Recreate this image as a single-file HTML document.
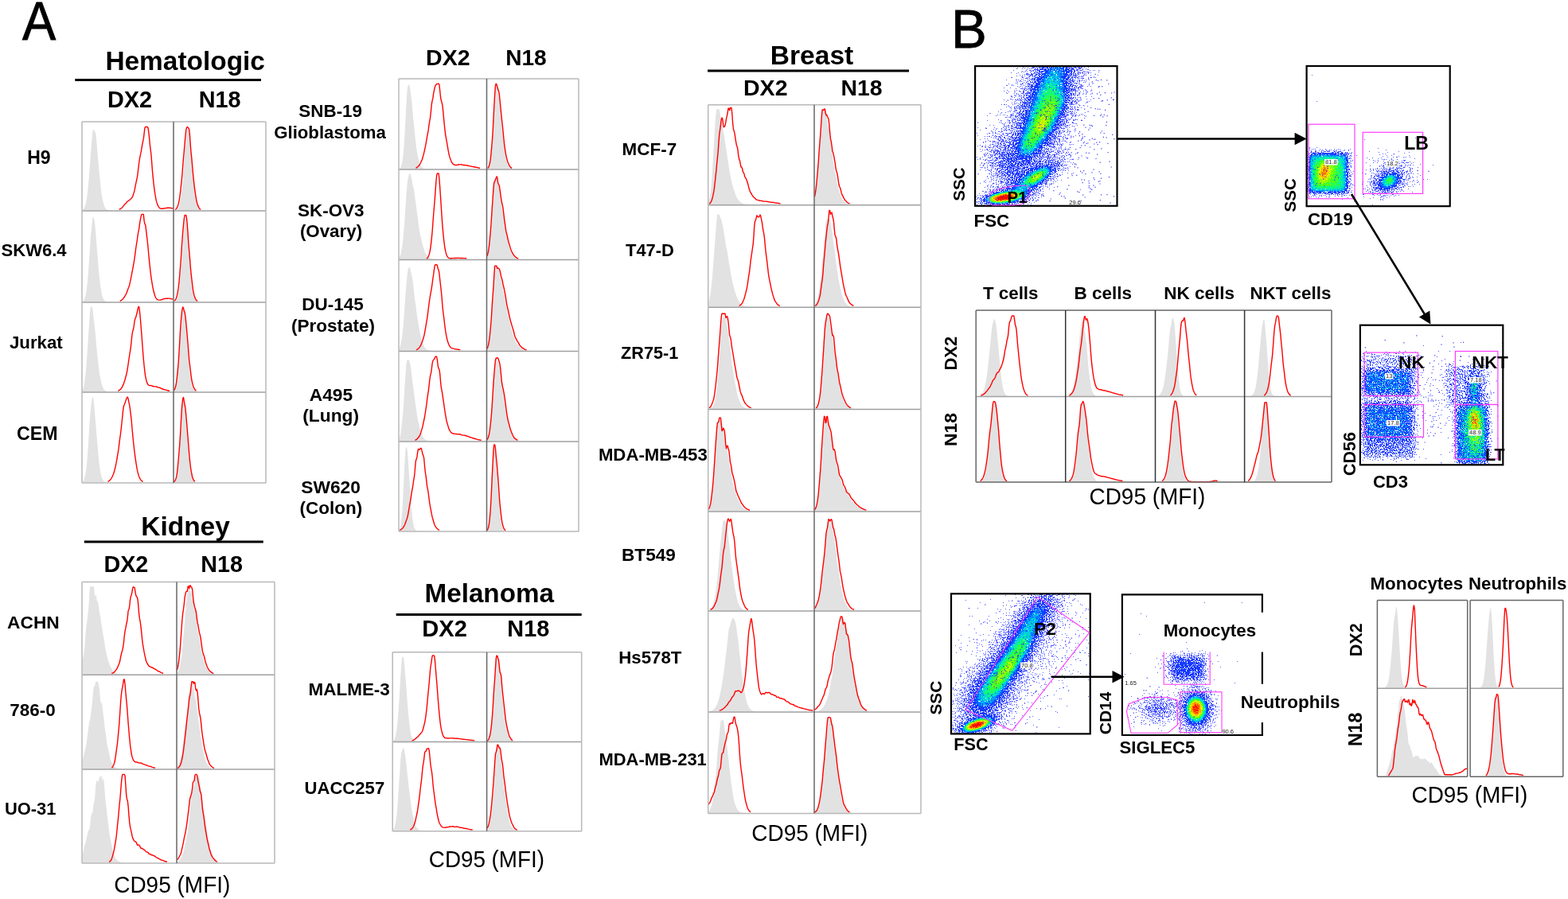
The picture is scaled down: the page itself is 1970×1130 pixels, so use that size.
<!DOCTYPE html>
<html><head><meta charset="utf-8"><style>
html,body{margin:0;padding:0;background:#fff;}
svg{display:block;font-family:"Liberation Sans",Arial,sans-serif;}
</style></head><body>
<svg width="1970" height="1130" viewBox="0 0 1970 1130">
<defs><radialGradient id="gg"><stop offset="0.00" stop-color="#fff" stop-opacity="1.000"/><stop offset="0.10" stop-color="#fff" stop-opacity="0.956"/><stop offset="0.20" stop-color="#fff" stop-opacity="0.835"/><stop offset="0.30" stop-color="#fff" stop-opacity="0.667"/><stop offset="0.40" stop-color="#fff" stop-opacity="0.487"/><stop offset="0.50" stop-color="#fff" stop-opacity="0.325"/><stop offset="0.60" stop-color="#fff" stop-opacity="0.198"/><stop offset="0.70" stop-color="#fff" stop-opacity="0.110"/><stop offset="0.80" stop-color="#fff" stop-opacity="0.056"/><stop offset="0.90" stop-color="#fff" stop-opacity="0.026"/><stop offset="1.00" stop-color="#fff" stop-opacity="0.011"/></radialGradient><filter id="cm1" x="1226.2" y="84.2" width="176.20000000000005" height="173.5" filterUnits="userSpaceOnUse" color-interpolation-filters="sRGB">
<feTurbulence type="fractalNoise" baseFrequency="0.7" numOctaves="2" seed="2" result="n"/>
<feColorMatrix in="n" type="matrix" values="1 0 0 0 0 1 0 0 0 0 1 0 0 0 0 0 0 0 0 1" result="n1"/>
<feComponentTransfer in="n1" result="v"><feFuncR type="table" tableValues="1.000 1.000 1.000 1.000 1.000 1.000 1.000 1.000 1.000 1.000 1.000 1.000 1.000 1.000 1.000 1.000 0.999 0.999 0.999 0.998 0.997 0.996 0.994 0.992 0.989 0.986 0.981 0.977 0.970 0.964 0.953 0.941 0.933 0.918 0.908 0.890 0.878 0.857 0.842 0.818 0.792 0.774 0.745 0.725 0.691 0.669 0.633 0.608 0.570 0.543 0.511 0.454 0.428 0.389 0.365 0.329 0.305 0.273 0.254 0.224 0.198 0.181 0.158 0.144 0.124 0.112 0.095 0.084 0.070 0.061 0.049 0.039 0.033 0.025 0.021 0.015 0.012 0.009 0.007 0.005 0.003 0.002 0.002 0.001 0.001 0.001 0.000 0.000 0.000 0.000 0.000 0.000 0.000 0.000 0.000 0.000 0.000 0.000 0.000 0.000 0.000"/><feFuncG type="table" tableValues="1.000 1.000 1.000 1.000 1.000 1.000 1.000 1.000 1.000 1.000 1.000 1.000 1.000 1.000 1.000 1.000 0.999 0.999 0.999 0.998 0.997 0.996 0.994 0.992 0.989 0.986 0.981 0.977 0.970 0.964 0.953 0.941 0.933 0.918 0.908 0.890 0.878 0.857 0.842 0.818 0.792 0.774 0.745 0.725 0.691 0.669 0.633 0.608 0.570 0.543 0.511 0.454 0.428 0.389 0.365 0.329 0.305 0.273 0.254 0.224 0.198 0.181 0.158 0.144 0.124 0.112 0.095 0.084 0.070 0.061 0.049 0.039 0.033 0.025 0.021 0.015 0.012 0.009 0.007 0.005 0.003 0.002 0.002 0.001 0.001 0.001 0.000 0.000 0.000 0.000 0.000 0.000 0.000 0.000 0.000 0.000 0.000 0.000 0.000 0.000 0.000"/><feFuncB type="table" tableValues="1.000 1.000 1.000 1.000 1.000 1.000 1.000 1.000 1.000 1.000 1.000 1.000 1.000 1.000 1.000 1.000 0.999 0.999 0.999 0.998 0.997 0.996 0.994 0.992 0.989 0.986 0.981 0.977 0.970 0.964 0.953 0.941 0.933 0.918 0.908 0.890 0.878 0.857 0.842 0.818 0.792 0.774 0.745 0.725 0.691 0.669 0.633 0.608 0.570 0.543 0.511 0.454 0.428 0.389 0.365 0.329 0.305 0.273 0.254 0.224 0.198 0.181 0.158 0.144 0.124 0.112 0.095 0.084 0.070 0.061 0.049 0.039 0.033 0.025 0.021 0.015 0.012 0.009 0.007 0.005 0.003 0.002 0.002 0.001 0.001 0.001 0.000 0.000 0.000 0.000 0.000 0.000 0.000 0.000 0.000 0.000 0.000 0.000 0.000 0.000 0.000"/></feComponentTransfer>
<feComponentTransfer in="SourceGraphic" result="A"><feFuncR type="table" tableValues="0.000 0.025 0.050 0.077 0.103 0.130 0.156 0.182 0.208 0.234 0.260 0.282 0.304 0.326 0.348 0.370 0.392 0.414 0.436 0.458 0.480 0.502 0.524 0.546 0.568 0.590 0.612 0.634 0.656 0.678 0.700 0.718 0.736 0.754 0.772 0.790 0.808 0.826 0.844 0.862 0.880 0.889 0.898 0.907 0.916 0.925 0.934 0.943 0.952 0.961 0.970 0.973 0.976 0.979 0.982 0.985 0.988 0.991 0.994 0.997 1.000 1.000 1.000 1.000 1.000 1.000 1.000 1.000 1.000 1.000 1.000 1.000 1.000 1.000 1.000 1.000 1.000 1.000 1.000 1.000 1.000 1.000 1.000 1.000 1.000 1.000 1.000 1.000 1.000 1.000 1.000 1.000 1.000 1.000 1.000 1.000 1.000 1.000 1.000 1.000 1.000"/><feFuncG type="table" tableValues="0.000 0.025 0.050 0.077 0.103 0.130 0.156 0.182 0.208 0.234 0.260 0.282 0.304 0.326 0.348 0.370 0.392 0.414 0.436 0.458 0.480 0.502 0.524 0.546 0.568 0.590 0.612 0.634 0.656 0.678 0.700 0.718 0.736 0.754 0.772 0.790 0.808 0.826 0.844 0.862 0.880 0.889 0.898 0.907 0.916 0.925 0.934 0.943 0.952 0.961 0.970 0.973 0.976 0.979 0.982 0.985 0.988 0.991 0.994 0.997 1.000 1.000 1.000 1.000 1.000 1.000 1.000 1.000 1.000 1.000 1.000 1.000 1.000 1.000 1.000 1.000 1.000 1.000 1.000 1.000 1.000 1.000 1.000 1.000 1.000 1.000 1.000 1.000 1.000 1.000 1.000 1.000 1.000 1.000 1.000 1.000 1.000 1.000 1.000 1.000 1.000"/><feFuncB type="table" tableValues="0.000 0.025 0.050 0.077 0.103 0.130 0.156 0.182 0.208 0.234 0.260 0.282 0.304 0.326 0.348 0.370 0.392 0.414 0.436 0.458 0.480 0.502 0.524 0.546 0.568 0.590 0.612 0.634 0.656 0.678 0.700 0.718 0.736 0.754 0.772 0.790 0.808 0.826 0.844 0.862 0.880 0.889 0.898 0.907 0.916 0.925 0.934 0.943 0.952 0.961 0.970 0.973 0.976 0.979 0.982 0.985 0.988 0.991 0.994 0.997 1.000 1.000 1.000 1.000 1.000 1.000 1.000 1.000 1.000 1.000 1.000 1.000 1.000 1.000 1.000 1.000 1.000 1.000 1.000 1.000 1.000 1.000 1.000 1.000 1.000 1.000 1.000 1.000 1.000 1.000 1.000 1.000 1.000 1.000 1.000 1.000 1.000 1.000 1.000 1.000 1.000"/></feComponentTransfer>
<feComposite in="A" in2="v" operator="arithmetic" k1="0" k2="0.5" k3="0.5" k4="0" result="B"/>
<feComponentTransfer in="B" result="S"><feFuncR type="discrete" tableValues="0 1"/><feFuncG type="discrete" tableValues="0 1"/><feFuncB type="discrete" tableValues="0 1"/></feComponentTransfer>
<feComposite in="SourceGraphic" in2="v" operator="arithmetic" k1="0" k2="0.85" k3="0.1" k4="0.05" result="dc"/>
<feComposite in="S" in2="dc" operator="arithmetic" k1="1" k2="0" k3="0" k4="0" result="dd"/>
<feComponentTransfer in="dd"><feFuncR type="table" tableValues="1.000 0.710 0.420 0.415 0.410 0.404 0.399 0.394 0.389 0.383 0.378 0.373 0.368 0.363 0.357 0.352 0.347 0.342 0.337 0.331 0.326 0.321 0.316 0.310 0.305 0.300 0.288 0.275 0.263 0.250 0.238 0.225 0.213 0.200 0.188 0.175 0.163 0.150 0.138 0.125 0.113 0.100 0.088 0.075 0.063 0.050 0.044 0.038 0.031 0.025 0.019 0.013 0.006 0.000 0.000 0.000 0.000 0.000 0.000 0.000 0.000 0.043 0.086 0.129 0.171 0.214 0.257 0.300 0.387 0.475 0.562 0.650 0.737 0.825 0.912 1.000 1.000 1.000 1.000 1.000 1.000 1.000 1.000 1.000 1.000 1.000 1.000 1.000 1.000 1.000 1.000 0.990 0.980 0.970 0.960 0.950 0.940 0.930 0.920 0.910 0.900"/><feFuncG type="table" tableValues="1.000 0.735 0.470 0.465 0.460 0.454 0.449 0.444 0.439 0.433 0.428 0.423 0.418 0.413 0.407 0.402 0.397 0.392 0.387 0.381 0.376 0.371 0.366 0.360 0.355 0.350 0.343 0.335 0.328 0.320 0.313 0.305 0.298 0.290 0.283 0.275 0.268 0.260 0.253 0.245 0.238 0.230 0.223 0.215 0.208 0.200 0.269 0.337 0.406 0.475 0.544 0.612 0.681 0.750 0.786 0.821 0.857 0.893 0.929 0.964 1.000 1.000 1.000 1.000 1.000 1.000 1.000 1.000 1.000 1.000 1.000 1.000 1.000 1.000 1.000 1.000 0.938 0.875 0.813 0.750 0.688 0.625 0.563 0.500 0.429 0.357 0.286 0.214 0.143 0.071 0.000 0.000 0.000 0.000 0.000 0.000 0.000 0.000 0.000 0.000 0.000"/><feFuncB type="table" tableValues="1.000 1.000 1.000 1.000 1.000 1.000 1.000 1.000 1.000 1.000 1.000 1.000 1.000 1.000 1.000 1.000 1.000 1.000 1.000 1.000 1.000 1.000 1.000 1.000 1.000 1.000 1.000 1.000 1.000 1.000 1.000 1.000 1.000 1.000 1.000 1.000 1.000 1.000 1.000 1.000 1.000 1.000 1.000 1.000 1.000 1.000 1.000 1.000 1.000 1.000 1.000 1.000 1.000 1.000 0.943 0.886 0.829 0.771 0.714 0.657 0.600 0.514 0.429 0.343 0.257 0.171 0.086 0.000 0.000 0.000 0.000 0.000 0.000 0.000 0.000 0.000 0.000 0.000 0.000 0.000 0.000 0.000 0.000 0.000 0.000 0.000 0.000 0.000 0.000 0.000 0.000 0.000 0.000 0.000 0.000 0.000 0.000 0.000 0.000 0.000 0.000"/><feFuncA type="linear" slope="0" intercept="1"/></feComponentTransfer>
</filter><filter id="cm2" x="1642.7" y="84.1" width="177.89999999999986" height="174.00000000000003" filterUnits="userSpaceOnUse" color-interpolation-filters="sRGB">
<feTurbulence type="fractalNoise" baseFrequency="0.7" numOctaves="2" seed="4" result="n"/>
<feColorMatrix in="n" type="matrix" values="1 0 0 0 0 1 0 0 0 0 1 0 0 0 0 0 0 0 0 1" result="n1"/>
<feComponentTransfer in="n1" result="v"><feFuncR type="table" tableValues="1.000 1.000 1.000 1.000 1.000 1.000 1.000 1.000 1.000 1.000 1.000 1.000 1.000 1.000 1.000 1.000 0.999 0.999 0.999 0.998 0.997 0.996 0.994 0.992 0.989 0.986 0.981 0.977 0.970 0.964 0.953 0.941 0.933 0.918 0.908 0.890 0.878 0.857 0.842 0.818 0.792 0.774 0.745 0.725 0.691 0.669 0.633 0.608 0.570 0.543 0.511 0.454 0.428 0.389 0.365 0.329 0.305 0.273 0.254 0.224 0.198 0.181 0.158 0.144 0.124 0.112 0.095 0.084 0.070 0.061 0.049 0.039 0.033 0.025 0.021 0.015 0.012 0.009 0.007 0.005 0.003 0.002 0.002 0.001 0.001 0.001 0.000 0.000 0.000 0.000 0.000 0.000 0.000 0.000 0.000 0.000 0.000 0.000 0.000 0.000 0.000"/><feFuncG type="table" tableValues="1.000 1.000 1.000 1.000 1.000 1.000 1.000 1.000 1.000 1.000 1.000 1.000 1.000 1.000 1.000 1.000 0.999 0.999 0.999 0.998 0.997 0.996 0.994 0.992 0.989 0.986 0.981 0.977 0.970 0.964 0.953 0.941 0.933 0.918 0.908 0.890 0.878 0.857 0.842 0.818 0.792 0.774 0.745 0.725 0.691 0.669 0.633 0.608 0.570 0.543 0.511 0.454 0.428 0.389 0.365 0.329 0.305 0.273 0.254 0.224 0.198 0.181 0.158 0.144 0.124 0.112 0.095 0.084 0.070 0.061 0.049 0.039 0.033 0.025 0.021 0.015 0.012 0.009 0.007 0.005 0.003 0.002 0.002 0.001 0.001 0.001 0.000 0.000 0.000 0.000 0.000 0.000 0.000 0.000 0.000 0.000 0.000 0.000 0.000 0.000 0.000"/><feFuncB type="table" tableValues="1.000 1.000 1.000 1.000 1.000 1.000 1.000 1.000 1.000 1.000 1.000 1.000 1.000 1.000 1.000 1.000 0.999 0.999 0.999 0.998 0.997 0.996 0.994 0.992 0.989 0.986 0.981 0.977 0.970 0.964 0.953 0.941 0.933 0.918 0.908 0.890 0.878 0.857 0.842 0.818 0.792 0.774 0.745 0.725 0.691 0.669 0.633 0.608 0.570 0.543 0.511 0.454 0.428 0.389 0.365 0.329 0.305 0.273 0.254 0.224 0.198 0.181 0.158 0.144 0.124 0.112 0.095 0.084 0.070 0.061 0.049 0.039 0.033 0.025 0.021 0.015 0.012 0.009 0.007 0.005 0.003 0.002 0.002 0.001 0.001 0.001 0.000 0.000 0.000 0.000 0.000 0.000 0.000 0.000 0.000 0.000 0.000 0.000 0.000 0.000 0.000"/></feComponentTransfer>
<feComponentTransfer in="SourceGraphic" result="A"><feFuncR type="table" tableValues="0.000 0.025 0.050 0.077 0.103 0.130 0.156 0.182 0.208 0.234 0.260 0.282 0.304 0.326 0.348 0.370 0.392 0.414 0.436 0.458 0.480 0.502 0.524 0.546 0.568 0.590 0.612 0.634 0.656 0.678 0.700 0.718 0.736 0.754 0.772 0.790 0.808 0.826 0.844 0.862 0.880 0.889 0.898 0.907 0.916 0.925 0.934 0.943 0.952 0.961 0.970 0.973 0.976 0.979 0.982 0.985 0.988 0.991 0.994 0.997 1.000 1.000 1.000 1.000 1.000 1.000 1.000 1.000 1.000 1.000 1.000 1.000 1.000 1.000 1.000 1.000 1.000 1.000 1.000 1.000 1.000 1.000 1.000 1.000 1.000 1.000 1.000 1.000 1.000 1.000 1.000 1.000 1.000 1.000 1.000 1.000 1.000 1.000 1.000 1.000 1.000"/><feFuncG type="table" tableValues="0.000 0.025 0.050 0.077 0.103 0.130 0.156 0.182 0.208 0.234 0.260 0.282 0.304 0.326 0.348 0.370 0.392 0.414 0.436 0.458 0.480 0.502 0.524 0.546 0.568 0.590 0.612 0.634 0.656 0.678 0.700 0.718 0.736 0.754 0.772 0.790 0.808 0.826 0.844 0.862 0.880 0.889 0.898 0.907 0.916 0.925 0.934 0.943 0.952 0.961 0.970 0.973 0.976 0.979 0.982 0.985 0.988 0.991 0.994 0.997 1.000 1.000 1.000 1.000 1.000 1.000 1.000 1.000 1.000 1.000 1.000 1.000 1.000 1.000 1.000 1.000 1.000 1.000 1.000 1.000 1.000 1.000 1.000 1.000 1.000 1.000 1.000 1.000 1.000 1.000 1.000 1.000 1.000 1.000 1.000 1.000 1.000 1.000 1.000 1.000 1.000"/><feFuncB type="table" tableValues="0.000 0.025 0.050 0.077 0.103 0.130 0.156 0.182 0.208 0.234 0.260 0.282 0.304 0.326 0.348 0.370 0.392 0.414 0.436 0.458 0.480 0.502 0.524 0.546 0.568 0.590 0.612 0.634 0.656 0.678 0.700 0.718 0.736 0.754 0.772 0.790 0.808 0.826 0.844 0.862 0.880 0.889 0.898 0.907 0.916 0.925 0.934 0.943 0.952 0.961 0.970 0.973 0.976 0.979 0.982 0.985 0.988 0.991 0.994 0.997 1.000 1.000 1.000 1.000 1.000 1.000 1.000 1.000 1.000 1.000 1.000 1.000 1.000 1.000 1.000 1.000 1.000 1.000 1.000 1.000 1.000 1.000 1.000 1.000 1.000 1.000 1.000 1.000 1.000 1.000 1.000 1.000 1.000 1.000 1.000 1.000 1.000 1.000 1.000 1.000 1.000"/></feComponentTransfer>
<feComposite in="A" in2="v" operator="arithmetic" k1="0" k2="0.5" k3="0.5" k4="0" result="B"/>
<feComponentTransfer in="B" result="S"><feFuncR type="discrete" tableValues="0 1"/><feFuncG type="discrete" tableValues="0 1"/><feFuncB type="discrete" tableValues="0 1"/></feComponentTransfer>
<feComposite in="SourceGraphic" in2="v" operator="arithmetic" k1="0" k2="0.85" k3="0.1" k4="0.05" result="dc"/>
<feComposite in="S" in2="dc" operator="arithmetic" k1="1" k2="0" k3="0" k4="0" result="dd"/>
<feComponentTransfer in="dd"><feFuncR type="table" tableValues="1.000 0.710 0.420 0.415 0.410 0.404 0.399 0.394 0.389 0.383 0.378 0.373 0.368 0.363 0.357 0.352 0.347 0.342 0.337 0.331 0.326 0.321 0.316 0.310 0.305 0.300 0.288 0.275 0.263 0.250 0.238 0.225 0.213 0.200 0.188 0.175 0.163 0.150 0.138 0.125 0.113 0.100 0.088 0.075 0.063 0.050 0.044 0.038 0.031 0.025 0.019 0.013 0.006 0.000 0.000 0.000 0.000 0.000 0.000 0.000 0.000 0.043 0.086 0.129 0.171 0.214 0.257 0.300 0.387 0.475 0.562 0.650 0.737 0.825 0.912 1.000 1.000 1.000 1.000 1.000 1.000 1.000 1.000 1.000 1.000 1.000 1.000 1.000 1.000 1.000 1.000 0.990 0.980 0.970 0.960 0.950 0.940 0.930 0.920 0.910 0.900"/><feFuncG type="table" tableValues="1.000 0.735 0.470 0.465 0.460 0.454 0.449 0.444 0.439 0.433 0.428 0.423 0.418 0.413 0.407 0.402 0.397 0.392 0.387 0.381 0.376 0.371 0.366 0.360 0.355 0.350 0.343 0.335 0.328 0.320 0.313 0.305 0.298 0.290 0.283 0.275 0.268 0.260 0.253 0.245 0.238 0.230 0.223 0.215 0.208 0.200 0.269 0.337 0.406 0.475 0.544 0.612 0.681 0.750 0.786 0.821 0.857 0.893 0.929 0.964 1.000 1.000 1.000 1.000 1.000 1.000 1.000 1.000 1.000 1.000 1.000 1.000 1.000 1.000 1.000 1.000 0.938 0.875 0.813 0.750 0.688 0.625 0.563 0.500 0.429 0.357 0.286 0.214 0.143 0.071 0.000 0.000 0.000 0.000 0.000 0.000 0.000 0.000 0.000 0.000 0.000"/><feFuncB type="table" tableValues="1.000 1.000 1.000 1.000 1.000 1.000 1.000 1.000 1.000 1.000 1.000 1.000 1.000 1.000 1.000 1.000 1.000 1.000 1.000 1.000 1.000 1.000 1.000 1.000 1.000 1.000 1.000 1.000 1.000 1.000 1.000 1.000 1.000 1.000 1.000 1.000 1.000 1.000 1.000 1.000 1.000 1.000 1.000 1.000 1.000 1.000 1.000 1.000 1.000 1.000 1.000 1.000 1.000 1.000 0.943 0.886 0.829 0.771 0.714 0.657 0.600 0.514 0.429 0.343 0.257 0.171 0.086 0.000 0.000 0.000 0.000 0.000 0.000 0.000 0.000 0.000 0.000 0.000 0.000 0.000 0.000 0.000 0.000 0.000 0.000 0.000 0.000 0.000 0.000 0.000 0.000 0.000 0.000 0.000 0.000 0.000 0.000 0.000 0.000 0.000 0.000"/><feFuncA type="linear" slope="0" intercept="1"/></feComponentTransfer>
</filter><filter id="bl30" x="-50%" y="-50%" width="200%" height="200%"><feGaussianBlur stdDeviation="3"/></filter><filter id="bl40" x="-50%" y="-50%" width="200%" height="200%"><feGaussianBlur stdDeviation="4"/></filter><filter id="cm3" x="1710" y="409.8" width="177.20000000000005" height="173.40000000000003" filterUnits="userSpaceOnUse" color-interpolation-filters="sRGB">
<feTurbulence type="fractalNoise" baseFrequency="0.7" numOctaves="2" seed="6" result="n"/>
<feColorMatrix in="n" type="matrix" values="1 0 0 0 0 1 0 0 0 0 1 0 0 0 0 0 0 0 0 1" result="n1"/>
<feComponentTransfer in="n1" result="v"><feFuncR type="table" tableValues="1.000 1.000 1.000 1.000 1.000 1.000 1.000 1.000 1.000 1.000 1.000 1.000 1.000 1.000 1.000 1.000 0.999 0.999 0.999 0.998 0.997 0.996 0.994 0.992 0.989 0.986 0.981 0.977 0.970 0.964 0.953 0.941 0.933 0.918 0.908 0.890 0.878 0.857 0.842 0.818 0.792 0.774 0.745 0.725 0.691 0.669 0.633 0.608 0.570 0.543 0.511 0.454 0.428 0.389 0.365 0.329 0.305 0.273 0.254 0.224 0.198 0.181 0.158 0.144 0.124 0.112 0.095 0.084 0.070 0.061 0.049 0.039 0.033 0.025 0.021 0.015 0.012 0.009 0.007 0.005 0.003 0.002 0.002 0.001 0.001 0.001 0.000 0.000 0.000 0.000 0.000 0.000 0.000 0.000 0.000 0.000 0.000 0.000 0.000 0.000 0.000"/><feFuncG type="table" tableValues="1.000 1.000 1.000 1.000 1.000 1.000 1.000 1.000 1.000 1.000 1.000 1.000 1.000 1.000 1.000 1.000 0.999 0.999 0.999 0.998 0.997 0.996 0.994 0.992 0.989 0.986 0.981 0.977 0.970 0.964 0.953 0.941 0.933 0.918 0.908 0.890 0.878 0.857 0.842 0.818 0.792 0.774 0.745 0.725 0.691 0.669 0.633 0.608 0.570 0.543 0.511 0.454 0.428 0.389 0.365 0.329 0.305 0.273 0.254 0.224 0.198 0.181 0.158 0.144 0.124 0.112 0.095 0.084 0.070 0.061 0.049 0.039 0.033 0.025 0.021 0.015 0.012 0.009 0.007 0.005 0.003 0.002 0.002 0.001 0.001 0.001 0.000 0.000 0.000 0.000 0.000 0.000 0.000 0.000 0.000 0.000 0.000 0.000 0.000 0.000 0.000"/><feFuncB type="table" tableValues="1.000 1.000 1.000 1.000 1.000 1.000 1.000 1.000 1.000 1.000 1.000 1.000 1.000 1.000 1.000 1.000 0.999 0.999 0.999 0.998 0.997 0.996 0.994 0.992 0.989 0.986 0.981 0.977 0.970 0.964 0.953 0.941 0.933 0.918 0.908 0.890 0.878 0.857 0.842 0.818 0.792 0.774 0.745 0.725 0.691 0.669 0.633 0.608 0.570 0.543 0.511 0.454 0.428 0.389 0.365 0.329 0.305 0.273 0.254 0.224 0.198 0.181 0.158 0.144 0.124 0.112 0.095 0.084 0.070 0.061 0.049 0.039 0.033 0.025 0.021 0.015 0.012 0.009 0.007 0.005 0.003 0.002 0.002 0.001 0.001 0.001 0.000 0.000 0.000 0.000 0.000 0.000 0.000 0.000 0.000 0.000 0.000 0.000 0.000 0.000 0.000"/></feComponentTransfer>
<feComponentTransfer in="SourceGraphic" result="A"><feFuncR type="table" tableValues="0.000 0.025 0.050 0.077 0.103 0.130 0.156 0.182 0.208 0.234 0.260 0.282 0.304 0.326 0.348 0.370 0.392 0.414 0.436 0.458 0.480 0.502 0.524 0.546 0.568 0.590 0.612 0.634 0.656 0.678 0.700 0.718 0.736 0.754 0.772 0.790 0.808 0.826 0.844 0.862 0.880 0.889 0.898 0.907 0.916 0.925 0.934 0.943 0.952 0.961 0.970 0.973 0.976 0.979 0.982 0.985 0.988 0.991 0.994 0.997 1.000 1.000 1.000 1.000 1.000 1.000 1.000 1.000 1.000 1.000 1.000 1.000 1.000 1.000 1.000 1.000 1.000 1.000 1.000 1.000 1.000 1.000 1.000 1.000 1.000 1.000 1.000 1.000 1.000 1.000 1.000 1.000 1.000 1.000 1.000 1.000 1.000 1.000 1.000 1.000 1.000"/><feFuncG type="table" tableValues="0.000 0.025 0.050 0.077 0.103 0.130 0.156 0.182 0.208 0.234 0.260 0.282 0.304 0.326 0.348 0.370 0.392 0.414 0.436 0.458 0.480 0.502 0.524 0.546 0.568 0.590 0.612 0.634 0.656 0.678 0.700 0.718 0.736 0.754 0.772 0.790 0.808 0.826 0.844 0.862 0.880 0.889 0.898 0.907 0.916 0.925 0.934 0.943 0.952 0.961 0.970 0.973 0.976 0.979 0.982 0.985 0.988 0.991 0.994 0.997 1.000 1.000 1.000 1.000 1.000 1.000 1.000 1.000 1.000 1.000 1.000 1.000 1.000 1.000 1.000 1.000 1.000 1.000 1.000 1.000 1.000 1.000 1.000 1.000 1.000 1.000 1.000 1.000 1.000 1.000 1.000 1.000 1.000 1.000 1.000 1.000 1.000 1.000 1.000 1.000 1.000"/><feFuncB type="table" tableValues="0.000 0.025 0.050 0.077 0.103 0.130 0.156 0.182 0.208 0.234 0.260 0.282 0.304 0.326 0.348 0.370 0.392 0.414 0.436 0.458 0.480 0.502 0.524 0.546 0.568 0.590 0.612 0.634 0.656 0.678 0.700 0.718 0.736 0.754 0.772 0.790 0.808 0.826 0.844 0.862 0.880 0.889 0.898 0.907 0.916 0.925 0.934 0.943 0.952 0.961 0.970 0.973 0.976 0.979 0.982 0.985 0.988 0.991 0.994 0.997 1.000 1.000 1.000 1.000 1.000 1.000 1.000 1.000 1.000 1.000 1.000 1.000 1.000 1.000 1.000 1.000 1.000 1.000 1.000 1.000 1.000 1.000 1.000 1.000 1.000 1.000 1.000 1.000 1.000 1.000 1.000 1.000 1.000 1.000 1.000 1.000 1.000 1.000 1.000 1.000 1.000"/></feComponentTransfer>
<feComposite in="A" in2="v" operator="arithmetic" k1="0" k2="0.5" k3="0.5" k4="0" result="B"/>
<feComponentTransfer in="B" result="S"><feFuncR type="discrete" tableValues="0 1"/><feFuncG type="discrete" tableValues="0 1"/><feFuncB type="discrete" tableValues="0 1"/></feComponentTransfer>
<feComposite in="SourceGraphic" in2="v" operator="arithmetic" k1="0" k2="0.73" k3="0.22" k4="0.05" result="dc"/>
<feComposite in="S" in2="dc" operator="arithmetic" k1="1" k2="0" k3="0" k4="0" result="dd"/>
<feComponentTransfer in="dd"><feFuncR type="table" tableValues="1.000 0.710 0.420 0.415 0.410 0.404 0.399 0.394 0.389 0.383 0.378 0.373 0.368 0.363 0.357 0.352 0.347 0.342 0.337 0.331 0.326 0.321 0.316 0.310 0.305 0.300 0.288 0.275 0.263 0.250 0.238 0.225 0.213 0.200 0.188 0.175 0.163 0.150 0.138 0.125 0.113 0.100 0.088 0.075 0.063 0.050 0.044 0.038 0.031 0.025 0.019 0.013 0.006 0.000 0.000 0.000 0.000 0.000 0.000 0.000 0.000 0.043 0.086 0.129 0.171 0.214 0.257 0.300 0.387 0.475 0.562 0.650 0.737 0.825 0.912 1.000 1.000 1.000 1.000 1.000 1.000 1.000 1.000 1.000 1.000 1.000 1.000 1.000 1.000 1.000 1.000 0.990 0.980 0.970 0.960 0.950 0.940 0.930 0.920 0.910 0.900"/><feFuncG type="table" tableValues="1.000 0.735 0.470 0.465 0.460 0.454 0.449 0.444 0.439 0.433 0.428 0.423 0.418 0.413 0.407 0.402 0.397 0.392 0.387 0.381 0.376 0.371 0.366 0.360 0.355 0.350 0.343 0.335 0.328 0.320 0.313 0.305 0.298 0.290 0.283 0.275 0.268 0.260 0.253 0.245 0.238 0.230 0.223 0.215 0.208 0.200 0.269 0.337 0.406 0.475 0.544 0.612 0.681 0.750 0.786 0.821 0.857 0.893 0.929 0.964 1.000 1.000 1.000 1.000 1.000 1.000 1.000 1.000 1.000 1.000 1.000 1.000 1.000 1.000 1.000 1.000 0.938 0.875 0.813 0.750 0.688 0.625 0.563 0.500 0.429 0.357 0.286 0.214 0.143 0.071 0.000 0.000 0.000 0.000 0.000 0.000 0.000 0.000 0.000 0.000 0.000"/><feFuncB type="table" tableValues="1.000 1.000 1.000 1.000 1.000 1.000 1.000 1.000 1.000 1.000 1.000 1.000 1.000 1.000 1.000 1.000 1.000 1.000 1.000 1.000 1.000 1.000 1.000 1.000 1.000 1.000 1.000 1.000 1.000 1.000 1.000 1.000 1.000 1.000 1.000 1.000 1.000 1.000 1.000 1.000 1.000 1.000 1.000 1.000 1.000 1.000 1.000 1.000 1.000 1.000 1.000 1.000 1.000 1.000 0.943 0.886 0.829 0.771 0.714 0.657 0.600 0.514 0.429 0.343 0.257 0.171 0.086 0.000 0.000 0.000 0.000 0.000 0.000 0.000 0.000 0.000 0.000 0.000 0.000 0.000 0.000 0.000 0.000 0.000 0.000 0.000 0.000 0.000 0.000 0.000 0.000 0.000 0.000 0.000 0.000 0.000 0.000 0.000 0.000 0.000 0.000"/><feFuncA type="linear" slope="0" intercept="1"/></feComponentTransfer>
</filter><filter id="cm4" x="1196.1" y="747.4" width="172.5" height="173.89999999999998" filterUnits="userSpaceOnUse" color-interpolation-filters="sRGB">
<feTurbulence type="fractalNoise" baseFrequency="0.7" numOctaves="2" seed="8" result="n"/>
<feColorMatrix in="n" type="matrix" values="1 0 0 0 0 1 0 0 0 0 1 0 0 0 0 0 0 0 0 1" result="n1"/>
<feComponentTransfer in="n1" result="v"><feFuncR type="table" tableValues="1.000 1.000 1.000 1.000 1.000 1.000 1.000 1.000 1.000 1.000 1.000 1.000 1.000 1.000 1.000 1.000 0.999 0.999 0.999 0.998 0.997 0.996 0.994 0.992 0.989 0.986 0.981 0.977 0.970 0.964 0.953 0.941 0.933 0.918 0.908 0.890 0.878 0.857 0.842 0.818 0.792 0.774 0.745 0.725 0.691 0.669 0.633 0.608 0.570 0.543 0.511 0.454 0.428 0.389 0.365 0.329 0.305 0.273 0.254 0.224 0.198 0.181 0.158 0.144 0.124 0.112 0.095 0.084 0.070 0.061 0.049 0.039 0.033 0.025 0.021 0.015 0.012 0.009 0.007 0.005 0.003 0.002 0.002 0.001 0.001 0.001 0.000 0.000 0.000 0.000 0.000 0.000 0.000 0.000 0.000 0.000 0.000 0.000 0.000 0.000 0.000"/><feFuncG type="table" tableValues="1.000 1.000 1.000 1.000 1.000 1.000 1.000 1.000 1.000 1.000 1.000 1.000 1.000 1.000 1.000 1.000 0.999 0.999 0.999 0.998 0.997 0.996 0.994 0.992 0.989 0.986 0.981 0.977 0.970 0.964 0.953 0.941 0.933 0.918 0.908 0.890 0.878 0.857 0.842 0.818 0.792 0.774 0.745 0.725 0.691 0.669 0.633 0.608 0.570 0.543 0.511 0.454 0.428 0.389 0.365 0.329 0.305 0.273 0.254 0.224 0.198 0.181 0.158 0.144 0.124 0.112 0.095 0.084 0.070 0.061 0.049 0.039 0.033 0.025 0.021 0.015 0.012 0.009 0.007 0.005 0.003 0.002 0.002 0.001 0.001 0.001 0.000 0.000 0.000 0.000 0.000 0.000 0.000 0.000 0.000 0.000 0.000 0.000 0.000 0.000 0.000"/><feFuncB type="table" tableValues="1.000 1.000 1.000 1.000 1.000 1.000 1.000 1.000 1.000 1.000 1.000 1.000 1.000 1.000 1.000 1.000 0.999 0.999 0.999 0.998 0.997 0.996 0.994 0.992 0.989 0.986 0.981 0.977 0.970 0.964 0.953 0.941 0.933 0.918 0.908 0.890 0.878 0.857 0.842 0.818 0.792 0.774 0.745 0.725 0.691 0.669 0.633 0.608 0.570 0.543 0.511 0.454 0.428 0.389 0.365 0.329 0.305 0.273 0.254 0.224 0.198 0.181 0.158 0.144 0.124 0.112 0.095 0.084 0.070 0.061 0.049 0.039 0.033 0.025 0.021 0.015 0.012 0.009 0.007 0.005 0.003 0.002 0.002 0.001 0.001 0.001 0.000 0.000 0.000 0.000 0.000 0.000 0.000 0.000 0.000 0.000 0.000 0.000 0.000 0.000 0.000"/></feComponentTransfer>
<feComponentTransfer in="SourceGraphic" result="A"><feFuncR type="table" tableValues="0.000 0.025 0.050 0.077 0.103 0.130 0.156 0.182 0.208 0.234 0.260 0.282 0.304 0.326 0.348 0.370 0.392 0.414 0.436 0.458 0.480 0.502 0.524 0.546 0.568 0.590 0.612 0.634 0.656 0.678 0.700 0.718 0.736 0.754 0.772 0.790 0.808 0.826 0.844 0.862 0.880 0.889 0.898 0.907 0.916 0.925 0.934 0.943 0.952 0.961 0.970 0.973 0.976 0.979 0.982 0.985 0.988 0.991 0.994 0.997 1.000 1.000 1.000 1.000 1.000 1.000 1.000 1.000 1.000 1.000 1.000 1.000 1.000 1.000 1.000 1.000 1.000 1.000 1.000 1.000 1.000 1.000 1.000 1.000 1.000 1.000 1.000 1.000 1.000 1.000 1.000 1.000 1.000 1.000 1.000 1.000 1.000 1.000 1.000 1.000 1.000"/><feFuncG type="table" tableValues="0.000 0.025 0.050 0.077 0.103 0.130 0.156 0.182 0.208 0.234 0.260 0.282 0.304 0.326 0.348 0.370 0.392 0.414 0.436 0.458 0.480 0.502 0.524 0.546 0.568 0.590 0.612 0.634 0.656 0.678 0.700 0.718 0.736 0.754 0.772 0.790 0.808 0.826 0.844 0.862 0.880 0.889 0.898 0.907 0.916 0.925 0.934 0.943 0.952 0.961 0.970 0.973 0.976 0.979 0.982 0.985 0.988 0.991 0.994 0.997 1.000 1.000 1.000 1.000 1.000 1.000 1.000 1.000 1.000 1.000 1.000 1.000 1.000 1.000 1.000 1.000 1.000 1.000 1.000 1.000 1.000 1.000 1.000 1.000 1.000 1.000 1.000 1.000 1.000 1.000 1.000 1.000 1.000 1.000 1.000 1.000 1.000 1.000 1.000 1.000 1.000"/><feFuncB type="table" tableValues="0.000 0.025 0.050 0.077 0.103 0.130 0.156 0.182 0.208 0.234 0.260 0.282 0.304 0.326 0.348 0.370 0.392 0.414 0.436 0.458 0.480 0.502 0.524 0.546 0.568 0.590 0.612 0.634 0.656 0.678 0.700 0.718 0.736 0.754 0.772 0.790 0.808 0.826 0.844 0.862 0.880 0.889 0.898 0.907 0.916 0.925 0.934 0.943 0.952 0.961 0.970 0.973 0.976 0.979 0.982 0.985 0.988 0.991 0.994 0.997 1.000 1.000 1.000 1.000 1.000 1.000 1.000 1.000 1.000 1.000 1.000 1.000 1.000 1.000 1.000 1.000 1.000 1.000 1.000 1.000 1.000 1.000 1.000 1.000 1.000 1.000 1.000 1.000 1.000 1.000 1.000 1.000 1.000 1.000 1.000 1.000 1.000 1.000 1.000 1.000 1.000"/></feComponentTransfer>
<feComposite in="A" in2="v" operator="arithmetic" k1="0" k2="0.5" k3="0.5" k4="0" result="B"/>
<feComponentTransfer in="B" result="S"><feFuncR type="discrete" tableValues="0 1"/><feFuncG type="discrete" tableValues="0 1"/><feFuncB type="discrete" tableValues="0 1"/></feComponentTransfer>
<feComposite in="SourceGraphic" in2="v" operator="arithmetic" k1="0" k2="0.85" k3="0.1" k4="0.05" result="dc"/>
<feComposite in="S" in2="dc" operator="arithmetic" k1="1" k2="0" k3="0" k4="0" result="dd"/>
<feComponentTransfer in="dd"><feFuncR type="table" tableValues="1.000 0.710 0.420 0.415 0.410 0.404 0.399 0.394 0.389 0.383 0.378 0.373 0.368 0.363 0.357 0.352 0.347 0.342 0.337 0.331 0.326 0.321 0.316 0.310 0.305 0.300 0.288 0.275 0.263 0.250 0.238 0.225 0.213 0.200 0.188 0.175 0.163 0.150 0.138 0.125 0.113 0.100 0.088 0.075 0.063 0.050 0.044 0.038 0.031 0.025 0.019 0.013 0.006 0.000 0.000 0.000 0.000 0.000 0.000 0.000 0.000 0.043 0.086 0.129 0.171 0.214 0.257 0.300 0.387 0.475 0.562 0.650 0.737 0.825 0.912 1.000 1.000 1.000 1.000 1.000 1.000 1.000 1.000 1.000 1.000 1.000 1.000 1.000 1.000 1.000 1.000 0.990 0.980 0.970 0.960 0.950 0.940 0.930 0.920 0.910 0.900"/><feFuncG type="table" tableValues="1.000 0.735 0.470 0.465 0.460 0.454 0.449 0.444 0.439 0.433 0.428 0.423 0.418 0.413 0.407 0.402 0.397 0.392 0.387 0.381 0.376 0.371 0.366 0.360 0.355 0.350 0.343 0.335 0.328 0.320 0.313 0.305 0.298 0.290 0.283 0.275 0.268 0.260 0.253 0.245 0.238 0.230 0.223 0.215 0.208 0.200 0.269 0.337 0.406 0.475 0.544 0.612 0.681 0.750 0.786 0.821 0.857 0.893 0.929 0.964 1.000 1.000 1.000 1.000 1.000 1.000 1.000 1.000 1.000 1.000 1.000 1.000 1.000 1.000 1.000 1.000 0.938 0.875 0.813 0.750 0.688 0.625 0.563 0.500 0.429 0.357 0.286 0.214 0.143 0.071 0.000 0.000 0.000 0.000 0.000 0.000 0.000 0.000 0.000 0.000 0.000"/><feFuncB type="table" tableValues="1.000 1.000 1.000 1.000 1.000 1.000 1.000 1.000 1.000 1.000 1.000 1.000 1.000 1.000 1.000 1.000 1.000 1.000 1.000 1.000 1.000 1.000 1.000 1.000 1.000 1.000 1.000 1.000 1.000 1.000 1.000 1.000 1.000 1.000 1.000 1.000 1.000 1.000 1.000 1.000 1.000 1.000 1.000 1.000 1.000 1.000 1.000 1.000 1.000 1.000 1.000 1.000 1.000 1.000 0.943 0.886 0.829 0.771 0.714 0.657 0.600 0.514 0.429 0.343 0.257 0.171 0.086 0.000 0.000 0.000 0.000 0.000 0.000 0.000 0.000 0.000 0.000 0.000 0.000 0.000 0.000 0.000 0.000 0.000 0.000 0.000 0.000 0.000 0.000 0.000 0.000 0.000 0.000 0.000 0.000 0.000 0.000 0.000 0.000 0.000 0.000"/><feFuncA type="linear" slope="0" intercept="1"/></feComponentTransfer>
</filter><filter id="cm5" x="1411" y="748.4" width="173.79999999999995" height="174.5" filterUnits="userSpaceOnUse" color-interpolation-filters="sRGB">
<feTurbulence type="fractalNoise" baseFrequency="0.7" numOctaves="2" seed="10" result="n"/>
<feColorMatrix in="n" type="matrix" values="1 0 0 0 0 1 0 0 0 0 1 0 0 0 0 0 0 0 0 1" result="n1"/>
<feComponentTransfer in="n1" result="v"><feFuncR type="table" tableValues="1.000 1.000 1.000 1.000 1.000 1.000 1.000 1.000 1.000 1.000 1.000 1.000 1.000 1.000 1.000 1.000 0.999 0.999 0.999 0.998 0.997 0.996 0.994 0.992 0.989 0.986 0.981 0.977 0.970 0.964 0.953 0.941 0.933 0.918 0.908 0.890 0.878 0.857 0.842 0.818 0.792 0.774 0.745 0.725 0.691 0.669 0.633 0.608 0.570 0.543 0.511 0.454 0.428 0.389 0.365 0.329 0.305 0.273 0.254 0.224 0.198 0.181 0.158 0.144 0.124 0.112 0.095 0.084 0.070 0.061 0.049 0.039 0.033 0.025 0.021 0.015 0.012 0.009 0.007 0.005 0.003 0.002 0.002 0.001 0.001 0.001 0.000 0.000 0.000 0.000 0.000 0.000 0.000 0.000 0.000 0.000 0.000 0.000 0.000 0.000 0.000"/><feFuncG type="table" tableValues="1.000 1.000 1.000 1.000 1.000 1.000 1.000 1.000 1.000 1.000 1.000 1.000 1.000 1.000 1.000 1.000 0.999 0.999 0.999 0.998 0.997 0.996 0.994 0.992 0.989 0.986 0.981 0.977 0.970 0.964 0.953 0.941 0.933 0.918 0.908 0.890 0.878 0.857 0.842 0.818 0.792 0.774 0.745 0.725 0.691 0.669 0.633 0.608 0.570 0.543 0.511 0.454 0.428 0.389 0.365 0.329 0.305 0.273 0.254 0.224 0.198 0.181 0.158 0.144 0.124 0.112 0.095 0.084 0.070 0.061 0.049 0.039 0.033 0.025 0.021 0.015 0.012 0.009 0.007 0.005 0.003 0.002 0.002 0.001 0.001 0.001 0.000 0.000 0.000 0.000 0.000 0.000 0.000 0.000 0.000 0.000 0.000 0.000 0.000 0.000 0.000"/><feFuncB type="table" tableValues="1.000 1.000 1.000 1.000 1.000 1.000 1.000 1.000 1.000 1.000 1.000 1.000 1.000 1.000 1.000 1.000 0.999 0.999 0.999 0.998 0.997 0.996 0.994 0.992 0.989 0.986 0.981 0.977 0.970 0.964 0.953 0.941 0.933 0.918 0.908 0.890 0.878 0.857 0.842 0.818 0.792 0.774 0.745 0.725 0.691 0.669 0.633 0.608 0.570 0.543 0.511 0.454 0.428 0.389 0.365 0.329 0.305 0.273 0.254 0.224 0.198 0.181 0.158 0.144 0.124 0.112 0.095 0.084 0.070 0.061 0.049 0.039 0.033 0.025 0.021 0.015 0.012 0.009 0.007 0.005 0.003 0.002 0.002 0.001 0.001 0.001 0.000 0.000 0.000 0.000 0.000 0.000 0.000 0.000 0.000 0.000 0.000 0.000 0.000 0.000 0.000"/></feComponentTransfer>
<feComponentTransfer in="SourceGraphic" result="A"><feFuncR type="table" tableValues="0.000 0.025 0.050 0.077 0.103 0.130 0.156 0.182 0.208 0.234 0.260 0.282 0.304 0.326 0.348 0.370 0.392 0.414 0.436 0.458 0.480 0.502 0.524 0.546 0.568 0.590 0.612 0.634 0.656 0.678 0.700 0.718 0.736 0.754 0.772 0.790 0.808 0.826 0.844 0.862 0.880 0.889 0.898 0.907 0.916 0.925 0.934 0.943 0.952 0.961 0.970 0.973 0.976 0.979 0.982 0.985 0.988 0.991 0.994 0.997 1.000 1.000 1.000 1.000 1.000 1.000 1.000 1.000 1.000 1.000 1.000 1.000 1.000 1.000 1.000 1.000 1.000 1.000 1.000 1.000 1.000 1.000 1.000 1.000 1.000 1.000 1.000 1.000 1.000 1.000 1.000 1.000 1.000 1.000 1.000 1.000 1.000 1.000 1.000 1.000 1.000"/><feFuncG type="table" tableValues="0.000 0.025 0.050 0.077 0.103 0.130 0.156 0.182 0.208 0.234 0.260 0.282 0.304 0.326 0.348 0.370 0.392 0.414 0.436 0.458 0.480 0.502 0.524 0.546 0.568 0.590 0.612 0.634 0.656 0.678 0.700 0.718 0.736 0.754 0.772 0.790 0.808 0.826 0.844 0.862 0.880 0.889 0.898 0.907 0.916 0.925 0.934 0.943 0.952 0.961 0.970 0.973 0.976 0.979 0.982 0.985 0.988 0.991 0.994 0.997 1.000 1.000 1.000 1.000 1.000 1.000 1.000 1.000 1.000 1.000 1.000 1.000 1.000 1.000 1.000 1.000 1.000 1.000 1.000 1.000 1.000 1.000 1.000 1.000 1.000 1.000 1.000 1.000 1.000 1.000 1.000 1.000 1.000 1.000 1.000 1.000 1.000 1.000 1.000 1.000 1.000"/><feFuncB type="table" tableValues="0.000 0.025 0.050 0.077 0.103 0.130 0.156 0.182 0.208 0.234 0.260 0.282 0.304 0.326 0.348 0.370 0.392 0.414 0.436 0.458 0.480 0.502 0.524 0.546 0.568 0.590 0.612 0.634 0.656 0.678 0.700 0.718 0.736 0.754 0.772 0.790 0.808 0.826 0.844 0.862 0.880 0.889 0.898 0.907 0.916 0.925 0.934 0.943 0.952 0.961 0.970 0.973 0.976 0.979 0.982 0.985 0.988 0.991 0.994 0.997 1.000 1.000 1.000 1.000 1.000 1.000 1.000 1.000 1.000 1.000 1.000 1.000 1.000 1.000 1.000 1.000 1.000 1.000 1.000 1.000 1.000 1.000 1.000 1.000 1.000 1.000 1.000 1.000 1.000 1.000 1.000 1.000 1.000 1.000 1.000 1.000 1.000 1.000 1.000 1.000 1.000"/></feComponentTransfer>
<feComposite in="A" in2="v" operator="arithmetic" k1="0" k2="0.5" k3="0.5" k4="0" result="B"/>
<feComponentTransfer in="B" result="S"><feFuncR type="discrete" tableValues="0 1"/><feFuncG type="discrete" tableValues="0 1"/><feFuncB type="discrete" tableValues="0 1"/></feComponentTransfer>
<feComposite in="SourceGraphic" in2="v" operator="arithmetic" k1="0" k2="0.85" k3="0.1" k4="0.05" result="dc"/>
<feComposite in="S" in2="dc" operator="arithmetic" k1="1" k2="0" k3="0" k4="0" result="dd"/>
<feComponentTransfer in="dd"><feFuncR type="table" tableValues="1.000 0.710 0.420 0.415 0.410 0.404 0.399 0.394 0.389 0.383 0.378 0.373 0.368 0.363 0.357 0.352 0.347 0.342 0.337 0.331 0.326 0.321 0.316 0.310 0.305 0.300 0.288 0.275 0.263 0.250 0.238 0.225 0.213 0.200 0.188 0.175 0.163 0.150 0.138 0.125 0.113 0.100 0.088 0.075 0.063 0.050 0.044 0.038 0.031 0.025 0.019 0.013 0.006 0.000 0.000 0.000 0.000 0.000 0.000 0.000 0.000 0.043 0.086 0.129 0.171 0.214 0.257 0.300 0.387 0.475 0.562 0.650 0.737 0.825 0.912 1.000 1.000 1.000 1.000 1.000 1.000 1.000 1.000 1.000 1.000 1.000 1.000 1.000 1.000 1.000 1.000 0.990 0.980 0.970 0.960 0.950 0.940 0.930 0.920 0.910 0.900"/><feFuncG type="table" tableValues="1.000 0.735 0.470 0.465 0.460 0.454 0.449 0.444 0.439 0.433 0.428 0.423 0.418 0.413 0.407 0.402 0.397 0.392 0.387 0.381 0.376 0.371 0.366 0.360 0.355 0.350 0.343 0.335 0.328 0.320 0.313 0.305 0.298 0.290 0.283 0.275 0.268 0.260 0.253 0.245 0.238 0.230 0.223 0.215 0.208 0.200 0.269 0.337 0.406 0.475 0.544 0.612 0.681 0.750 0.786 0.821 0.857 0.893 0.929 0.964 1.000 1.000 1.000 1.000 1.000 1.000 1.000 1.000 1.000 1.000 1.000 1.000 1.000 1.000 1.000 1.000 0.938 0.875 0.813 0.750 0.688 0.625 0.563 0.500 0.429 0.357 0.286 0.214 0.143 0.071 0.000 0.000 0.000 0.000 0.000 0.000 0.000 0.000 0.000 0.000 0.000"/><feFuncB type="table" tableValues="1.000 1.000 1.000 1.000 1.000 1.000 1.000 1.000 1.000 1.000 1.000 1.000 1.000 1.000 1.000 1.000 1.000 1.000 1.000 1.000 1.000 1.000 1.000 1.000 1.000 1.000 1.000 1.000 1.000 1.000 1.000 1.000 1.000 1.000 1.000 1.000 1.000 1.000 1.000 1.000 1.000 1.000 1.000 1.000 1.000 1.000 1.000 1.000 1.000 1.000 1.000 1.000 1.000 1.000 0.943 0.886 0.829 0.771 0.714 0.657 0.600 0.514 0.429 0.343 0.257 0.171 0.086 0.000 0.000 0.000 0.000 0.000 0.000 0.000 0.000 0.000 0.000 0.000 0.000 0.000 0.000 0.000 0.000 0.000 0.000 0.000 0.000 0.000 0.000 0.000 0.000 0.000 0.000 0.000 0.000 0.000 0.000 0.000 0.000 0.000 0.000"/><feFuncA type="linear" slope="0" intercept="1"/></feComponentTransfer>
</filter><filter id="bl35" x="-50%" y="-50%" width="200%" height="200%"><feGaussianBlur stdDeviation="3.5"/></filter></defs>
<rect width="1970" height="1130" fill="#fff"/>
<text transform="translate(28.0,50.0) scale(0.92,1.0)" font-size="68.80" font-weight="normal" fill="#000" stroke="#000" stroke-width="0.9">A</text>
<text x="132.4" y="88.4" font-size="33.43" font-weight="bold" fill="#000">Hematologic</text>
<line x1="94.3" y1="100.6" x2="328.0" y2="100.6" stroke="#000" stroke-width="3"/>
<text x="134.9" y="135.4" font-size="28.83" font-weight="bold" fill="#000">DX2</text>
<text x="249.7" y="135.4" font-size="28.85" font-weight="bold" fill="#000">N18</text>
<text x="34.2" y="205.9" font-size="22.99" font-weight="bold" fill="#000">H9</text>
<text x="1.5" y="322.2" font-size="22.07" font-weight="bold" fill="#000">SKW6.4</text>
<text x="11.9" y="437.5" font-size="22.29" font-weight="bold" fill="#000">Jurkat</text>
<text x="21.0" y="552.5" font-size="23.18" font-weight="bold" fill="#000">CEM</text>
<text x="177.2" y="672.5" font-size="33.51" font-weight="bold" fill="#000">Kidney</text>
<line x1="105.8" y1="681.0" x2="330.8" y2="681.0" stroke="#000" stroke-width="3"/>
<text x="130.4" y="719.0" font-size="28.78" font-weight="bold" fill="#000">DX2</text>
<text x="252.3" y="719.0" font-size="28.73" font-weight="bold" fill="#000">N18</text>
<text x="9.1" y="790.2" font-size="22.71" font-weight="bold" fill="#000">ACHN</text>
<text x="12.3" y="899.5" font-size="22.44" font-weight="bold" fill="#000">786-0</text>
<text x="5.9" y="1023.7" font-size="21.91" font-weight="bold" fill="#000">UO-31</text>
<text transform="translate(143.2,1122.0) scale(1.0,1.045)" font-size="28.01" font-weight="normal" fill="#000">CD95 (MFI)</text>
<text x="535.1" y="82.0" font-size="28.50" font-weight="bold" fill="#000">DX2</text>
<text x="635.2" y="82.0" font-size="28.10" font-weight="bold" fill="#000">N18</text>
<text x="375.3" y="147.0" font-size="22.43" font-weight="bold" fill="#000">SNB-19</text>
<text x="344.2" y="173.9" font-size="22.21" font-weight="bold" fill="#000">Glioblastoma</text>
<text x="374.0" y="272.0" font-size="22.44" font-weight="bold" fill="#000">SK-OV3</text>
<text x="376.9" y="298.4" font-size="22.34" font-weight="bold" fill="#000">(Ovary)</text>
<text x="379.3" y="390.0" font-size="22.50" font-weight="bold" fill="#000">DU-145</text>
<text x="365.9" y="416.5" font-size="22.55" font-weight="bold" fill="#000">(Prostate)</text>
<text x="388.8" y="503.8" font-size="22.71" font-weight="bold" fill="#000">A495</text>
<text x="380.3" y="530.0" font-size="22.76" font-weight="bold" fill="#000">(Lung)</text>
<text x="378.3" y="620.3" font-size="22.75" font-weight="bold" fill="#000">SW620</text>
<text x="376.5" y="646.4" font-size="22.48" font-weight="bold" fill="#000">(Colon)</text>
<text x="533.5" y="756.6" font-size="33.23" font-weight="bold" fill="#000">Melanoma</text>
<line x1="497.7" y1="772.5" x2="730.7" y2="772.5" stroke="#000" stroke-width="3"/>
<text x="530.3" y="799.7" font-size="29.10" font-weight="bold" fill="#000">DX2</text>
<text x="637.3" y="799.7" font-size="28.85" font-weight="bold" fill="#000">N18</text>
<text x="387.5" y="874.0" font-size="22.48" font-weight="bold" fill="#000">MALME-3</text>
<text x="382.5" y="998.2" font-size="22.10" font-weight="bold" fill="#000">UACC257</text>
<text transform="translate(538.8,1090.4) scale(1.0,1.045)" font-size="27.81" font-weight="normal" fill="#000">CD95 (MFI)</text>
<text x="967.8" y="81.4" font-size="33.56" font-weight="bold" fill="#000">Breast</text>
<line x1="889.0" y1="89.0" x2="1142.0" y2="89.0" stroke="#000" stroke-width="3"/>
<text x="934.0" y="119.6" font-size="28.56" font-weight="bold" fill="#000">DX2</text>
<text x="1056.6" y="119.6" font-size="28.39" font-weight="bold" fill="#000">N18</text>
<text x="781.5" y="195.4" font-size="22.48" font-weight="bold" fill="#000">MCF-7</text>
<text x="786.0" y="321.8" font-size="21.94" font-weight="bold" fill="#000">T47-D</text>
<text x="780.1" y="450.8" font-size="21.61" font-weight="bold" fill="#000">ZR75-1</text>
<text x="751.9" y="578.9" font-size="22.20" font-weight="bold" fill="#000">MDA-MB-453</text>
<text x="781.0" y="704.9" font-size="22.61" font-weight="bold" fill="#000">BT549</text>
<text x="777.2" y="833.6" font-size="22.27" font-weight="bold" fill="#000">Hs578T</text>
<text x="752.5" y="962.2" font-size="21.94" font-weight="bold" fill="#000">MDA-MB-231</text>
<text transform="translate(944.3,1057.0) scale(1.0,1.045)" font-size="27.97" font-weight="normal" fill="#000">CD95 (MFI)</text>
<polygon points="103.5,264.5 103.5,263.8 104.3,263.3 105.1,262.5 105.9,261.3 106.7,259.5 107.5,256.9 108.3,253.3 109.1,248.9 109.9,243.1 110.7,235.1 111.5,225.9 112.3,216.7 113.1,205.7 113.9,193.7 114.7,184.5 115.5,174.6 116.3,165.8 117.1,162.8 117.9,162.5 118.7,164.8 119.5,166.2 120.3,167.4 121.1,174.7 121.9,185.4 122.7,194.5 123.5,203.6 124.3,212.8 125.1,220.2 125.9,228.0 126.7,236.7 127.5,243.3 128.3,247.9 129.1,251.8 129.9,255.1 130.7,257.9 131.5,260.0 132.3,261.4 133.1,262.4 133.9,263.2 134.7,263.6 135.5,264.0 136.3,264.2 137.1,264.3 137.9,264.4 138.7,264.4 139.5,264.5 140.3,264.5 141.1,264.5 141.9,264.5 142.7,264.5 143.5,264.5 144.3,264.5 145.1,264.5 145.9,264.5 146.7,264.5 147.5,264.5 148.3,264.5 149.1,264.5 149.9,264.5 150.7,264.5 151.5,264.5 152.3,264.5 153.1,264.5 153.9,264.5 154.7,264.5 155.5,264.5 156.3,264.5 157.1,264.5 157.9,264.5 158.7,264.5 159.5,264.5 160.3,264.5 161.1,264.5 161.9,264.5 162.7,264.5 163.5,264.5 164.3,264.5 165.1,264.5 165.9,264.5 166.7,264.5 167.5,264.5 168.3,264.5 169.1,264.5 169.9,264.5 170.7,264.5 171.5,264.5 172.3,264.5 173.1,264.5 173.9,264.5 174.7,264.5 175.5,264.5 176.3,264.5 177.1,264.5 177.9,264.5 178.7,264.5 179.5,264.5 180.3,264.5 181.1,264.5 181.9,264.5 182.7,264.5 183.5,264.5 184.3,264.5 185.1,264.5 185.9,264.5 186.7,264.5 187.5,264.5 188.3,264.5 189.1,264.5 189.9,264.5 190.7,264.5 191.5,264.5 192.3,264.5 193.1,264.5 193.9,264.5 194.7,264.5 195.5,264.5 196.3,264.5 197.1,264.5 197.9,264.5 198.7,264.5 199.5,264.5 200.3,264.5 201.1,264.5 201.9,264.5 202.7,264.5 203.5,264.5 204.3,264.5 205.1,264.5 205.9,264.5 206.7,264.5 207.5,264.5 208.3,264.5 209.1,264.5 209.9,264.5 210.7,264.5 211.5,264.5 212.3,264.5 213.1,264.5 213.9,264.5 214.7,264.5 215.5,264.5 216.3,264.5 217.1,264.5 217.5,264.5" fill="#e2e2e2"/>
<polyline points="149.9,263.4 150.7,262.9 151.5,262.4 152.3,261.8 153.1,261.2 153.9,260.4 154.7,259.5 155.5,258.4 156.3,257.4 157.1,256.5 157.9,255.8 158.7,255.0 159.5,253.8 160.3,252.9 161.1,252.6 161.9,252.2 162.7,251.3 163.5,250.7 164.3,250.0 165.1,249.1 165.9,248.3 166.7,246.8 167.5,244.6 168.3,242.2 169.1,238.9 169.9,234.9 170.7,230.7 171.5,227.0 172.3,223.4 173.1,218.0 173.9,211.2 174.7,204.5 175.5,199.2 176.3,195.2 177.1,191.4 177.9,187.1 178.7,182.2 179.5,178.1 180.3,174.4 181.1,168.1 181.9,160.8 182.7,159.5 183.5,159.5 184.3,159.5 185.1,159.5 185.9,160.4 186.7,165.1 187.5,172.4 188.3,181.0 189.1,187.8 189.9,194.0 190.7,204.4 191.5,215.1 192.3,223.4 193.1,231.0 193.9,237.6 194.7,243.2 195.5,248.0 196.3,251.9 197.1,254.9 197.9,257.1 198.7,259.0 199.5,260.4 200.3,261.2 201.1,261.9 201.9,262.2 202.7,262.3 203.5,262.3 204.3,262.3 205.1,262.2 205.9,262.0 206.7,261.9 207.5,261.8 208.3,261.6 209.1,261.5 209.9,261.3 210.7,261.2 211.5,261.3 212.3,261.3 213.1,261.3 213.9,261.4 214.7,261.5 215.5,261.7 216.3,261.8 217.1,261.9" fill="none" stroke="#f00" stroke-width="1.4" stroke-linejoin="round"/>
<polygon points="218.5,264.5 218.5,264.4 219.3,264.4 220.1,264.3 220.9,264.1 221.7,263.9 222.5,263.4 223.3,262.6 224.1,261.5 224.9,259.6 225.7,257.0 226.5,253.4 227.3,248.8 228.1,242.7 228.9,235.3 229.7,226.8 230.5,216.0 231.3,203.5 232.1,191.3 232.9,182.0 233.7,173.8 234.5,165.7 235.3,162.0 236.1,162.0 236.9,163.3 237.7,166.9 238.5,172.0 239.3,180.5 240.1,191.3 240.9,201.8 241.7,211.0 242.5,220.0 243.3,228.7 244.1,236.4 244.9,243.1 245.7,248.7 246.5,253.1 247.3,256.5 248.1,259.1 248.9,260.9 249.7,262.1 250.5,262.9 251.3,263.5 252.1,263.9 252.9,264.2 253.7,264.3 254.5,264.4 255.3,264.4 256.1,264.5 256.9,264.5 257.7,264.5 258.5,264.5 259.3,264.5 260.1,264.5 260.9,264.5 261.7,264.5 262.5,264.5 263.3,264.5 264.1,264.5 264.9,264.5 265.7,264.5 266.5,264.5 267.3,264.5 268.1,264.5 268.9,264.5 269.7,264.5 270.5,264.5 271.3,264.5 272.1,264.5 272.9,264.5 273.7,264.5 274.5,264.5 275.3,264.5 276.1,264.5 276.9,264.5 277.7,264.5 278.5,264.5 279.3,264.5 280.1,264.5 280.9,264.5 281.7,264.5 282.5,264.5 283.3,264.5 284.1,264.5 284.9,264.5 285.7,264.5 286.5,264.5 287.3,264.5 288.1,264.5 288.9,264.5 289.7,264.5 290.5,264.5 291.3,264.5 292.1,264.5 292.9,264.5 293.7,264.5 294.5,264.5 295.3,264.5 296.1,264.5 296.9,264.5 297.7,264.5 298.5,264.5 299.3,264.5 300.1,264.5 300.9,264.5 301.7,264.5 302.5,264.5 303.3,264.5 304.1,264.5 304.9,264.5 305.7,264.5 306.5,264.5 307.3,264.5 308.1,264.5 308.9,264.5 309.7,264.5 310.5,264.5 311.3,264.5 312.1,264.5 312.9,264.5 313.7,264.5 314.5,264.5 315.3,264.5 316.1,264.5 316.9,264.5 317.7,264.5 318.5,264.5 319.3,264.5 320.1,264.5 320.9,264.5 321.7,264.5 322.5,264.5 323.3,264.5 324.1,264.5 324.9,264.5 325.7,264.5 326.5,264.5 327.3,264.5 328.1,264.5 328.9,264.5 329.7,264.5 330.5,264.5 331.3,264.5 332.1,264.5 332.9,264.5 333.5,264.5" fill="#e2e2e2"/>
<polyline points="220.1,263.5 220.9,263.0 221.7,262.2 222.5,260.9 223.3,259.0 224.1,256.6 224.9,253.2 225.7,248.5 226.5,242.5 227.3,235.2 228.1,227.8 228.9,219.2 229.7,208.4 230.5,198.8 231.3,190.1 232.1,180.5 232.9,171.5 233.7,164.2 234.5,160.5 235.3,159.6 236.1,160.4 236.9,160.9 237.7,162.7 238.5,170.6 239.3,182.5 240.1,192.0 240.9,199.6 241.7,209.3 242.5,218.2 243.3,226.1 244.1,233.7 244.9,239.6 245.7,245.0 246.5,250.2 247.3,254.1 248.1,256.8 248.9,258.9 249.7,260.6 250.5,261.9 251.3,262.8 252.1,263.4" fill="none" stroke="#f00" stroke-width="1.4" stroke-linejoin="round"/>
<polygon points="103.5,379.5 103.5,378.9 104.3,378.4 105.1,377.5 105.9,376.2 106.7,374.1 107.5,371.3 108.3,367.2 109.1,361.5 109.9,354.4 110.7,345.3 111.5,334.5 112.3,322.7 113.1,310.3 113.9,297.7 114.7,289.3 115.5,282.6 116.3,274.0 117.1,271.9 117.9,274.6 118.7,277.6 119.5,283.7 120.3,293.0 121.1,303.2 121.9,313.7 122.7,323.8 123.5,333.1 124.3,342.7 125.1,350.8 125.9,357.4 126.7,363.0 127.5,367.6 128.3,371.3 129.1,374.0 129.9,375.8 130.7,377.0 131.5,377.9 132.3,378.5 133.1,378.9 133.9,379.2 134.7,379.3 135.5,379.4 136.3,379.4 137.1,379.5 137.9,379.5 138.7,379.5 139.5,379.5 140.3,379.5 141.1,379.5 141.9,379.5 142.7,379.5 143.5,379.5 144.3,379.5 145.1,379.5 145.9,379.5 146.7,379.5 147.5,379.5 148.3,379.5 149.1,379.5 149.9,379.5 150.7,379.5 151.5,379.5 152.3,379.5 153.1,379.5 153.9,379.5 154.7,379.5 155.5,379.5 156.3,379.5 157.1,379.5 157.9,379.5 158.7,379.5 159.5,379.5 160.3,379.5 161.1,379.5 161.9,379.5 162.7,379.5 163.5,379.5 164.3,379.5 165.1,379.5 165.9,379.5 166.7,379.5 167.5,379.5 168.3,379.5 169.1,379.5 169.9,379.5 170.7,379.5 171.5,379.5 172.3,379.5 173.1,379.5 173.9,379.5 174.7,379.5 175.5,379.5 176.3,379.5 177.1,379.5 177.9,379.5 178.7,379.5 179.5,379.5 180.3,379.5 181.1,379.5 181.9,379.5 182.7,379.5 183.5,379.5 184.3,379.5 185.1,379.5 185.9,379.5 186.7,379.5 187.5,379.5 188.3,379.5 189.1,379.5 189.9,379.5 190.7,379.5 191.5,379.5 192.3,379.5 193.1,379.5 193.9,379.5 194.7,379.5 195.5,379.5 196.3,379.5 197.1,379.5 197.9,379.5 198.7,379.5 199.5,379.5 200.3,379.5 201.1,379.5 201.9,379.5 202.7,379.5 203.5,379.5 204.3,379.5 205.1,379.5 205.9,379.5 206.7,379.5 207.5,379.5 208.3,379.5 209.1,379.5 209.9,379.5 210.7,379.5 211.5,379.5 212.3,379.5 213.1,379.5 213.9,379.5 214.7,379.5 215.5,379.5 216.3,379.5 217.1,379.5 217.5,379.5" fill="#e2e2e2"/>
<polyline points="150.7,378.4 151.5,378.0 152.3,377.5 153.1,377.0 153.9,376.2 154.7,375.4 155.5,374.4 156.3,373.1 157.1,371.8 157.9,370.5 158.7,369.1 159.5,367.1 160.3,364.7 161.1,362.5 161.9,360.7 162.7,358.2 163.5,354.7 164.3,350.8 165.1,346.7 165.9,342.4 166.7,338.3 167.5,334.0 168.3,329.4 169.1,324.4 169.9,318.3 170.7,312.0 171.5,306.9 172.3,302.0 173.1,295.8 173.9,291.2 174.7,287.4 175.5,281.2 176.3,276.1 177.1,272.4 177.9,269.4 178.7,269.4 179.5,269.4 180.3,269.4 181.1,277.4 181.9,281.4 182.7,282.7 183.5,288.6 184.3,295.7 185.1,302.0 185.9,309.8 186.7,319.0 187.5,327.1 188.3,334.8 189.1,342.5 189.9,348.4 190.7,353.6 191.5,358.6 192.3,362.8 193.1,366.3 193.9,369.2 194.7,371.9 195.5,373.8 196.3,375.1 197.1,376.0 197.9,376.6 198.7,376.9 199.5,377.1 200.3,377.1 201.1,377.1 201.9,377.0 202.7,376.8 203.5,376.5 204.3,376.1 205.1,375.8 205.9,375.6 206.7,375.5 207.5,375.4 208.3,375.2 209.1,375.1 209.9,375.2 210.7,375.2 211.5,375.1 212.3,375.1 213.1,375.3 213.9,375.4 214.7,375.5 215.5,375.6 216.3,375.8 217.1,376.1" fill="none" stroke="#f00" stroke-width="1.4" stroke-linejoin="round"/>
<polygon points="218.5,379.5 218.5,379.3 219.3,379.2 220.1,378.9 220.9,378.4 221.7,377.5 222.5,376.0 223.3,373.7 224.1,370.3 224.9,365.6 225.7,358.8 226.5,350.1 227.3,340.1 228.1,328.7 228.9,316.7 229.7,304.2 230.5,292.8 231.3,284.7 232.1,279.4 232.9,276.0 233.7,275.1 234.5,278.5 235.3,285.7 236.1,295.6 236.9,307.1 237.7,317.8 238.5,328.1 239.3,338.9 240.1,348.8 240.9,357.1 241.7,363.5 242.5,368.4 243.3,372.0 244.1,374.5 244.9,376.3 245.7,377.5 246.5,378.3 247.3,378.8 248.1,379.1 248.9,379.3 249.7,379.4 250.5,379.4 251.3,379.5 252.1,379.5 252.9,379.5 253.7,379.5 254.5,379.5 255.3,379.5 256.1,379.5 256.9,379.5 257.7,379.5 258.5,379.5 259.3,379.5 260.1,379.5 260.9,379.5 261.7,379.5 262.5,379.5 263.3,379.5 264.1,379.5 264.9,379.5 265.7,379.5 266.5,379.5 267.3,379.5 268.1,379.5 268.9,379.5 269.7,379.5 270.5,379.5 271.3,379.5 272.1,379.5 272.9,379.5 273.7,379.5 274.5,379.5 275.3,379.5 276.1,379.5 276.9,379.5 277.7,379.5 278.5,379.5 279.3,379.5 280.1,379.5 280.9,379.5 281.7,379.5 282.5,379.5 283.3,379.5 284.1,379.5 284.9,379.5 285.7,379.5 286.5,379.5 287.3,379.5 288.1,379.5 288.9,379.5 289.7,379.5 290.5,379.5 291.3,379.5 292.1,379.5 292.9,379.5 293.7,379.5 294.5,379.5 295.3,379.5 296.1,379.5 296.9,379.5 297.7,379.5 298.5,379.5 299.3,379.5 300.1,379.5 300.9,379.5 301.7,379.5 302.5,379.5 303.3,379.5 304.1,379.5 304.9,379.5 305.7,379.5 306.5,379.5 307.3,379.5 308.1,379.5 308.9,379.5 309.7,379.5 310.5,379.5 311.3,379.5 312.1,379.5 312.9,379.5 313.7,379.5 314.5,379.5 315.3,379.5 316.1,379.5 316.9,379.5 317.7,379.5 318.5,379.5 319.3,379.5 320.1,379.5 320.9,379.5 321.7,379.5 322.5,379.5 323.3,379.5 324.1,379.5 324.9,379.5 325.7,379.5 326.5,379.5 327.3,379.5 328.1,379.5 328.9,379.5 329.7,379.5 330.5,379.5 331.3,379.5 332.1,379.5 332.9,379.5 333.5,379.5" fill="#e2e2e2"/>
<polyline points="219.3,378.2 220.1,377.4 220.9,376.1 221.7,374.1 222.5,371.1 223.3,367.3 224.1,362.4 224.9,355.7 225.7,346.4 226.5,336.5 227.3,326.3 228.1,314.0 228.9,302.0 229.7,291.8 230.5,282.9 231.3,275.1 232.1,270.5 232.9,270.5 233.7,270.5 234.5,274.6 235.3,282.2 236.1,293.8 236.9,306.6 237.7,315.8 238.5,324.6 239.3,335.4 240.1,344.2 240.9,351.0 241.7,358.0 242.5,364.2 243.3,368.6 244.1,371.7 244.9,374.1 245.7,375.8 246.5,377.0 247.3,377.9 248.1,378.5" fill="none" stroke="#f00" stroke-width="1.4" stroke-linejoin="round"/>
<polygon points="103.5,492.5 103.5,490.2 104.3,488.6 105.1,486.1 105.9,482.4 106.7,477.0 107.5,469.8 108.3,460.9 109.1,451.0 109.9,439.4 110.7,427.0 111.5,414.7 112.3,402.4 113.1,392.2 113.9,385.9 114.7,385.5 115.5,385.5 116.3,387.9 117.1,395.9 117.9,401.8 118.7,408.8 119.5,416.0 120.3,423.4 121.1,433.5 121.9,442.9 122.7,450.0 123.5,457.3 124.3,464.3 125.1,470.0 125.9,474.6 126.7,478.6 127.5,482.0 128.3,484.5 129.1,486.6 129.9,488.4 130.7,489.6 131.5,490.5 132.3,491.1 133.1,491.6 133.9,491.9 134.7,492.1 135.5,492.3 136.3,492.3 137.1,492.4 137.9,492.4 138.7,492.5 139.5,492.5 140.3,492.5 141.1,492.5 141.9,492.5 142.7,492.5 143.5,492.5 144.3,492.5 145.1,492.5 145.9,492.5 146.7,492.5 147.5,492.5 148.3,492.5 149.1,492.5 149.9,492.5 150.7,492.5 151.5,492.5 152.3,492.5 153.1,492.5 153.9,492.5 154.7,492.5 155.5,492.5 156.3,492.5 157.1,492.5 157.9,492.5 158.7,492.5 159.5,492.5 160.3,492.5 161.1,492.5 161.9,492.5 162.7,492.5 163.5,492.5 164.3,492.5 165.1,492.5 165.9,492.5 166.7,492.5 167.5,492.5 168.3,492.5 169.1,492.5 169.9,492.5 170.7,492.5 171.5,492.5 172.3,492.5 173.1,492.5 173.9,492.5 174.7,492.5 175.5,492.5 176.3,492.5 177.1,492.5 177.9,492.5 178.7,492.5 179.5,492.5 180.3,492.5 181.1,492.5 181.9,492.5 182.7,492.5 183.5,492.5 184.3,492.5 185.1,492.5 185.9,492.5 186.7,492.5 187.5,492.5 188.3,492.5 189.1,492.5 189.9,492.5 190.7,492.5 191.5,492.5 192.3,492.5 193.1,492.5 193.9,492.5 194.7,492.5 195.5,492.5 196.3,492.5 197.1,492.5 197.9,492.5 198.7,492.5 199.5,492.5 200.3,492.5 201.1,492.5 201.9,492.5 202.7,492.5 203.5,492.5 204.3,492.5 205.1,492.5 205.9,492.5 206.7,492.5 207.5,492.5 208.3,492.5 209.1,492.5 209.9,492.5 210.7,492.5 211.5,492.5 212.3,492.5 213.1,492.5 213.9,492.5 214.7,492.5 215.5,492.5 216.3,492.5 217.1,492.5 217.5,492.5" fill="#e2e2e2"/>
<polyline points="148.3,491.3 149.1,490.9 149.9,490.4 150.7,489.9 151.5,489.2 152.3,488.2 153.1,487.0 153.9,485.6 154.7,483.9 155.5,481.9 156.3,479.6 157.1,477.1 157.9,474.0 158.7,471.0 159.5,467.6 160.3,462.8 161.1,457.6 161.9,452.2 162.7,446.5 163.5,441.7 164.3,436.6 165.1,429.0 165.9,421.0 166.7,416.4 167.5,414.1 168.3,409.5 169.1,403.5 169.9,400.3 170.7,398.8 171.5,395.3 172.3,392.5 173.1,388.7 173.9,385.5 174.7,385.7 175.5,391.9 176.3,399.8 177.1,409.9 177.9,420.0 178.7,430.7 179.5,441.8 180.3,451.5 181.1,459.8 181.9,467.1 182.7,472.8 183.5,476.7 184.3,479.7 185.1,481.9 185.9,483.2 186.7,484.1 187.5,484.5 188.3,484.6 189.1,484.5 189.9,484.6 190.7,484.9 191.5,485.3 192.3,485.5 193.1,485.8 193.9,485.9 194.7,485.9 195.5,485.9 196.3,486.0 197.1,486.2 197.9,486.6 198.7,487.0 199.5,487.1 200.3,487.2 201.1,487.5 201.9,487.9 202.7,488.3 203.5,488.8 204.3,489.0 205.1,489.2 205.9,489.5 206.7,489.7 207.5,489.9 208.3,490.2 209.1,490.4 209.9,490.6 210.7,490.8 211.5,491.0 212.3,491.2 213.1,491.4" fill="none" stroke="#f00" stroke-width="1.4" stroke-linejoin="round"/>
<polygon points="218.5,492.5 218.5,490.9 219.3,489.6 220.1,487.7 220.9,484.9 221.7,480.8 222.5,474.9 223.3,466.7 224.1,456.4 224.9,445.2 225.7,433.4 226.5,421.0 227.3,409.6 228.1,400.0 228.9,392.9 229.7,390.1 230.5,389.2 231.3,390.4 232.1,396.3 232.9,403.0 233.7,410.4 234.5,421.7 235.3,433.2 236.1,443.0 236.9,452.4 237.7,460.9 238.5,467.6 239.3,473.4 240.1,478.6 240.9,482.7 241.7,485.5 242.5,487.7 243.3,489.4 244.1,490.5 244.9,491.2 245.7,491.7 246.5,492.1 247.3,492.2 248.1,492.3 248.9,492.4 249.7,492.5 250.5,492.5 251.3,492.5 252.1,492.5 252.9,492.5 253.7,492.5 254.5,492.5 255.3,492.5 256.1,492.5 256.9,492.5 257.7,492.5 258.5,492.5 259.3,492.5 260.1,492.5 260.9,492.5 261.7,492.5 262.5,492.5 263.3,492.5 264.1,492.5 264.9,492.5 265.7,492.5 266.5,492.5 267.3,492.5 268.1,492.5 268.9,492.5 269.7,492.5 270.5,492.5 271.3,492.5 272.1,492.5 272.9,492.5 273.7,492.5 274.5,492.5 275.3,492.5 276.1,492.5 276.9,492.5 277.7,492.5 278.5,492.5 279.3,492.5 280.1,492.5 280.9,492.5 281.7,492.5 282.5,492.5 283.3,492.5 284.1,492.5 284.9,492.5 285.7,492.5 286.5,492.5 287.3,492.5 288.1,492.5 288.9,492.5 289.7,492.5 290.5,492.5 291.3,492.5 292.1,492.5 292.9,492.5 293.7,492.5 294.5,492.5 295.3,492.5 296.1,492.5 296.9,492.5 297.7,492.5 298.5,492.5 299.3,492.5 300.1,492.5 300.9,492.5 301.7,492.5 302.5,492.5 303.3,492.5 304.1,492.5 304.9,492.5 305.7,492.5 306.5,492.5 307.3,492.5 308.1,492.5 308.9,492.5 309.7,492.5 310.5,492.5 311.3,492.5 312.1,492.5 312.9,492.5 313.7,492.5 314.5,492.5 315.3,492.5 316.1,492.5 316.9,492.5 317.7,492.5 318.5,492.5 319.3,492.5 320.1,492.5 320.9,492.5 321.7,492.5 322.5,492.5 323.3,492.5 324.1,492.5 324.9,492.5 325.7,492.5 326.5,492.5 327.3,492.5 328.1,492.5 328.9,492.5 329.7,492.5 330.5,492.5 331.3,492.5 332.1,492.5 332.9,492.5 333.5,492.5" fill="#e2e2e2"/>
<polyline points="218.5,490.8 219.3,489.5 220.1,487.5 220.9,484.8 221.7,480.2 222.5,473.5 223.3,465.6 224.1,456.3 224.9,444.7 225.7,430.4 226.5,415.8 227.3,404.2 228.1,395.3 228.9,389.0 229.7,385.9 230.5,387.3 231.3,390.9 232.1,392.6 232.9,397.4 233.7,405.4 234.5,413.6 235.3,422.7 236.1,432.5 236.9,443.4 237.7,452.9 238.5,459.1 239.3,465.4 240.1,472.6 240.9,477.8 241.7,481.3 242.5,484.4 243.3,486.7 244.1,488.4 244.9,489.8 245.7,490.6 246.5,491.3" fill="none" stroke="#f00" stroke-width="1.4" stroke-linejoin="round"/>
<polygon points="103.5,606.5 103.5,605.7 104.3,605.1 105.1,603.9 105.9,602.0 106.7,599.1 107.5,595.3 108.3,590.1 109.1,582.7 109.9,573.2 110.7,561.6 111.5,548.5 112.3,534.9 113.1,523.7 113.9,515.6 114.7,508.0 115.5,501.4 116.3,499.4 117.1,499.4 117.9,505.9 118.7,514.3 119.5,523.3 120.3,533.4 121.1,543.3 121.9,552.8 122.7,561.7 123.5,570.7 124.3,579.3 125.1,586.2 125.9,591.3 126.7,595.6 127.5,599.0 128.3,601.3 129.1,603.0 129.9,604.2 130.7,605.1 131.5,605.6 132.3,606.0 133.1,606.2 133.9,606.3 134.7,606.4 135.5,606.4 136.3,606.5 137.1,606.5 137.9,606.5 138.7,606.5 139.5,606.5 140.3,606.5 141.1,606.5 141.9,606.5 142.7,606.5 143.5,606.5 144.3,606.5 145.1,606.5 145.9,606.5 146.7,606.5 147.5,606.5 148.3,606.5 149.1,606.5 149.9,606.5 150.7,606.5 151.5,606.5 152.3,606.5 153.1,606.5 153.9,606.5 154.7,606.5 155.5,606.5 156.3,606.5 157.1,606.5 157.9,606.5 158.7,606.5 159.5,606.5 160.3,606.5 161.1,606.5 161.9,606.5 162.7,606.5 163.5,606.5 164.3,606.5 165.1,606.5 165.9,606.5 166.7,606.5 167.5,606.5 168.3,606.5 169.1,606.5 169.9,606.5 170.7,606.5 171.5,606.5 172.3,606.5 173.1,606.5 173.9,606.5 174.7,606.5 175.5,606.5 176.3,606.5 177.1,606.5 177.9,606.5 178.7,606.5 179.5,606.5 180.3,606.5 181.1,606.5 181.9,606.5 182.7,606.5 183.5,606.5 184.3,606.5 185.1,606.5 185.9,606.5 186.7,606.5 187.5,606.5 188.3,606.5 189.1,606.5 189.9,606.5 190.7,606.5 191.5,606.5 192.3,606.5 193.1,606.5 193.9,606.5 194.7,606.5 195.5,606.5 196.3,606.5 197.1,606.5 197.9,606.5 198.7,606.5 199.5,606.5 200.3,606.5 201.1,606.5 201.9,606.5 202.7,606.5 203.5,606.5 204.3,606.5 205.1,606.5 205.9,606.5 206.7,606.5 207.5,606.5 208.3,606.5 209.1,606.5 209.9,606.5 210.7,606.5 211.5,606.5 212.3,606.5 213.1,606.5 213.9,606.5 214.7,606.5 215.5,606.5 216.3,606.5 217.1,606.5 217.5,606.5" fill="#e2e2e2"/>
<polyline points="135.5,605.4 136.3,605.0 137.1,604.5 137.9,603.8 138.7,602.9 139.5,601.8 140.3,600.5 141.1,599.1 141.9,597.3 142.7,595.2 143.5,592.8 144.3,589.7 145.1,586.3 145.9,582.7 146.7,578.4 147.5,573.4 148.3,568.8 149.1,563.7 149.9,556.8 150.7,550.5 151.5,545.1 152.3,538.4 153.1,530.8 153.9,522.9 154.7,515.1 155.5,510.1 156.3,508.5 157.1,506.6 157.9,503.9 158.7,501.6 159.5,499.7 160.3,498.9 161.1,501.2 161.9,505.9 162.7,509.1 163.5,514.4 164.3,521.2 165.1,527.8 165.9,537.2 166.7,546.4 167.5,554.5 168.3,562.0 169.1,568.6 169.9,574.9 170.7,580.3 171.5,585.5 172.3,590.2 173.1,593.7 173.9,596.6 174.7,599.0 175.5,600.9 176.3,602.3 177.1,603.4 177.9,604.3 178.7,605.0 179.5,605.4" fill="none" stroke="#f00" stroke-width="1.4" stroke-linejoin="round"/>
<polygon points="218.5,606.5 218.5,606.2 219.3,605.9 220.1,605.2 220.9,604.1 221.7,602.1 222.5,598.7 223.3,593.4 224.1,586.0 224.9,576.3 225.7,564.3 226.5,550.6 227.3,536.9 228.1,523.8 228.9,510.2 229.7,500.9 230.5,500.1 231.3,505.3 232.1,511.1 232.9,516.9 233.7,524.7 234.5,534.7 235.3,545.9 236.1,557.3 236.9,567.9 237.7,576.8 238.5,584.5 239.3,590.7 240.1,595.3 240.9,598.9 241.7,601.6 242.5,603.5 243.3,604.7 244.1,605.4 244.9,605.9 245.7,606.1 246.5,606.3 247.3,606.4 248.1,606.5 248.9,606.5 249.7,606.5 250.5,606.5 251.3,606.5 252.1,606.5 252.9,606.5 253.7,606.5 254.5,606.5 255.3,606.5 256.1,606.5 256.9,606.5 257.7,606.5 258.5,606.5 259.3,606.5 260.1,606.5 260.9,606.5 261.7,606.5 262.5,606.5 263.3,606.5 264.1,606.5 264.9,606.5 265.7,606.5 266.5,606.5 267.3,606.5 268.1,606.5 268.9,606.5 269.7,606.5 270.5,606.5 271.3,606.5 272.1,606.5 272.9,606.5 273.7,606.5 274.5,606.5 275.3,606.5 276.1,606.5 276.9,606.5 277.7,606.5 278.5,606.5 279.3,606.5 280.1,606.5 280.9,606.5 281.7,606.5 282.5,606.5 283.3,606.5 284.1,606.5 284.9,606.5 285.7,606.5 286.5,606.5 287.3,606.5 288.1,606.5 288.9,606.5 289.7,606.5 290.5,606.5 291.3,606.5 292.1,606.5 292.9,606.5 293.7,606.5 294.5,606.5 295.3,606.5 296.1,606.5 296.9,606.5 297.7,606.5 298.5,606.5 299.3,606.5 300.1,606.5 300.9,606.5 301.7,606.5 302.5,606.5 303.3,606.5 304.1,606.5 304.9,606.5 305.7,606.5 306.5,606.5 307.3,606.5 308.1,606.5 308.9,606.5 309.7,606.5 310.5,606.5 311.3,606.5 312.1,606.5 312.9,606.5 313.7,606.5 314.5,606.5 315.3,606.5 316.1,606.5 316.9,606.5 317.7,606.5 318.5,606.5 319.3,606.5 320.1,606.5 320.9,606.5 321.7,606.5 322.5,606.5 323.3,606.5 324.1,606.5 324.9,606.5 325.7,606.5 326.5,606.5 327.3,606.5 328.1,606.5 328.9,606.5 329.7,606.5 330.5,606.5 331.3,606.5 332.1,606.5 332.9,606.5 333.5,606.5" fill="#e2e2e2"/>
<polyline points="218.5,605.8 219.3,605.0 220.1,603.8 220.9,602.0 221.7,599.2 222.5,594.5 223.3,587.2 224.1,578.2 224.9,569.2 225.7,559.1 226.5,547.0 227.3,532.4 228.1,517.8 228.9,507.9 229.7,501.0 230.5,499.4 231.3,504.5 232.1,508.6 232.9,512.8 233.7,521.1 234.5,530.7 235.3,540.3 236.1,550.3 236.9,560.7 237.7,570.5 238.5,579.0 239.3,586.0 240.1,591.5 240.9,596.0 241.7,599.5 242.5,601.9 243.3,603.5 244.1,604.6 244.9,605.3" fill="none" stroke="#f00" stroke-width="1.4" stroke-linejoin="round"/>
<polygon points="103.5,847.7 103.5,830.6 104.3,827.0 105.1,823.0 105.9,818.2 106.7,809.5 107.5,797.2 108.3,788.4 109.1,783.7 109.9,776.0 110.7,769.1 111.5,761.7 112.3,746.0 113.1,737.3 113.9,737.3 114.7,737.3 115.5,737.3 116.3,737.3 117.1,737.3 117.9,737.5 118.7,745.8 119.5,749.7 120.3,747.4 121.1,750.6 121.9,755.7 122.7,755.7 123.5,758.6 124.3,765.1 125.1,770.6 125.9,773.9 126.7,778.7 127.5,784.9 128.3,789.5 129.1,795.1 129.9,800.0 130.7,804.0 131.5,809.5 132.3,814.9 133.1,819.3 133.9,822.7 134.7,825.9 135.5,829.3 136.3,831.7 137.1,833.2 137.9,835.4 138.7,838.0 139.5,839.6 140.3,840.5 141.1,841.7 141.9,843.1 142.7,843.9 143.5,844.4 144.3,844.9 145.1,845.6 145.9,846.1 146.7,846.4 147.5,846.7 148.3,846.9 149.1,847.1 149.9,847.3 150.7,847.4 151.5,847.5 152.3,847.5 153.1,847.5 153.9,847.6 154.7,847.6 155.5,847.6 156.3,847.7 157.1,847.7 157.9,847.7 158.7,847.7 159.5,847.7 160.3,847.7 161.1,847.7 161.9,847.7 162.7,847.7 163.5,847.7 164.3,847.7 165.1,847.7 165.9,847.7 166.7,847.7 167.5,847.7 168.3,847.7 169.1,847.7 169.9,847.7 170.7,847.7 171.5,847.7 172.3,847.7 173.1,847.7 173.9,847.7 174.7,847.7 175.5,847.7 176.3,847.7 177.1,847.7 177.9,847.7 178.7,847.7 179.5,847.7 180.3,847.7 181.1,847.7 181.9,847.7 182.7,847.7 183.5,847.7 184.3,847.7 185.1,847.7 185.9,847.7 186.7,847.7 187.5,847.7 188.3,847.7 189.1,847.7 189.9,847.7 190.7,847.7 191.5,847.7 192.3,847.7 193.1,847.7 193.9,847.7 194.7,847.7 195.5,847.7 196.3,847.7 197.1,847.7 197.9,847.7 198.7,847.7 199.5,847.7 200.3,847.7 201.1,847.7 201.9,847.7 202.7,847.7 203.5,847.7 204.3,847.7 205.1,847.7 205.9,847.7 206.7,847.7 207.5,847.7 208.3,847.7 209.1,847.7 209.9,847.7 210.7,847.7 211.5,847.7 212.3,847.7 213.1,847.7 213.9,847.7 214.7,847.7 215.5,847.7 216.3,847.7 217.1,847.7 217.9,847.7 218.7,847.7 219.5,847.7 220.3,847.7 221.1,847.7 221.5,847.7" fill="#e2e2e2"/>
<polyline points="140.3,846.6 141.1,846.2 141.9,845.8 142.7,845.3 143.5,844.9 144.3,844.1 145.1,843.1 145.9,841.9 146.7,840.8 147.5,839.4 148.3,837.3 149.1,835.4 149.9,833.7 150.7,830.8 151.5,826.4 152.3,822.5 153.1,819.6 153.9,816.7 154.7,813.0 155.5,807.1 156.3,798.8 157.1,793.2 157.9,789.7 158.7,784.8 159.5,781.8 160.3,776.0 161.1,767.8 161.9,766.0 162.7,762.3 163.5,754.3 164.3,749.7 165.1,748.0 165.9,744.4 166.7,739.0 167.5,737.7 168.3,738.3 169.1,738.6 169.9,743.3 170.7,748.1 171.5,749.9 172.3,750.7 173.1,753.7 173.9,762.4 174.7,772.3 175.5,777.9 176.3,782.4 177.1,788.4 177.9,795.9 178.7,804.5 179.5,810.6 180.3,814.9 181.1,819.7 181.9,823.6 182.7,826.8 183.5,830.5 184.3,832.9 185.1,833.9 185.9,835.4 186.7,836.9 187.5,837.4 188.3,837.8 189.1,838.4 189.9,838.7 190.7,838.8 191.5,839.2 192.3,839.7 193.1,840.2 193.9,840.7 194.7,841.0 195.5,841.3 196.3,841.8 197.1,842.5 197.9,843.1 198.7,843.6 199.5,843.8 200.3,844.2 201.1,844.7 201.9,845.1 202.7,845.4 203.5,845.8 204.3,846.2 205.1,846.4" fill="none" stroke="#f00" stroke-width="1.4" stroke-linejoin="round"/>
<polygon points="222.5,847.7 222.5,846.0 223.3,845.1 224.1,843.9 224.9,842.1 225.7,839.1 226.5,834.9 227.3,830.9 228.1,826.6 228.9,820.0 229.7,810.5 230.5,799.9 231.3,790.8 232.1,782.0 232.9,771.4 233.7,761.8 234.5,754.6 235.3,746.6 236.1,740.0 236.9,740.0 237.7,740.0 238.5,740.0 239.3,743.0 240.1,743.3 240.9,746.5 241.7,752.6 242.5,754.4 243.3,757.0 244.1,762.0 244.9,764.3 245.7,766.5 246.5,771.4 247.3,780.3 248.1,790.0 248.9,795.7 249.7,799.6 250.5,803.3 251.3,808.0 252.1,812.6 252.9,816.9 253.7,821.2 254.5,824.8 255.3,827.2 256.1,829.4 256.9,832.5 257.7,835.5 258.5,837.9 259.3,839.6 260.1,840.5 260.9,841.3 261.7,842.4 262.5,843.5 263.3,844.3 264.1,844.9 264.9,845.5 265.7,846.0 266.5,846.3 267.3,846.6 268.1,846.8 268.9,847.0 269.7,847.2 270.5,847.3 271.3,847.4 272.1,847.5 272.9,847.6 273.7,847.6 274.5,847.6 275.3,847.6 276.1,847.7 276.9,847.7 277.7,847.7 278.5,847.7 279.3,847.7 280.1,847.7 280.9,847.7 281.7,847.7 282.5,847.7 283.3,847.7 284.1,847.7 284.9,847.7 285.7,847.7 286.5,847.7 287.3,847.7 288.1,847.7 288.9,847.7 289.7,847.7 290.5,847.7 291.3,847.7 292.1,847.7 292.9,847.7 293.7,847.7 294.5,847.7 295.3,847.7 296.1,847.7 296.9,847.7 297.7,847.7 298.5,847.7 299.3,847.7 300.1,847.7 300.9,847.7 301.7,847.7 302.5,847.7 303.3,847.7 304.1,847.7 304.9,847.7 305.7,847.7 306.5,847.7 307.3,847.7 308.1,847.7 308.9,847.7 309.7,847.7 310.5,847.7 311.3,847.7 312.1,847.7 312.9,847.7 313.7,847.7 314.5,847.7 315.3,847.7 316.1,847.7 316.9,847.7 317.7,847.7 318.5,847.7 319.3,847.7 320.1,847.7 320.9,847.7 321.7,847.7 322.5,847.7 323.3,847.7 324.1,847.7 324.9,847.7 325.7,847.7 326.5,847.7 327.3,847.7 328.1,847.7 328.9,847.7 329.7,847.7 330.5,847.7 331.3,847.7 332.1,847.7 332.9,847.7 333.7,847.7 334.5,847.7 335.3,847.7 336.1,847.7 336.9,847.7 337.7,847.7 338.5,847.7 339.3,847.7 340.1,847.7 340.9,847.7 341.7,847.7 342.5,847.7 343.3,847.7 344.1,847.7 344.5,847.7" fill="#e2e2e2"/>
<polyline points="222.5,842.1 223.3,839.1 224.1,835.1 224.9,828.9 225.7,821.9 226.5,813.2 227.3,801.4 228.1,789.7 228.9,778.7 229.7,770.6 230.5,766.0 231.3,759.3 232.1,751.0 232.9,747.1 233.7,743.8 234.5,743.3 235.3,743.3 236.1,737.4 236.9,736.8 237.7,739.5 238.5,736.0 239.3,736.0 240.1,737.8 240.9,738.6 241.7,740.9 242.5,750.0 243.3,757.0 244.1,760.8 244.9,763.9 245.7,766.1 246.5,770.0 247.3,776.8 248.1,782.7 248.9,785.8 249.7,790.6 250.5,795.4 251.3,798.0 252.1,802.1 252.9,807.8 253.7,813.7 254.5,818.7 255.3,821.8 256.1,823.9 256.9,826.5 257.7,830.0 258.5,833.1 259.3,835.5 260.1,837.8 260.9,839.4 261.7,840.7 262.5,842.1 263.3,843.2 264.1,843.8 264.9,844.5 265.7,845.2 266.5,845.7 267.3,846.2 268.1,846.6" fill="none" stroke="#f00" stroke-width="1.4" stroke-linejoin="round"/>
<polygon points="103.5,966.5 103.5,956.3 104.3,953.2 105.1,949.2 105.9,946.4 106.7,943.7 107.5,939.8 108.3,936.1 109.1,931.1 109.9,924.6 110.7,918.2 111.5,911.3 112.3,907.3 113.1,905.4 113.9,899.6 114.7,893.4 115.5,887.6 116.3,878.2 117.1,868.5 117.9,863.3 118.7,863.1 119.5,860.1 120.3,856.7 121.1,856.7 121.9,856.9 122.7,856.7 123.5,858.5 124.3,861.9 125.1,868.4 125.9,877.6 126.7,883.7 127.5,883.2 128.3,885.0 129.1,893.4 129.9,898.6 130.7,905.2 131.5,913.7 132.3,918.4 133.1,924.0 133.9,931.6 134.7,936.7 135.5,939.9 136.3,943.2 137.1,946.5 137.9,950.8 138.7,954.4 139.5,956.7 140.3,958.4 141.1,959.7 141.9,961.0 142.7,962.4 143.5,963.3 144.3,963.9 145.1,964.5 145.9,965.0 146.7,965.4 147.5,965.7 148.3,965.9 149.1,966.0 149.9,966.1 150.7,966.2 151.5,966.3 152.3,966.4 153.1,966.4 153.9,966.4 154.7,966.5 155.5,966.5 156.3,966.5 157.1,966.5 157.9,966.5 158.7,966.5 159.5,966.5 160.3,966.5 161.1,966.5 161.9,966.5 162.7,966.5 163.5,966.5 164.3,966.5 165.1,966.5 165.9,966.5 166.7,966.5 167.5,966.5 168.3,966.5 169.1,966.5 169.9,966.5 170.7,966.5 171.5,966.5 172.3,966.5 173.1,966.5 173.9,966.5 174.7,966.5 175.5,966.5 176.3,966.5 177.1,966.5 177.9,966.5 178.7,966.5 179.5,966.5 180.3,966.5 181.1,966.5 181.9,966.5 182.7,966.5 183.5,966.5 184.3,966.5 185.1,966.5 185.9,966.5 186.7,966.5 187.5,966.5 188.3,966.5 189.1,966.5 189.9,966.5 190.7,966.5 191.5,966.5 192.3,966.5 193.1,966.5 193.9,966.5 194.7,966.5 195.5,966.5 196.3,966.5 197.1,966.5 197.9,966.5 198.7,966.5 199.5,966.5 200.3,966.5 201.1,966.5 201.9,966.5 202.7,966.5 203.5,966.5 204.3,966.5 205.1,966.5 205.9,966.5 206.7,966.5 207.5,966.5 208.3,966.5 209.1,966.5 209.9,966.5 210.7,966.5 211.5,966.5 212.3,966.5 213.1,966.5 213.9,966.5 214.7,966.5 215.5,966.5 216.3,966.5 217.1,966.5 217.9,966.5 218.7,966.5 219.5,966.5 220.3,966.5 221.1,966.5 221.5,966.5" fill="#e2e2e2"/>
<polyline points="140.3,965.2 141.1,964.5 141.9,963.3 142.7,961.7 143.5,959.5 144.3,956.5 145.1,951.6 145.9,945.6 146.7,940.1 147.5,934.3 148.3,926.0 149.1,917.6 149.9,908.5 150.7,896.2 151.5,883.9 152.3,874.0 153.1,867.6 153.9,863.7 154.7,859.4 155.5,854.0 156.3,854.0 157.1,860.5 157.9,870.3 158.7,879.1 159.5,887.3 160.3,897.7 161.1,909.0 161.9,918.3 162.7,927.9 163.5,936.0 164.3,941.7 165.1,947.0 165.9,950.9 166.7,953.3 167.5,955.4 168.3,956.5 169.1,957.1 169.9,957.8 170.7,958.0 171.5,957.9 172.3,958.0 173.1,958.4 173.9,958.8 174.7,958.9 175.5,959.1 176.3,959.1 177.1,959.0 177.9,959.2 178.7,959.9 179.5,960.2 180.3,960.4 181.1,960.9 181.9,961.1 182.7,961.4 183.5,961.8 184.3,961.9 185.1,962.1 185.9,962.6 186.7,962.9 187.5,963.1 188.3,963.2 189.1,963.4 189.9,963.7 190.7,964.1 191.5,964.4 192.3,964.6 193.1,964.8 193.9,965.0 194.7,965.2" fill="none" stroke="#f00" stroke-width="1.4" stroke-linejoin="round"/>
<polygon points="222.5,966.5 222.5,963.0 223.3,962.0 224.1,960.7 224.9,958.9 225.7,957.0 226.5,954.4 227.3,951.0 228.1,946.8 228.9,941.4 229.7,935.7 230.5,929.7 231.3,922.9 232.1,916.5 232.9,910.7 233.7,905.1 234.5,900.8 235.3,894.6 236.1,884.7 236.9,875.6 237.7,868.4 238.5,865.6 239.3,866.9 240.1,866.4 240.9,862.1 241.7,858.0 242.5,858.7 243.3,864.2 244.1,871.4 244.9,877.3 245.7,879.6 246.5,881.7 247.3,888.3 248.1,896.5 248.9,902.2 249.7,908.7 250.5,915.2 251.3,920.7 252.1,925.8 252.9,929.9 253.7,934.5 254.5,940.0 255.3,944.8 256.1,948.1 256.9,951.0 257.7,953.8 258.5,956.7 259.3,959.1 260.1,960.6 260.9,961.7 261.7,962.6 262.5,963.5 263.3,964.2 264.1,964.8 264.9,965.3 265.7,965.6 266.5,965.8 267.3,966.0 268.1,966.2 268.9,966.3 269.7,966.3 270.5,966.4 271.3,966.4 272.1,966.4 272.9,966.5 273.7,966.5 274.5,966.5 275.3,966.5 276.1,966.5 276.9,966.5 277.7,966.5 278.5,966.5 279.3,966.5 280.1,966.5 280.9,966.5 281.7,966.5 282.5,966.5 283.3,966.5 284.1,966.5 284.9,966.5 285.7,966.5 286.5,966.5 287.3,966.5 288.1,966.5 288.9,966.5 289.7,966.5 290.5,966.5 291.3,966.5 292.1,966.5 292.9,966.5 293.7,966.5 294.5,966.5 295.3,966.5 296.1,966.5 296.9,966.5 297.7,966.5 298.5,966.5 299.3,966.5 300.1,966.5 300.9,966.5 301.7,966.5 302.5,966.5 303.3,966.5 304.1,966.5 304.9,966.5 305.7,966.5 306.5,966.5 307.3,966.5 308.1,966.5 308.9,966.5 309.7,966.5 310.5,966.5 311.3,966.5 312.1,966.5 312.9,966.5 313.7,966.5 314.5,966.5 315.3,966.5 316.1,966.5 316.9,966.5 317.7,966.5 318.5,966.5 319.3,966.5 320.1,966.5 320.9,966.5 321.7,966.5 322.5,966.5 323.3,966.5 324.1,966.5 324.9,966.5 325.7,966.5 326.5,966.5 327.3,966.5 328.1,966.5 328.9,966.5 329.7,966.5 330.5,966.5 331.3,966.5 332.1,966.5 332.9,966.5 333.7,966.5 334.5,966.5 335.3,966.5 336.1,966.5 336.9,966.5 337.7,966.5 338.5,966.5 339.3,966.5 340.1,966.5 340.9,966.5 341.7,966.5 342.5,966.5 343.3,966.5 344.1,966.5 344.5,966.5" fill="#e2e2e2"/>
<polyline points="223.3,965.6 224.1,965.0 224.9,964.2 225.7,963.1 226.5,961.6 227.3,959.6 228.1,956.7 228.9,953.0 229.7,948.9 230.5,943.6 231.3,936.8 232.1,930.0 232.9,923.2 233.7,915.8 234.5,907.9 235.3,900.6 236.1,894.2 236.9,886.7 237.7,878.8 238.5,874.8 239.3,871.1 240.1,863.3 240.9,856.7 241.7,856.7 242.5,856.7 243.3,859.3 244.1,857.5 244.9,858.0 245.7,865.5 246.5,868.0 247.3,866.4 248.1,870.3 248.9,879.3 249.7,890.0 250.5,896.1 251.3,899.4 252.1,903.9 252.9,911.4 253.7,919.4 254.5,925.3 255.3,930.7 256.1,935.8 256.9,940.4 257.7,943.6 258.5,946.0 259.3,948.9 260.1,951.8 260.9,954.5 261.7,956.6 262.5,958.6 263.3,960.4 264.1,961.6 264.9,962.6 265.7,963.4 266.5,964.0 267.3,964.5 268.1,965.1 268.9,965.5" fill="none" stroke="#f00" stroke-width="1.4" stroke-linejoin="round"/>
<polygon points="103.5,1084.5 103.5,1073.8 104.3,1072.0 105.1,1068.0 105.9,1064.0 106.7,1061.9 107.5,1059.0 108.3,1055.4 109.1,1052.1 109.9,1048.2 110.7,1044.5 111.5,1043.2 112.3,1042.7 113.1,1038.0 113.9,1029.2 114.7,1023.0 115.5,1022.5 116.3,1022.1 117.1,1015.2 117.9,1008.9 118.7,1007.1 119.5,999.2 120.3,986.4 121.1,980.9 121.9,981.4 122.7,982.3 123.5,983.0 124.3,979.5 125.1,976.1 125.9,977.7 126.7,974.7 127.5,974.7 128.3,980.3 129.1,981.5 129.9,976.9 130.7,982.7 131.5,993.6 132.3,1004.5 133.1,1010.4 133.9,1016.3 134.7,1025.8 135.5,1031.3 136.3,1036.7 137.1,1044.9 137.9,1051.1 138.7,1054.1 139.5,1058.0 140.3,1062.8 141.1,1067.2 141.9,1070.8 142.7,1072.9 143.5,1074.8 144.3,1077.2 145.1,1079.1 145.9,1079.9 146.7,1080.7 147.5,1081.5 148.3,1082.1 149.1,1082.5 149.9,1083.0 150.7,1083.3 151.5,1083.6 152.3,1083.9 153.1,1084.0 153.9,1084.2 154.7,1084.2 155.5,1084.3 156.3,1084.4 157.1,1084.4 157.9,1084.4 158.7,1084.4 159.5,1084.5 160.3,1084.5 161.1,1084.5 161.9,1084.5 162.7,1084.5 163.5,1084.5 164.3,1084.5 165.1,1084.5 165.9,1084.5 166.7,1084.5 167.5,1084.5 168.3,1084.5 169.1,1084.5 169.9,1084.5 170.7,1084.5 171.5,1084.5 172.3,1084.5 173.1,1084.5 173.9,1084.5 174.7,1084.5 175.5,1084.5 176.3,1084.5 177.1,1084.5 177.9,1084.5 178.7,1084.5 179.5,1084.5 180.3,1084.5 181.1,1084.5 181.9,1084.5 182.7,1084.5 183.5,1084.5 184.3,1084.5 185.1,1084.5 185.9,1084.5 186.7,1084.5 187.5,1084.5 188.3,1084.5 189.1,1084.5 189.9,1084.5 190.7,1084.5 191.5,1084.5 192.3,1084.5 193.1,1084.5 193.9,1084.5 194.7,1084.5 195.5,1084.5 196.3,1084.5 197.1,1084.5 197.9,1084.5 198.7,1084.5 199.5,1084.5 200.3,1084.5 201.1,1084.5 201.9,1084.5 202.7,1084.5 203.5,1084.5 204.3,1084.5 205.1,1084.5 205.9,1084.5 206.7,1084.5 207.5,1084.5 208.3,1084.5 209.1,1084.5 209.9,1084.5 210.7,1084.5 211.5,1084.5 212.3,1084.5 213.1,1084.5 213.9,1084.5 214.7,1084.5 215.5,1084.5 216.3,1084.5 217.1,1084.5 217.9,1084.5 218.7,1084.5 219.5,1084.5 220.3,1084.5 221.1,1084.5 221.5,1084.5" fill="#e2e2e2"/>
<polyline points="137.1,1083.4 137.9,1082.9 138.7,1082.2 139.5,1081.2 140.3,1079.5 141.1,1077.1 141.9,1074.3 142.7,1071.3 143.5,1067.7 144.3,1062.9 145.1,1058.4 145.9,1053.6 146.7,1046.5 147.5,1038.1 148.3,1030.8 149.1,1022.2 149.9,1013.0 150.7,1005.6 151.5,996.5 152.3,985.5 153.1,977.9 153.9,973.4 154.7,973.4 155.5,973.4 156.3,973.4 157.1,975.3 157.9,987.0 158.7,999.2 159.5,1004.4 160.3,1006.6 161.1,1013.3 161.9,1024.1 162.7,1033.4 163.5,1039.1 164.3,1042.7 165.1,1045.9 165.9,1050.1 166.7,1053.4 167.5,1054.9 168.3,1056.3 169.1,1057.5 169.9,1058.0 170.7,1058.0 171.5,1059.3 172.3,1061.8 173.1,1062.5 173.9,1062.0 174.7,1062.1 175.5,1063.2 176.3,1065.2 177.1,1066.3 177.9,1066.1 178.7,1066.4 179.5,1067.1 180.3,1067.6 181.1,1068.1 181.9,1068.6 182.7,1069.6 183.5,1070.5 184.3,1070.9 185.1,1071.1 185.9,1071.5 186.7,1072.5 187.5,1073.6 188.3,1073.5 189.1,1073.7 189.9,1074.5 190.7,1074.8 191.5,1074.7 192.3,1075.2 193.1,1075.6 193.9,1075.8 194.7,1076.3 195.5,1077.1 196.3,1077.7 197.1,1078.1 197.9,1078.4 198.7,1078.9 199.5,1079.4 200.3,1079.7 201.1,1080.1 201.9,1080.7 202.7,1081.0 203.5,1081.1 204.3,1081.4 205.1,1081.7 205.9,1082.1 206.7,1082.5 207.5,1082.8 208.3,1082.8 209.1,1083.0 209.9,1083.2" fill="none" stroke="#f00" stroke-width="1.4" stroke-linejoin="round"/>
<polygon points="222.5,1084.5 222.5,1083.5 223.3,1083.1 224.1,1082.6 224.9,1082.1 225.7,1081.3 226.5,1080.3 227.3,1078.8 228.1,1077.3 228.9,1075.8 229.7,1073.8 230.5,1071.6 231.3,1068.2 232.1,1063.9 232.9,1059.8 233.7,1056.4 234.5,1052.8 235.3,1048.0 236.1,1042.7 236.9,1036.3 237.7,1030.3 238.5,1023.4 239.3,1011.7 240.1,1000.0 240.9,995.3 241.7,995.5 242.5,994.1 243.3,990.6 244.1,985.0 244.9,977.8 245.7,975.0 246.5,975.3 247.3,977.5 248.1,980.7 248.9,978.5 249.7,975.0 250.5,975.0 251.3,982.0 252.1,989.2 252.9,996.0 253.7,1004.6 254.5,1010.2 255.3,1014.2 256.1,1020.1 256.9,1026.0 257.7,1032.2 258.5,1035.6 259.3,1038.4 260.1,1044.5 260.9,1050.8 261.7,1056.1 262.5,1060.4 263.3,1063.4 264.1,1066.9 264.9,1070.2 265.7,1072.3 266.5,1074.2 267.3,1076.2 268.1,1077.7 268.9,1078.8 269.7,1079.8 270.5,1080.6 271.3,1081.4 272.1,1082.2 272.9,1082.8 273.7,1083.2 274.5,1083.4 275.3,1083.7 276.1,1083.9 276.9,1084.0 277.7,1084.2 278.5,1084.3 279.3,1084.3 280.1,1084.4 280.9,1084.4 281.7,1084.4 282.5,1084.5 283.3,1084.5 284.1,1084.5 284.9,1084.5 285.7,1084.5 286.5,1084.5 287.3,1084.5 288.1,1084.5 288.9,1084.5 289.7,1084.5 290.5,1084.5 291.3,1084.5 292.1,1084.5 292.9,1084.5 293.7,1084.5 294.5,1084.5 295.3,1084.5 296.1,1084.5 296.9,1084.5 297.7,1084.5 298.5,1084.5 299.3,1084.5 300.1,1084.5 300.9,1084.5 301.7,1084.5 302.5,1084.5 303.3,1084.5 304.1,1084.5 304.9,1084.5 305.7,1084.5 306.5,1084.5 307.3,1084.5 308.1,1084.5 308.9,1084.5 309.7,1084.5 310.5,1084.5 311.3,1084.5 312.1,1084.5 312.9,1084.5 313.7,1084.5 314.5,1084.5 315.3,1084.5 316.1,1084.5 316.9,1084.5 317.7,1084.5 318.5,1084.5 319.3,1084.5 320.1,1084.5 320.9,1084.5 321.7,1084.5 322.5,1084.5 323.3,1084.5 324.1,1084.5 324.9,1084.5 325.7,1084.5 326.5,1084.5 327.3,1084.5 328.1,1084.5 328.9,1084.5 329.7,1084.5 330.5,1084.5 331.3,1084.5 332.1,1084.5 332.9,1084.5 333.7,1084.5 334.5,1084.5 335.3,1084.5 336.1,1084.5 336.9,1084.5 337.7,1084.5 338.5,1084.5 339.3,1084.5 340.1,1084.5 340.9,1084.5 341.7,1084.5 342.5,1084.5 343.3,1084.5 344.1,1084.5 344.5,1084.5" fill="#e2e2e2"/>
<polyline points="222.5,1080.8 223.3,1079.9 224.1,1078.8 224.9,1077.5 225.7,1076.0 226.5,1074.3 227.3,1072.4 228.1,1069.4 228.9,1065.6 229.7,1062.2 230.5,1058.4 231.3,1053.8 232.1,1050.2 232.9,1047.0 233.7,1042.2 234.5,1037.1 235.3,1031.4 236.1,1024.8 236.9,1018.9 237.7,1011.6 238.5,1004.6 239.3,1001.5 240.1,999.0 240.9,996.1 241.7,990.8 242.5,983.3 243.3,982.4 244.1,981.4 244.9,974.6 245.7,973.4 246.5,973.4 247.3,973.4 248.1,976.9 248.9,982.1 249.7,985.9 250.5,989.4 251.3,994.3 252.1,996.3 252.9,999.3 253.7,1007.9 254.5,1017.2 255.3,1022.4 256.1,1026.3 256.9,1033.4 257.7,1040.0 258.5,1044.3 259.3,1049.3 260.1,1054.1 260.9,1057.6 261.7,1061.0 262.5,1064.7 263.3,1067.7 264.1,1070.3 264.9,1073.0 265.7,1075.1 266.5,1076.6 267.3,1077.8 268.1,1078.9 268.9,1079.9 269.7,1080.9 270.5,1081.6 271.3,1082.3 272.1,1082.8 272.9,1083.2" fill="none" stroke="#f00" stroke-width="1.4" stroke-linejoin="round"/>
<polygon points="501.5,212.5 501.5,212.1 502.3,211.7 503.1,210.8 503.9,209.3 504.7,206.8 505.5,202.8 506.3,196.9 507.1,188.5 507.9,178.0 508.7,165.0 509.5,149.3 510.3,134.1 511.1,120.5 511.9,110.5 512.7,107.2 513.5,106.6 514.3,106.6 515.1,110.4 515.9,116.3 516.7,122.2 517.5,129.0 518.3,138.5 519.1,148.3 519.9,155.7 520.7,163.2 521.5,170.9 522.3,178.2 523.1,185.4 523.9,190.8 524.7,195.1 525.5,199.1 526.3,202.5 527.1,205.0 527.9,207.1 528.7,208.7 529.5,209.8 530.3,210.6 531.1,211.2 531.9,211.7 532.7,211.9 533.5,212.1 534.3,212.3 535.1,212.4 535.9,212.4 536.7,212.4 537.5,212.5 538.3,212.5 539.1,212.5 539.9,212.5 540.7,212.5 541.5,212.5 542.3,212.5 543.1,212.5 543.9,212.5 544.7,212.5 545.5,212.5 546.3,212.5 547.1,212.5 547.9,212.5 548.7,212.5 549.5,212.5 550.3,212.5 551.1,212.5 551.9,212.5 552.7,212.5 553.5,212.5 554.3,212.5 555.1,212.5 555.9,212.5 556.7,212.5 557.5,212.5 558.3,212.5 559.1,212.5 559.9,212.5 560.7,212.5 561.5,212.5 562.3,212.5 563.1,212.5 563.9,212.5 564.7,212.5 565.5,212.5 566.3,212.5 567.1,212.5 567.9,212.5 568.7,212.5 569.5,212.5 570.3,212.5 571.1,212.5 571.9,212.5 572.7,212.5 573.5,212.5 574.3,212.5 575.1,212.5 575.9,212.5 576.7,212.5 577.5,212.5 578.3,212.5 579.1,212.5 579.9,212.5 580.7,212.5 581.5,212.5 582.3,212.5 583.1,212.5 583.9,212.5 584.7,212.5 585.5,212.5 586.3,212.5 587.1,212.5 587.9,212.5 588.7,212.5 589.5,212.5 590.3,212.5 591.1,212.5 591.9,212.5 592.7,212.5 593.5,212.5 594.3,212.5 595.1,212.5 595.9,212.5 596.7,212.5 597.5,212.5 598.3,212.5 599.1,212.5 599.9,212.5 600.7,212.5 601.5,212.5 602.3,212.5 603.1,212.5 603.9,212.5 604.7,212.5 605.5,212.5 606.3,212.5 607.1,212.5 607.9,212.5 608.7,212.5 609.5,212.5 610.3,212.5 611.0,212.5" fill="#e2e2e2"/>
<polyline points="522.3,211.2 523.1,210.9 523.9,210.5 524.7,209.8 525.5,209.0 526.3,208.2 527.1,207.2 527.9,205.8 528.7,204.2 529.5,202.4 530.3,200.4 531.1,198.1 531.9,195.4 532.7,192.1 533.5,188.5 534.3,184.8 535.1,180.7 535.9,176.2 536.7,171.2 537.5,167.5 538.3,162.7 539.1,156.2 539.9,151.8 540.7,147.0 541.5,139.3 542.3,131.0 543.1,126.7 543.9,123.4 544.7,117.3 545.5,113.3 546.3,110.0 547.1,107.4 547.9,106.3 548.7,105.5 549.5,105.6 550.3,105.2 551.1,105.2 551.9,106.5 552.7,113.9 553.5,122.0 554.3,126.3 555.1,128.7 555.9,132.6 556.7,139.6 557.5,148.4 558.3,157.0 559.1,164.6 559.9,170.3 560.7,174.9 561.5,179.3 562.3,183.9 563.1,188.8 563.9,193.0 564.7,196.4 565.5,198.9 566.3,201.1 567.1,203.1 567.9,204.5 568.7,205.5 569.5,206.3 570.3,207.0 571.1,207.4 571.9,207.4 572.7,207.5 573.5,207.5 574.3,207.4 575.1,207.3 575.9,207.0 576.7,206.8 577.5,206.9 578.3,206.9 579.1,206.8 579.9,206.8 580.7,207.1 581.5,207.4 582.3,207.5 583.1,207.5 583.9,207.7 584.7,207.6 585.5,207.6 586.3,207.8 587.1,208.0 587.9,208.2 588.7,208.4 589.5,208.6 590.3,208.7 591.1,208.9 591.9,209.1 592.7,209.2 593.5,209.4 594.3,209.6 595.1,209.7 595.9,209.7 596.7,210.0 597.5,210.3 598.3,210.3 599.1,210.4 599.9,210.6 600.7,210.8 601.5,211.0 602.3,211.1 603.1,211.2" fill="none" stroke="#f00" stroke-width="1.4" stroke-linejoin="round"/>
<polygon points="612.0,212.5 612.0,212.0 612.8,211.5 613.6,210.5 614.4,208.8 615.2,206.2 616.0,202.1 616.8,195.9 617.6,187.3 618.4,176.4 619.2,163.6 620.0,149.3 620.8,135.1 621.6,122.0 622.4,112.4 623.2,107.0 624.0,107.0 624.8,109.3 625.6,114.5 626.4,120.6 627.2,125.9 628.0,130.9 628.8,138.2 629.6,147.0 630.4,156.6 631.2,165.8 632.0,174.0 632.8,181.3 633.6,187.3 634.4,191.9 635.2,196.1 636.0,199.9 636.8,203.2 637.6,206.0 638.4,207.8 639.2,209.1 640.0,210.1 640.8,210.9 641.6,211.4 642.4,211.7 643.2,212.0 644.0,212.2 644.8,212.3 645.6,212.4 646.4,212.4 647.2,212.5 648.0,212.5 648.8,212.5 649.6,212.5 650.4,212.5 651.2,212.5 652.0,212.5 652.8,212.5 653.6,212.5 654.4,212.5 655.2,212.5 656.0,212.5 656.8,212.5 657.6,212.5 658.4,212.5 659.2,212.5 660.0,212.5 660.8,212.5 661.6,212.5 662.4,212.5 663.2,212.5 664.0,212.5 664.8,212.5 665.6,212.5 666.4,212.5 667.2,212.5 668.0,212.5 668.8,212.5 669.6,212.5 670.4,212.5 671.2,212.5 672.0,212.5 672.8,212.5 673.6,212.5 674.4,212.5 675.2,212.5 676.0,212.5 676.8,212.5 677.6,212.5 678.4,212.5 679.2,212.5 680.0,212.5 680.8,212.5 681.6,212.5 682.4,212.5 683.2,212.5 684.0,212.5 684.8,212.5 685.6,212.5 686.4,212.5 687.2,212.5 688.0,212.5 688.8,212.5 689.6,212.5 690.4,212.5 691.2,212.5 692.0,212.5 692.8,212.5 693.6,212.5 694.4,212.5 695.2,212.5 696.0,212.5 696.8,212.5 697.6,212.5 698.4,212.5 699.2,212.5 700.0,212.5 700.8,212.5 701.6,212.5 702.4,212.5 703.2,212.5 704.0,212.5 704.8,212.5 705.6,212.5 706.4,212.5 707.2,212.5 708.0,212.5 708.8,212.5 709.6,212.5 710.4,212.5 711.2,212.5 712.0,212.5 712.8,212.5 713.6,212.5 714.4,212.5 715.2,212.5 716.0,212.5 716.8,212.5 717.6,212.5 718.4,212.5 719.2,212.5 720.0,212.5 720.8,212.5 721.6,212.5 722.4,212.5 723.2,212.5 724.0,212.5 724.8,212.5 725.6,212.5 726.4,212.5 726.5,212.5" fill="#e2e2e2"/>
<polyline points="612.8,211.5 613.6,210.5 614.4,208.9 615.2,206.1 616.0,201.7 616.8,195.1 617.6,186.1 618.4,176.2 619.2,164.7 620.0,149.1 620.8,133.2 621.6,119.8 622.4,108.0 623.2,105.2 624.0,106.3 624.8,108.9 625.6,112.1 626.4,113.9 627.2,117.8 628.0,125.4 628.8,133.5 629.6,141.9 630.4,149.7 631.2,156.8 632.0,164.5 632.8,173.4 633.6,181.4 634.4,187.2 635.2,192.1 636.0,196.3 636.8,199.6 637.6,202.4 638.4,204.7 639.2,206.6 640.0,208.2 640.8,209.5 641.6,210.4 642.4,211.0 643.2,211.4" fill="none" stroke="#f00" stroke-width="1.4" stroke-linejoin="round"/>
<polygon points="501.5,326.0 501.5,323.7 502.3,322.3 503.1,320.2 503.9,317.2 504.7,313.3 505.5,308.2 506.3,301.2 507.1,292.8 507.9,283.1 508.7,271.9 509.5,259.6 510.3,247.1 511.1,236.5 511.9,229.0 512.7,224.2 513.5,220.6 514.3,218.0 515.1,218.0 515.9,219.3 516.7,222.4 517.5,226.2 518.3,231.5 519.1,235.1 519.9,237.8 520.7,242.9 521.5,249.2 522.3,255.0 523.1,260.4 523.9,266.7 524.7,273.0 525.5,278.8 526.3,285.1 527.1,290.6 527.9,294.4 528.7,297.9 529.5,301.2 530.3,304.9 531.1,308.4 531.9,311.1 532.7,313.6 533.5,315.8 534.3,317.5 535.1,319.0 535.9,320.3 536.7,321.4 537.5,322.4 538.3,323.1 539.1,323.8 539.9,324.3 540.7,324.7 541.5,325.0 542.3,325.2 543.1,325.4 543.9,325.6 544.7,325.7 545.5,325.8 546.3,325.8 547.1,325.9 547.9,325.9 548.7,325.9 549.5,326.0 550.3,326.0 551.1,326.0 551.9,326.0 552.7,326.0 553.5,326.0 554.3,326.0 555.1,326.0 555.9,326.0 556.7,326.0 557.5,326.0 558.3,326.0 559.1,326.0 559.9,326.0 560.7,326.0 561.5,326.0 562.3,326.0 563.1,326.0 563.9,326.0 564.7,326.0 565.5,326.0 566.3,326.0 567.1,326.0 567.9,326.0 568.7,326.0 569.5,326.0 570.3,326.0 571.1,326.0 571.9,326.0 572.7,326.0 573.5,326.0 574.3,326.0 575.1,326.0 575.9,326.0 576.7,326.0 577.5,326.0 578.3,326.0 579.1,326.0 579.9,326.0 580.7,326.0 581.5,326.0 582.3,326.0 583.1,326.0 583.9,326.0 584.7,326.0 585.5,326.0 586.3,326.0 587.1,326.0 587.9,326.0 588.7,326.0 589.5,326.0 590.3,326.0 591.1,326.0 591.9,326.0 592.7,326.0 593.5,326.0 594.3,326.0 595.1,326.0 595.9,326.0 596.7,326.0 597.5,326.0 598.3,326.0 599.1,326.0 599.9,326.0 600.7,326.0 601.5,326.0 602.3,326.0 603.1,326.0 603.9,326.0 604.7,326.0 605.5,326.0 606.3,326.0 607.1,326.0 607.9,326.0 608.7,326.0 609.5,326.0 610.3,326.0 611.0,326.0" fill="#e2e2e2"/>
<polyline points="535.9,325.1 536.7,324.6 537.5,323.6 538.3,322.1 539.1,319.9 539.9,317.1 540.7,312.8 541.5,306.6 542.3,299.8 543.1,291.1 543.9,280.2 544.7,269.5 545.5,259.8 546.3,250.4 547.1,239.1 547.9,228.0 548.7,220.0 549.5,218.0 550.3,218.0 551.1,218.0 551.9,224.6 552.7,235.6 553.5,247.4 554.3,259.7 555.1,272.3 555.9,283.6 556.7,292.6 557.5,300.2 558.3,307.3 559.1,312.5 559.9,316.4 560.7,319.4 561.5,321.5 562.3,322.9 563.1,323.8 563.9,324.3 564.7,324.6 565.5,324.7 566.3,324.8 567.1,324.8 567.9,324.7 568.7,324.6 569.5,324.6 570.3,324.5 571.1,324.5 571.9,324.5 572.7,324.5 573.5,324.5 574.3,324.4 575.1,324.3 575.9,324.4 576.7,324.4 577.5,324.4 578.3,324.5 579.1,324.5 579.9,324.5 580.7,324.5 581.5,324.5 582.3,324.6 583.1,324.6 583.9,324.6 584.7,324.7 585.5,324.7 586.3,324.7" fill="none" stroke="#f00" stroke-width="1.4" stroke-linejoin="round"/>
<polygon points="612.0,326.0 612.0,321.8 612.8,319.2 613.6,315.4 614.4,310.1 615.2,303.7 616.0,295.6 616.8,284.9 617.6,271.5 618.4,257.8 619.2,246.8 620.0,236.5 620.8,227.3 621.6,223.9 622.4,223.5 623.2,222.7 624.0,222.3 624.8,224.5 625.6,229.8 626.4,233.1 627.2,236.6 628.0,242.0 628.8,246.4 629.6,251.7 630.4,258.6 631.2,264.2 632.0,268.7 632.8,273.6 633.6,278.1 634.4,282.4 635.2,287.8 636.0,293.3 636.8,297.8 637.6,301.6 638.4,305.1 639.2,307.9 640.0,310.9 640.8,314.0 641.6,316.1 642.4,317.7 643.2,319.2 644.0,320.6 644.8,321.6 645.6,322.4 646.4,323.2 647.2,323.8 648.0,324.3 648.8,324.6 649.6,324.9 650.4,325.2 651.2,325.4 652.0,325.6 652.8,325.7 653.6,325.8 654.4,325.8 655.2,325.9 656.0,325.9 656.8,325.9 657.6,326.0 658.4,326.0 659.2,326.0 660.0,326.0 660.8,326.0 661.6,326.0 662.4,326.0 663.2,326.0 664.0,326.0 664.8,326.0 665.6,326.0 666.4,326.0 667.2,326.0 668.0,326.0 668.8,326.0 669.6,326.0 670.4,326.0 671.2,326.0 672.0,326.0 672.8,326.0 673.6,326.0 674.4,326.0 675.2,326.0 676.0,326.0 676.8,326.0 677.6,326.0 678.4,326.0 679.2,326.0 680.0,326.0 680.8,326.0 681.6,326.0 682.4,326.0 683.2,326.0 684.0,326.0 684.8,326.0 685.6,326.0 686.4,326.0 687.2,326.0 688.0,326.0 688.8,326.0 689.6,326.0 690.4,326.0 691.2,326.0 692.0,326.0 692.8,326.0 693.6,326.0 694.4,326.0 695.2,326.0 696.0,326.0 696.8,326.0 697.6,326.0 698.4,326.0 699.2,326.0 700.0,326.0 700.8,326.0 701.6,326.0 702.4,326.0 703.2,326.0 704.0,326.0 704.8,326.0 705.6,326.0 706.4,326.0 707.2,326.0 708.0,326.0 708.8,326.0 709.6,326.0 710.4,326.0 711.2,326.0 712.0,326.0 712.8,326.0 713.6,326.0 714.4,326.0 715.2,326.0 716.0,326.0 716.8,326.0 717.6,326.0 718.4,326.0 719.2,326.0 720.0,326.0 720.8,326.0 721.6,326.0 722.4,326.0 723.2,326.0 724.0,326.0 724.8,326.0 725.6,326.0 726.4,326.0 726.5,326.0" fill="#e2e2e2"/>
<polyline points="612.0,321.8 612.8,319.3 613.6,315.5 614.4,310.1 615.2,302.8 616.0,293.7 616.8,284.0 617.6,272.2 618.4,259.6 619.2,248.3 620.0,236.5 620.8,229.3 621.6,227.9 622.4,226.3 623.2,223.9 624.0,221.8 624.8,223.3 625.6,229.6 626.4,231.8 627.2,232.9 628.0,238.1 628.8,243.8 629.6,249.5 630.4,254.3 631.2,257.5 632.0,261.6 632.8,268.4 633.6,275.3 634.4,280.8 635.2,286.8 636.0,291.7 636.8,294.5 637.6,298.0 638.4,302.1 639.2,305.1 640.0,307.4 640.8,310.1 641.6,312.9 642.4,315.1 643.2,316.8 644.0,318.5 644.8,319.7 645.6,320.8 646.4,321.7 647.2,322.5 648.0,323.3 648.8,323.8 649.6,324.3 650.4,324.7 651.2,325.0" fill="none" stroke="#f00" stroke-width="1.4" stroke-linejoin="round"/>
<polygon points="501.5,441.0 501.5,438.2 502.3,436.5 503.1,434.0 503.9,430.8 504.7,426.2 505.5,420.1 506.3,412.7 507.1,403.7 507.9,393.1 508.7,381.1 509.5,369.6 510.3,360.4 511.1,351.6 511.9,342.9 512.7,338.6 513.5,336.2 514.3,336.0 515.1,336.0 515.9,340.4 516.7,344.0 517.5,347.3 518.3,351.8 519.1,357.5 519.9,364.9 520.7,373.2 521.5,378.7 522.3,382.7 523.1,389.4 523.9,396.5 524.7,401.3 525.5,405.8 526.3,410.8 527.1,415.5 527.9,419.8 528.7,423.7 529.5,426.9 530.3,429.3 531.1,431.4 531.9,433.5 532.7,435.1 533.5,436.4 534.3,437.3 535.1,438.2 535.9,438.9 536.7,439.4 537.5,439.8 538.3,440.1 539.1,440.3 539.9,440.5 540.7,440.7 541.5,440.8 542.3,440.8 543.1,440.9 543.9,440.9 544.7,440.9 545.5,441.0 546.3,441.0 547.1,441.0 547.9,441.0 548.7,441.0 549.5,441.0 550.3,441.0 551.1,441.0 551.9,441.0 552.7,441.0 553.5,441.0 554.3,441.0 555.1,441.0 555.9,441.0 556.7,441.0 557.5,441.0 558.3,441.0 559.1,441.0 559.9,441.0 560.7,441.0 561.5,441.0 562.3,441.0 563.1,441.0 563.9,441.0 564.7,441.0 565.5,441.0 566.3,441.0 567.1,441.0 567.9,441.0 568.7,441.0 569.5,441.0 570.3,441.0 571.1,441.0 571.9,441.0 572.7,441.0 573.5,441.0 574.3,441.0 575.1,441.0 575.9,441.0 576.7,441.0 577.5,441.0 578.3,441.0 579.1,441.0 579.9,441.0 580.7,441.0 581.5,441.0 582.3,441.0 583.1,441.0 583.9,441.0 584.7,441.0 585.5,441.0 586.3,441.0 587.1,441.0 587.9,441.0 588.7,441.0 589.5,441.0 590.3,441.0 591.1,441.0 591.9,441.0 592.7,441.0 593.5,441.0 594.3,441.0 595.1,441.0 595.9,441.0 596.7,441.0 597.5,441.0 598.3,441.0 599.1,441.0 599.9,441.0 600.7,441.0 601.5,441.0 602.3,441.0 603.1,441.0 603.9,441.0 604.7,441.0 605.5,441.0 606.3,441.0 607.1,441.0 607.9,441.0 608.7,441.0 609.5,441.0 610.3,441.0 611.0,441.0" fill="#e2e2e2"/>
<polyline points="523.1,439.8 523.9,439.4 524.7,438.9 525.5,438.2 526.3,437.4 527.1,436.5 527.9,435.4 528.7,433.9 529.5,432.1 530.3,430.1 531.1,427.7 531.9,425.0 532.7,422.4 533.5,418.8 534.3,414.2 535.1,409.3 535.9,404.7 536.7,400.1 537.5,394.2 538.3,387.5 539.1,381.3 539.9,375.5 540.7,370.6 541.5,366.4 542.3,361.8 543.1,356.2 543.9,350.0 544.7,344.9 545.5,338.8 546.3,333.7 547.1,332.7 547.9,332.7 548.7,332.7 549.5,334.1 550.3,338.1 551.1,339.1 551.9,343.8 552.7,351.4 553.5,358.3 554.3,365.5 555.1,373.9 555.9,384.0 556.7,392.0 557.5,397.9 558.3,404.7 559.1,411.3 559.9,417.0 560.7,421.6 561.5,425.3 562.3,428.6 563.1,431.1 563.9,433.0 564.7,434.6 565.5,435.8 566.3,436.7 567.1,437.3 567.9,437.7 568.7,437.9 569.5,438.1 570.3,438.4 571.1,438.6 571.9,438.8 572.7,438.9 573.5,439.0 574.3,439.1 575.1,439.2 575.9,439.3 576.7,439.5 577.5,439.6 578.3,439.7" fill="none" stroke="#f00" stroke-width="1.4" stroke-linejoin="round"/>
<polygon points="612.0,441.0 612.0,438.2 612.8,436.2 613.6,433.3 614.4,429.1 615.2,423.5 616.0,416.0 616.8,406.5 617.6,395.4 618.4,382.7 619.2,368.2 620.0,355.1 620.8,345.2 621.6,336.6 622.4,335.0 623.2,335.0 624.0,335.9 624.8,336.5 625.6,338.4 626.4,338.9 627.2,341.0 628.0,346.7 628.8,350.7 629.6,351.2 630.4,352.8 631.2,358.6 632.0,364.5 632.8,366.9 633.6,369.8 634.4,374.8 635.2,380.3 636.0,384.2 636.8,386.9 637.6,391.5 638.4,396.1 639.2,399.5 640.0,403.3 640.8,406.9 641.6,410.5 642.4,413.5 643.2,415.8 644.0,418.3 644.8,421.4 645.6,423.8 646.4,425.4 647.2,427.2 648.0,429.2 648.8,431.0 649.6,432.5 650.4,433.6 651.2,434.5 652.0,435.4 652.8,436.2 653.6,437.0 654.4,437.6 655.2,438.2 656.0,438.7 656.8,439.0 657.6,439.4 658.4,439.7 659.2,440.0 660.0,440.1 660.8,440.3 661.6,440.4 662.4,440.5 663.2,440.6 664.0,440.7 664.8,440.8 665.6,440.8 666.4,440.9 667.2,440.9 668.0,440.9 668.8,440.9 669.6,440.9 670.4,441.0 671.2,441.0 672.0,441.0 672.8,441.0 673.6,441.0 674.4,441.0 675.2,441.0 676.0,441.0 676.8,441.0 677.6,441.0 678.4,441.0 679.2,441.0 680.0,441.0 680.8,441.0 681.6,441.0 682.4,441.0 683.2,441.0 684.0,441.0 684.8,441.0 685.6,441.0 686.4,441.0 687.2,441.0 688.0,441.0 688.8,441.0 689.6,441.0 690.4,441.0 691.2,441.0 692.0,441.0 692.8,441.0 693.6,441.0 694.4,441.0 695.2,441.0 696.0,441.0 696.8,441.0 697.6,441.0 698.4,441.0 699.2,441.0 700.0,441.0 700.8,441.0 701.6,441.0 702.4,441.0 703.2,441.0 704.0,441.0 704.8,441.0 705.6,441.0 706.4,441.0 707.2,441.0 708.0,441.0 708.8,441.0 709.6,441.0 710.4,441.0 711.2,441.0 712.0,441.0 712.8,441.0 713.6,441.0 714.4,441.0 715.2,441.0 716.0,441.0 716.8,441.0 717.6,441.0 718.4,441.0 719.2,441.0 720.0,441.0 720.8,441.0 721.6,441.0 722.4,441.0 723.2,441.0 724.0,441.0 724.8,441.0 725.6,441.0 726.4,441.0 726.5,441.0" fill="#e2e2e2"/>
<polyline points="612.0,438.2 612.8,436.4 613.6,433.5 614.4,429.1 615.2,423.1 616.0,415.4 616.8,406.5 617.6,395.4 618.4,381.9 619.2,370.7 620.0,360.0 620.8,346.1 621.6,334.5 622.4,334.3 623.2,334.3 624.0,334.5 624.8,337.4 625.6,337.2 626.4,337.1 627.2,338.0 628.0,340.0 628.8,343.4 629.6,347.7 630.4,349.9 631.2,352.7 632.0,357.6 632.8,360.5 633.6,364.3 634.4,368.2 635.2,372.3 636.0,378.1 636.8,383.1 637.6,386.6 638.4,389.8 639.2,393.5 640.0,397.5 640.8,400.8 641.6,404.0 642.4,406.8 643.2,409.4 644.0,412.1 644.8,414.5 645.6,417.5 646.4,421.0 647.2,423.5 648.0,425.1 648.8,426.7 649.6,428.2 650.4,429.4 651.2,430.5 652.0,432.1 652.8,433.7 653.6,434.7 654.4,435.5 655.2,436.3 656.0,437.1 656.8,437.6 657.6,438.1 658.4,438.5 659.2,438.9 660.0,439.3 660.8,439.6 661.6,439.8" fill="none" stroke="#f00" stroke-width="1.4" stroke-linejoin="round"/>
<polygon points="501.5,554.5 501.5,551.2 502.3,549.2 503.1,546.2 503.9,541.7 504.7,535.1 505.5,527.1 506.3,518.6 507.1,507.7 507.9,494.2 508.7,481.8 509.5,470.2 510.3,459.0 511.1,453.4 511.9,452.2 512.7,452.2 513.5,452.3 514.3,453.7 515.1,457.0 515.9,459.9 516.7,465.4 517.5,473.5 518.3,479.9 519.1,485.8 519.9,491.8 520.7,498.4 521.5,504.7 522.3,509.7 523.1,515.5 523.9,521.4 524.7,525.9 525.5,529.8 526.3,533.7 527.1,537.2 527.9,540.4 528.7,542.9 529.5,545.0 530.3,546.8 531.1,548.5 531.9,549.9 532.7,550.9 533.5,551.7 534.3,552.4 535.1,553.0 535.9,553.3 536.7,553.6 537.5,553.9 538.3,554.0 539.1,554.2 539.9,554.3 540.7,554.3 541.5,554.4 542.3,554.4 543.1,554.4 543.9,554.5 544.7,554.5 545.5,554.5 546.3,554.5 547.1,554.5 547.9,554.5 548.7,554.5 549.5,554.5 550.3,554.5 551.1,554.5 551.9,554.5 552.7,554.5 553.5,554.5 554.3,554.5 555.1,554.5 555.9,554.5 556.7,554.5 557.5,554.5 558.3,554.5 559.1,554.5 559.9,554.5 560.7,554.5 561.5,554.5 562.3,554.5 563.1,554.5 563.9,554.5 564.7,554.5 565.5,554.5 566.3,554.5 567.1,554.5 567.9,554.5 568.7,554.5 569.5,554.5 570.3,554.5 571.1,554.5 571.9,554.5 572.7,554.5 573.5,554.5 574.3,554.5 575.1,554.5 575.9,554.5 576.7,554.5 577.5,554.5 578.3,554.5 579.1,554.5 579.9,554.5 580.7,554.5 581.5,554.5 582.3,554.5 583.1,554.5 583.9,554.5 584.7,554.5 585.5,554.5 586.3,554.5 587.1,554.5 587.9,554.5 588.7,554.5 589.5,554.5 590.3,554.5 591.1,554.5 591.9,554.5 592.7,554.5 593.5,554.5 594.3,554.5 595.1,554.5 595.9,554.5 596.7,554.5 597.5,554.5 598.3,554.5 599.1,554.5 599.9,554.5 600.7,554.5 601.5,554.5 602.3,554.5 603.1,554.5 603.9,554.5 604.7,554.5 605.5,554.5 606.3,554.5 607.1,554.5 607.9,554.5 608.7,554.5 609.5,554.5 610.3,554.5 611.0,554.5" fill="#e2e2e2"/>
<polyline points="521.5,553.3 522.3,552.9 523.1,552.5 523.9,551.9 524.7,551.1 525.5,550.0 526.3,549.0 527.1,547.9 527.9,546.2 528.7,544.0 529.5,541.4 530.3,538.6 531.1,535.6 531.9,531.9 532.7,528.0 533.5,524.0 534.3,519.1 535.1,513.9 535.9,508.5 536.7,501.7 537.5,496.1 538.3,491.3 539.1,484.6 539.9,477.2 540.7,471.8 541.5,468.9 542.3,463.7 543.1,456.8 543.9,453.4 544.7,452.4 545.5,451.5 546.3,449.9 547.1,448.3 547.9,448.0 548.7,448.8 549.5,453.4 550.3,460.2 551.1,463.2 551.9,464.4 552.7,469.9 553.5,479.4 554.3,487.2 555.1,491.0 555.9,495.6 556.7,501.7 557.5,506.7 558.3,512.3 559.1,517.9 559.9,522.6 560.7,527.3 561.5,530.8 562.3,533.4 563.1,536.1 563.9,538.9 564.7,540.7 565.5,541.8 566.3,543.1 567.1,544.0 567.9,544.3 568.7,544.6 569.5,545.0 570.3,545.3 571.1,545.4 571.9,545.4 572.7,545.4 573.5,545.5 574.3,545.8 575.1,545.9 575.9,545.7 576.7,545.7 577.5,545.8 578.3,545.9 579.1,546.3 579.9,546.6 580.7,546.8 581.5,547.1 582.3,547.1 583.1,547.1 583.9,547.2 584.7,547.5 585.5,547.8 586.3,548.0 587.1,548.2 587.9,548.4 588.7,548.7 589.5,549.1 590.3,549.5 591.1,549.8 591.9,549.9 592.7,550.1 593.5,550.4 594.3,550.8 595.1,551.0 595.9,551.2 596.7,551.5 597.5,551.7 598.3,551.9 599.1,552.1 599.9,552.4 600.7,552.6 601.5,552.7 602.3,552.9 603.1,553.1 603.9,553.2 604.7,553.3" fill="none" stroke="#f00" stroke-width="1.4" stroke-linejoin="round"/>
<polygon points="612.0,554.5 612.0,552.7 612.8,551.4 613.6,549.3 614.4,546.3 615.2,541.9 616.0,535.6 616.8,527.2 617.6,517.4 618.4,506.1 619.2,494.0 620.0,480.4 620.8,467.4 621.6,459.8 622.4,452.4 623.2,450.0 624.0,450.8 624.8,453.2 625.6,454.6 626.4,457.2 627.2,459.5 628.0,462.5 628.8,467.7 629.6,472.7 630.4,477.1 631.2,483.6 632.0,489.5 632.8,494.5 633.6,499.5 634.4,505.0 635.2,510.8 636.0,515.2 636.8,519.8 637.6,524.4 638.4,528.4 639.2,532.2 640.0,535.7 640.8,538.9 641.6,541.2 642.4,543.2 643.2,545.2 644.0,546.8 644.8,548.1 645.6,549.5 646.4,550.6 647.2,551.4 648.0,552.0 648.8,552.6 649.6,553.0 650.4,553.4 651.2,553.6 652.0,553.8 652.8,554.0 653.6,554.1 654.4,554.2 655.2,554.3 656.0,554.3 656.8,554.4 657.6,554.4 658.4,554.4 659.2,554.5 660.0,554.5 660.8,554.5 661.6,554.5 662.4,554.5 663.2,554.5 664.0,554.5 664.8,554.5 665.6,554.5 666.4,554.5 667.2,554.5 668.0,554.5 668.8,554.5 669.6,554.5 670.4,554.5 671.2,554.5 672.0,554.5 672.8,554.5 673.6,554.5 674.4,554.5 675.2,554.5 676.0,554.5 676.8,554.5 677.6,554.5 678.4,554.5 679.2,554.5 680.0,554.5 680.8,554.5 681.6,554.5 682.4,554.5 683.2,554.5 684.0,554.5 684.8,554.5 685.6,554.5 686.4,554.5 687.2,554.5 688.0,554.5 688.8,554.5 689.6,554.5 690.4,554.5 691.2,554.5 692.0,554.5 692.8,554.5 693.6,554.5 694.4,554.5 695.2,554.5 696.0,554.5 696.8,554.5 697.6,554.5 698.4,554.5 699.2,554.5 700.0,554.5 700.8,554.5 701.6,554.5 702.4,554.5 703.2,554.5 704.0,554.5 704.8,554.5 705.6,554.5 706.4,554.5 707.2,554.5 708.0,554.5 708.8,554.5 709.6,554.5 710.4,554.5 711.2,554.5 712.0,554.5 712.8,554.5 713.6,554.5 714.4,554.5 715.2,554.5 716.0,554.5 716.8,554.5 717.6,554.5 718.4,554.5 719.2,554.5 720.0,554.5 720.8,554.5 721.6,554.5 722.4,554.5 723.2,554.5 724.0,554.5 724.8,554.5 725.6,554.5 726.4,554.5 726.5,554.5" fill="#e2e2e2"/>
<polyline points="612.0,552.7 612.8,551.4 613.6,549.2 614.4,546.2 615.2,541.9 616.0,535.5 616.8,527.9 617.6,518.8 618.4,506.9 619.2,493.7 620.0,481.1 620.8,470.8 621.6,460.9 622.4,453.2 623.2,450.1 624.0,449.8 624.8,450.0 625.6,450.0 626.4,452.2 627.2,454.8 628.0,457.6 628.8,463.4 629.6,471.8 630.4,480.2 631.2,484.8 632.0,488.1 632.8,492.1 633.6,496.6 634.4,502.0 635.2,507.9 636.0,514.5 636.8,520.4 637.6,524.8 638.4,528.8 639.2,531.9 640.0,534.8 640.8,537.9 641.6,540.6 642.4,542.8 643.2,544.7 644.0,546.5 644.8,548.1 645.6,549.5 646.4,550.7 647.2,551.4 648.0,551.9 648.8,552.4 649.6,552.9 650.4,553.3" fill="none" stroke="#f00" stroke-width="1.4" stroke-linejoin="round"/>
<polygon points="501.5,667.5 501.5,666.2 502.3,664.8 503.1,662.1 503.9,657.5 504.7,650.1 505.5,639.7 506.3,626.2 507.1,609.5 507.9,591.3 508.7,576.1 509.5,564.5 510.3,562.0 511.1,562.0 511.9,566.9 512.7,577.1 513.5,589.6 514.3,601.8 515.1,613.8 515.9,625.6 516.7,636.4 517.5,645.4 518.3,652.4 519.1,657.7 519.9,661.3 520.7,663.7 521.5,665.2 522.3,666.2 523.1,666.8 523.9,667.2 524.7,667.3 525.5,667.4 526.3,667.5 527.1,667.5 527.9,667.5 528.7,667.5 529.5,667.5 530.3,667.5 531.1,667.5 531.9,667.5 532.7,667.5 533.5,667.5 534.3,667.5 535.1,667.5 535.9,667.5 536.7,667.5 537.5,667.5 538.3,667.5 539.1,667.5 539.9,667.5 540.7,667.5 541.5,667.5 542.3,667.5 543.1,667.5 543.9,667.5 544.7,667.5 545.5,667.5 546.3,667.5 547.1,667.5 547.9,667.5 548.7,667.5 549.5,667.5 550.3,667.5 551.1,667.5 551.9,667.5 552.7,667.5 553.5,667.5 554.3,667.5 555.1,667.5 555.9,667.5 556.7,667.5 557.5,667.5 558.3,667.5 559.1,667.5 559.9,667.5 560.7,667.5 561.5,667.5 562.3,667.5 563.1,667.5 563.9,667.5 564.7,667.5 565.5,667.5 566.3,667.5 567.1,667.5 567.9,667.5 568.7,667.5 569.5,667.5 570.3,667.5 571.1,667.5 571.9,667.5 572.7,667.5 573.5,667.5 574.3,667.5 575.1,667.5 575.9,667.5 576.7,667.5 577.5,667.5 578.3,667.5 579.1,667.5 579.9,667.5 580.7,667.5 581.5,667.5 582.3,667.5 583.1,667.5 583.9,667.5 584.7,667.5 585.5,667.5 586.3,667.5 587.1,667.5 587.9,667.5 588.7,667.5 589.5,667.5 590.3,667.5 591.1,667.5 591.9,667.5 592.7,667.5 593.5,667.5 594.3,667.5 595.1,667.5 595.9,667.5 596.7,667.5 597.5,667.5 598.3,667.5 599.1,667.5 599.9,667.5 600.7,667.5 601.5,667.5 602.3,667.5 603.1,667.5 603.9,667.5 604.7,667.5 605.5,667.5 606.3,667.5 607.1,667.5 607.9,667.5 608.7,667.5 609.5,667.5 610.3,667.5 611.0,667.5" fill="#e2e2e2"/>
<polyline points="502.3,666.3 503.1,666.0 503.9,665.5 504.7,665.0 505.5,664.4 506.3,663.4 507.1,662.1 507.9,660.8 508.7,659.2 509.5,657.0 510.3,654.6 511.1,652.5 511.9,650.1 512.7,646.4 513.5,641.7 514.3,637.0 515.1,632.7 515.9,628.1 516.7,622.3 517.5,617.1 518.3,613.5 519.1,608.0 519.9,602.6 520.7,598.0 521.5,588.7 522.3,579.7 523.1,577.2 523.9,574.7 524.7,568.3 525.5,564.5 526.3,564.7 527.1,565.4 527.9,564.1 528.7,563.3 529.5,564.3 530.3,567.4 531.1,571.4 531.9,572.7 532.7,576.2 533.5,585.6 534.3,593.5 535.1,598.1 535.9,605.1 536.7,611.8 537.5,615.6 538.3,620.6 539.1,627.4 539.9,633.2 540.7,637.6 541.5,641.9 542.3,646.2 543.1,649.9 543.9,652.8 544.7,655.5 545.5,658.2 546.3,660.3 547.1,661.7 547.9,662.9 548.7,664.0 549.5,664.8 550.3,665.4 551.1,665.9 551.9,666.3" fill="none" stroke="#f00" stroke-width="1.4" stroke-linejoin="round"/>
<polygon points="612.0,667.5 612.0,666.5 612.8,665.3 613.6,663.0 614.4,659.0 615.2,652.8 616.0,643.2 616.8,629.7 617.6,613.6 618.4,595.7 619.2,579.2 620.0,568.6 620.8,561.8 621.6,560.2 622.4,565.9 623.2,574.5 624.0,584.1 624.8,595.4 625.6,608.4 626.4,621.3 627.2,632.4 628.0,642.1 628.8,650.2 629.6,655.9 630.4,659.8 631.2,662.8 632.0,664.8 632.8,665.9 633.6,666.6 634.4,667.0 635.2,667.3 636.0,667.4 636.8,667.4 637.6,667.5 638.4,667.5 639.2,667.5 640.0,667.5 640.8,667.5 641.6,667.5 642.4,667.5 643.2,667.5 644.0,667.5 644.8,667.5 645.6,667.5 646.4,667.5 647.2,667.5 648.0,667.5 648.8,667.5 649.6,667.5 650.4,667.5 651.2,667.5 652.0,667.5 652.8,667.5 653.6,667.5 654.4,667.5 655.2,667.5 656.0,667.5 656.8,667.5 657.6,667.5 658.4,667.5 659.2,667.5 660.0,667.5 660.8,667.5 661.6,667.5 662.4,667.5 663.2,667.5 664.0,667.5 664.8,667.5 665.6,667.5 666.4,667.5 667.2,667.5 668.0,667.5 668.8,667.5 669.6,667.5 670.4,667.5 671.2,667.5 672.0,667.5 672.8,667.5 673.6,667.5 674.4,667.5 675.2,667.5 676.0,667.5 676.8,667.5 677.6,667.5 678.4,667.5 679.2,667.5 680.0,667.5 680.8,667.5 681.6,667.5 682.4,667.5 683.2,667.5 684.0,667.5 684.8,667.5 685.6,667.5 686.4,667.5 687.2,667.5 688.0,667.5 688.8,667.5 689.6,667.5 690.4,667.5 691.2,667.5 692.0,667.5 692.8,667.5 693.6,667.5 694.4,667.5 695.2,667.5 696.0,667.5 696.8,667.5 697.6,667.5 698.4,667.5 699.2,667.5 700.0,667.5 700.8,667.5 701.6,667.5 702.4,667.5 703.2,667.5 704.0,667.5 704.8,667.5 705.6,667.5 706.4,667.5 707.2,667.5 708.0,667.5 708.8,667.5 709.6,667.5 710.4,667.5 711.2,667.5 712.0,667.5 712.8,667.5 713.6,667.5 714.4,667.5 715.2,667.5 716.0,667.5 716.8,667.5 717.6,667.5 718.4,667.5 719.2,667.5 720.0,667.5 720.8,667.5 721.6,667.5 722.4,667.5 723.2,667.5 724.0,667.5 724.8,667.5 725.6,667.5 726.4,667.5 726.5,667.5" fill="#e2e2e2"/>
<polyline points="612.0,666.5 612.8,665.3 613.6,663.1 614.4,659.0 615.2,652.8 616.0,643.8 616.8,630.9 617.6,614.2 618.4,596.9 619.2,580.5 620.0,565.4 620.8,558.9 621.6,558.9 622.4,562.7 623.2,572.7 624.0,580.3 624.8,589.3 625.6,599.4 626.4,610.2 627.2,622.6 628.0,632.9 628.8,640.6 629.6,647.8 630.4,653.9 631.2,658.3 632.0,661.3 632.8,663.6 633.6,665.1 634.4,666.1 635.2,666.7" fill="none" stroke="#f00" stroke-width="1.4" stroke-linejoin="round"/>
<polygon points="493.7,932.1 493.7,931.4 494.5,930.7 495.3,929.6 496.1,927.9 496.9,925.3 497.7,921.5 498.5,915.9 499.3,909.0 500.1,900.1 500.9,889.5 501.7,876.8 502.5,863.0 503.3,849.9 504.1,836.7 504.9,827.8 505.7,825.6 506.5,825.6 507.3,827.4 508.1,835.5 508.9,844.9 509.7,854.2 510.5,864.5 511.3,875.9 512.1,886.3 512.9,895.4 513.7,903.9 514.5,911.3 515.3,917.5 516.1,922.1 516.9,925.4 517.7,927.7 518.5,929.3 519.3,930.4 520.1,931.1 520.9,931.5 521.7,931.8 522.5,931.9 523.3,932.0 524.1,932.1 524.9,932.1 525.7,932.1 526.5,932.1 527.3,932.1 528.1,932.1 528.9,932.1 529.7,932.1 530.5,932.1 531.3,932.1 532.1,932.1 532.9,932.1 533.7,932.1 534.5,932.1 535.3,932.1 536.1,932.1 536.9,932.1 537.7,932.1 538.5,932.1 539.3,932.1 540.1,932.1 540.9,932.1 541.7,932.1 542.5,932.1 543.3,932.1 544.1,932.1 544.9,932.1 545.7,932.1 546.5,932.1 547.3,932.1 548.1,932.1 548.9,932.1 549.7,932.1 550.5,932.1 551.3,932.1 552.1,932.1 552.9,932.1 553.7,932.1 554.5,932.1 555.3,932.1 556.1,932.1 556.9,932.1 557.7,932.1 558.5,932.1 559.3,932.1 560.1,932.1 560.9,932.1 561.7,932.1 562.5,932.1 563.3,932.1 564.1,932.1 564.9,932.1 565.7,932.1 566.5,932.1 567.3,932.1 568.1,932.1 568.9,932.1 569.7,932.1 570.5,932.1 571.3,932.1 572.1,932.1 572.9,932.1 573.7,932.1 574.5,932.1 575.3,932.1 576.1,932.1 576.9,932.1 577.7,932.1 578.5,932.1 579.3,932.1 580.1,932.1 580.9,932.1 581.7,932.1 582.5,932.1 583.3,932.1 584.1,932.1 584.9,932.1 585.7,932.1 586.5,932.1 587.3,932.1 588.1,932.1 588.9,932.1 589.7,932.1 590.5,932.1 591.3,932.1 592.1,932.1 592.9,932.1 593.7,932.1 594.5,932.1 595.3,932.1 596.1,932.1 596.9,932.1 597.7,932.1 598.5,932.1 599.3,932.1 600.1,932.1 600.9,932.1 601.7,932.1 602.5,932.1 603.3,932.1 604.1,932.1 604.9,932.1 605.7,932.1 606.5,932.1 607.3,932.1 608.1,932.1 608.9,932.1 609.7,932.1 610.5,932.1 611.1,932.1" fill="#e2e2e2"/>
<polyline points="517.7,931.1 518.5,930.7 519.3,930.3 520.1,929.9 520.9,929.4 521.7,928.8 522.5,928.1 523.3,927.4 524.1,926.8 524.9,926.1 525.7,925.3 526.5,924.3 527.3,923.2 528.1,922.4 528.9,921.6 529.7,920.6 530.5,919.3 531.3,917.2 532.1,914.3 532.9,911.2 533.7,907.8 534.5,903.2 535.3,897.6 536.1,891.0 536.9,882.5 537.7,873.5 538.5,865.5 539.3,857.2 540.1,847.4 540.9,838.8 541.7,834.2 542.5,828.3 543.3,823.9 544.1,823.9 544.9,823.9 545.7,824.5 546.5,830.6 547.3,840.2 548.1,850.4 548.9,859.8 549.7,870.1 550.5,881.0 551.3,890.3 552.1,898.8 552.9,906.6 553.7,912.6 554.5,916.9 555.3,920.3 556.1,923.0 556.9,925.0 557.7,926.4 558.5,927.1 559.3,927.5 560.1,927.8 560.9,927.8 561.7,927.9 562.5,928.0 563.3,928.0 564.1,928.0 564.9,927.9 565.7,927.9 566.5,927.9 567.3,927.9 568.1,927.8 568.9,927.9 569.7,928.0 570.5,928.0 571.3,928.1 572.1,928.2 572.9,928.2 573.7,928.2 574.5,928.2 575.3,928.3 576.1,928.4 576.9,928.5 577.7,928.6 578.5,928.8 579.3,928.9 580.1,928.9 580.9,929.0 581.7,929.3 582.5,929.4 583.3,929.3 584.1,929.4 584.9,929.6 585.7,929.6 586.5,929.6 587.3,929.7 588.1,929.9 588.9,930.0 589.7,930.1 590.5,930.2 591.3,930.3 592.1,930.4 592.9,930.5 593.7,930.5 594.5,930.6 595.3,930.7 596.1,930.8" fill="none" stroke="#f00" stroke-width="1.4" stroke-linejoin="round"/>
<polygon points="612.1,932.1 612.1,931.4 612.9,930.7 613.7,929.7 614.5,928.0 615.3,925.4 616.1,921.5 616.9,916.3 617.7,909.4 618.5,900.4 619.3,889.1 620.1,876.0 620.9,862.3 621.7,850.4 622.5,841.7 623.3,834.4 624.1,829.1 624.9,827.2 625.7,827.5 626.5,831.2 627.3,837.3 628.1,841.4 628.9,847.0 629.7,855.9 630.5,864.6 631.3,874.7 632.1,884.0 632.9,891.1 633.7,898.0 634.5,904.5 635.3,910.2 636.1,914.8 636.9,918.6 637.7,921.8 638.5,924.4 639.3,926.5 640.1,928.1 640.9,929.3 641.7,930.2 642.5,930.8 643.3,931.2 644.1,931.5 644.9,931.7 645.7,931.9 646.5,932.0 647.3,932.0 648.1,932.0 648.9,932.1 649.7,932.1 650.5,932.1 651.3,932.1 652.1,932.1 652.9,932.1 653.7,932.1 654.5,932.1 655.3,932.1 656.1,932.1 656.9,932.1 657.7,932.1 658.5,932.1 659.3,932.1 660.1,932.1 660.9,932.1 661.7,932.1 662.5,932.1 663.3,932.1 664.1,932.1 664.9,932.1 665.7,932.1 666.5,932.1 667.3,932.1 668.1,932.1 668.9,932.1 669.7,932.1 670.5,932.1 671.3,932.1 672.1,932.1 672.9,932.1 673.7,932.1 674.5,932.1 675.3,932.1 676.1,932.1 676.9,932.1 677.7,932.1 678.5,932.1 679.3,932.1 680.1,932.1 680.9,932.1 681.7,932.1 682.5,932.1 683.3,932.1 684.1,932.1 684.9,932.1 685.7,932.1 686.5,932.1 687.3,932.1 688.1,932.1 688.9,932.1 689.7,932.1 690.5,932.1 691.3,932.1 692.1,932.1 692.9,932.1 693.7,932.1 694.5,932.1 695.3,932.1 696.1,932.1 696.9,932.1 697.7,932.1 698.5,932.1 699.3,932.1 700.1,932.1 700.9,932.1 701.7,932.1 702.5,932.1 703.3,932.1 704.1,932.1 704.9,932.1 705.7,932.1 706.5,932.1 707.3,932.1 708.1,932.1 708.9,932.1 709.7,932.1 710.5,932.1 711.3,932.1 712.1,932.1 712.9,932.1 713.7,932.1 714.5,932.1 715.3,932.1 716.1,932.1 716.9,932.1 717.7,932.1 718.5,932.1 719.3,932.1 720.1,932.1 720.9,932.1 721.7,932.1 722.5,932.1 723.3,932.1 724.1,932.1 724.9,932.1 725.7,932.1 726.5,932.1 727.3,932.1 728.1,932.1 728.9,932.1 729.7,932.1 730.2,932.1" fill="#e2e2e2"/>
<polyline points="612.1,931.4 612.9,930.7 613.7,929.6 614.5,927.8 615.3,925.3 616.1,921.6 616.9,916.3 617.7,909.2 618.5,899.8 619.3,888.3 620.1,874.8 620.9,862.5 621.7,852.2 622.5,839.1 623.3,827.6 624.1,824.0 624.9,824.5 625.7,828.1 626.5,830.0 627.3,837.3 628.1,845.1 628.9,846.1 629.7,849.9 630.5,860.1 631.3,868.7 632.1,875.9 632.9,883.4 633.7,890.4 634.5,897.7 635.3,904.4 636.1,909.6 636.9,913.5 637.7,917.1 638.5,920.5 639.3,923.4 640.1,925.7 640.9,927.2 641.7,928.5 642.5,929.5 643.3,930.3 644.1,930.8" fill="none" stroke="#f00" stroke-width="1.4" stroke-linejoin="round"/>
<polygon points="493.7,1044.3 493.7,1043.1 494.5,1042.2 495.3,1040.7 496.1,1038.5 496.9,1035.2 497.7,1030.3 498.5,1023.6 499.3,1014.6 500.1,1003.3 500.9,990.9 501.7,979.1 502.5,967.5 503.3,955.2 504.1,947.1 504.9,943.8 505.7,941.7 506.5,940.6 507.3,940.8 508.1,943.7 508.9,948.0 509.7,953.0 510.5,960.8 511.3,969.6 512.1,976.1 512.9,982.2 513.7,990.0 514.5,997.0 515.3,1002.7 516.1,1009.0 516.9,1015.2 517.7,1020.2 518.5,1024.4 519.3,1028.5 520.1,1031.8 520.9,1034.2 521.7,1036.5 522.5,1038.5 523.3,1039.9 524.1,1041.0 524.9,1041.8 525.7,1042.5 526.5,1043.0 527.3,1043.4 528.1,1043.7 528.9,1043.9 529.7,1044.0 530.5,1044.1 531.3,1044.2 532.1,1044.2 532.9,1044.2 533.7,1044.3 534.5,1044.3 535.3,1044.3 536.1,1044.3 536.9,1044.3 537.7,1044.3 538.5,1044.3 539.3,1044.3 540.1,1044.3 540.9,1044.3 541.7,1044.3 542.5,1044.3 543.3,1044.3 544.1,1044.3 544.9,1044.3 545.7,1044.3 546.5,1044.3 547.3,1044.3 548.1,1044.3 548.9,1044.3 549.7,1044.3 550.5,1044.3 551.3,1044.3 552.1,1044.3 552.9,1044.3 553.7,1044.3 554.5,1044.3 555.3,1044.3 556.1,1044.3 556.9,1044.3 557.7,1044.3 558.5,1044.3 559.3,1044.3 560.1,1044.3 560.9,1044.3 561.7,1044.3 562.5,1044.3 563.3,1044.3 564.1,1044.3 564.9,1044.3 565.7,1044.3 566.5,1044.3 567.3,1044.3 568.1,1044.3 568.9,1044.3 569.7,1044.3 570.5,1044.3 571.3,1044.3 572.1,1044.3 572.9,1044.3 573.7,1044.3 574.5,1044.3 575.3,1044.3 576.1,1044.3 576.9,1044.3 577.7,1044.3 578.5,1044.3 579.3,1044.3 580.1,1044.3 580.9,1044.3 581.7,1044.3 582.5,1044.3 583.3,1044.3 584.1,1044.3 584.9,1044.3 585.7,1044.3 586.5,1044.3 587.3,1044.3 588.1,1044.3 588.9,1044.3 589.7,1044.3 590.5,1044.3 591.3,1044.3 592.1,1044.3 592.9,1044.3 593.7,1044.3 594.5,1044.3 595.3,1044.3 596.1,1044.3 596.9,1044.3 597.7,1044.3 598.5,1044.3 599.3,1044.3 600.1,1044.3 600.9,1044.3 601.7,1044.3 602.5,1044.3 603.3,1044.3 604.1,1044.3 604.9,1044.3 605.7,1044.3 606.5,1044.3 607.3,1044.3 608.1,1044.3 608.9,1044.3 609.7,1044.3 610.5,1044.3 611.1,1044.3" fill="#e2e2e2"/>
<polyline points="515.3,1043.2 516.1,1042.7 516.9,1042.2 517.7,1041.4 518.5,1040.5 519.3,1039.0 520.1,1037.2 520.9,1035.0 521.7,1032.3 522.5,1028.9 523.3,1025.1 524.1,1021.5 524.9,1017.0 525.7,1011.2 526.5,1005.7 527.3,999.3 528.1,991.5 528.9,985.1 529.7,979.3 530.5,970.3 531.3,962.6 532.1,958.7 532.9,952.4 533.7,945.4 534.5,944.5 535.3,944.2 536.1,941.3 536.9,941.1 537.7,941.1 538.5,940.6 539.3,943.9 540.1,952.0 540.9,960.5 541.7,966.2 542.5,970.3 543.3,977.5 544.1,987.0 544.9,994.0 545.7,999.7 546.5,1006.2 547.3,1011.6 548.1,1016.0 548.9,1021.1 549.7,1025.3 550.5,1029.0 551.3,1032.4 552.1,1034.5 552.9,1036.0 553.7,1037.4 554.5,1038.5 555.3,1039.3 556.1,1039.9 556.9,1040.1 557.7,1040.1 558.5,1040.1 559.3,1040.2 560.1,1040.0 560.9,1039.9 561.7,1039.8 562.5,1039.7 563.3,1039.6 564.1,1039.3 564.9,1039.0 565.7,1038.9 566.5,1039.0 567.3,1038.9 568.1,1038.8 568.9,1038.7 569.7,1039.0 570.5,1039.3 571.3,1039.4 572.1,1039.3 572.9,1039.1 573.7,1039.0 574.5,1039.3 575.3,1039.4 576.1,1039.5 576.9,1039.9 577.7,1040.2 578.5,1040.2 579.3,1040.2 580.1,1040.4 580.9,1040.5 581.7,1040.6 582.5,1041.0 583.3,1041.2 584.1,1041.3 584.9,1041.4 585.7,1041.5 586.5,1041.7 587.3,1041.9 588.1,1042.1 588.9,1042.3 589.7,1042.4 590.5,1042.6 591.3,1042.7 592.1,1042.8 592.9,1042.9 593.7,1043.0" fill="none" stroke="#f00" stroke-width="1.4" stroke-linejoin="round"/>
<polygon points="612.1,1044.3 612.1,1043.0 612.9,1042.0 613.7,1040.6 614.5,1038.6 615.3,1035.5 616.1,1031.4 616.9,1026.1 617.7,1019.2 618.5,1010.6 619.3,1000.8 620.1,990.7 620.9,980.4 621.7,967.6 622.5,954.8 623.3,947.1 624.1,942.9 624.9,938.2 625.7,938.0 626.5,938.0 627.3,939.8 628.1,945.0 628.9,951.0 629.7,955.8 630.5,961.7 631.3,970.0 632.1,977.4 632.9,984.7 633.7,991.8 634.5,998.5 635.3,1005.3 636.1,1011.3 636.9,1016.4 637.7,1021.3 638.5,1026.1 639.3,1030.1 640.1,1033.1 640.9,1035.6 641.7,1037.5 642.5,1039.0 643.3,1040.3 644.1,1041.3 644.9,1042.1 645.7,1042.7 646.5,1043.2 647.3,1043.5 648.1,1043.7 648.9,1043.9 649.7,1044.0 650.5,1044.1 651.3,1044.2 652.1,1044.2 652.9,1044.3 653.7,1044.3 654.5,1044.3 655.3,1044.3 656.1,1044.3 656.9,1044.3 657.7,1044.3 658.5,1044.3 659.3,1044.3 660.1,1044.3 660.9,1044.3 661.7,1044.3 662.5,1044.3 663.3,1044.3 664.1,1044.3 664.9,1044.3 665.7,1044.3 666.5,1044.3 667.3,1044.3 668.1,1044.3 668.9,1044.3 669.7,1044.3 670.5,1044.3 671.3,1044.3 672.1,1044.3 672.9,1044.3 673.7,1044.3 674.5,1044.3 675.3,1044.3 676.1,1044.3 676.9,1044.3 677.7,1044.3 678.5,1044.3 679.3,1044.3 680.1,1044.3 680.9,1044.3 681.7,1044.3 682.5,1044.3 683.3,1044.3 684.1,1044.3 684.9,1044.3 685.7,1044.3 686.5,1044.3 687.3,1044.3 688.1,1044.3 688.9,1044.3 689.7,1044.3 690.5,1044.3 691.3,1044.3 692.1,1044.3 692.9,1044.3 693.7,1044.3 694.5,1044.3 695.3,1044.3 696.1,1044.3 696.9,1044.3 697.7,1044.3 698.5,1044.3 699.3,1044.3 700.1,1044.3 700.9,1044.3 701.7,1044.3 702.5,1044.3 703.3,1044.3 704.1,1044.3 704.9,1044.3 705.7,1044.3 706.5,1044.3 707.3,1044.3 708.1,1044.3 708.9,1044.3 709.7,1044.3 710.5,1044.3 711.3,1044.3 712.1,1044.3 712.9,1044.3 713.7,1044.3 714.5,1044.3 715.3,1044.3 716.1,1044.3 716.9,1044.3 717.7,1044.3 718.5,1044.3 719.3,1044.3 720.1,1044.3 720.9,1044.3 721.7,1044.3 722.5,1044.3 723.3,1044.3 724.1,1044.3 724.9,1044.3 725.7,1044.3 726.5,1044.3 727.3,1044.3 728.1,1044.3 728.9,1044.3 729.7,1044.3 730.2,1044.3" fill="#e2e2e2"/>
<polyline points="612.1,1041.2 612.9,1039.7 613.7,1037.5 614.5,1034.4 615.3,1030.2 616.1,1025.3 616.9,1019.0 617.7,1010.8 618.5,1001.7 619.3,992.0 620.1,981.8 620.9,970.5 621.7,957.6 622.5,947.8 623.3,945.2 624.1,942.3 624.9,936.1 625.7,936.1 626.5,938.4 627.3,940.1 628.1,940.1 628.9,943.5 629.7,950.6 630.5,955.9 631.3,959.6 632.1,966.9 632.9,975.3 633.7,981.1 634.5,986.9 635.3,993.9 636.1,1000.3 636.9,1005.6 637.7,1010.8 638.5,1015.9 639.3,1020.6 640.1,1024.8 640.9,1028.1 641.7,1030.8 642.5,1033.2 643.3,1035.3 644.1,1036.9 644.9,1038.3 645.7,1039.9 646.5,1041.2 647.3,1041.9 648.1,1042.4 648.9,1042.9 649.7,1043.3" fill="none" stroke="#f00" stroke-width="1.4" stroke-linejoin="round"/>
<polygon points="890.2,257.3 890.2,253.7 891.0,251.2 891.8,247.9 892.6,243.3 893.4,236.1 894.2,226.4 895.0,215.2 895.8,201.1 896.6,187.1 897.4,174.3 898.2,159.4 899.0,147.9 899.8,140.1 900.6,137.1 901.4,137.1 902.2,137.1 903.0,137.2 903.8,138.1 904.6,142.1 905.4,147.3 906.2,151.0 907.0,153.6 907.8,157.7 908.6,163.4 909.4,168.5 910.2,173.2 911.0,178.5 911.8,183.4 912.6,188.3 913.4,194.4 914.2,199.8 915.0,204.7 915.8,210.2 916.6,214.9 917.4,219.1 918.2,223.5 919.0,227.3 919.8,230.4 920.6,233.7 921.4,236.9 922.2,239.1 923.0,241.1 923.8,243.6 924.6,245.9 925.4,247.7 926.2,249.1 927.0,250.2 927.8,251.3 928.6,252.4 929.4,253.2 930.2,253.9 931.0,254.5 931.8,255.0 932.6,255.4 933.4,255.7 934.2,256.1 935.0,256.4 935.8,256.5 936.6,256.7 937.4,256.8 938.2,256.9 939.0,257.0 939.8,257.1 940.6,257.1 941.4,257.2 942.2,257.2 943.0,257.2 943.8,257.2 944.6,257.3 945.4,257.3 946.2,257.3 947.0,257.3 947.8,257.3 948.6,257.3 949.4,257.3 950.2,257.3 951.0,257.3 951.8,257.3 952.6,257.3 953.4,257.3 954.2,257.3 955.0,257.3 955.8,257.3 956.6,257.3 957.4,257.3 958.2,257.3 959.0,257.3 959.8,257.3 960.6,257.3 961.4,257.3 962.2,257.3 963.0,257.3 963.8,257.3 964.6,257.3 965.4,257.3 966.2,257.3 967.0,257.3 967.8,257.3 968.6,257.3 969.4,257.3 970.2,257.3 971.0,257.3 971.8,257.3 972.6,257.3 973.4,257.3 974.2,257.3 975.0,257.3 975.8,257.3 976.6,257.3 977.4,257.3 978.2,257.3 979.0,257.3 979.8,257.3 980.6,257.3 981.4,257.3 982.2,257.3 983.0,257.3 983.8,257.3 984.6,257.3 985.4,257.3 986.2,257.3 987.0,257.3 987.8,257.3 988.6,257.3 989.4,257.3 990.2,257.3 991.0,257.3 991.8,257.3 992.6,257.3 993.4,257.3 994.2,257.3 995.0,257.3 995.8,257.3 996.6,257.3 997.4,257.3 998.2,257.3 999.0,257.3 999.8,257.3 1000.6,257.3 1001.4,257.3 1002.2,257.3 1003.0,257.3 1003.8,257.3 1004.6,257.3 1005.4,257.3 1006.2,257.3 1007.0,257.3 1007.8,257.3 1008.6,257.3 1009.4,257.3 1010.2,257.3 1011.0,257.3 1011.8,257.3 1012.6,257.3 1013.4,257.3 1014.2,257.3 1015.0,257.3 1015.8,257.3 1016.6,257.3 1017.4,257.3 1018.2,257.3 1019.0,257.3 1019.8,257.3 1020.6,257.3 1021.4,257.3 1022.2,257.3 1022.5,257.3" fill="#e2e2e2"/>
<polyline points="891.0,256.2 891.8,255.7 892.6,254.8 893.4,253.6 894.2,251.7 895.0,249.1 895.8,245.9 896.6,241.9 897.4,236.7 898.2,229.9 899.0,222.8 899.8,215.2 900.6,206.3 901.4,198.7 902.2,190.2 903.0,178.2 903.8,168.6 904.6,163.4 905.4,157.4 906.2,150.7 907.0,147.9 907.8,149.7 908.6,156.3 909.4,159.9 910.2,159.0 911.0,157.9 911.8,153.9 912.6,148.9 913.4,145.6 914.2,141.5 915.0,136.2 915.8,136.2 916.6,138.9 917.4,135.5 918.2,135.5 919.0,135.5 919.8,143.2 920.6,154.7 921.4,162.3 922.2,164.4 923.0,167.6 923.8,173.2 924.6,178.2 925.4,182.5 926.2,184.5 927.0,188.5 927.8,195.8 928.6,199.9 929.4,201.7 930.2,205.9 931.0,209.8 931.8,209.9 932.6,212.0 933.4,215.9 934.2,217.0 935.0,218.8 935.8,222.0 936.6,223.6 937.4,224.7 938.2,226.7 939.0,229.0 939.8,231.8 940.6,235.1 941.4,238.1 942.2,240.3 943.0,241.8 943.8,243.2 944.6,244.7 945.4,245.8 946.2,247.0 947.0,248.0 947.8,248.5 948.6,249.3 949.4,250.3 950.2,250.8 951.0,251.2 951.8,251.4 952.6,251.6 953.4,251.9 954.2,252.2 955.0,252.3 955.8,252.4 956.6,252.4 957.4,252.6 958.2,252.8 959.0,253.0 959.8,253.1 960.6,253.1 961.4,253.1 962.2,253.1 963.0,253.2 963.8,253.4 964.6,253.5 965.4,253.6 966.2,253.7 967.0,253.9 967.8,254.1 968.6,254.2 969.4,254.4 970.2,254.4 971.0,254.3 971.8,254.4 972.6,254.7 973.4,254.9 974.2,255.0 975.0,255.1 975.8,255.2 976.6,255.3 977.4,255.4 978.2,255.5 979.0,255.6 979.8,255.8 980.6,255.9" fill="none" stroke="#f00" stroke-width="1.4" stroke-linejoin="round"/>
<polygon points="1023.5,257.3 1023.5,247.3 1024.3,243.2 1025.1,238.0 1025.9,231.3 1026.7,223.1 1027.5,214.5 1028.3,204.7 1029.1,193.3 1029.9,183.0 1030.7,172.3 1031.5,159.5 1032.3,148.8 1033.1,142.3 1033.9,138.0 1034.7,138.0 1035.5,138.0 1036.3,138.8 1037.1,138.0 1037.9,138.6 1038.7,146.2 1039.5,152.6 1040.3,158.3 1041.1,162.6 1041.9,164.9 1042.7,169.0 1043.5,174.6 1044.3,181.1 1045.1,188.6 1045.9,196.4 1046.7,201.8 1047.5,206.6 1048.3,212.2 1049.1,216.3 1049.9,219.8 1050.7,224.3 1051.5,228.9 1052.3,232.7 1053.1,235.7 1053.9,238.5 1054.7,241.3 1055.5,243.8 1056.3,245.8 1057.1,247.8 1057.9,249.6 1058.7,250.8 1059.5,251.9 1060.3,252.9 1061.1,253.7 1061.9,254.4 1062.7,255.0 1063.5,255.5 1064.3,255.9 1065.1,256.2 1065.9,256.4 1066.7,256.6 1067.5,256.8 1068.3,256.9 1069.1,257.0 1069.9,257.1 1070.7,257.1 1071.5,257.2 1072.3,257.2 1073.1,257.2 1073.9,257.2 1074.7,257.3 1075.5,257.3 1076.3,257.3 1077.1,257.3 1077.9,257.3 1078.7,257.3 1079.5,257.3 1080.3,257.3 1081.1,257.3 1081.9,257.3 1082.7,257.3 1083.5,257.3 1084.3,257.3 1085.1,257.3 1085.9,257.3 1086.7,257.3 1087.5,257.3 1088.3,257.3 1089.1,257.3 1089.9,257.3 1090.7,257.3 1091.5,257.3 1092.3,257.3 1093.1,257.3 1093.9,257.3 1094.7,257.3 1095.5,257.3 1096.3,257.3 1097.1,257.3 1097.9,257.3 1098.7,257.3 1099.5,257.3 1100.3,257.3 1101.1,257.3 1101.9,257.3 1102.7,257.3 1103.5,257.3 1104.3,257.3 1105.1,257.3 1105.9,257.3 1106.7,257.3 1107.5,257.3 1108.3,257.3 1109.1,257.3 1109.9,257.3 1110.7,257.3 1111.5,257.3 1112.3,257.3 1113.1,257.3 1113.9,257.3 1114.7,257.3 1115.5,257.3 1116.3,257.3 1117.1,257.3 1117.9,257.3 1118.7,257.3 1119.5,257.3 1120.3,257.3 1121.1,257.3 1121.9,257.3 1122.7,257.3 1123.5,257.3 1124.3,257.3 1125.1,257.3 1125.9,257.3 1126.7,257.3 1127.5,257.3 1128.3,257.3 1129.1,257.3 1129.9,257.3 1130.7,257.3 1131.5,257.3 1132.3,257.3 1133.1,257.3 1133.9,257.3 1134.7,257.3 1135.5,257.3 1136.3,257.3 1137.1,257.3 1137.9,257.3 1138.7,257.3 1139.5,257.3 1140.3,257.3 1141.1,257.3 1141.9,257.3 1142.7,257.3 1143.5,257.3 1144.3,257.3 1145.1,257.3 1145.9,257.3 1146.7,257.3 1147.5,257.3 1148.3,257.3 1149.1,257.3 1149.9,257.3 1150.7,257.3 1151.5,257.3 1152.3,257.3 1153.1,257.3 1153.9,257.3 1154.7,257.3 1155.5,257.3 1156.3,257.3 1156.5,257.3" fill="#e2e2e2"/>
<polyline points="1023.5,247.2 1024.3,243.1 1025.1,237.6 1025.9,230.4 1026.7,221.8 1027.5,212.6 1028.3,202.4 1029.1,190.5 1029.9,179.8 1030.7,170.2 1031.5,158.6 1032.3,146.2 1033.1,138.0 1033.9,138.1 1034.7,138.5 1035.5,137.0 1036.3,137.0 1037.1,141.8 1037.9,144.9 1038.7,144.3 1039.5,146.6 1040.3,148.0 1041.1,150.0 1041.9,157.5 1042.7,167.1 1043.5,174.6 1044.3,177.8 1045.1,183.5 1045.9,190.2 1046.7,191.9 1047.5,195.3 1048.3,199.7 1049.1,204.2 1049.9,210.3 1050.7,214.7 1051.5,216.8 1052.3,220.4 1053.1,226.4 1053.9,231.5 1054.7,234.5 1055.5,236.0 1056.3,238.7 1057.1,242.2 1057.9,244.6 1058.7,246.2 1059.5,247.7 1060.3,249.4 1061.1,250.7 1061.9,251.7 1062.7,252.6 1063.5,253.4 1064.3,254.2 1065.1,254.8 1065.9,255.3 1066.7,255.6 1067.5,256.0" fill="none" stroke="#f00" stroke-width="1.4" stroke-linejoin="round"/>
<polygon points="890.2,385.8 890.2,379.8 891.0,377.1 891.8,373.9 892.6,369.0 893.4,362.8 894.2,356.1 895.0,347.6 895.8,337.2 896.6,326.0 897.4,315.4 898.2,304.8 899.0,294.3 899.8,283.8 900.6,273.9 901.4,269.3 902.2,269.3 903.0,269.3 903.8,270.1 904.6,272.7 905.4,274.3 906.2,275.8 907.0,279.3 907.8,282.7 908.6,286.7 909.4,292.1 910.2,296.5 911.0,301.1 911.8,306.9 912.6,311.2 913.4,314.0 914.2,318.9 915.0,325.1 915.8,329.9 916.6,333.7 917.4,338.2 918.2,343.9 919.0,348.6 919.8,352.0 920.6,355.8 921.4,359.0 922.2,361.6 923.0,364.7 923.8,367.9 924.6,370.3 925.4,372.3 926.2,374.5 927.0,376.5 927.8,378.0 928.6,379.0 929.4,379.9 930.2,381.0 931.0,381.9 931.8,382.6 932.6,383.2 933.4,383.7 934.2,384.0 935.0,384.3 935.8,384.6 936.6,384.9 937.4,385.1 938.2,385.2 939.0,385.3 939.8,385.4 940.6,385.5 941.4,385.6 942.2,385.6 943.0,385.7 943.8,385.7 944.6,385.7 945.4,385.7 946.2,385.8 947.0,385.8 947.8,385.8 948.6,385.8 949.4,385.8 950.2,385.8 951.0,385.8 951.8,385.8 952.6,385.8 953.4,385.8 954.2,385.8 955.0,385.8 955.8,385.8 956.6,385.8 957.4,385.8 958.2,385.8 959.0,385.8 959.8,385.8 960.6,385.8 961.4,385.8 962.2,385.8 963.0,385.8 963.8,385.8 964.6,385.8 965.4,385.8 966.2,385.8 967.0,385.8 967.8,385.8 968.6,385.8 969.4,385.8 970.2,385.8 971.0,385.8 971.8,385.8 972.6,385.8 973.4,385.8 974.2,385.8 975.0,385.8 975.8,385.8 976.6,385.8 977.4,385.8 978.2,385.8 979.0,385.8 979.8,385.8 980.6,385.8 981.4,385.8 982.2,385.8 983.0,385.8 983.8,385.8 984.6,385.8 985.4,385.8 986.2,385.8 987.0,385.8 987.8,385.8 988.6,385.8 989.4,385.8 990.2,385.8 991.0,385.8 991.8,385.8 992.6,385.8 993.4,385.8 994.2,385.8 995.0,385.8 995.8,385.8 996.6,385.8 997.4,385.8 998.2,385.8 999.0,385.8 999.8,385.8 1000.6,385.8 1001.4,385.8 1002.2,385.8 1003.0,385.8 1003.8,385.8 1004.6,385.8 1005.4,385.8 1006.2,385.8 1007.0,385.8 1007.8,385.8 1008.6,385.8 1009.4,385.8 1010.2,385.8 1011.0,385.8 1011.8,385.8 1012.6,385.8 1013.4,385.8 1014.2,385.8 1015.0,385.8 1015.8,385.8 1016.6,385.8 1017.4,385.8 1018.2,385.8 1019.0,385.8 1019.8,385.8 1020.6,385.8 1021.4,385.8 1022.2,385.8 1022.5,385.8" fill="#e2e2e2"/>
<polyline points="928.6,384.5 929.4,384.0 930.2,383.4 931.0,382.8 931.8,382.0 932.6,380.8 933.4,379.0 934.2,377.3 935.0,375.3 935.8,372.4 936.6,369.3 937.4,366.2 938.2,362.9 939.0,358.7 939.8,352.9 940.6,347.4 941.4,342.8 942.2,336.3 943.0,328.8 943.8,323.2 944.6,318.0 945.4,312.1 946.2,306.8 947.0,296.9 947.8,283.6 948.6,277.8 949.4,276.9 950.2,273.7 951.0,270.8 951.8,272.0 952.6,272.8 953.4,272.7 954.2,272.1 955.0,270.0 955.8,271.9 956.6,275.9 957.4,279.7 958.2,285.7 959.0,290.3 959.8,294.1 960.6,300.6 961.4,309.5 962.2,317.3 963.0,323.5 963.8,329.7 964.6,336.8 965.4,344.0 966.2,349.1 967.0,352.9 967.8,356.9 968.6,360.8 969.4,364.3 970.2,367.6 971.0,370.7 971.8,373.1 972.6,375.4 973.4,377.7 974.2,379.1 975.0,380.1 975.8,381.4 976.6,382.4 977.4,383.1 978.2,383.7 979.0,384.2 979.8,384.6" fill="none" stroke="#f00" stroke-width="1.4" stroke-linejoin="round"/>
<polygon points="1023.5,385.8 1023.5,383.3 1024.3,382.2 1025.1,380.6 1025.9,378.6 1026.7,376.0 1027.5,372.9 1028.3,369.0 1029.1,364.2 1029.9,358.8 1030.7,352.4 1031.5,344.7 1032.3,336.3 1033.1,328.4 1033.9,321.3 1034.7,313.9 1035.5,304.9 1036.3,294.3 1037.1,284.8 1037.9,278.1 1038.7,275.0 1039.5,275.0 1040.3,275.0 1041.1,276.0 1041.9,275.5 1042.7,275.8 1043.5,279.4 1044.3,285.2 1045.1,289.4 1045.9,294.4 1046.7,301.8 1047.5,307.7 1048.3,312.1 1049.1,318.1 1049.9,325.8 1050.7,332.6 1051.5,337.6 1052.3,342.3 1053.1,347.7 1053.9,352.5 1054.7,356.4 1055.5,360.9 1056.3,364.9 1057.1,368.0 1057.9,370.9 1058.7,373.3 1059.5,375.3 1060.3,377.0 1061.1,378.7 1061.9,380.0 1062.7,381.1 1063.5,382.0 1064.3,382.8 1065.1,383.5 1065.9,384.0 1066.7,384.4 1067.5,384.7 1068.3,385.0 1069.1,385.2 1069.9,385.4 1070.7,385.5 1071.5,385.6 1072.3,385.6 1073.1,385.7 1073.9,385.7 1074.7,385.7 1075.5,385.8 1076.3,385.8 1077.1,385.8 1077.9,385.8 1078.7,385.8 1079.5,385.8 1080.3,385.8 1081.1,385.8 1081.9,385.8 1082.7,385.8 1083.5,385.8 1084.3,385.8 1085.1,385.8 1085.9,385.8 1086.7,385.8 1087.5,385.8 1088.3,385.8 1089.1,385.8 1089.9,385.8 1090.7,385.8 1091.5,385.8 1092.3,385.8 1093.1,385.8 1093.9,385.8 1094.7,385.8 1095.5,385.8 1096.3,385.8 1097.1,385.8 1097.9,385.8 1098.7,385.8 1099.5,385.8 1100.3,385.8 1101.1,385.8 1101.9,385.8 1102.7,385.8 1103.5,385.8 1104.3,385.8 1105.1,385.8 1105.9,385.8 1106.7,385.8 1107.5,385.8 1108.3,385.8 1109.1,385.8 1109.9,385.8 1110.7,385.8 1111.5,385.8 1112.3,385.8 1113.1,385.8 1113.9,385.8 1114.7,385.8 1115.5,385.8 1116.3,385.8 1117.1,385.8 1117.9,385.8 1118.7,385.8 1119.5,385.8 1120.3,385.8 1121.1,385.8 1121.9,385.8 1122.7,385.8 1123.5,385.8 1124.3,385.8 1125.1,385.8 1125.9,385.8 1126.7,385.8 1127.5,385.8 1128.3,385.8 1129.1,385.8 1129.9,385.8 1130.7,385.8 1131.5,385.8 1132.3,385.8 1133.1,385.8 1133.9,385.8 1134.7,385.8 1135.5,385.8 1136.3,385.8 1137.1,385.8 1137.9,385.8 1138.7,385.8 1139.5,385.8 1140.3,385.8 1141.1,385.8 1141.9,385.8 1142.7,385.8 1143.5,385.8 1144.3,385.8 1145.1,385.8 1145.9,385.8 1146.7,385.8 1147.5,385.8 1148.3,385.8 1149.1,385.8 1149.9,385.8 1150.7,385.8 1151.5,385.8 1152.3,385.8 1153.1,385.8 1153.9,385.8 1154.7,385.8 1155.5,385.8 1156.3,385.8 1156.5,385.8" fill="#e2e2e2"/>
<polyline points="1024.3,384.5 1025.1,383.9 1025.9,383.1 1026.7,381.9 1027.5,380.2 1028.3,378.3 1029.1,376.0 1029.9,373.1 1030.7,369.0 1031.5,362.8 1032.3,356.6 1033.1,351.8 1033.9,344.2 1034.7,333.0 1035.5,324.3 1036.3,315.3 1037.1,305.3 1037.9,298.3 1038.7,290.5 1039.5,283.9 1040.3,280.8 1041.1,273.0 1041.9,264.5 1042.7,264.5 1043.5,269.4 1044.3,268.4 1045.1,267.0 1045.9,271.7 1046.7,274.3 1047.5,279.1 1048.3,288.7 1049.1,296.0 1049.9,297.3 1050.7,299.9 1051.5,307.1 1052.3,312.3 1053.1,316.7 1053.9,321.3 1054.7,327.0 1055.5,333.3 1056.3,338.3 1057.1,343.1 1057.9,347.6 1058.7,352.7 1059.5,357.3 1060.3,360.9 1061.1,364.5 1061.9,367.9 1062.7,370.7 1063.5,372.5 1064.3,374.0 1065.1,376.0 1065.9,377.9 1066.7,379.5 1067.5,380.7 1068.3,381.6 1069.1,382.3 1069.9,382.9 1070.7,383.4 1071.5,384.0 1072.3,384.4" fill="none" stroke="#f00" stroke-width="1.4" stroke-linejoin="round"/>
<polygon points="890.2,514.0 890.2,513.9 891.0,513.9 891.8,513.7 892.6,513.5 893.4,513.2 894.2,512.7 895.0,511.9 895.8,510.8 896.6,509.2 897.4,507.0 898.2,503.9 899.0,499.8 899.8,494.4 900.6,488.3 901.4,480.8 902.2,470.9 903.0,460.7 903.8,449.8 904.6,435.9 905.4,422.7 906.2,413.0 907.0,406.0 907.8,400.1 908.6,398.0 909.4,399.0 910.2,400.5 911.0,400.1 911.8,402.7 912.6,406.8 913.4,409.6 914.2,413.5 915.0,419.1 915.8,426.1 916.6,433.0 917.4,438.3 918.2,443.6 919.0,451.1 919.8,458.6 920.6,463.7 921.4,468.7 922.2,474.1 923.0,478.8 923.8,482.6 924.6,486.7 925.4,491.1 926.2,494.7 927.0,497.6 927.8,500.2 928.6,502.6 929.4,504.5 930.2,506.1 931.0,507.8 931.8,509.1 932.6,510.0 933.4,510.8 934.2,511.5 935.0,512.1 935.8,512.5 936.6,512.8 937.4,513.1 938.2,513.4 939.0,513.5 939.8,513.6 940.6,513.7 941.4,513.8 942.2,513.9 943.0,513.9 943.8,513.9 944.6,513.9 945.4,514.0 946.2,514.0 947.0,514.0 947.8,514.0 948.6,514.0 949.4,514.0 950.2,514.0 951.0,514.0 951.8,514.0 952.6,514.0 953.4,514.0 954.2,514.0 955.0,514.0 955.8,514.0 956.6,514.0 957.4,514.0 958.2,514.0 959.0,514.0 959.8,514.0 960.6,514.0 961.4,514.0 962.2,514.0 963.0,514.0 963.8,514.0 964.6,514.0 965.4,514.0 966.2,514.0 967.0,514.0 967.8,514.0 968.6,514.0 969.4,514.0 970.2,514.0 971.0,514.0 971.8,514.0 972.6,514.0 973.4,514.0 974.2,514.0 975.0,514.0 975.8,514.0 976.6,514.0 977.4,514.0 978.2,514.0 979.0,514.0 979.8,514.0 980.6,514.0 981.4,514.0 982.2,514.0 983.0,514.0 983.8,514.0 984.6,514.0 985.4,514.0 986.2,514.0 987.0,514.0 987.8,514.0 988.6,514.0 989.4,514.0 990.2,514.0 991.0,514.0 991.8,514.0 992.6,514.0 993.4,514.0 994.2,514.0 995.0,514.0 995.8,514.0 996.6,514.0 997.4,514.0 998.2,514.0 999.0,514.0 999.8,514.0 1000.6,514.0 1001.4,514.0 1002.2,514.0 1003.0,514.0 1003.8,514.0 1004.6,514.0 1005.4,514.0 1006.2,514.0 1007.0,514.0 1007.8,514.0 1008.6,514.0 1009.4,514.0 1010.2,514.0 1011.0,514.0 1011.8,514.0 1012.6,514.0 1013.4,514.0 1014.2,514.0 1015.0,514.0 1015.8,514.0 1016.6,514.0 1017.4,514.0 1018.2,514.0 1019.0,514.0 1019.8,514.0 1020.6,514.0 1021.4,514.0 1022.2,514.0 1022.5,514.0" fill="#e2e2e2"/>
<polyline points="891.0,512.8 891.8,512.1 892.6,511.4 893.4,510.3 894.2,508.5 895.0,506.3 895.8,504.4 896.6,501.8 897.4,497.6 898.2,492.0 899.0,485.8 899.8,478.3 900.6,470.7 901.4,462.6 902.2,451.5 903.0,440.3 903.8,430.7 904.6,420.3 905.4,408.7 906.2,398.9 907.0,394.2 907.8,394.2 908.6,394.2 909.4,394.2 910.2,394.2 911.0,394.2 911.8,399.5 912.6,398.5 913.4,397.5 914.2,399.4 915.0,404.7 915.8,412.7 916.6,421.0 917.4,423.6 918.2,426.0 919.0,433.1 919.8,438.4 920.6,442.7 921.4,447.6 922.2,452.7 923.0,458.0 923.8,461.9 924.6,466.4 925.4,471.8 926.2,475.5 927.0,477.4 927.8,480.4 928.6,484.5 929.4,488.4 930.2,492.4 931.0,494.9 931.8,496.2 932.6,498.2 933.4,500.8 934.2,502.9 935.0,504.6 935.8,506.2 936.6,507.2 937.4,508.1 938.2,509.1 939.0,510.0 939.8,510.6 940.6,511.1 941.4,511.6 942.2,512.1 943.0,512.4 943.8,512.7" fill="none" stroke="#f00" stroke-width="1.4" stroke-linejoin="round"/>
<polygon points="1023.5,514.0 1023.5,513.7 1024.3,513.4 1025.1,513.0 1025.9,512.2 1026.7,511.1 1027.5,509.4 1028.3,507.1 1029.1,504.0 1029.9,499.5 1030.7,493.4 1031.5,485.9 1032.3,476.1 1033.1,463.8 1033.9,451.3 1034.7,440.3 1035.5,428.9 1036.3,416.7 1037.1,407.6 1037.9,402.3 1038.7,399.4 1039.5,399.4 1040.3,398.8 1041.1,398.6 1041.9,402.6 1042.7,407.1 1043.5,412.1 1044.3,416.4 1045.1,418.7 1045.9,423.3 1046.7,429.5 1047.5,435.5 1048.3,440.9 1049.1,447.2 1049.9,454.1 1050.7,458.4 1051.5,463.1 1052.3,469.7 1053.1,475.0 1053.9,479.6 1054.7,484.2 1055.5,488.0 1056.3,491.2 1057.1,494.7 1057.9,498.0 1058.7,500.6 1059.5,502.7 1060.3,504.5 1061.1,506.1 1061.9,507.7 1062.7,508.9 1063.5,509.9 1064.3,510.7 1065.1,511.3 1065.9,511.9 1066.7,512.3 1067.5,512.7 1068.3,513.0 1069.1,513.2 1069.9,513.4 1070.7,513.5 1071.5,513.7 1072.3,513.7 1073.1,513.8 1073.9,513.9 1074.7,513.9 1075.5,513.9 1076.3,513.9 1077.1,514.0 1077.9,514.0 1078.7,514.0 1079.5,514.0 1080.3,514.0 1081.1,514.0 1081.9,514.0 1082.7,514.0 1083.5,514.0 1084.3,514.0 1085.1,514.0 1085.9,514.0 1086.7,514.0 1087.5,514.0 1088.3,514.0 1089.1,514.0 1089.9,514.0 1090.7,514.0 1091.5,514.0 1092.3,514.0 1093.1,514.0 1093.9,514.0 1094.7,514.0 1095.5,514.0 1096.3,514.0 1097.1,514.0 1097.9,514.0 1098.7,514.0 1099.5,514.0 1100.3,514.0 1101.1,514.0 1101.9,514.0 1102.7,514.0 1103.5,514.0 1104.3,514.0 1105.1,514.0 1105.9,514.0 1106.7,514.0 1107.5,514.0 1108.3,514.0 1109.1,514.0 1109.9,514.0 1110.7,514.0 1111.5,514.0 1112.3,514.0 1113.1,514.0 1113.9,514.0 1114.7,514.0 1115.5,514.0 1116.3,514.0 1117.1,514.0 1117.9,514.0 1118.7,514.0 1119.5,514.0 1120.3,514.0 1121.1,514.0 1121.9,514.0 1122.7,514.0 1123.5,514.0 1124.3,514.0 1125.1,514.0 1125.9,514.0 1126.7,514.0 1127.5,514.0 1128.3,514.0 1129.1,514.0 1129.9,514.0 1130.7,514.0 1131.5,514.0 1132.3,514.0 1133.1,514.0 1133.9,514.0 1134.7,514.0 1135.5,514.0 1136.3,514.0 1137.1,514.0 1137.9,514.0 1138.7,514.0 1139.5,514.0 1140.3,514.0 1141.1,514.0 1141.9,514.0 1142.7,514.0 1143.5,514.0 1144.3,514.0 1145.1,514.0 1145.9,514.0 1146.7,514.0 1147.5,514.0 1148.3,514.0 1149.1,514.0 1149.9,514.0 1150.7,514.0 1151.5,514.0 1152.3,514.0 1153.1,514.0 1153.9,514.0 1154.7,514.0 1155.5,514.0 1156.3,514.0 1156.5,514.0" fill="#e2e2e2"/>
<polyline points="1025.1,513.0 1025.9,512.2 1026.7,511.2 1027.5,509.5 1028.3,507.0 1029.1,503.6 1029.9,499.4 1030.7,493.1 1031.5,484.4 1032.3,474.7 1033.1,463.5 1033.9,451.3 1034.7,439.5 1035.5,426.4 1036.3,414.0 1037.1,406.4 1037.9,402.0 1038.7,397.1 1039.5,394.2 1040.3,394.2 1041.1,395.6 1041.9,396.3 1042.7,398.5 1043.5,404.2 1044.3,410.0 1045.1,416.6 1045.9,421.7 1046.7,421.5 1047.5,423.6 1048.3,432.6 1049.1,442.1 1049.9,447.9 1050.7,454.1 1051.5,461.6 1052.3,466.1 1053.1,469.7 1053.9,475.4 1054.7,480.6 1055.5,484.0 1056.3,487.3 1057.1,491.2 1057.9,494.7 1058.7,497.2 1059.5,499.5 1060.3,501.5 1061.1,503.0 1061.9,505.0 1062.7,506.7 1063.5,508.0 1064.3,509.1 1065.1,510.1 1065.9,510.9 1066.7,511.4 1067.5,511.8 1068.3,512.3 1069.1,512.7" fill="none" stroke="#f00" stroke-width="1.4" stroke-linejoin="round"/>
<polygon points="890.2,642.5 890.2,640.2 891.0,638.8 891.8,636.7 892.6,633.8 893.4,629.6 894.2,624.2 895.0,617.5 895.8,608.5 896.6,598.2 897.4,587.1 898.2,573.2 899.0,559.0 899.8,547.2 900.6,539.1 901.4,534.4 902.2,529.5 903.0,528.2 903.8,528.0 904.6,528.0 905.4,528.0 906.2,530.6 907.0,532.6 907.8,535.2 908.6,539.4 909.4,543.3 910.2,545.7 911.0,549.9 911.8,556.9 912.6,562.1 913.4,565.1 914.2,569.8 915.0,574.5 915.8,578.9 916.6,584.3 917.4,588.0 918.2,591.6 919.0,596.7 919.8,601.4 920.6,605.3 921.4,609.3 922.2,612.4 923.0,614.6 923.8,617.1 924.6,619.9 925.4,623.0 926.2,625.5 927.0,627.5 927.8,629.5 928.6,631.3 929.4,632.7 930.2,634.0 931.0,635.2 931.8,636.2 932.6,637.0 933.4,637.9 934.2,638.7 935.0,639.4 935.8,639.9 936.6,640.3 937.4,640.7 938.2,641.0 939.0,641.3 939.8,641.5 940.6,641.7 941.4,641.8 942.2,642.0 943.0,642.1 943.8,642.2 944.6,642.2 945.4,642.3 946.2,642.3 947.0,642.4 947.8,642.4 948.6,642.4 949.4,642.4 950.2,642.5 951.0,642.5 951.8,642.5 952.6,642.5 953.4,642.5 954.2,642.5 955.0,642.5 955.8,642.5 956.6,642.5 957.4,642.5 958.2,642.5 959.0,642.5 959.8,642.5 960.6,642.5 961.4,642.5 962.2,642.5 963.0,642.5 963.8,642.5 964.6,642.5 965.4,642.5 966.2,642.5 967.0,642.5 967.8,642.5 968.6,642.5 969.4,642.5 970.2,642.5 971.0,642.5 971.8,642.5 972.6,642.5 973.4,642.5 974.2,642.5 975.0,642.5 975.8,642.5 976.6,642.5 977.4,642.5 978.2,642.5 979.0,642.5 979.8,642.5 980.6,642.5 981.4,642.5 982.2,642.5 983.0,642.5 983.8,642.5 984.6,642.5 985.4,642.5 986.2,642.5 987.0,642.5 987.8,642.5 988.6,642.5 989.4,642.5 990.2,642.5 991.0,642.5 991.8,642.5 992.6,642.5 993.4,642.5 994.2,642.5 995.0,642.5 995.8,642.5 996.6,642.5 997.4,642.5 998.2,642.5 999.0,642.5 999.8,642.5 1000.6,642.5 1001.4,642.5 1002.2,642.5 1003.0,642.5 1003.8,642.5 1004.6,642.5 1005.4,642.5 1006.2,642.5 1007.0,642.5 1007.8,642.5 1008.6,642.5 1009.4,642.5 1010.2,642.5 1011.0,642.5 1011.8,642.5 1012.6,642.5 1013.4,642.5 1014.2,642.5 1015.0,642.5 1015.8,642.5 1016.6,642.5 1017.4,642.5 1018.2,642.5 1019.0,642.5 1019.8,642.5 1020.6,642.5 1021.4,642.5 1022.2,642.5 1022.5,642.5" fill="#e2e2e2"/>
<polyline points="890.2,640.2 891.0,638.7 891.8,636.7 892.6,633.6 893.4,628.8 894.2,622.7 895.0,615.7 895.8,607.4 896.6,597.2 897.4,585.4 898.2,572.8 899.0,560.2 899.8,549.7 900.6,538.9 901.4,531.6 902.2,531.0 903.0,529.9 903.8,525.1 904.6,525.1 905.4,525.1 906.2,532.6 907.0,541.5 907.8,541.2 908.6,538.1 909.4,538.9 910.2,541.4 911.0,548.4 911.8,559.3 912.6,563.8 913.4,560.6 914.2,560.2 915.0,563.9 915.8,566.2 916.6,572.6 917.4,580.8 918.2,583.4 919.0,588.2 919.8,594.2 920.6,596.7 921.4,599.3 922.2,602.9 923.0,606.5 923.8,610.8 924.6,615.7 925.4,618.5 926.2,620.1 927.0,622.4 927.8,624.3 928.6,625.9 929.4,627.7 930.2,629.6 931.0,631.4 931.8,632.8 932.6,633.8 933.4,634.9 934.2,636.0 935.0,637.0 935.8,637.7 936.6,638.5 937.4,639.1 938.2,639.6 939.0,640.1 939.8,640.4 940.6,640.7 941.4,641.1 942.2,641.3" fill="none" stroke="#f00" stroke-width="1.4" stroke-linejoin="round"/>
<polygon points="1023.5,642.5 1023.5,640.8 1024.3,639.7 1025.1,638.0 1025.9,635.7 1026.7,632.2 1027.5,627.4 1028.3,621.5 1029.1,613.9 1029.9,604.5 1030.7,594.0 1031.5,581.9 1032.3,568.6 1033.1,557.5 1033.9,549.8 1034.7,541.3 1035.5,530.6 1036.3,526.0 1037.1,526.0 1037.9,526.0 1038.7,526.7 1039.5,529.2 1040.3,530.9 1041.1,532.2 1041.9,536.5 1042.7,542.1 1043.5,545.2 1044.3,547.8 1045.1,553.2 1045.9,559.4 1046.7,563.0 1047.5,564.6 1048.3,568.3 1049.1,572.7 1049.9,576.7 1050.7,581.5 1051.5,585.6 1052.3,589.0 1053.1,591.8 1053.9,594.5 1054.7,597.0 1055.5,599.4 1056.3,602.6 1057.1,606.0 1057.9,608.3 1058.7,609.9 1059.5,611.4 1060.3,613.1 1061.1,615.2 1061.9,616.8 1062.7,618.1 1063.5,619.5 1064.3,620.6 1065.1,621.7 1065.9,623.2 1066.7,624.6 1067.5,625.6 1068.3,626.6 1069.1,627.9 1069.9,629.2 1070.7,630.2 1071.5,630.8 1072.3,631.6 1073.1,632.5 1073.9,633.3 1074.7,633.9 1075.5,634.7 1076.3,635.5 1077.1,636.2 1077.9,636.7 1078.7,637.3 1079.5,637.8 1080.3,638.2 1081.1,638.7 1081.9,639.2 1082.7,639.6 1083.5,640.0 1084.3,640.3 1085.1,640.6 1085.9,640.8 1086.7,641.0 1087.5,641.2 1088.3,641.4 1089.1,641.6 1089.9,641.7 1090.7,641.8 1091.5,641.9 1092.3,642.0 1093.1,642.1 1093.9,642.2 1094.7,642.2 1095.5,642.3 1096.3,642.3 1097.1,642.3 1097.9,642.4 1098.7,642.4 1099.5,642.4 1100.3,642.4 1101.1,642.5 1101.9,642.5 1102.7,642.5 1103.5,642.5 1104.3,642.5 1105.1,642.5 1105.9,642.5 1106.7,642.5 1107.5,642.5 1108.3,642.5 1109.1,642.5 1109.9,642.5 1110.7,642.5 1111.5,642.5 1112.3,642.5 1113.1,642.5 1113.9,642.5 1114.7,642.5 1115.5,642.5 1116.3,642.5 1117.1,642.5 1117.9,642.5 1118.7,642.5 1119.5,642.5 1120.3,642.5 1121.1,642.5 1121.9,642.5 1122.7,642.5 1123.5,642.5 1124.3,642.5 1125.1,642.5 1125.9,642.5 1126.7,642.5 1127.5,642.5 1128.3,642.5 1129.1,642.5 1129.9,642.5 1130.7,642.5 1131.5,642.5 1132.3,642.5 1133.1,642.5 1133.9,642.5 1134.7,642.5 1135.5,642.5 1136.3,642.5 1137.1,642.5 1137.9,642.5 1138.7,642.5 1139.5,642.5 1140.3,642.5 1141.1,642.5 1141.9,642.5 1142.7,642.5 1143.5,642.5 1144.3,642.5 1145.1,642.5 1145.9,642.5 1146.7,642.5 1147.5,642.5 1148.3,642.5 1149.1,642.5 1149.9,642.5 1150.7,642.5 1151.5,642.5 1152.3,642.5 1153.1,642.5 1153.9,642.5 1154.7,642.5 1155.5,642.5 1156.3,642.5 1156.5,642.5" fill="#e2e2e2"/>
<polyline points="1023.5,640.8 1024.3,639.7 1025.1,638.1 1025.9,635.6 1026.7,631.7 1027.5,626.8 1028.3,620.3 1029.1,611.1 1029.9,601.0 1030.7,591.1 1031.5,578.6 1032.3,565.0 1033.1,552.5 1033.9,541.1 1034.7,530.1 1035.5,523.3 1036.3,523.6 1037.1,531.2 1037.9,531.2 1038.7,523.6 1039.5,523.3 1040.3,529.2 1041.1,534.3 1041.9,535.8 1042.7,538.6 1043.5,540.8 1044.3,544.0 1045.1,550.8 1045.9,557.9 1046.7,563.9 1047.5,565.7 1048.3,565.0 1049.1,567.4 1049.9,573.1 1050.7,578.6 1051.5,581.6 1052.3,583.7 1053.1,587.2 1053.9,592.6 1054.7,597.0 1055.5,598.3 1056.3,599.5 1057.1,601.2 1057.9,602.5 1058.7,605.3 1059.5,608.6 1060.3,610.3 1061.1,611.5 1061.9,613.0 1062.7,615.5 1063.5,618.2 1064.3,619.0 1065.1,619.7 1065.9,620.5 1066.7,620.7 1067.5,622.1 1068.3,624.2 1069.1,625.4 1069.9,626.4 1070.7,627.6 1071.5,628.3 1072.3,629.0 1073.1,630.1 1073.9,631.3 1074.7,632.3 1075.5,633.2 1076.3,634.0 1077.1,634.7 1077.9,635.3 1078.7,636.1 1079.5,636.9 1080.3,637.5 1081.1,638.0 1081.9,638.4 1082.7,638.8 1083.5,639.3 1084.3,639.7 1085.1,640.0 1085.9,640.4 1086.7,640.7 1087.5,640.9 1088.3,641.2" fill="none" stroke="#f00" stroke-width="1.4" stroke-linejoin="round"/>
<polygon points="890.2,767.5 890.2,767.0 891.0,766.7 891.8,766.3 892.6,765.8 893.4,765.0 894.2,763.8 895.0,762.3 895.8,760.3 896.6,757.4 897.4,753.9 898.2,750.1 899.0,745.5 899.8,739.6 900.6,732.9 901.4,726.0 902.2,718.0 903.0,708.3 903.8,698.6 904.6,690.2 905.4,681.8 906.2,673.5 907.0,666.5 907.8,660.9 908.6,655.1 909.4,654.3 910.2,654.3 911.0,654.3 911.8,655.2 912.6,658.4 913.4,663.2 914.2,668.0 915.0,674.5 915.8,681.6 916.6,688.0 917.4,695.4 918.2,702.2 919.0,708.4 919.8,715.0 920.6,721.5 921.4,727.2 922.2,732.6 923.0,737.7 923.8,742.0 924.6,746.0 925.4,749.8 926.2,753.2 927.0,756.3 927.8,758.7 928.6,760.3 929.4,761.7 930.2,763.0 931.0,764.0 931.8,764.8 932.6,765.5 933.4,766.0 934.2,766.4 935.0,766.7 935.8,766.9 936.6,767.1 937.4,767.2 938.2,767.3 939.0,767.3 939.8,767.4 940.6,767.4 941.4,767.5 942.2,767.5 943.0,767.5 943.8,767.5 944.6,767.5 945.4,767.5 946.2,767.5 947.0,767.5 947.8,767.5 948.6,767.5 949.4,767.5 950.2,767.5 951.0,767.5 951.8,767.5 952.6,767.5 953.4,767.5 954.2,767.5 955.0,767.5 955.8,767.5 956.6,767.5 957.4,767.5 958.2,767.5 959.0,767.5 959.8,767.5 960.6,767.5 961.4,767.5 962.2,767.5 963.0,767.5 963.8,767.5 964.6,767.5 965.4,767.5 966.2,767.5 967.0,767.5 967.8,767.5 968.6,767.5 969.4,767.5 970.2,767.5 971.0,767.5 971.8,767.5 972.6,767.5 973.4,767.5 974.2,767.5 975.0,767.5 975.8,767.5 976.6,767.5 977.4,767.5 978.2,767.5 979.0,767.5 979.8,767.5 980.6,767.5 981.4,767.5 982.2,767.5 983.0,767.5 983.8,767.5 984.6,767.5 985.4,767.5 986.2,767.5 987.0,767.5 987.8,767.5 988.6,767.5 989.4,767.5 990.2,767.5 991.0,767.5 991.8,767.5 992.6,767.5 993.4,767.5 994.2,767.5 995.0,767.5 995.8,767.5 996.6,767.5 997.4,767.5 998.2,767.5 999.0,767.5 999.8,767.5 1000.6,767.5 1001.4,767.5 1002.2,767.5 1003.0,767.5 1003.8,767.5 1004.6,767.5 1005.4,767.5 1006.2,767.5 1007.0,767.5 1007.8,767.5 1008.6,767.5 1009.4,767.5 1010.2,767.5 1011.0,767.5 1011.8,767.5 1012.6,767.5 1013.4,767.5 1014.2,767.5 1015.0,767.5 1015.8,767.5 1016.6,767.5 1017.4,767.5 1018.2,767.5 1019.0,767.5 1019.8,767.5 1020.6,767.5 1021.4,767.5 1022.2,767.5 1022.5,767.5" fill="#e2e2e2"/>
<polyline points="892.6,766.3 893.4,765.9 894.2,765.4 895.0,764.9 895.8,764.0 896.6,762.8 897.4,761.3 898.2,759.5 899.0,757.9 899.8,756.0 900.6,753.5 901.4,749.9 902.2,745.9 903.0,742.1 903.8,737.9 904.6,731.9 905.4,724.8 906.2,719.2 907.0,714.0 907.8,705.0 908.6,695.5 909.4,690.9 910.2,687.5 911.0,680.2 911.8,671.8 912.6,665.2 913.4,657.9 914.2,653.3 915.0,651.9 915.8,653.5 916.6,655.5 917.4,653.9 918.2,652.4 919.0,655.3 919.8,662.2 920.6,667.7 921.4,672.1 922.2,675.4 923.0,682.0 923.8,692.7 924.6,701.7 925.4,707.9 926.2,713.1 927.0,719.4 927.8,725.1 928.6,731.0 929.4,738.1 930.2,743.3 931.0,747.5 931.8,751.6 932.6,754.7 933.4,756.7 934.2,758.6 935.0,760.6 935.8,762.3 936.6,763.5 937.4,764.5 938.2,765.4 939.0,766.0 939.8,766.4" fill="none" stroke="#f00" stroke-width="1.4" stroke-linejoin="round"/>
<polygon points="1023.5,767.5 1023.5,765.5 1024.3,764.6 1025.1,763.5 1025.9,762.1 1026.7,760.3 1027.5,758.2 1028.3,755.4 1029.1,751.5 1029.9,747.0 1030.7,741.4 1031.5,735.1 1032.3,728.9 1033.1,722.4 1033.9,714.6 1034.7,705.5 1035.5,696.6 1036.3,689.4 1037.1,682.5 1037.9,674.0 1038.7,666.9 1039.5,661.6 1040.3,656.1 1041.1,653.6 1041.9,654.6 1042.7,654.3 1043.5,654.1 1044.3,656.3 1045.1,659.8 1045.9,663.1 1046.7,667.6 1047.5,672.5 1048.3,677.0 1049.1,683.0 1049.9,689.0 1050.7,696.6 1051.5,704.5 1052.3,710.1 1053.1,715.3 1053.9,720.5 1054.7,725.8 1055.5,731.4 1056.3,735.3 1057.1,739.1 1057.9,743.0 1058.7,746.4 1059.5,750.2 1060.3,753.6 1061.1,755.8 1061.9,757.6 1062.7,759.3 1063.5,760.9 1064.3,762.2 1065.1,763.3 1065.9,764.2 1066.7,764.9 1067.5,765.4 1068.3,765.9 1069.1,766.3 1069.9,766.6 1070.7,766.8 1071.5,767.0 1072.3,767.1 1073.1,767.2 1073.9,767.3 1074.7,767.3 1075.5,767.4 1076.3,767.4 1077.1,767.4 1077.9,767.5 1078.7,767.5 1079.5,767.5 1080.3,767.5 1081.1,767.5 1081.9,767.5 1082.7,767.5 1083.5,767.5 1084.3,767.5 1085.1,767.5 1085.9,767.5 1086.7,767.5 1087.5,767.5 1088.3,767.5 1089.1,767.5 1089.9,767.5 1090.7,767.5 1091.5,767.5 1092.3,767.5 1093.1,767.5 1093.9,767.5 1094.7,767.5 1095.5,767.5 1096.3,767.5 1097.1,767.5 1097.9,767.5 1098.7,767.5 1099.5,767.5 1100.3,767.5 1101.1,767.5 1101.9,767.5 1102.7,767.5 1103.5,767.5 1104.3,767.5 1105.1,767.5 1105.9,767.5 1106.7,767.5 1107.5,767.5 1108.3,767.5 1109.1,767.5 1109.9,767.5 1110.7,767.5 1111.5,767.5 1112.3,767.5 1113.1,767.5 1113.9,767.5 1114.7,767.5 1115.5,767.5 1116.3,767.5 1117.1,767.5 1117.9,767.5 1118.7,767.5 1119.5,767.5 1120.3,767.5 1121.1,767.5 1121.9,767.5 1122.7,767.5 1123.5,767.5 1124.3,767.5 1125.1,767.5 1125.9,767.5 1126.7,767.5 1127.5,767.5 1128.3,767.5 1129.1,767.5 1129.9,767.5 1130.7,767.5 1131.5,767.5 1132.3,767.5 1133.1,767.5 1133.9,767.5 1134.7,767.5 1135.5,767.5 1136.3,767.5 1137.1,767.5 1137.9,767.5 1138.7,767.5 1139.5,767.5 1140.3,767.5 1141.1,767.5 1141.9,767.5 1142.7,767.5 1143.5,767.5 1144.3,767.5 1145.1,767.5 1145.9,767.5 1146.7,767.5 1147.5,767.5 1148.3,767.5 1149.1,767.5 1149.9,767.5 1150.7,767.5 1151.5,767.5 1152.3,767.5 1153.1,767.5 1153.9,767.5 1154.7,767.5 1155.5,767.5 1156.3,767.5 1156.5,767.5" fill="#e2e2e2"/>
<polyline points="1023.5,764.8 1024.3,763.7 1025.1,762.2 1025.9,760.3 1026.7,758.2 1027.5,756.2 1028.3,753.7 1029.1,749.9 1029.9,745.5 1030.7,740.5 1031.5,734.2 1032.3,726.6 1033.1,718.7 1033.9,712.2 1034.7,706.0 1035.5,699.1 1036.3,691.0 1037.1,680.7 1037.9,670.9 1038.7,666.0 1039.5,663.4 1040.3,657.2 1041.1,652.5 1041.9,653.3 1042.7,654.9 1043.5,654.0 1044.3,652.7 1045.1,653.9 1045.9,658.7 1046.7,663.3 1047.5,664.5 1048.3,668.9 1049.1,673.6 1049.9,675.6 1050.7,680.9 1051.5,687.2 1052.3,693.2 1053.1,699.5 1053.9,704.1 1054.7,710.9 1055.5,718.2 1056.3,721.6 1057.1,725.2 1057.9,730.6 1058.7,736.0 1059.5,740.1 1060.3,743.5 1061.1,747.2 1061.9,750.2 1062.7,752.7 1063.5,755.3 1064.3,757.1 1065.1,758.3 1065.9,759.6 1066.7,760.9 1067.5,762.1 1068.3,763.3 1069.1,764.1 1069.9,764.7 1070.7,765.3 1071.5,765.7 1072.3,766.0 1073.1,766.3" fill="none" stroke="#f00" stroke-width="1.4" stroke-linejoin="round"/>
<polygon points="890.2,894.5 890.2,894.2 891.0,894.1 891.8,893.9 892.6,893.8 893.4,893.5 894.2,893.2 895.0,892.8 895.8,892.3 896.6,891.6 897.4,890.9 898.2,889.9 899.0,888.8 899.8,887.4 900.6,885.9 901.4,884.2 902.2,882.1 903.0,879.2 903.8,876.1 904.6,872.8 905.4,869.0 906.2,864.9 907.0,860.3 907.8,855.3 908.6,850.5 909.4,845.7 910.2,838.8 911.0,831.2 911.8,824.6 912.6,818.5 913.4,811.5 914.2,803.8 915.0,796.2 915.8,790.1 916.6,787.4 917.4,785.4 918.2,782.3 919.0,780.0 919.8,778.6 920.6,777.3 921.4,776.7 922.2,777.5 923.0,779.4 923.8,781.3 924.6,784.8 925.4,790.3 926.2,796.1 927.0,801.8 927.8,808.1 928.6,816.7 929.4,823.4 930.2,829.3 931.0,837.2 931.8,844.2 932.6,850.8 933.4,857.5 934.2,862.7 935.0,867.1 935.8,871.5 936.6,875.5 937.4,879.1 938.2,882.0 939.0,884.4 939.8,886.5 940.6,888.2 941.4,889.7 942.2,890.8 943.0,891.7 943.8,892.3 944.6,892.8 945.4,893.2 946.2,893.6 947.0,893.8 947.8,894.0 948.6,894.2 949.4,894.3 950.2,894.3 951.0,894.4 951.8,894.4 952.6,894.4 953.4,894.5 954.2,894.5 955.0,894.5 955.8,894.5 956.6,894.5 957.4,894.5 958.2,894.5 959.0,894.5 959.8,894.5 960.6,894.5 961.4,894.5 962.2,894.5 963.0,894.5 963.8,894.5 964.6,894.5 965.4,894.5 966.2,894.5 967.0,894.5 967.8,894.5 968.6,894.5 969.4,894.5 970.2,894.5 971.0,894.5 971.8,894.5 972.6,894.5 973.4,894.5 974.2,894.5 975.0,894.5 975.8,894.5 976.6,894.5 977.4,894.5 978.2,894.5 979.0,894.5 979.8,894.5 980.6,894.5 981.4,894.5 982.2,894.5 983.0,894.5 983.8,894.5 984.6,894.5 985.4,894.5 986.2,894.5 987.0,894.5 987.8,894.5 988.6,894.5 989.4,894.5 990.2,894.5 991.0,894.5 991.8,894.5 992.6,894.5 993.4,894.5 994.2,894.5 995.0,894.5 995.8,894.5 996.6,894.5 997.4,894.5 998.2,894.5 999.0,894.5 999.8,894.5 1000.6,894.5 1001.4,894.5 1002.2,894.5 1003.0,894.5 1003.8,894.5 1004.6,894.5 1005.4,894.5 1006.2,894.5 1007.0,894.5 1007.8,894.5 1008.6,894.5 1009.4,894.5 1010.2,894.5 1011.0,894.5 1011.8,894.5 1012.6,894.5 1013.4,894.5 1014.2,894.5 1015.0,894.5 1015.8,894.5 1016.6,894.5 1017.4,894.5 1018.2,894.5 1019.0,894.5 1019.8,894.5 1020.6,894.5 1021.4,894.5 1022.2,894.5 1022.5,894.5" fill="#e2e2e2"/>
<polyline points="903.8,893.1 904.6,892.9 905.4,892.6 906.2,892.3 907.0,891.9 907.8,891.5 908.6,890.8 909.4,890.2 910.2,889.5 911.0,888.7 911.8,887.9 912.6,887.0 913.4,886.2 914.2,885.2 915.0,883.7 915.8,882.4 916.6,881.7 917.4,880.8 918.2,879.4 919.0,877.9 919.8,876.4 920.6,875.5 921.4,874.7 922.2,873.3 923.0,871.1 923.8,869.0 924.6,868.6 925.4,868.8 926.2,868.6 927.0,868.2 927.8,868.1 928.6,868.5 929.4,868.6 930.2,869.7 931.0,870.7 931.8,870.2 932.6,868.8 933.4,866.6 934.2,864.1 935.0,860.1 935.8,854.4 936.6,848.5 937.4,839.8 938.2,829.4 939.0,818.5 939.8,805.7 940.6,795.5 941.4,789.9 942.2,785.8 943.0,780.9 943.8,777.5 944.6,780.2 945.4,787.4 946.2,793.1 947.0,797.7 947.8,804.5 948.6,814.4 949.4,826.3 950.2,836.3 951.0,843.6 951.8,850.8 952.6,857.9 953.4,863.9 954.2,867.7 955.0,869.8 955.8,871.7 956.6,872.9 957.4,872.5 958.2,871.7 959.0,871.6 959.8,872.2 960.6,872.3 961.4,871.2 962.2,870.3 963.0,870.4 963.8,870.8 964.6,870.7 965.4,870.5 966.2,870.5 967.0,870.7 967.8,871.5 968.6,872.6 969.4,872.7 970.2,872.6 971.0,873.1 971.8,873.4 972.6,874.0 973.4,874.4 974.2,874.3 975.0,875.1 975.8,876.3 976.6,876.4 977.4,876.1 978.2,876.3 979.0,877.1 979.8,877.7 980.6,877.9 981.4,877.6 982.2,877.8 983.0,878.4 983.8,878.7 984.6,878.7 985.4,879.2 986.2,879.9 987.0,880.6 987.8,881.6 988.6,881.9 989.4,881.9 990.2,882.3 991.0,882.8 991.8,883.5 992.6,884.5 993.4,884.9 994.2,884.9 995.0,885.3 995.8,885.7 996.6,885.5 997.4,885.9 998.2,886.9 999.0,887.5 999.8,887.5 1000.6,887.6 1001.4,888.1 1002.2,888.6 1003.0,888.9 1003.8,889.1 1004.6,889.3 1005.4,889.6 1006.2,889.9 1007.0,890.0 1007.8,890.2 1008.6,890.3 1009.4,890.6 1010.2,890.9 1011.0,891.1 1011.8,891.3 1012.6,891.4 1013.4,891.5 1014.2,891.9 1015.0,892.1 1015.8,892.3 1016.6,892.5 1017.4,892.6 1018.2,892.6 1019.0,892.8 1019.8,892.9 1020.6,893.0 1021.4,893.1" fill="none" stroke="#f00" stroke-width="1.4" stroke-linejoin="round"/>
<polygon points="1023.5,894.5 1023.5,894.3 1024.3,894.2 1025.1,894.1 1025.9,894.0 1026.7,893.9 1027.5,893.7 1028.3,893.5 1029.1,893.2 1029.9,892.9 1030.7,892.4 1031.5,891.9 1032.3,891.4 1033.1,890.7 1033.9,889.7 1034.7,888.4 1035.5,887.0 1036.3,885.7 1037.1,884.0 1037.9,881.9 1038.7,879.8 1039.5,877.5 1040.3,875.0 1041.1,872.3 1041.9,868.7 1042.7,864.2 1043.5,859.1 1044.3,855.1 1045.1,851.7 1045.9,846.7 1046.7,841.2 1047.5,835.0 1048.3,829.0 1049.1,823.5 1049.9,816.4 1050.7,810.9 1051.5,807.0 1052.3,801.4 1053.1,795.6 1053.9,791.2 1054.7,788.1 1055.5,784.9 1056.3,780.5 1057.1,777.0 1057.9,777.0 1058.7,777.0 1059.5,777.0 1060.3,777.2 1061.1,779.9 1061.9,782.4 1062.7,787.1 1063.5,791.3 1064.3,792.9 1065.1,795.9 1065.9,802.6 1066.7,807.4 1067.5,809.7 1068.3,816.5 1069.1,825.3 1069.9,831.0 1070.7,836.0 1071.5,840.6 1072.3,844.5 1073.1,849.1 1073.9,854.3 1074.7,860.1 1075.5,864.8 1076.3,867.7 1077.1,871.0 1077.9,874.7 1078.7,877.6 1079.5,879.9 1080.3,881.9 1081.1,883.8 1081.9,885.7 1082.7,887.1 1083.5,888.3 1084.3,889.5 1085.1,890.5 1085.9,891.3 1086.7,891.9 1087.5,892.4 1088.3,892.8 1089.1,893.2 1089.9,893.5 1090.7,893.7 1091.5,893.9 1092.3,894.0 1093.1,894.1 1093.9,894.2 1094.7,894.3 1095.5,894.3 1096.3,894.4 1097.1,894.4 1097.9,894.4 1098.7,894.5 1099.5,894.5 1100.3,894.5 1101.1,894.5 1101.9,894.5 1102.7,894.5 1103.5,894.5 1104.3,894.5 1105.1,894.5 1105.9,894.5 1106.7,894.5 1107.5,894.5 1108.3,894.5 1109.1,894.5 1109.9,894.5 1110.7,894.5 1111.5,894.5 1112.3,894.5 1113.1,894.5 1113.9,894.5 1114.7,894.5 1115.5,894.5 1116.3,894.5 1117.1,894.5 1117.9,894.5 1118.7,894.5 1119.5,894.5 1120.3,894.5 1121.1,894.5 1121.9,894.5 1122.7,894.5 1123.5,894.5 1124.3,894.5 1125.1,894.5 1125.9,894.5 1126.7,894.5 1127.5,894.5 1128.3,894.5 1129.1,894.5 1129.9,894.5 1130.7,894.5 1131.5,894.5 1132.3,894.5 1133.1,894.5 1133.9,894.5 1134.7,894.5 1135.5,894.5 1136.3,894.5 1137.1,894.5 1137.9,894.5 1138.7,894.5 1139.5,894.5 1140.3,894.5 1141.1,894.5 1141.9,894.5 1142.7,894.5 1143.5,894.5 1144.3,894.5 1145.1,894.5 1145.9,894.5 1146.7,894.5 1147.5,894.5 1148.3,894.5 1149.1,894.5 1149.9,894.5 1150.7,894.5 1151.5,894.5 1152.3,894.5 1153.1,894.5 1153.9,894.5 1154.7,894.5 1155.5,894.5 1156.3,894.5 1156.5,894.5" fill="#e2e2e2"/>
<polyline points="1023.5,892.2 1024.3,891.7 1025.1,891.0 1025.9,890.3 1026.7,889.3 1027.5,888.3 1028.3,887.5 1029.1,886.6 1029.9,885.5 1030.7,884.1 1031.5,882.1 1032.3,880.2 1033.1,878.3 1033.9,876.2 1034.7,874.9 1035.5,872.8 1036.3,869.3 1037.1,866.5 1037.9,864.9 1038.7,863.5 1039.5,860.0 1040.3,855.7 1041.1,852.9 1041.9,850.2 1042.7,847.7 1043.5,845.9 1044.3,843.2 1045.1,838.7 1045.9,831.3 1046.7,823.5 1047.5,819.3 1048.3,817.0 1049.1,812.3 1049.9,807.4 1050.7,804.2 1051.5,798.8 1052.3,794.2 1053.1,790.6 1053.9,785.2 1054.7,781.3 1055.5,778.2 1056.3,775.1 1057.1,774.8 1057.9,775.1 1058.7,781.0 1059.5,784.5 1060.3,783.3 1061.1,782.4 1061.9,783.9 1062.7,790.7 1063.5,796.9 1064.3,797.4 1065.1,798.1 1065.9,801.5 1066.7,806.0 1067.5,812.8 1068.3,821.0 1069.1,827.5 1069.9,830.7 1070.7,833.3 1071.5,838.5 1072.3,845.1 1073.1,850.6 1073.9,855.1 1074.7,859.4 1075.5,863.7 1076.3,868.1 1077.1,872.0 1077.9,875.3 1078.7,877.6 1079.5,879.5 1080.3,882.0 1081.1,884.5 1081.9,886.4 1082.7,887.7 1083.5,888.8 1084.3,889.7 1085.1,890.4 1085.9,891.1 1086.7,891.7 1087.5,892.3 1088.3,892.8 1089.1,893.2" fill="none" stroke="#f00" stroke-width="1.4" stroke-linejoin="round"/>
<polygon points="890.2,1022.1 890.2,1020.1 891.0,1019.2 891.8,1017.9 892.6,1016.2 893.4,1014.1 894.2,1011.5 895.0,1008.2 895.8,1003.9 896.6,998.6 897.4,991.7 898.2,984.4 899.0,978.2 899.8,970.1 900.6,958.7 901.4,946.7 902.2,937.7 903.0,931.6 903.8,923.6 904.6,913.5 905.4,906.9 906.2,905.3 907.0,905.6 907.8,905.5 908.6,904.4 909.4,907.8 910.2,915.0 911.0,921.5 911.8,926.8 912.6,931.1 913.4,937.2 914.2,944.5 915.0,951.1 915.8,958.6 916.6,967.1 917.4,974.1 918.2,980.2 919.0,986.2 919.8,991.8 920.6,997.2 921.4,1001.9 922.2,1005.8 923.0,1009.1 923.8,1011.4 924.6,1013.3 925.4,1015.4 926.2,1017.1 927.0,1018.3 927.8,1019.3 928.6,1020.0 929.4,1020.6 930.2,1021.0 931.0,1021.3 931.8,1021.5 932.6,1021.7 933.4,1021.8 934.2,1021.9 935.0,1022.0 935.8,1022.0 936.6,1022.0 937.4,1022.1 938.2,1022.1 939.0,1022.1 939.8,1022.1 940.6,1022.1 941.4,1022.1 942.2,1022.1 943.0,1022.1 943.8,1022.1 944.6,1022.1 945.4,1022.1 946.2,1022.1 947.0,1022.1 947.8,1022.1 948.6,1022.1 949.4,1022.1 950.2,1022.1 951.0,1022.1 951.8,1022.1 952.6,1022.1 953.4,1022.1 954.2,1022.1 955.0,1022.1 955.8,1022.1 956.6,1022.1 957.4,1022.1 958.2,1022.1 959.0,1022.1 959.8,1022.1 960.6,1022.1 961.4,1022.1 962.2,1022.1 963.0,1022.1 963.8,1022.1 964.6,1022.1 965.4,1022.1 966.2,1022.1 967.0,1022.1 967.8,1022.1 968.6,1022.1 969.4,1022.1 970.2,1022.1 971.0,1022.1 971.8,1022.1 972.6,1022.1 973.4,1022.1 974.2,1022.1 975.0,1022.1 975.8,1022.1 976.6,1022.1 977.4,1022.1 978.2,1022.1 979.0,1022.1 979.8,1022.1 980.6,1022.1 981.4,1022.1 982.2,1022.1 983.0,1022.1 983.8,1022.1 984.6,1022.1 985.4,1022.1 986.2,1022.1 987.0,1022.1 987.8,1022.1 988.6,1022.1 989.4,1022.1 990.2,1022.1 991.0,1022.1 991.8,1022.1 992.6,1022.1 993.4,1022.1 994.2,1022.1 995.0,1022.1 995.8,1022.1 996.6,1022.1 997.4,1022.1 998.2,1022.1 999.0,1022.1 999.8,1022.1 1000.6,1022.1 1001.4,1022.1 1002.2,1022.1 1003.0,1022.1 1003.8,1022.1 1004.6,1022.1 1005.4,1022.1 1006.2,1022.1 1007.0,1022.1 1007.8,1022.1 1008.6,1022.1 1009.4,1022.1 1010.2,1022.1 1011.0,1022.1 1011.8,1022.1 1012.6,1022.1 1013.4,1022.1 1014.2,1022.1 1015.0,1022.1 1015.8,1022.1 1016.6,1022.1 1017.4,1022.1 1018.2,1022.1 1019.0,1022.1 1019.8,1022.1 1020.6,1022.1 1021.4,1022.1 1022.2,1022.1 1022.5,1022.1" fill="#e2e2e2"/>
<polyline points="890.2,1011.1 891.0,1009.9 891.8,1008.8 892.6,1007.0 893.4,1004.8 894.2,1002.7 895.0,1001.1 895.8,999.3 896.6,997.3 897.4,995.5 898.2,991.9 899.0,988.6 899.8,986.6 900.6,982.4 901.4,978.5 902.2,976.3 903.0,972.2 903.8,967.9 904.6,967.0 905.4,964.2 906.2,955.5 907.0,947.6 907.8,946.5 908.6,946.2 909.4,941.7 910.2,937.3 911.0,934.1 911.8,931.4 912.6,928.4 913.4,923.2 914.2,921.5 915.0,919.7 915.8,912.4 916.6,909.5 917.4,910.2 918.2,908.9 919.0,908.5 919.8,909.4 920.6,908.9 921.4,903.9 922.2,901.2 923.0,901.2 923.8,906.9 924.6,910.2 925.4,912.5 926.2,915.1 927.0,919.2 927.8,926.0 928.6,936.3 929.4,948.8 930.2,959.3 931.0,966.2 931.8,971.9 932.6,978.0 933.4,985.1 934.2,991.2 935.0,996.3 935.8,1001.8 936.6,1006.3 937.4,1009.4 938.2,1012.3 939.0,1014.9 939.8,1016.8 940.6,1018.2 941.4,1019.3 942.2,1020.1 943.0,1020.7" fill="none" stroke="#f00" stroke-width="1.4" stroke-linejoin="round"/>
<polygon points="1023.5,1022.1 1023.5,1021.1 1024.3,1020.6 1025.1,1019.9 1025.9,1018.9 1026.7,1017.4 1027.5,1015.6 1028.3,1013.2 1029.1,1010.2 1029.9,1006.4 1030.7,1001.9 1031.5,996.5 1032.3,990.2 1033.1,983.1 1033.9,974.5 1034.7,964.9 1035.5,956.0 1036.3,947.3 1037.1,938.5 1037.9,930.4 1038.7,922.9 1039.5,913.9 1040.3,907.4 1041.1,904.0 1041.9,903.0 1042.7,903.0 1043.5,903.0 1044.3,906.0 1045.1,910.7 1045.9,913.2 1046.7,917.9 1047.5,926.0 1048.3,933.8 1049.1,941.1 1049.9,948.4 1050.7,955.1 1051.5,962.4 1052.3,969.4 1053.1,976.1 1053.9,982.5 1054.7,987.1 1055.5,992.2 1056.3,998.3 1057.1,1002.9 1057.9,1005.9 1058.7,1008.8 1059.5,1011.5 1060.3,1013.7 1061.1,1015.3 1061.9,1016.7 1062.7,1017.9 1063.5,1018.8 1064.3,1019.7 1065.1,1020.3 1065.9,1020.8 1066.7,1021.1 1067.5,1021.3 1068.3,1021.6 1069.1,1021.7 1069.9,1021.8 1070.7,1021.9 1071.5,1022.0 1072.3,1022.0 1073.1,1022.0 1073.9,1022.1 1074.7,1022.1 1075.5,1022.1 1076.3,1022.1 1077.1,1022.1 1077.9,1022.1 1078.7,1022.1 1079.5,1022.1 1080.3,1022.1 1081.1,1022.1 1081.9,1022.1 1082.7,1022.1 1083.5,1022.1 1084.3,1022.1 1085.1,1022.1 1085.9,1022.1 1086.7,1022.1 1087.5,1022.1 1088.3,1022.1 1089.1,1022.1 1089.9,1022.1 1090.7,1022.1 1091.5,1022.1 1092.3,1022.1 1093.1,1022.1 1093.9,1022.1 1094.7,1022.1 1095.5,1022.1 1096.3,1022.1 1097.1,1022.1 1097.9,1022.1 1098.7,1022.1 1099.5,1022.1 1100.3,1022.1 1101.1,1022.1 1101.9,1022.1 1102.7,1022.1 1103.5,1022.1 1104.3,1022.1 1105.1,1022.1 1105.9,1022.1 1106.7,1022.1 1107.5,1022.1 1108.3,1022.1 1109.1,1022.1 1109.9,1022.1 1110.7,1022.1 1111.5,1022.1 1112.3,1022.1 1113.1,1022.1 1113.9,1022.1 1114.7,1022.1 1115.5,1022.1 1116.3,1022.1 1117.1,1022.1 1117.9,1022.1 1118.7,1022.1 1119.5,1022.1 1120.3,1022.1 1121.1,1022.1 1121.9,1022.1 1122.7,1022.1 1123.5,1022.1 1124.3,1022.1 1125.1,1022.1 1125.9,1022.1 1126.7,1022.1 1127.5,1022.1 1128.3,1022.1 1129.1,1022.1 1129.9,1022.1 1130.7,1022.1 1131.5,1022.1 1132.3,1022.1 1133.1,1022.1 1133.9,1022.1 1134.7,1022.1 1135.5,1022.1 1136.3,1022.1 1137.1,1022.1 1137.9,1022.1 1138.7,1022.1 1139.5,1022.1 1140.3,1022.1 1141.1,1022.1 1141.9,1022.1 1142.7,1022.1 1143.5,1022.1 1144.3,1022.1 1145.1,1022.1 1145.9,1022.1 1146.7,1022.1 1147.5,1022.1 1148.3,1022.1 1149.1,1022.1 1149.9,1022.1 1150.7,1022.1 1151.5,1022.1 1152.3,1022.1 1153.1,1022.1 1153.9,1022.1 1154.7,1022.1 1155.5,1022.1 1156.3,1022.1 1156.5,1022.1" fill="#e2e2e2"/>
<polyline points="1023.5,1021.1 1024.3,1020.6 1025.1,1019.9 1025.9,1019.1 1026.7,1017.8 1027.5,1015.8 1028.3,1013.1 1029.1,1009.7 1029.9,1005.9 1030.7,1001.1 1031.5,994.8 1032.3,988.6 1033.1,981.6 1033.9,972.4 1034.7,964.0 1035.5,956.4 1036.3,945.9 1037.1,935.5 1037.9,926.5 1038.7,915.5 1039.5,906.7 1040.3,901.8 1041.1,901.8 1041.9,901.8 1042.7,901.8 1043.5,902.5 1044.3,907.0 1045.1,910.8 1045.9,913.0 1046.7,919.2 1047.5,926.3 1048.3,932.3 1049.1,939.4 1049.9,944.7 1050.7,950.8 1051.5,958.8 1052.3,965.6 1053.1,971.3 1053.9,977.1 1054.7,982.3 1055.5,986.4 1056.3,991.2 1057.1,996.0 1057.9,1000.2 1058.7,1004.5 1059.5,1008.5 1060.3,1011.1 1061.1,1012.6 1061.9,1014.1 1062.7,1015.7 1063.5,1017.1 1064.3,1018.3 1065.1,1019.2 1065.9,1019.9 1066.7,1020.4 1067.5,1020.8" fill="none" stroke="#f00" stroke-width="1.4" stroke-linejoin="round"/>
<line x1="103.0" y1="153.0" x2="334.0" y2="153.0" stroke="#b8b8b8" stroke-width="1.5"/>
<line x1="103.0" y1="265.0" x2="334.0" y2="265.0" stroke="#a0a0a0" stroke-width="1.5"/>
<line x1="103.0" y1="380.0" x2="334.0" y2="380.0" stroke="#a0a0a0" stroke-width="1.5"/>
<line x1="103.0" y1="493.0" x2="334.0" y2="493.0" stroke="#a0a0a0" stroke-width="1.5"/>
<line x1="103.0" y1="607.0" x2="334.0" y2="607.0" stroke="#b8b8b8" stroke-width="1.5"/>
<line x1="103.0" y1="153.0" x2="103.0" y2="607.0" stroke="#b8b8b8" stroke-width="1.5"/>
<line x1="218.0" y1="153.0" x2="218.0" y2="607.0" stroke="#666" stroke-width="1.5"/>
<line x1="334.0" y1="153.0" x2="334.0" y2="607.0" stroke="#b8b8b8" stroke-width="1.5"/>
<line x1="103.0" y1="731.6" x2="345.0" y2="731.6" stroke="#b8b8b8" stroke-width="1.5"/>
<line x1="103.0" y1="848.2" x2="345.0" y2="848.2" stroke="#a0a0a0" stroke-width="1.5"/>
<line x1="103.0" y1="967.0" x2="345.0" y2="967.0" stroke="#a0a0a0" stroke-width="1.5"/>
<line x1="103.0" y1="1085.0" x2="345.0" y2="1085.0" stroke="#b8b8b8" stroke-width="1.5"/>
<line x1="103.0" y1="731.6" x2="103.0" y2="1085.0" stroke="#b8b8b8" stroke-width="1.5"/>
<line x1="222.0" y1="731.6" x2="222.0" y2="1085.0" stroke="#666" stroke-width="1.5"/>
<line x1="345.0" y1="731.6" x2="345.0" y2="1085.0" stroke="#b8b8b8" stroke-width="1.5"/>
<line x1="501.0" y1="99.0" x2="727.0" y2="99.0" stroke="#b8b8b8" stroke-width="1.5"/>
<line x1="501.0" y1="213.0" x2="727.0" y2="213.0" stroke="#a0a0a0" stroke-width="1.5"/>
<line x1="501.0" y1="326.5" x2="727.0" y2="326.5" stroke="#a0a0a0" stroke-width="1.5"/>
<line x1="501.0" y1="441.5" x2="727.0" y2="441.5" stroke="#a0a0a0" stroke-width="1.5"/>
<line x1="501.0" y1="555.0" x2="727.0" y2="555.0" stroke="#a0a0a0" stroke-width="1.5"/>
<line x1="501.0" y1="668.0" x2="727.0" y2="668.0" stroke="#b8b8b8" stroke-width="1.5"/>
<line x1="501.0" y1="99.0" x2="501.0" y2="668.0" stroke="#b8b8b8" stroke-width="1.5"/>
<line x1="611.5" y1="99.0" x2="611.5" y2="668.0" stroke="#666" stroke-width="1.5"/>
<line x1="727.0" y1="99.0" x2="727.0" y2="668.0" stroke="#b8b8b8" stroke-width="1.5"/>
<line x1="493.2" y1="819.8" x2="730.7" y2="819.8" stroke="#b8b8b8" stroke-width="1.5"/>
<line x1="493.2" y1="932.6" x2="730.7" y2="932.6" stroke="#a0a0a0" stroke-width="1.5"/>
<line x1="493.2" y1="1044.8" x2="730.7" y2="1044.8" stroke="#b8b8b8" stroke-width="1.5"/>
<line x1="493.2" y1="819.8" x2="493.2" y2="1044.8" stroke="#b8b8b8" stroke-width="1.5"/>
<line x1="611.6" y1="819.8" x2="611.6" y2="1044.8" stroke="#666" stroke-width="1.5"/>
<line x1="730.7" y1="819.8" x2="730.7" y2="1044.8" stroke="#b8b8b8" stroke-width="1.5"/>
<line x1="889.7" y1="131.7" x2="1157.0" y2="131.7" stroke="#b8b8b8" stroke-width="1.5"/>
<line x1="889.7" y1="257.8" x2="1157.0" y2="257.8" stroke="#a0a0a0" stroke-width="1.5"/>
<line x1="889.7" y1="386.3" x2="1157.0" y2="386.3" stroke="#a0a0a0" stroke-width="1.5"/>
<line x1="889.7" y1="514.5" x2="1157.0" y2="514.5" stroke="#a0a0a0" stroke-width="1.5"/>
<line x1="889.7" y1="643.0" x2="1157.0" y2="643.0" stroke="#a0a0a0" stroke-width="1.5"/>
<line x1="889.7" y1="768.0" x2="1157.0" y2="768.0" stroke="#a0a0a0" stroke-width="1.5"/>
<line x1="889.7" y1="895.0" x2="1157.0" y2="895.0" stroke="#a0a0a0" stroke-width="1.5"/>
<line x1="889.7" y1="1022.6" x2="1157.0" y2="1022.6" stroke="#b8b8b8" stroke-width="1.5"/>
<line x1="889.7" y1="131.7" x2="889.7" y2="1022.6" stroke="#b8b8b8" stroke-width="1.5"/>
<line x1="1023.0" y1="131.7" x2="1023.0" y2="1022.6" stroke="#666" stroke-width="1.5"/>
<line x1="1157.0" y1="131.7" x2="1157.0" y2="1022.6" stroke="#b8b8b8" stroke-width="1.5"/>
<text transform="translate(1195.0,60.1) scale(0.97,1.0)" font-size="69.30" font-weight="normal" fill="#000" stroke="#000" stroke-width="0.8">B</text>
<g filter="url(#cm1)"><rect x="1223.2" y="81.2" width="182.20000000000005" height="179.5" fill="#000"/><ellipse cx="0" cy="0" rx="174.0" ry="54.0" fill="url(#gg)" fill-opacity="0.6" transform="translate(1314.0,126.0) rotate(-70)"/><ellipse cx="0" cy="0" rx="39.0" ry="27.0" fill="url(#gg)" fill-opacity="0.4" transform="translate(1292.0,182.0) rotate(-55)"/><ellipse cx="0" cy="0" rx="45.0" ry="30.0" fill="url(#gg)" fill-opacity="0.45" transform="translate(1310.0,158.0) rotate(-55)"/><ellipse cx="0" cy="0" rx="42.0" ry="24.0" fill="url(#gg)" fill-opacity="0.35" transform="translate(1327.0,132.0) rotate(-58)"/><ellipse cx="0" cy="0" rx="18.0" ry="9.0" fill="url(#gg)" fill-opacity="0.1" transform="translate(1310.0,158.0) rotate(-55)"/><ellipse cx="0" cy="0" rx="39.0" ry="66.0" fill="url(#gg)" fill-opacity="0.22" transform="translate(1262.0,205.0) rotate(-20)"/><ellipse cx="0" cy="0" rx="66.0" ry="24.0" fill="url(#gg)" fill-opacity="0.6" transform="translate(1300.0,224.0) rotate(-32)"/><ellipse cx="0" cy="0" rx="30.0" ry="12.0" fill="url(#gg)" fill-opacity="0.3" transform="translate(1305.0,221.0) rotate(-32)"/><ellipse cx="0" cy="0" rx="51.0" ry="15.0" fill="url(#gg)" fill-opacity="0.95" transform="translate(1263.0,248.0) rotate(-8)"/><ellipse cx="0" cy="0" rx="30.0" ry="10.5" fill="url(#gg)" fill-opacity="0.65" transform="translate(1257.0,249.0) rotate(-8)"/></g>
<path d="M1257.5 204.9h1.2v1.2h-1.2zM1253.2 188.6h1.2v1.2h-1.2zM1313.5 147.7h1.2v1.2h-1.2zM1282.3 176.6h1.2v1.2h-1.2zM1371.9 158.1h1.2v1.2h-1.2zM1348.0 171.2h1.2v1.2h-1.2zM1374.1 144.7h1.2v1.2h-1.2zM1346.5 220.1h1.2v1.2h-1.2zM1289.8 195.0h1.2v1.2h-1.2zM1375.3 174.6h1.2v1.2h-1.2zM1284.6 228.9h1.2v1.2h-1.2zM1339.4 116.2h1.2v1.2h-1.2zM1353.2 240.3h1.2v1.2h-1.2zM1361.8 225.6h1.2v1.2h-1.2zM1305.8 202.3h1.2v1.2h-1.2zM1347.5 130.9h1.2v1.2h-1.2zM1281.5 225.7h1.2v1.2h-1.2zM1255.7 153.4h1.2v1.2h-1.2zM1379.8 227.8h1.2v1.2h-1.2zM1366.5 139.5h1.2v1.2h-1.2zM1296.1 210.7h1.2v1.2h-1.2zM1344.3 103.9h1.2v1.2h-1.2zM1308.4 244.1h1.2v1.2h-1.2zM1381.4 226.9h1.2v1.2h-1.2zM1246.9 194.1h1.2v1.2h-1.2zM1343.8 181.2h1.2v1.2h-1.2zM1354.0 118.9h1.2v1.2h-1.2zM1343.9 184.7h1.2v1.2h-1.2zM1272.2 179.6h1.2v1.2h-1.2zM1322.3 169.5h1.2v1.2h-1.2zM1228.4 218.0h1.2v1.2h-1.2zM1392.3 104.9h1.2v1.2h-1.2zM1327.0 172.2h1.2v1.2h-1.2zM1301.0 180.2h1.2v1.2h-1.2zM1292.7 241.5h1.2v1.2h-1.2zM1278.2 168.0h1.2v1.2h-1.2zM1324.4 206.5h1.2v1.2h-1.2zM1300.6 167.9h1.2v1.2h-1.2zM1330.4 123.5h1.2v1.2h-1.2zM1266.7 194.0h1.2v1.2h-1.2zM1282.9 196.7h1.2v1.2h-1.2zM1319.9 156.7h1.2v1.2h-1.2zM1345.7 147.1h1.2v1.2h-1.2zM1327.6 146.2h1.2v1.2h-1.2zM1323.0 181.3h1.2v1.2h-1.2zM1275.5 224.2h1.2v1.2h-1.2zM1338.1 176.7h1.2v1.2h-1.2zM1392.9 222.0h1.2v1.2h-1.2zM1275.0 185.1h1.2v1.2h-1.2zM1309.9 176.8h1.2v1.2h-1.2zM1334.4 189.0h1.2v1.2h-1.2zM1244.8 190.6h1.2v1.2h-1.2zM1313.3 177.3h1.2v1.2h-1.2zM1278.7 216.9h1.2v1.2h-1.2zM1364.5 179.8h1.2v1.2h-1.2zM1294.4 231.0h1.2v1.2h-1.2zM1328.5 133.9h1.2v1.2h-1.2zM1352.6 128.8h1.2v1.2h-1.2zM1335.4 161.0h1.2v1.2h-1.2zM1308.8 163.6h1.2v1.2h-1.2zM1238.0 160.6h1.2v1.2h-1.2zM1309.5 218.1h1.2v1.2h-1.2zM1236.0 227.6h1.2v1.2h-1.2zM1318.4 196.6h1.2v1.2h-1.2zM1272.9 227.7h1.2v1.2h-1.2zM1358.7 108.4h1.2v1.2h-1.2zM1310.3 120.0h1.2v1.2h-1.2zM1259.5 193.6h1.2v1.2h-1.2zM1301.6 142.2h1.2v1.2h-1.2zM1326.8 159.8h1.2v1.2h-1.2zM1359.5 173.5h1.2v1.2h-1.2zM1381.0 178.0h1.2v1.2h-1.2zM1321.4 223.4h1.2v1.2h-1.2zM1385.8 171.7h1.2v1.2h-1.2zM1262.4 224.5h1.2v1.2h-1.2zM1381.4 230.4h1.2v1.2h-1.2zM1330.4 166.7h1.2v1.2h-1.2zM1351.5 206.3h1.2v1.2h-1.2zM1313.7 147.3h1.2v1.2h-1.2zM1333.7 176.9h1.2v1.2h-1.2zM1367.8 229.6h1.2v1.2h-1.2zM1362.1 93.3h1.2v1.2h-1.2zM1288.5 167.4h1.2v1.2h-1.2zM1352.1 219.7h1.2v1.2h-1.2zM1276.5 141.4h1.2v1.2h-1.2zM1266.9 193.1h1.2v1.2h-1.2zM1271.3 169.9h1.2v1.2h-1.2zM1385.1 146.3h1.2v1.2h-1.2zM1347.8 99.6h1.2v1.2h-1.2zM1245.1 217.4h1.2v1.2h-1.2zM1364.4 197.4h1.2v1.2h-1.2zM1267.3 191.8h1.2v1.2h-1.2zM1259.9 196.6h1.2v1.2h-1.2zM1236.8 195.3h1.2v1.2h-1.2zM1364.2 191.6h1.2v1.2h-1.2zM1266.8 228.2h1.2v1.2h-1.2zM1320.0 197.6h1.2v1.2h-1.2zM1334.9 94.9h1.2v1.2h-1.2zM1280.3 222.1h1.2v1.2h-1.2zM1376.4 198.9h1.2v1.2h-1.2zM1250.7 188.6h1.2v1.2h-1.2zM1311.7 178.5h1.2v1.2h-1.2zM1280.0 179.1h1.2v1.2h-1.2zM1265.7 125.5h1.2v1.2h-1.2zM1331.1 134.9h1.2v1.2h-1.2zM1330.4 138.6h1.2v1.2h-1.2zM1333.7 135.9h1.2v1.2h-1.2zM1332.1 201.8h1.2v1.2h-1.2zM1350.9 144.1h1.2v1.2h-1.2zM1279.5 190.6h1.2v1.2h-1.2zM1351.0 149.6h1.2v1.2h-1.2zM1334.5 130.2h1.2v1.2h-1.2zM1300.7 166.7h1.2v1.2h-1.2zM1319.1 210.2h1.2v1.2h-1.2zM1281.1 167.1h1.2v1.2h-1.2zM1310.6 221.6h1.2v1.2h-1.2zM1296.1 222.1h1.2v1.2h-1.2zM1327.7 159.3h1.2v1.2h-1.2zM1325.0 205.1h1.2v1.2h-1.2zM1280.7 187.8h1.2v1.2h-1.2zM1341.0 135.7h1.2v1.2h-1.2zM1330.0 175.2h1.2v1.2h-1.2zM1358.5 173.9h1.2v1.2h-1.2zM1318.3 108.9h1.2v1.2h-1.2zM1256.3 179.8h1.2v1.2h-1.2zM1325.3 161.1h1.2v1.2h-1.2zM1283.1 174.4h1.2v1.2h-1.2zM1244.1 234.5h1.2v1.2h-1.2zM1253.9 231.7h1.2v1.2h-1.2zM1290.3 187.4h1.2v1.2h-1.2zM1313.3 161.9h1.2v1.2h-1.2zM1329.9 146.4h1.2v1.2h-1.2zM1357.2 122.9h1.2v1.2h-1.2zM1311.5 159.9h1.2v1.2h-1.2zM1341.2 211.5h1.2v1.2h-1.2zM1330.6 165.8h1.2v1.2h-1.2zM1330.4 243.7h1.2v1.2h-1.2zM1275.0 138.0h1.2v1.2h-1.2zM1354.8 116.4h1.2v1.2h-1.2zM1300.2 159.3h1.2v1.2h-1.2zM1303.7 217.7h1.2v1.2h-1.2zM1260.8 201.9h1.2v1.2h-1.2zM1353.9 109.4h1.2v1.2h-1.2zM1310.2 162.9h1.2v1.2h-1.2zM1348.4 143.2h1.2v1.2h-1.2zM1379.7 108.7h1.2v1.2h-1.2zM1345.1 172.3h1.2v1.2h-1.2zM1281.2 206.9h1.2v1.2h-1.2zM1361.2 156.5h1.2v1.2h-1.2zM1308.6 179.0h1.2v1.2h-1.2zM1354.7 167.3h1.2v1.2h-1.2zM1312.3 156.7h1.2v1.2h-1.2zM1277.8 200.4h1.2v1.2h-1.2zM1325.7 137.9h1.2v1.2h-1.2zM1324.7 195.6h1.2v1.2h-1.2zM1366.3 179.4h1.2v1.2h-1.2zM1322.0 154.4h1.2v1.2h-1.2zM1272.7 201.4h1.2v1.2h-1.2zM1394.4 254.6h1.2v1.2h-1.2zM1278.2 206.8h1.2v1.2h-1.2zM1303.2 250.7h1.2v1.2h-1.2zM1399.2 174.0h1.2v1.2h-1.2zM1327.9 174.0h1.2v1.2h-1.2zM1255.5 198.3h1.2v1.2h-1.2zM1352.7 113.8h1.2v1.2h-1.2zM1395.7 122.2h1.2v1.2h-1.2zM1338.5 159.1h1.2v1.2h-1.2zM1300.1 197.2h1.2v1.2h-1.2zM1331.9 145.2h1.2v1.2h-1.2zM1318.3 135.6h1.2v1.2h-1.2zM1312.7 180.4h1.2v1.2h-1.2zM1392.8 130.8h1.2v1.2h-1.2zM1399.4 115.4h1.2v1.2h-1.2zM1273.7 223.9h1.2v1.2h-1.2zM1345.9 136.8h1.2v1.2h-1.2zM1273.3 202.3h1.2v1.2h-1.2zM1336.3 108.5h1.2v1.2h-1.2zM1270.0 214.3h1.2v1.2h-1.2zM1321.7 179.4h1.2v1.2h-1.2zM1344.6 116.7h1.2v1.2h-1.2zM1291.2 215.2h1.2v1.2h-1.2zM1252.3 248.5h1.2v1.2h-1.2zM1330.8 151.2h1.2v1.2h-1.2zM1398.1 125.1h1.2v1.2h-1.2zM1349.5 162.5h1.2v1.2h-1.2zM1319.7 123.9h1.2v1.2h-1.2zM1276.5 225.2h1.2v1.2h-1.2zM1307.6 196.6h1.2v1.2h-1.2zM1332.4 185.6h1.2v1.2h-1.2zM1336.4 246.3h1.2v1.2h-1.2zM1390.5 145.1h1.2v1.2h-1.2zM1274.1 201.2h1.2v1.2h-1.2zM1319.7 152.9h1.2v1.2h-1.2zM1299.8 129.1h1.2v1.2h-1.2zM1349.5 128.3h1.2v1.2h-1.2zM1311.1 161.5h1.2v1.2h-1.2zM1309.5 210.2h1.2v1.2h-1.2zM1305.5 156.4h1.2v1.2h-1.2zM1381.7 251.1h1.2v1.2h-1.2zM1324.8 194.6h1.2v1.2h-1.2zM1383.8 164.4h1.2v1.2h-1.2zM1312.9 149.9h1.2v1.2h-1.2zM1290.9 175.7h1.2v1.2h-1.2zM1304.8 160.0h1.2v1.2h-1.2zM1259.4 193.5h1.2v1.2h-1.2zM1336.9 152.9h1.2v1.2h-1.2zM1297.9 137.9h1.2v1.2h-1.2zM1311.2 160.9h1.2v1.2h-1.2zM1279.3 166.8h1.2v1.2h-1.2zM1346.7 157.9h1.2v1.2h-1.2zM1270.3 229.6h1.2v1.2h-1.2zM1254.5 175.8h1.2v1.2h-1.2zM1374.2 187.2h1.2v1.2h-1.2zM1309.9 245.2h1.2v1.2h-1.2zM1344.2 194.1h1.2v1.2h-1.2zM1257.3 177.2h1.2v1.2h-1.2zM1292.2 213.7h1.2v1.2h-1.2zM1308.5 210.1h1.2v1.2h-1.2zM1300.1 186.9h1.2v1.2h-1.2zM1371.4 216.2h1.2v1.2h-1.2zM1336.0 144.2h1.2v1.2h-1.2zM1328.3 125.8h1.2v1.2h-1.2zM1351.8 127.8h1.2v1.2h-1.2zM1293.2 201.3h1.2v1.2h-1.2zM1290.9 202.9h1.2v1.2h-1.2zM1337.2 95.3h1.2v1.2h-1.2zM1336.2 176.6h1.2v1.2h-1.2zM1332.6 154.9h1.2v1.2h-1.2zM1295.1 161.9h1.2v1.2h-1.2zM1289.6 239.6h1.2v1.2h-1.2zM1332.8 196.7h1.2v1.2h-1.2zM1242.1 184.9h1.2v1.2h-1.2zM1288.7 250.7h1.2v1.2h-1.2zM1242.6 202.2h1.2v1.2h-1.2zM1281.1 229.2h1.2v1.2h-1.2zM1332.4 152.9h1.2v1.2h-1.2zM1301.8 239.6h1.2v1.2h-1.2zM1286.1 223.1h1.2v1.2h-1.2zM1374.1 180.4h1.2v1.2h-1.2zM1361.8 177.9h1.2v1.2h-1.2zM1284.9 227.3h1.2v1.2h-1.2zM1314.0 146.1h1.2v1.2h-1.2zM1326.8 106.8h1.2v1.2h-1.2zM1283.5 203.6h1.2v1.2h-1.2zM1316.5 197.4h1.2v1.2h-1.2zM1328.2 117.0h1.2v1.2h-1.2zM1322.1 172.6h1.2v1.2h-1.2zM1370.0 134.9h1.2v1.2h-1.2zM1359.6 100.0h1.2v1.2h-1.2zM1250.1 170.0h1.2v1.2h-1.2zM1294.0 155.3h1.2v1.2h-1.2zM1277.7 223.0h1.2v1.2h-1.2zM1358.1 107.3h1.2v1.2h-1.2zM1234.8 207.8h1.2v1.2h-1.2zM1311.9 164.0h1.2v1.2h-1.2zM1335.9 194.9h1.2v1.2h-1.2zM1347.2 100.9h1.2v1.2h-1.2zM1329.2 190.6h1.2v1.2h-1.2zM1380.5 108.1h1.2v1.2h-1.2zM1354.7 197.8h1.2v1.2h-1.2zM1306.0 182.6h1.2v1.2h-1.2zM1254.7 215.5h1.2v1.2h-1.2zM1354.5 109.5h1.2v1.2h-1.2zM1270.3 248.4h1.2v1.2h-1.2zM1361.1 214.1h1.2v1.2h-1.2zM1299.4 221.2h1.2v1.2h-1.2zM1378.9 100.9h1.2v1.2h-1.2zM1316.0 192.4h1.2v1.2h-1.2zM1291.8 178.6h1.2v1.2h-1.2zM1356.0 132.0h1.2v1.2h-1.2zM1318.8 215.2h1.2v1.2h-1.2zM1325.2 201.9h1.2v1.2h-1.2zM1349.8 209.3h1.2v1.2h-1.2zM1389.5 172.3h1.2v1.2h-1.2zM1362.6 247.4h1.2v1.2h-1.2zM1313.5 110.2h1.2v1.2h-1.2zM1267.1 182.4h1.2v1.2h-1.2zM1318.6 252.0h1.2v1.2h-1.2zM1295.7 205.5h1.2v1.2h-1.2zM1329.6 198.1h1.2v1.2h-1.2zM1284.3 196.7h1.2v1.2h-1.2zM1302.4 121.3h1.2v1.2h-1.2zM1304.3 153.9h1.2v1.2h-1.2zM1356.5 90.3h1.2v1.2h-1.2zM1301.5 209.2h1.2v1.2h-1.2zM1336.7 168.5h1.2v1.2h-1.2zM1360.6 179.0h1.2v1.2h-1.2zM1287.9 231.5h1.2v1.2h-1.2zM1368.9 184.4h1.2v1.2h-1.2zM1347.0 129.8h1.2v1.2h-1.2zM1353.5 210.2h1.2v1.2h-1.2zM1305.9 168.4h1.2v1.2h-1.2zM1271.9 189.5h1.2v1.2h-1.2zM1343.8 178.5h1.2v1.2h-1.2zM1314.6 230.8h1.2v1.2h-1.2zM1375.6 136.0h1.2v1.2h-1.2zM1322.6 113.0h1.2v1.2h-1.2zM1281.6 211.2h1.2v1.2h-1.2zM1294.3 179.3h1.2v1.2h-1.2zM1355.8 126.2h1.2v1.2h-1.2zM1350.2 145.6h1.2v1.2h-1.2zM1294.2 220.0h1.2v1.2h-1.2zM1309.6 109.3h1.2v1.2h-1.2zM1340.9 173.6h1.2v1.2h-1.2zM1339.4 152.1h1.2v1.2h-1.2zM1271.0 121.2h1.2v1.2h-1.2zM1383.5 126.6h1.2v1.2h-1.2zM1295.5 192.9h1.2v1.2h-1.2zM1288.0 200.6h1.2v1.2h-1.2zM1375.4 234.8h1.2v1.2h-1.2zM1339.7 191.4h1.2v1.2h-1.2zM1309.6 219.8h1.2v1.2h-1.2zM1329.8 160.7h1.2v1.2h-1.2zM1378.1 193.5h1.2v1.2h-1.2zM1265.9 184.9h1.2v1.2h-1.2zM1252.3 188.3h1.2v1.2h-1.2zM1311.9 144.0h1.2v1.2h-1.2zM1364.3 116.3h1.2v1.2h-1.2zM1370.7 157.0h1.2v1.2h-1.2zM1326.0 134.9h1.2v1.2h-1.2zM1262.6 188.1h1.2v1.2h-1.2zM1340.3 237.2h1.2v1.2h-1.2zM1320.6 93.0h1.2v1.2h-1.2zM1371.8 102.3h1.2v1.2h-1.2zM1288.0 232.1h1.2v1.2h-1.2zM1287.9 203.2h1.2v1.2h-1.2zM1347.4 136.8h1.2v1.2h-1.2zM1320.6 94.0h1.2v1.2h-1.2zM1365.3 127.6h1.2v1.2h-1.2zM1302.7 135.8h1.2v1.2h-1.2zM1261.3 181.8h1.2v1.2h-1.2zM1289.6 194.2h1.2v1.2h-1.2zM1291.0 203.9h1.2v1.2h-1.2zM1342.4 232.6h1.2v1.2h-1.2zM1265.1 227.4h1.2v1.2h-1.2zM1288.9 223.8h1.2v1.2h-1.2zM1359.1 216.5h1.2v1.2h-1.2zM1301.5 105.1h1.2v1.2h-1.2zM1356.4 121.8h1.2v1.2h-1.2zM1358.3 195.4h1.2v1.2h-1.2zM1303.8 241.4h1.2v1.2h-1.2zM1360.9 116.4h1.2v1.2h-1.2zM1293.9 151.1h1.2v1.2h-1.2zM1294.1 218.8h1.2v1.2h-1.2zM1352.1 129.6h1.2v1.2h-1.2zM1294.0 209.2h1.2v1.2h-1.2zM1358.8 95.2h1.2v1.2h-1.2zM1304.1 178.5h1.2v1.2h-1.2zM1318.1 168.9h1.2v1.2h-1.2zM1302.7 226.2h1.2v1.2h-1.2zM1365.9 198.3h1.2v1.2h-1.2zM1310.7 142.9h1.2v1.2h-1.2zM1337.6 200.0h1.2v1.2h-1.2zM1326.6 186.8h1.2v1.2h-1.2zM1316.4 103.6h1.2v1.2h-1.2zM1355.3 102.9h1.2v1.2h-1.2zM1337.9 213.8h1.2v1.2h-1.2zM1288.8 191.4h1.2v1.2h-1.2zM1397.1 168.7h1.2v1.2h-1.2zM1344.8 124.0h1.2v1.2h-1.2zM1316.1 145.4h1.2v1.2h-1.2zM1323.4 179.8h1.2v1.2h-1.2zM1301.2 192.5h1.2v1.2h-1.2zM1330.3 130.9h1.2v1.2h-1.2zM1363.6 145.4h1.2v1.2h-1.2zM1239.4 199.4h1.2v1.2h-1.2zM1334.7 163.5h1.2v1.2h-1.2zM1376.7 100.0h1.2v1.2h-1.2zM1372.4 104.2h1.2v1.2h-1.2zM1367.4 226.9h1.2v1.2h-1.2zM1345.2 122.0h1.2v1.2h-1.2zM1345.5 191.3h1.2v1.2h-1.2zM1380.3 87.9h1.2v1.2h-1.2zM1313.3 129.2h1.2v1.2h-1.2zM1344.1 165.0h1.2v1.2h-1.2zM1325.4 222.4h1.2v1.2h-1.2zM1329.1 170.5h1.2v1.2h-1.2zM1355.6 118.2h1.2v1.2h-1.2zM1303.8 187.2h1.2v1.2h-1.2zM1320.8 179.7h1.2v1.2h-1.2zM1256.4 198.6h1.2v1.2h-1.2zM1319.5 125.8h1.2v1.2h-1.2zM1312.4 160.5h1.2v1.2h-1.2zM1258.3 228.5h1.2v1.2h-1.2zM1316.7 158.1h1.2v1.2h-1.2zM1256.7 207.8h1.2v1.2h-1.2zM1252.6 251.6h1.2v1.2h-1.2zM1331.4 241.9h1.2v1.2h-1.2zM1338.0 145.5h1.2v1.2h-1.2zM1306.1 201.9h1.2v1.2h-1.2zM1280.8 220.5h1.2v1.2h-1.2zM1387.8 116.0h1.2v1.2h-1.2zM1381.2 136.8h1.2v1.2h-1.2zM1327.4 110.1h1.2v1.2h-1.2zM1367.8 233.1h1.2v1.2h-1.2zM1272.2 214.5h1.2v1.2h-1.2zM1336.4 108.1h1.2v1.2h-1.2zM1373.5 123.1h1.2v1.2h-1.2zM1309.3 126.3h1.2v1.2h-1.2zM1382.9 223.6h1.2v1.2h-1.2zM1360.1 244.6h1.2v1.2h-1.2zM1303.8 192.3h1.2v1.2h-1.2zM1272.6 214.4h1.2v1.2h-1.2zM1313.8 159.3h1.2v1.2h-1.2zM1333.2 246.1h1.2v1.2h-1.2zM1274.8 197.3h1.2v1.2h-1.2zM1319.3 121.6h1.2v1.2h-1.2zM1264.9 217.9h1.2v1.2h-1.2zM1321.2 131.0h1.2v1.2h-1.2zM1261.2 172.1h1.2v1.2h-1.2zM1373.6 223.0h1.2v1.2h-1.2zM1314.1 168.3h1.2v1.2h-1.2zM1318.1 171.9h1.2v1.2h-1.2zM1287.3 198.3h1.2v1.2h-1.2zM1383.1 143.4h1.2v1.2h-1.2zM1316.4 165.5h1.2v1.2h-1.2zM1311.4 108.4h1.2v1.2h-1.2zM1297.4 159.6h1.2v1.2h-1.2zM1303.0 169.3h1.2v1.2h-1.2zM1362.2 171.0h1.2v1.2h-1.2zM1285.1 193.7h1.2v1.2h-1.2zM1340.8 109.5h1.2v1.2h-1.2zM1294.8 150.8h1.2v1.2h-1.2zM1300.9 202.7h1.2v1.2h-1.2zM1343.5 164.6h1.2v1.2h-1.2zM1362.7 182.2h1.2v1.2h-1.2zM1310.6 163.7h1.2v1.2h-1.2zM1270.7 239.8h1.2v1.2h-1.2zM1316.7 196.0h1.2v1.2h-1.2zM1291.7 212.1h1.2v1.2h-1.2zM1273.1 174.1h1.2v1.2h-1.2zM1368.3 175.3h1.2v1.2h-1.2zM1386.6 167.0h1.2v1.2h-1.2zM1337.5 187.1h1.2v1.2h-1.2zM1319.3 147.0h1.2v1.2h-1.2zM1323.2 143.4h1.2v1.2h-1.2zM1327.1 126.9h1.2v1.2h-1.2zM1380.5 215.2h1.2v1.2h-1.2zM1308.0 199.2h1.2v1.2h-1.2zM1301.9 209.1h1.2v1.2h-1.2zM1299.3 112.5h1.2v1.2h-1.2zM1236.0 193.8h1.2v1.2h-1.2zM1346.1 217.9h1.2v1.2h-1.2zM1317.5 139.4h1.2v1.2h-1.2zM1344.1 149.3h1.2v1.2h-1.2zM1259.4 176.8h1.2v1.2h-1.2zM1299.0 141.9h1.2v1.2h-1.2zM1348.0 118.9h1.2v1.2h-1.2zM1284.7 188.0h1.2v1.2h-1.2zM1359.5 229.1h1.2v1.2h-1.2zM1295.2 149.7h1.2v1.2h-1.2zM1292.1 165.1h1.2v1.2h-1.2zM1297.5 148.9h1.2v1.2h-1.2zM1293.9 232.3h1.2v1.2h-1.2zM1315.9 180.7h1.2v1.2h-1.2zM1334.6 120.8h1.2v1.2h-1.2zM1271.9 215.6h1.2v1.2h-1.2zM1359.7 171.8h1.2v1.2h-1.2zM1386.7 143.8h1.2v1.2h-1.2zM1283.9 187.9h1.2v1.2h-1.2zM1395.7 209.4h1.2v1.2h-1.2zM1271.7 225.9h1.2v1.2h-1.2zM1337.7 248.6h1.2v1.2h-1.2zM1266.2 210.3h1.2v1.2h-1.2zM1350.7 137.1h1.2v1.2h-1.2zM1353.8 92.2h1.2v1.2h-1.2zM1340.9 158.1h1.2v1.2h-1.2zM1313.8 149.2h1.2v1.2h-1.2zM1351.4 143.9h1.2v1.2h-1.2zM1345.9 141.9h1.2v1.2h-1.2zM1301.4 252.0h1.2v1.2h-1.2zM1323.7 160.0h1.2v1.2h-1.2zM1308.0 187.4h1.2v1.2h-1.2zM1388.0 137.8h1.2v1.2h-1.2zM1390.1 100.2h1.2v1.2h-1.2zM1274.5 172.5h1.2v1.2h-1.2zM1369.0 240.5h1.2v1.2h-1.2zM1329.3 138.6h1.2v1.2h-1.2zM1339.6 178.4h1.2v1.2h-1.2zM1373.5 212.6h1.2v1.2h-1.2zM1398.9 246.2h1.2v1.2h-1.2zM1283.5 181.8h1.2v1.2h-1.2zM1390.4 244.0h1.2v1.2h-1.2zM1384.1 108.0h1.2v1.2h-1.2zM1266.2 183.6h1.2v1.2h-1.2zM1358.4 150.6h1.2v1.2h-1.2zM1249.8 212.1h1.2v1.2h-1.2zM1257.5 176.7h1.2v1.2h-1.2zM1373.3 232.6h1.2v1.2h-1.2zM1362.1 136.5h1.2v1.2h-1.2zM1355.1 241.0h1.2v1.2h-1.2zM1266.5 132.6h1.2v1.2h-1.2zM1318.9 179.7h1.2v1.2h-1.2zM1303.7 180.0h1.2v1.2h-1.2zM1279.0 190.0h1.2v1.2h-1.2zM1277.1 222.4h1.2v1.2h-1.2zM1277.4 223.2h1.2v1.2h-1.2zM1340.4 151.0h1.2v1.2h-1.2zM1355.8 144.3h1.2v1.2h-1.2zM1345.1 170.6h1.2v1.2h-1.2zM1357.9 110.0h1.2v1.2h-1.2zM1333.2 146.8h1.2v1.2h-1.2zM1380.8 115.4h1.2v1.2h-1.2zM1304.8 192.4h1.2v1.2h-1.2zM1338.0 133.5h1.2v1.2h-1.2zM1286.0 232.9h1.2v1.2h-1.2zM1348.9 158.4h1.2v1.2h-1.2zM1271.0 145.4h1.2v1.2h-1.2zM1354.3 134.5h1.2v1.2h-1.2zM1319.5 144.4h1.2v1.2h-1.2zM1382.3 217.7h1.2v1.2h-1.2zM1378.5 181.1h1.2v1.2h-1.2zM1276.7 222.0h1.2v1.2h-1.2zM1265.5 150.3h1.2v1.2h-1.2zM1326.0 166.4h1.2v1.2h-1.2zM1257.4 151.4h1.2v1.2h-1.2zM1357.6 252.0h1.2v1.2h-1.2zM1275.3 203.4h1.2v1.2h-1.2zM1322.8 183.9h1.2v1.2h-1.2zM1337.4 142.8h1.2v1.2h-1.2zM1323.9 182.9h1.2v1.2h-1.2zM1252.1 216.9h1.2v1.2h-1.2zM1284.1 212.6h1.2v1.2h-1.2zM1334.1 100.1h1.2v1.2h-1.2zM1338.1 156.5h1.2v1.2h-1.2zM1280.8 197.6h1.2v1.2h-1.2zM1320.0 149.3h1.2v1.2h-1.2zM1268.0 183.4h1.2v1.2h-1.2zM1367.2 162.6h1.2v1.2h-1.2zM1253.6 179.3h1.2v1.2h-1.2zM1359.3 168.0h1.2v1.2h-1.2zM1332.9 182.1h1.2v1.2h-1.2zM1276.5 180.4h1.2v1.2h-1.2zM1261.0 163.2h1.2v1.2h-1.2zM1346.7 144.2h1.2v1.2h-1.2zM1321.1 184.0h1.2v1.2h-1.2zM1295.9 172.9h1.2v1.2h-1.2zM1356.6 185.1h1.2v1.2h-1.2zM1358.4 225.3h1.2v1.2h-1.2zM1325.2 117.3h1.2v1.2h-1.2zM1329.8 125.3h1.2v1.2h-1.2zM1337.7 135.4h1.2v1.2h-1.2zM1344.5 142.0h1.2v1.2h-1.2zM1323.4 101.6h1.2v1.2h-1.2zM1301.6 210.7h1.2v1.2h-1.2zM1259.7 246.6h1.2v1.2h-1.2zM1272.5 159.2h1.2v1.2h-1.2zM1283.4 198.7h1.2v1.2h-1.2zM1302.2 192.4h1.2v1.2h-1.2zM1315.4 131.2h1.2v1.2h-1.2zM1301.4 141.1h1.2v1.2h-1.2zM1312.8 134.6h1.2v1.2h-1.2zM1312.1 162.1h1.2v1.2h-1.2zM1323.3 239.1h1.2v1.2h-1.2zM1325.5 147.6h1.2v1.2h-1.2zM1377.2 178.6h1.2v1.2h-1.2zM1240.1 186.9h1.2v1.2h-1.2zM1396.0 116.4h1.2v1.2h-1.2zM1362.1 147.9h1.2v1.2h-1.2zM1271.3 157.6h1.2v1.2h-1.2zM1342.3 168.8h1.2v1.2h-1.2zM1278.0 214.9h1.2v1.2h-1.2zM1329.3 206.0h1.2v1.2h-1.2zM1270.2 215.0h1.2v1.2h-1.2zM1279.2 157.6h1.2v1.2h-1.2zM1357.8 175.7h1.2v1.2h-1.2zM1317.1 201.0h1.2v1.2h-1.2zM1327.5 196.9h1.2v1.2h-1.2zM1384.9 126.1h1.2v1.2h-1.2zM1322.9 112.4h1.2v1.2h-1.2zM1345.1 112.2h1.2v1.2h-1.2zM1239.3 187.1h1.2v1.2h-1.2zM1283.6 182.6h1.2v1.2h-1.2zM1317.1 94.4h1.2v1.2h-1.2zM1315.7 198.1h1.2v1.2h-1.2zM1272.1 153.2h1.2v1.2h-1.2zM1281.8 207.5h1.2v1.2h-1.2zM1317.2 130.4h1.2v1.2h-1.2zM1331.6 180.6h1.2v1.2h-1.2zM1341.3 223.0h1.2v1.2h-1.2zM1308.5 160.0h1.2v1.2h-1.2zM1307.6 191.8h1.2v1.2h-1.2zM1307.5 138.4h1.2v1.2h-1.2zM1358.2 105.8h1.2v1.2h-1.2zM1326.4 112.3h1.2v1.2h-1.2zM1309.9 234.4h1.2v1.2h-1.2zM1276.5 217.6h1.2v1.2h-1.2zM1377.9 117.3h1.2v1.2h-1.2zM1278.3 154.3h1.2v1.2h-1.2zM1328.6 122.8h1.2v1.2h-1.2zM1283.0 204.4h1.2v1.2h-1.2zM1283.7 228.0h1.2v1.2h-1.2zM1359.8 143.4h1.2v1.2h-1.2zM1382.2 166.4h1.2v1.2h-1.2zM1367.6 235.3h1.2v1.2h-1.2zM1358.1 182.5h1.2v1.2h-1.2zM1244.7 232.5h1.2v1.2h-1.2zM1283.8 180.2h1.2v1.2h-1.2zM1290.7 204.7h1.2v1.2h-1.2zM1243.3 141.9h1.2v1.2h-1.2zM1360.2 97.7h1.2v1.2h-1.2zM1332.7 118.3h1.2v1.2h-1.2zM1315.3 139.8h1.2v1.2h-1.2zM1350.4 111.7h1.2v1.2h-1.2zM1341.1 163.5h1.2v1.2h-1.2zM1291.4 175.1h1.2v1.2h-1.2zM1290.3 146.8h1.2v1.2h-1.2zM1251.9 192.1h1.2v1.2h-1.2zM1323.6 171.5h1.2v1.2h-1.2zM1327.9 138.1h1.2v1.2h-1.2zM1391.3 179.7h1.2v1.2h-1.2zM1367.6 191.7h1.2v1.2h-1.2zM1324.9 213.1h1.2v1.2h-1.2zM1323.7 132.8h1.2v1.2h-1.2zM1304.8 128.8h1.2v1.2h-1.2zM1307.3 155.9h1.2v1.2h-1.2zM1325.3 132.0h1.2v1.2h-1.2zM1354.2 176.6h1.2v1.2h-1.2zM1326.8 135.1h1.2v1.2h-1.2zM1289.1 183.6h1.2v1.2h-1.2zM1325.7 122.6h1.2v1.2h-1.2zM1393.4 202.6h1.2v1.2h-1.2zM1343.7 130.2h1.2v1.2h-1.2zM1363.4 159.5h1.2v1.2h-1.2zM1349.2 150.3h1.2v1.2h-1.2zM1383.0 244.2h1.2v1.2h-1.2zM1347.7 199.8h1.2v1.2h-1.2zM1298.5 150.1h1.2v1.2h-1.2zM1297.9 151.7h1.2v1.2h-1.2zM1289.6 209.3h1.2v1.2h-1.2zM1329.3 159.4h1.2v1.2h-1.2zM1312.4 161.4h1.2v1.2h-1.2zM1344.6 113.7h1.2v1.2h-1.2zM1333.3 155.5h1.2v1.2h-1.2zM1329.1 188.8h1.2v1.2h-1.2zM1281.4 159.4h1.2v1.2h-1.2zM1259.9 191.9h1.2v1.2h-1.2zM1371.1 237.8h1.2v1.2h-1.2zM1316.9 133.1h1.2v1.2h-1.2zM1314.1 196.4h1.2v1.2h-1.2zM1307.2 144.6h1.2v1.2h-1.2zM1307.7 143.6h1.2v1.2h-1.2zM1276.8 185.8h1.2v1.2h-1.2zM1248.2 242.6h1.2v1.2h-1.2zM1291.7 200.7h1.2v1.2h-1.2zM1306.8 202.7h1.2v1.2h-1.2zM1256.9 184.4h1.2v1.2h-1.2zM1350.4 112.6h1.2v1.2h-1.2zM1307.5 183.1h1.2v1.2h-1.2zM1320.5 188.0h1.2v1.2h-1.2zM1339.4 150.3h1.2v1.2h-1.2zM1346.7 127.2h1.2v1.2h-1.2zM1334.8 200.5h1.2v1.2h-1.2zM1249.2 177.7h1.2v1.2h-1.2zM1354.8 109.7h1.2v1.2h-1.2zM1314.3 145.7h1.2v1.2h-1.2zM1256.7 173.0h1.2v1.2h-1.2zM1234.6 246.3h1.2v1.2h-1.2zM1328.1 234.0h1.2v1.2h-1.2zM1374.4 225.0h1.2v1.2h-1.2zM1322.4 184.7h1.2v1.2h-1.2zM1257.3 203.0h1.2v1.2h-1.2zM1346.3 199.7h1.2v1.2h-1.2zM1365.6 115.1h1.2v1.2h-1.2zM1257.6 229.8h1.2v1.2h-1.2zM1270.8 198.9h1.2v1.2h-1.2zM1321.2 159.1h1.2v1.2h-1.2zM1370.9 112.6h1.2v1.2h-1.2zM1339.7 124.5h1.2v1.2h-1.2zM1277.0 217.1h1.2v1.2h-1.2zM1381.6 203.6h1.2v1.2h-1.2zM1294.9 213.9h1.2v1.2h-1.2zM1275.9 209.1h1.2v1.2h-1.2zM1303.5 141.2h1.2v1.2h-1.2zM1313.1 139.9h1.2v1.2h-1.2zM1367.3 90.1h1.2v1.2h-1.2zM1228.2 153.4h1.2v1.2h-1.2zM1334.7 180.2h1.2v1.2h-1.2zM1347.1 153.0h1.2v1.2h-1.2zM1326.2 172.0h1.2v1.2h-1.2zM1319.7 249.4h1.2v1.2h-1.2zM1357.0 214.7h1.2v1.2h-1.2zM1380.1 123.0h1.2v1.2h-1.2zM1295.1 183.0h1.2v1.2h-1.2zM1369.8 96.8h1.2v1.2h-1.2zM1332.6 192.0h1.2v1.2h-1.2zM1339.0 99.6h1.2v1.2h-1.2zM1357.0 109.5h1.2v1.2h-1.2zM1256.6 210.3h1.2v1.2h-1.2zM1382.1 144.8h1.2v1.2h-1.2zM1371.7 116.8h1.2v1.2h-1.2zM1356.0 164.9h1.2v1.2h-1.2zM1263.7 212.9h1.2v1.2h-1.2zM1316.9 188.9h1.2v1.2h-1.2zM1368.7 156.7h1.2v1.2h-1.2zM1300.8 186.6h1.2v1.2h-1.2zM1363.2 218.0h1.2v1.2h-1.2zM1389.1 157.1h1.2v1.2h-1.2zM1292.6 229.5h1.2v1.2h-1.2zM1328.8 141.9h1.2v1.2h-1.2zM1332.9 95.8h1.2v1.2h-1.2zM1277.3 156.9h1.2v1.2h-1.2zM1262.5 212.2h1.2v1.2h-1.2zM1354.5 137.6h1.2v1.2h-1.2zM1308.8 213.9h1.2v1.2h-1.2zM1306.7 137.2h1.2v1.2h-1.2zM1330.5 181.9h1.2v1.2h-1.2zM1297.3 193.1h1.2v1.2h-1.2zM1296.4 173.3h1.2v1.2h-1.2zM1257.0 169.6h1.2v1.2h-1.2zM1302.5 176.6h1.2v1.2h-1.2zM1324.6 98.8h1.2v1.2h-1.2zM1303.2 123.9h1.2v1.2h-1.2zM1391.6 190.9h1.2v1.2h-1.2zM1306.8 145.1h1.2v1.2h-1.2zM1260.6 206.9h1.2v1.2h-1.2zM1270.2 208.0h1.2v1.2h-1.2zM1235.6 206.2h1.2v1.2h-1.2zM1335.8 190.6h1.2v1.2h-1.2zM1321.2 178.7h1.2v1.2h-1.2zM1336.0 211.4h1.2v1.2h-1.2zM1330.2 110.1h1.2v1.2h-1.2zM1289.0 204.1h1.2v1.2h-1.2zM1258.5 174.6h1.2v1.2h-1.2zM1281.7 127.7h1.2v1.2h-1.2zM1378.7 136.6h1.2v1.2h-1.2zM1355.8 170.0h1.2v1.2h-1.2zM1240.4 192.0h1.2v1.2h-1.2zM1369.5 236.6h1.2v1.2h-1.2zM1305.4 191.0h1.2v1.2h-1.2zM1350.3 145.8h1.2v1.2h-1.2zM1382.2 118.7h1.2v1.2h-1.2zM1326.7 132.1h1.2v1.2h-1.2zM1273.2 210.0h1.2v1.2h-1.2zM1312.1 126.1h1.2v1.2h-1.2zM1261.4 184.2h1.2v1.2h-1.2zM1269.2 185.4h1.2v1.2h-1.2zM1314.6 163.9h1.2v1.2h-1.2zM1313.4 164.3h1.2v1.2h-1.2zM1280.5 186.6h1.2v1.2h-1.2zM1298.8 172.1h1.2v1.2h-1.2zM1283.5 95.8h1.2v1.2h-1.2zM1288.5 186.7h1.2v1.2h-1.2zM1389.8 152.8h1.2v1.2h-1.2zM1398.5 124.2h1.2v1.2h-1.2zM1346.7 153.7h1.2v1.2h-1.2zM1296.9 111.1h1.2v1.2h-1.2zM1344.9 127.7h1.2v1.2h-1.2zM1332.2 141.2h1.2v1.2h-1.2zM1324.8 149.0h1.2v1.2h-1.2zM1383.3 186.3h1.2v1.2h-1.2zM1301.5 124.8h1.2v1.2h-1.2zM1277.3 186.9h1.2v1.2h-1.2zM1371.7 173.6h1.2v1.2h-1.2zM1334.0 138.1h1.2v1.2h-1.2zM1293.0 203.8h1.2v1.2h-1.2zM1305.4 171.5h1.2v1.2h-1.2zM1390.8 125.2h1.2v1.2h-1.2zM1349.8 133.8h1.2v1.2h-1.2zM1339.0 102.9h1.2v1.2h-1.2zM1361.1 132.0h1.2v1.2h-1.2zM1327.1 193.7h1.2v1.2h-1.2zM1287.3 175.3h1.2v1.2h-1.2zM1330.3 157.8h1.2v1.2h-1.2zM1316.2 128.4h1.2v1.2h-1.2zM1258.2 218.9h1.2v1.2h-1.2zM1339.5 144.1h1.2v1.2h-1.2zM1368.7 160.4h1.2v1.2h-1.2zM1288.9 143.4h1.2v1.2h-1.2zM1382.9 99.7h1.2v1.2h-1.2zM1352.9 191.8h1.2v1.2h-1.2zM1351.2 187.0h1.2v1.2h-1.2zM1336.4 137.8h1.2v1.2h-1.2zM1263.1 186.0h1.2v1.2h-1.2zM1335.6 160.4h1.2v1.2h-1.2zM1315.9 153.6h1.2v1.2h-1.2zM1322.0 169.5h1.2v1.2h-1.2zM1323.9 177.0h1.2v1.2h-1.2zM1375.5 92.8h1.2v1.2h-1.2zM1270.4 210.8h1.2v1.2h-1.2zM1297.0 241.6h1.2v1.2h-1.2zM1311.3 135.0h1.2v1.2h-1.2zM1232.1 210.1h1.2v1.2h-1.2zM1336.7 144.0h1.2v1.2h-1.2zM1291.7 182.0h1.2v1.2h-1.2zM1283.1 164.4h1.2v1.2h-1.2zM1362.2 89.7h1.2v1.2h-1.2zM1269.2 145.7h1.2v1.2h-1.2zM1353.2 138.0h1.2v1.2h-1.2zM1248.1 229.7h1.2v1.2h-1.2zM1367.8 106.0h1.2v1.2h-1.2zM1330.5 154.2h1.2v1.2h-1.2zM1355.8 165.1h1.2v1.2h-1.2zM1331.4 109.6h1.2v1.2h-1.2zM1327.0 204.9h1.2v1.2h-1.2zM1253.7 219.2h1.2v1.2h-1.2zM1303.3 210.8h1.2v1.2h-1.2zM1293.7 199.6h1.2v1.2h-1.2zM1345.7 128.6h1.2v1.2h-1.2zM1252.3 221.5h1.2v1.2h-1.2z" fill="#1a1aff" fill-opacity="0.85"/>
<g filter="url(#cm2)"><rect x="1639.7" y="81.1" width="183.89999999999986" height="180.00000000000003" fill="#000"/><rect x="1643" y="192" width="51" height="51" fill="#fff" fill-opacity="0.52" filter="url(#bl30)"/><rect x="1651" y="201" width="34" height="36" fill="#fff" fill-opacity="0.28" filter="url(#bl40)"/><ellipse cx="0" cy="0" rx="15.0" ry="24.0" fill="url(#gg)" fill-opacity="0.62" transform="translate(1664.0,216.0) rotate(15)"/><ellipse cx="0" cy="0" rx="51.0" ry="36.0" fill="url(#gg)" fill-opacity="0.12" transform="translate(1750.0,217.0) rotate(0)"/><ellipse cx="0" cy="0" rx="36.0" ry="24.0" fill="url(#gg)" fill-opacity="0.55" transform="translate(1744.0,229.0) rotate(-25)"/><ellipse cx="0" cy="0" rx="15.0" ry="10.5" fill="url(#gg)" fill-opacity="0.2" transform="translate(1747.0,225.0) rotate(-30)"/></g>
<path d="M1728.8 214.0h1.2v1.2h-1.2zM1688.4 219.8h1.2v1.2h-1.2zM1653.9 230.0h1.2v1.2h-1.2zM1754.4 202.2h1.2v1.2h-1.2zM1696.8 221.2h1.2v1.2h-1.2zM1748.7 203.0h1.2v1.2h-1.2zM1742.2 208.4h1.2v1.2h-1.2zM1666.9 208.6h1.2v1.2h-1.2zM1763.3 197.3h1.2v1.2h-1.2zM1734.3 214.9h1.2v1.2h-1.2zM1750.3 216.5h1.2v1.2h-1.2zM1649.1 211.7h1.2v1.2h-1.2zM1728.3 219.7h1.2v1.2h-1.2zM1768.7 225.6h1.2v1.2h-1.2zM1672.9 200.4h1.2v1.2h-1.2zM1750.7 193.1h1.2v1.2h-1.2zM1663.4 233.4h1.2v1.2h-1.2zM1761.8 203.8h1.2v1.2h-1.2zM1652.9 241.2h1.2v1.2h-1.2zM1711.8 228.3h1.2v1.2h-1.2zM1763.5 209.7h1.2v1.2h-1.2zM1771.6 212.2h1.2v1.2h-1.2zM1749.7 224.3h1.2v1.2h-1.2zM1665.3 221.9h1.2v1.2h-1.2zM1652.4 232.3h1.2v1.2h-1.2zM1730.8 201.6h1.2v1.2h-1.2zM1744.2 205.3h1.2v1.2h-1.2zM1756.7 204.3h1.2v1.2h-1.2zM1679.1 198.9h1.2v1.2h-1.2zM1667.9 210.9h1.2v1.2h-1.2zM1771.4 210.8h1.2v1.2h-1.2zM1754.2 211.4h1.2v1.2h-1.2zM1655.0 209.7h1.2v1.2h-1.2zM1661.2 219.6h1.2v1.2h-1.2zM1676.6 192.8h1.2v1.2h-1.2zM1755.6 205.7h1.2v1.2h-1.2zM1668.3 208.2h1.2v1.2h-1.2zM1650.1 218.8h1.2v1.2h-1.2zM1662.1 224.7h1.2v1.2h-1.2zM1730.6 220.1h1.2v1.2h-1.2zM1648.9 201.6h1.2v1.2h-1.2zM1756.9 210.6h1.2v1.2h-1.2zM1681.0 222.7h1.2v1.2h-1.2zM1676.3 225.8h1.2v1.2h-1.2zM1679.2 220.1h1.2v1.2h-1.2zM1651.5 212.6h1.2v1.2h-1.2zM1760.1 235.6h1.2v1.2h-1.2zM1733.1 233.5h1.2v1.2h-1.2zM1721.0 212.0h1.2v1.2h-1.2zM1696.6 205.3h1.2v1.2h-1.2zM1663.0 211.9h1.2v1.2h-1.2zM1753.5 229.9h1.2v1.2h-1.2zM1651.3 199.6h1.2v1.2h-1.2zM1738.7 209.4h1.2v1.2h-1.2zM1781.2 228.0h1.2v1.2h-1.2zM1764.5 233.1h1.2v1.2h-1.2zM1741.2 212.3h1.2v1.2h-1.2zM1665.8 214.3h1.2v1.2h-1.2zM1701.4 252.6h1.2v1.2h-1.2zM1657.7 218.6h1.2v1.2h-1.2zM1766.5 221.7h1.2v1.2h-1.2zM1677.1 222.0h1.2v1.2h-1.2zM1749.8 201.0h1.2v1.2h-1.2zM1694.1 209.4h1.2v1.2h-1.2zM1657.5 218.0h1.2v1.2h-1.2zM1649.7 228.7h1.2v1.2h-1.2zM1738.8 214.7h1.2v1.2h-1.2zM1699.0 231.7h1.2v1.2h-1.2zM1688.5 215.7h1.2v1.2h-1.2zM1736.2 217.1h1.2v1.2h-1.2zM1794.4 214.7h1.2v1.2h-1.2zM1771.1 214.8h1.2v1.2h-1.2zM1715.2 218.1h1.2v1.2h-1.2zM1663.4 200.4h1.2v1.2h-1.2zM1658.2 229.6h1.2v1.2h-1.2zM1663.0 207.4h1.2v1.2h-1.2zM1691.9 223.6h1.2v1.2h-1.2zM1747.6 201.5h1.2v1.2h-1.2zM1760.4 218.2h1.2v1.2h-1.2zM1744.4 213.0h1.2v1.2h-1.2z" fill="#1a1aff" fill-opacity="0.85"/>
<g filter="url(#cm3)"><rect x="1707" y="406.8" width="183.20000000000005" height="179.40000000000003" fill="#000"/><rect x="1713" y="446" width="67" height="51" fill="#fff" fill-opacity="0.12" filter="url(#bl30)"/><rect x="1713" y="465" width="59" height="31" fill="#fff" fill-opacity="0.33" filter="url(#bl30)"/><rect x="1713" y="503" width="64" height="71" fill="#fff" fill-opacity="0.23" filter="url(#bl30)"/><rect x="1713" y="509" width="59" height="43" fill="#fff" fill-opacity="0.22" filter="url(#bl40)"/><rect x="1818" y="461" width="50" height="49" fill="#fff" fill-opacity="0.15" filter="url(#bl30)"/><ellipse cx="0" cy="0" rx="15.0" ry="36.0" fill="url(#gg)" fill-opacity="0.45" transform="translate(1852.0,488.0) rotate(0)"/><rect x="1830" y="510" width="39" height="72" fill="#fff" fill-opacity="0.42" filter="url(#bl30)"/><ellipse cx="0" cy="0" rx="24.0" ry="66.0" fill="url(#gg)" fill-opacity="0.5" transform="translate(1853.0,542.0) rotate(0)"/><ellipse cx="0" cy="0" rx="13.5" ry="27.0" fill="url(#gg)" fill-opacity="0.65" transform="translate(1853.0,527.0) rotate(0)"/><ellipse cx="0" cy="0" rx="75.0" ry="120.0" fill="url(#gg)" fill-opacity="0.012" transform="translate(1800.0,505.0) rotate(0)"/></g>
<path d="M1754.5 499.0h1.2v1.2h-1.2zM1786.4 460.3h1.2v1.2h-1.2zM1840.2 480.3h1.2v1.2h-1.2zM1759.2 524.3h1.2v1.2h-1.2zM1772.1 498.8h1.2v1.2h-1.2zM1713.4 491.7h1.2v1.2h-1.2zM1714.8 436.3h1.2v1.2h-1.2zM1762.0 510.9h1.2v1.2h-1.2zM1850.3 524.5h1.2v1.2h-1.2zM1735.1 470.9h1.2v1.2h-1.2zM1773.5 477.7h1.2v1.2h-1.2zM1826.5 476.7h1.2v1.2h-1.2zM1803.3 502.6h1.2v1.2h-1.2zM1852.1 574.4h1.2v1.2h-1.2zM1825.8 504.8h1.2v1.2h-1.2zM1881.0 550.5h1.2v1.2h-1.2zM1802.2 523.1h1.2v1.2h-1.2zM1820.5 497.3h1.2v1.2h-1.2zM1872.6 493.0h1.2v1.2h-1.2zM1735.4 515.1h1.2v1.2h-1.2zM1782.6 492.2h1.2v1.2h-1.2zM1834.4 447.1h1.2v1.2h-1.2zM1763.2 430.3h1.2v1.2h-1.2zM1744.6 560.3h1.2v1.2h-1.2zM1846.1 505.3h1.2v1.2h-1.2zM1845.7 482.9h1.2v1.2h-1.2zM1755.8 505.2h1.2v1.2h-1.2zM1719.1 509.5h1.2v1.2h-1.2zM1835.0 526.1h1.2v1.2h-1.2zM1861.0 506.4h1.2v1.2h-1.2zM1799.8 523.3h1.2v1.2h-1.2zM1810.4 432.5h1.2v1.2h-1.2zM1846.4 484.0h1.2v1.2h-1.2zM1803.1 476.7h1.2v1.2h-1.2zM1752.1 529.7h1.2v1.2h-1.2zM1741.9 538.1h1.2v1.2h-1.2zM1769.0 496.8h1.2v1.2h-1.2zM1835.2 530.4h1.2v1.2h-1.2zM1829.2 507.7h1.2v1.2h-1.2zM1732.2 505.3h1.2v1.2h-1.2zM1718.7 524.5h1.2v1.2h-1.2zM1825.4 430.2h1.2v1.2h-1.2zM1838.3 551.2h1.2v1.2h-1.2zM1753.9 550.0h1.2v1.2h-1.2zM1850.0 509.0h1.2v1.2h-1.2zM1836.4 563.9h1.2v1.2h-1.2zM1798.5 468.3h1.2v1.2h-1.2zM1831.8 570.3h1.2v1.2h-1.2zM1771.1 510.5h1.2v1.2h-1.2zM1846.1 497.6h1.2v1.2h-1.2zM1783.4 495.0h1.2v1.2h-1.2zM1758.6 467.7h1.2v1.2h-1.2zM1779.9 457.8h1.2v1.2h-1.2zM1777.1 556.3h1.2v1.2h-1.2zM1741.8 484.7h1.2v1.2h-1.2zM1862.0 519.1h1.2v1.2h-1.2zM1728.2 528.2h1.2v1.2h-1.2zM1795.7 455.7h1.2v1.2h-1.2zM1871.0 499.7h1.2v1.2h-1.2zM1850.5 502.4h1.2v1.2h-1.2zM1860.5 507.9h1.2v1.2h-1.2zM1800.7 547.1h1.2v1.2h-1.2zM1811.5 477.5h1.2v1.2h-1.2zM1770.7 548.7h1.2v1.2h-1.2zM1816.3 531.3h1.2v1.2h-1.2zM1770.0 491.8h1.2v1.2h-1.2zM1715.8 544.5h1.2v1.2h-1.2zM1826.2 575.2h1.2v1.2h-1.2zM1833.8 452.5h1.2v1.2h-1.2zM1769.5 499.5h1.2v1.2h-1.2zM1826.3 435.6h1.2v1.2h-1.2zM1851.7 510.2h1.2v1.2h-1.2zM1838.1 459.5h1.2v1.2h-1.2zM1722.7 444.3h1.2v1.2h-1.2zM1745.5 526.3h1.2v1.2h-1.2zM1841.1 480.0h1.2v1.2h-1.2zM1853.9 488.7h1.2v1.2h-1.2zM1810.2 581.0h1.2v1.2h-1.2zM1769.2 506.4h1.2v1.2h-1.2zM1756.5 481.6h1.2v1.2h-1.2zM1797.5 503.2h1.2v1.2h-1.2zM1775.9 509.1h1.2v1.2h-1.2zM1779.2 421.2h1.2v1.2h-1.2zM1779.4 478.8h1.2v1.2h-1.2zM1801.4 453.1h1.2v1.2h-1.2zM1833.9 506.3h1.2v1.2h-1.2zM1798.4 501.5h1.2v1.2h-1.2zM1816.6 508.6h1.2v1.2h-1.2zM1815.3 472.6h1.2v1.2h-1.2zM1761.9 494.5h1.2v1.2h-1.2zM1760.3 568.9h1.2v1.2h-1.2zM1844.0 550.9h1.2v1.2h-1.2zM1749.1 466.9h1.2v1.2h-1.2zM1794.7 547.5h1.2v1.2h-1.2zM1850.9 581.2h1.2v1.2h-1.2zM1845.2 447.3h1.2v1.2h-1.2zM1865.5 556.7h1.2v1.2h-1.2zM1852.7 528.6h1.2v1.2h-1.2zM1793.9 502.2h1.2v1.2h-1.2zM1760.9 507.7h1.2v1.2h-1.2zM1781.0 564.1h1.2v1.2h-1.2zM1748.7 496.2h1.2v1.2h-1.2zM1745.3 544.9h1.2v1.2h-1.2zM1847.6 511.2h1.2v1.2h-1.2zM1827.1 510.6h1.2v1.2h-1.2zM1769.1 479.2h1.2v1.2h-1.2zM1758.8 561.0h1.2v1.2h-1.2zM1818.1 475.9h1.2v1.2h-1.2zM1799.9 460.3h1.2v1.2h-1.2zM1881.2 509.7h1.2v1.2h-1.2zM1768.7 512.8h1.2v1.2h-1.2zM1766.8 551.2h1.2v1.2h-1.2zM1774.0 571.0h1.2v1.2h-1.2zM1782.2 445.9h1.2v1.2h-1.2zM1784.0 548.4h1.2v1.2h-1.2zM1838.2 499.8h1.2v1.2h-1.2zM1741.9 518.6h1.2v1.2h-1.2zM1791.0 498.4h1.2v1.2h-1.2zM1744.9 530.1h1.2v1.2h-1.2zM1859.9 522.2h1.2v1.2h-1.2zM1811.6 422.1h1.2v1.2h-1.2zM1825.6 528.2h1.2v1.2h-1.2zM1776.6 453.2h1.2v1.2h-1.2zM1848.3 473.9h1.2v1.2h-1.2zM1833.7 564.5h1.2v1.2h-1.2zM1774.1 491.0h1.2v1.2h-1.2zM1796.0 484.4h1.2v1.2h-1.2zM1831.5 462.2h1.2v1.2h-1.2zM1848.1 528.7h1.2v1.2h-1.2zM1748.0 468.6h1.2v1.2h-1.2zM1856.9 504.9h1.2v1.2h-1.2zM1752.3 461.5h1.2v1.2h-1.2zM1824.2 518.6h1.2v1.2h-1.2zM1871.2 543.9h1.2v1.2h-1.2zM1788.5 488.2h1.2v1.2h-1.2zM1876.1 493.0h1.2v1.2h-1.2zM1841.3 526.6h1.2v1.2h-1.2zM1737.4 549.4h1.2v1.2h-1.2zM1832.2 513.5h1.2v1.2h-1.2zM1843.5 501.6h1.2v1.2h-1.2zM1733.6 476.9h1.2v1.2h-1.2zM1721.3 458.4h1.2v1.2h-1.2zM1864.2 458.8h1.2v1.2h-1.2zM1841.3 480.9h1.2v1.2h-1.2zM1843.2 579.9h1.2v1.2h-1.2zM1856.8 510.9h1.2v1.2h-1.2zM1817.6 493.8h1.2v1.2h-1.2zM1850.3 476.6h1.2v1.2h-1.2zM1851.8 558.3h1.2v1.2h-1.2zM1850.4 451.1h1.2v1.2h-1.2zM1834.8 447.7h1.2v1.2h-1.2zM1802.5 544.2h1.2v1.2h-1.2zM1719.8 480.3h1.2v1.2h-1.2zM1756.5 477.7h1.2v1.2h-1.2zM1817.5 469.8h1.2v1.2h-1.2zM1770.9 451.5h1.2v1.2h-1.2zM1855.8 487.2h1.2v1.2h-1.2zM1850.5 526.4h1.2v1.2h-1.2zM1879.6 478.4h1.2v1.2h-1.2zM1769.6 446.6h1.2v1.2h-1.2zM1824.6 461.5h1.2v1.2h-1.2zM1738.1 565.6h1.2v1.2h-1.2zM1815.8 457.0h1.2v1.2h-1.2zM1767.7 488.6h1.2v1.2h-1.2zM1770.7 555.4h1.2v1.2h-1.2zM1787.9 465.2h1.2v1.2h-1.2zM1788.2 498.8h1.2v1.2h-1.2zM1744.7 465.1h1.2v1.2h-1.2zM1746.0 561.6h1.2v1.2h-1.2zM1848.9 489.3h1.2v1.2h-1.2zM1781.8 470.3h1.2v1.2h-1.2zM1835.4 544.2h1.2v1.2h-1.2zM1807.5 492.7h1.2v1.2h-1.2zM1723.3 500.5h1.2v1.2h-1.2zM1752.8 509.8h1.2v1.2h-1.2zM1802.0 446.3h1.2v1.2h-1.2zM1739.6 427.0h1.2v1.2h-1.2zM1750.8 503.7h1.2v1.2h-1.2zM1788.8 460.9h1.2v1.2h-1.2zM1783.4 503.7h1.2v1.2h-1.2zM1752.9 515.7h1.2v1.2h-1.2zM1786.8 522.1h1.2v1.2h-1.2zM1758.5 519.7h1.2v1.2h-1.2zM1856.7 493.9h1.2v1.2h-1.2zM1860.6 537.2h1.2v1.2h-1.2zM1830.3 509.4h1.2v1.2h-1.2zM1828.3 494.1h1.2v1.2h-1.2zM1856.7 460.3h1.2v1.2h-1.2zM1731.1 560.9h1.2v1.2h-1.2zM1753.8 579.9h1.2v1.2h-1.2zM1796.9 490.3h1.2v1.2h-1.2zM1729.6 527.0h1.2v1.2h-1.2zM1852.7 559.8h1.2v1.2h-1.2zM1798.3 529.2h1.2v1.2h-1.2zM1832.1 515.9h1.2v1.2h-1.2zM1810.9 459.9h1.2v1.2h-1.2zM1859.7 517.8h1.2v1.2h-1.2zM1825.5 505.4h1.2v1.2h-1.2zM1838.0 429.8h1.2v1.2h-1.2zM1826.9 515.2h1.2v1.2h-1.2zM1746.6 540.3h1.2v1.2h-1.2zM1796.3 521.7h1.2v1.2h-1.2zM1789.5 555.4h1.2v1.2h-1.2zM1809.1 531.5h1.2v1.2h-1.2zM1798.8 536.2h1.2v1.2h-1.2zM1848.6 518.1h1.2v1.2h-1.2zM1780.6 508.8h1.2v1.2h-1.2zM1722.8 502.6h1.2v1.2h-1.2zM1823.6 541.8h1.2v1.2h-1.2zM1772.5 513.5h1.2v1.2h-1.2zM1814.8 481.0h1.2v1.2h-1.2zM1792.8 543.9h1.2v1.2h-1.2zM1774.4 508.2h1.2v1.2h-1.2zM1861.1 530.4h1.2v1.2h-1.2zM1748.8 495.9h1.2v1.2h-1.2zM1806.4 536.6h1.2v1.2h-1.2zM1844.4 568.4h1.2v1.2h-1.2zM1881.0 522.5h1.2v1.2h-1.2zM1785.3 505.0h1.2v1.2h-1.2zM1803.5 518.1h1.2v1.2h-1.2z" fill="#1a1aff" fill-opacity="0.85"/>
<g filter="url(#cm4)"><rect x="1193.1" y="744.4" width="178.5" height="179.89999999999998" fill="#000"/><ellipse cx="0" cy="0" rx="174.0" ry="39.0" fill="url(#gg)" fill-opacity="0.47" transform="translate(1270.0,825.0) rotate(-57)"/><ellipse cx="0" cy="0" rx="42.0" ry="24.0" fill="url(#gg)" fill-opacity="0.35" transform="translate(1255.0,855.0) rotate(-55)"/><ellipse cx="0" cy="0" rx="42.0" ry="24.0" fill="url(#gg)" fill-opacity="0.35" transform="translate(1270.0,837.0) rotate(-55)"/><ellipse cx="0" cy="0" rx="42.0" ry="24.0" fill="url(#gg)" fill-opacity="0.3" transform="translate(1285.0,815.0) rotate(-55)"/><ellipse cx="0" cy="0" rx="18.0" ry="9.0" fill="url(#gg)" fill-opacity="0.12" transform="translate(1270.0,838.0) rotate(-58)"/><ellipse cx="0" cy="0" rx="60.0" ry="48.0" fill="url(#gg)" fill-opacity="0.35" transform="translate(1240.0,875.0) rotate(-50)"/><ellipse cx="0" cy="0" rx="60.0" ry="30.0" fill="url(#gg)" fill-opacity="0.3" transform="translate(1300.0,775.0) rotate(-57)"/><ellipse cx="0" cy="0" rx="42.0" ry="15.0" fill="url(#gg)" fill-opacity="0.95" transform="translate(1229.0,911.0) rotate(-18)"/><ellipse cx="0" cy="0" rx="21.0" ry="9.0" fill="url(#gg)" fill-opacity="0.6" transform="translate(1223.0,912.0) rotate(-18)"/><ellipse cx="0" cy="0" rx="180.0" ry="105.0" fill="url(#gg)" fill-opacity="0.04" transform="translate(1280.0,830.0) rotate(-50)"/></g>
<path d="M1252.0 805.7h1.2v1.2h-1.2zM1292.2 777.7h1.2v1.2h-1.2zM1269.3 816.0h1.2v1.2h-1.2zM1269.5 869.7h1.2v1.2h-1.2zM1259.5 914.4h1.2v1.2h-1.2zM1268.8 853.2h1.2v1.2h-1.2zM1272.4 787.5h1.2v1.2h-1.2zM1236.7 896.8h1.2v1.2h-1.2zM1302.1 808.6h1.2v1.2h-1.2zM1309.3 852.4h1.2v1.2h-1.2zM1234.6 854.1h1.2v1.2h-1.2zM1273.7 877.7h1.2v1.2h-1.2zM1235.2 873.3h1.2v1.2h-1.2zM1244.0 820.8h1.2v1.2h-1.2zM1271.9 853.1h1.2v1.2h-1.2zM1260.0 820.4h1.2v1.2h-1.2zM1258.6 800.7h1.2v1.2h-1.2zM1266.1 817.6h1.2v1.2h-1.2zM1261.6 841.3h1.2v1.2h-1.2zM1293.2 840.6h1.2v1.2h-1.2zM1234.4 853.4h1.2v1.2h-1.2zM1260.2 798.1h1.2v1.2h-1.2zM1299.6 807.0h1.2v1.2h-1.2zM1310.8 811.7h1.2v1.2h-1.2zM1283.3 812.8h1.2v1.2h-1.2zM1324.1 783.9h1.2v1.2h-1.2zM1293.8 787.1h1.2v1.2h-1.2zM1281.3 841.1h1.2v1.2h-1.2zM1303.3 774.5h1.2v1.2h-1.2zM1284.5 808.8h1.2v1.2h-1.2zM1290.7 817.0h1.2v1.2h-1.2zM1271.6 777.1h1.2v1.2h-1.2zM1279.0 836.9h1.2v1.2h-1.2zM1255.6 887.0h1.2v1.2h-1.2zM1248.1 903.6h1.2v1.2h-1.2zM1285.5 826.4h1.2v1.2h-1.2zM1277.0 819.3h1.2v1.2h-1.2zM1350.8 796.5h1.2v1.2h-1.2zM1300.9 775.6h1.2v1.2h-1.2zM1262.4 893.7h1.2v1.2h-1.2zM1243.4 809.6h1.2v1.2h-1.2zM1306.0 815.2h1.2v1.2h-1.2zM1343.0 805.4h1.2v1.2h-1.2zM1269.5 805.3h1.2v1.2h-1.2zM1325.8 792.8h1.2v1.2h-1.2zM1251.1 845.3h1.2v1.2h-1.2zM1240.9 871.3h1.2v1.2h-1.2zM1307.5 781.1h1.2v1.2h-1.2zM1308.2 774.8h1.2v1.2h-1.2zM1295.0 825.8h1.2v1.2h-1.2zM1249.1 815.7h1.2v1.2h-1.2zM1271.8 807.5h1.2v1.2h-1.2zM1259.8 817.1h1.2v1.2h-1.2zM1284.0 856.4h1.2v1.2h-1.2zM1286.7 771.4h1.2v1.2h-1.2zM1302.2 819.9h1.2v1.2h-1.2zM1339.1 811.9h1.2v1.2h-1.2zM1283.2 777.1h1.2v1.2h-1.2zM1283.1 852.4h1.2v1.2h-1.2zM1272.2 808.8h1.2v1.2h-1.2zM1304.1 789.6h1.2v1.2h-1.2zM1288.5 762.2h1.2v1.2h-1.2zM1245.2 878.0h1.2v1.2h-1.2zM1309.2 833.2h1.2v1.2h-1.2zM1269.4 893.2h1.2v1.2h-1.2zM1300.2 809.7h1.2v1.2h-1.2zM1268.4 826.0h1.2v1.2h-1.2zM1270.9 825.4h1.2v1.2h-1.2zM1249.9 870.5h1.2v1.2h-1.2zM1277.7 772.6h1.2v1.2h-1.2zM1259.2 852.1h1.2v1.2h-1.2zM1272.5 844.2h1.2v1.2h-1.2zM1254.7 798.0h1.2v1.2h-1.2zM1294.7 813.5h1.2v1.2h-1.2zM1233.6 871.1h1.2v1.2h-1.2zM1346.5 776.6h1.2v1.2h-1.2zM1293.7 836.2h1.2v1.2h-1.2zM1351.0 828.6h1.2v1.2h-1.2zM1322.3 786.9h1.2v1.2h-1.2zM1311.0 853.0h1.2v1.2h-1.2zM1302.4 766.9h1.2v1.2h-1.2zM1230.6 868.9h1.2v1.2h-1.2zM1258.7 882.0h1.2v1.2h-1.2zM1261.9 912.6h1.2v1.2h-1.2zM1243.4 858.9h1.2v1.2h-1.2zM1334.6 761.5h1.2v1.2h-1.2zM1285.6 807.4h1.2v1.2h-1.2zM1277.6 830.5h1.2v1.2h-1.2zM1295.7 839.9h1.2v1.2h-1.2zM1238.7 902.3h1.2v1.2h-1.2zM1239.9 782.5h1.2v1.2h-1.2zM1269.6 829.9h1.2v1.2h-1.2zM1284.0 838.5h1.2v1.2h-1.2zM1346.6 781.4h1.2v1.2h-1.2zM1364.4 835.1h1.2v1.2h-1.2zM1277.2 849.7h1.2v1.2h-1.2zM1362.6 820.1h1.2v1.2h-1.2zM1260.4 870.7h1.2v1.2h-1.2zM1233.0 917.4h1.2v1.2h-1.2zM1198.9 904.7h1.2v1.2h-1.2zM1271.8 825.3h1.2v1.2h-1.2zM1271.1 832.4h1.2v1.2h-1.2zM1343.3 807.1h1.2v1.2h-1.2zM1238.0 857.8h1.2v1.2h-1.2zM1277.9 790.8h1.2v1.2h-1.2zM1241.9 876.9h1.2v1.2h-1.2zM1286.1 841.8h1.2v1.2h-1.2zM1270.0 780.9h1.2v1.2h-1.2zM1266.5 795.8h1.2v1.2h-1.2zM1258.5 824.5h1.2v1.2h-1.2zM1279.9 755.3h1.2v1.2h-1.2zM1245.6 872.7h1.2v1.2h-1.2zM1297.5 850.5h1.2v1.2h-1.2zM1320.0 820.4h1.2v1.2h-1.2zM1274.6 820.8h1.2v1.2h-1.2zM1324.9 794.5h1.2v1.2h-1.2zM1249.6 882.3h1.2v1.2h-1.2zM1355.4 798.1h1.2v1.2h-1.2zM1252.1 803.8h1.2v1.2h-1.2zM1227.8 858.8h1.2v1.2h-1.2zM1246.8 848.8h1.2v1.2h-1.2zM1273.3 770.2h1.2v1.2h-1.2zM1223.8 842.8h1.2v1.2h-1.2zM1322.5 824.5h1.2v1.2h-1.2zM1251.4 852.7h1.2v1.2h-1.2zM1327.1 818.6h1.2v1.2h-1.2zM1274.8 767.9h1.2v1.2h-1.2zM1227.9 859.4h1.2v1.2h-1.2zM1290.6 764.9h1.2v1.2h-1.2zM1231.7 844.1h1.2v1.2h-1.2zM1289.4 792.9h1.2v1.2h-1.2zM1222.0 906.2h1.2v1.2h-1.2zM1279.4 796.4h1.2v1.2h-1.2zM1268.8 817.6h1.2v1.2h-1.2zM1208.9 869.5h1.2v1.2h-1.2zM1216.8 764.1h1.2v1.2h-1.2zM1314.0 789.5h1.2v1.2h-1.2zM1287.9 786.0h1.2v1.2h-1.2zM1226.8 807.3h1.2v1.2h-1.2zM1269.3 816.0h1.2v1.2h-1.2zM1287.9 909.1h1.2v1.2h-1.2zM1255.5 768.0h1.2v1.2h-1.2zM1317.7 769.0h1.2v1.2h-1.2zM1252.0 874.3h1.2v1.2h-1.2zM1230.9 890.2h1.2v1.2h-1.2zM1267.2 879.4h1.2v1.2h-1.2zM1235.1 781.7h1.2v1.2h-1.2zM1272.9 890.2h1.2v1.2h-1.2zM1284.6 833.4h1.2v1.2h-1.2zM1288.6 856.2h1.2v1.2h-1.2zM1197.7 884.1h1.2v1.2h-1.2zM1226.9 813.8h1.2v1.2h-1.2zM1322.5 750.4h1.2v1.2h-1.2zM1261.4 850.8h1.2v1.2h-1.2zM1318.3 852.2h1.2v1.2h-1.2zM1286.1 826.2h1.2v1.2h-1.2zM1272.4 804.6h1.2v1.2h-1.2zM1270.6 794.9h1.2v1.2h-1.2zM1356.7 829.8h1.2v1.2h-1.2zM1294.9 833.6h1.2v1.2h-1.2zM1276.6 760.4h1.2v1.2h-1.2zM1242.1 806.7h1.2v1.2h-1.2zM1302.9 797.6h1.2v1.2h-1.2zM1315.3 791.9h1.2v1.2h-1.2zM1273.1 802.6h1.2v1.2h-1.2zM1295.1 783.5h1.2v1.2h-1.2zM1259.3 859.6h1.2v1.2h-1.2zM1309.8 782.4h1.2v1.2h-1.2zM1356.1 819.2h1.2v1.2h-1.2zM1279.5 799.6h1.2v1.2h-1.2zM1343.1 784.6h1.2v1.2h-1.2zM1306.3 773.7h1.2v1.2h-1.2zM1290.3 767.3h1.2v1.2h-1.2zM1259.8 845.6h1.2v1.2h-1.2zM1217.6 805.4h1.2v1.2h-1.2zM1288.9 812.8h1.2v1.2h-1.2zM1222.6 877.3h1.2v1.2h-1.2zM1272.5 797.6h1.2v1.2h-1.2zM1267.7 895.6h1.2v1.2h-1.2zM1249.6 834.6h1.2v1.2h-1.2zM1299.1 856.2h1.2v1.2h-1.2zM1323.7 774.9h1.2v1.2h-1.2zM1279.1 823.0h1.2v1.2h-1.2zM1208.9 903.3h1.2v1.2h-1.2zM1234.3 853.9h1.2v1.2h-1.2zM1212.2 887.3h1.2v1.2h-1.2zM1233.9 828.0h1.2v1.2h-1.2zM1288.6 849.7h1.2v1.2h-1.2zM1250.4 795.6h1.2v1.2h-1.2zM1294.4 750.7h1.2v1.2h-1.2zM1217.8 841.7h1.2v1.2h-1.2zM1289.6 799.5h1.2v1.2h-1.2zM1265.1 820.1h1.2v1.2h-1.2zM1246.9 831.1h1.2v1.2h-1.2zM1302.1 913.3h1.2v1.2h-1.2zM1281.4 864.2h1.2v1.2h-1.2zM1318.4 761.3h1.2v1.2h-1.2zM1241.9 881.4h1.2v1.2h-1.2zM1240.0 865.2h1.2v1.2h-1.2zM1211.6 865.4h1.2v1.2h-1.2zM1293.2 900.8h1.2v1.2h-1.2zM1271.8 859.5h1.2v1.2h-1.2zM1280.0 794.7h1.2v1.2h-1.2zM1257.2 852.1h1.2v1.2h-1.2zM1251.2 812.0h1.2v1.2h-1.2zM1272.2 798.0h1.2v1.2h-1.2zM1260.7 801.8h1.2v1.2h-1.2zM1272.9 876.2h1.2v1.2h-1.2zM1270.4 851.1h1.2v1.2h-1.2zM1277.3 797.8h1.2v1.2h-1.2zM1243.7 826.4h1.2v1.2h-1.2zM1246.9 856.7h1.2v1.2h-1.2zM1320.8 824.0h1.2v1.2h-1.2zM1304.9 767.8h1.2v1.2h-1.2zM1305.9 789.7h1.2v1.2h-1.2zM1282.1 837.8h1.2v1.2h-1.2zM1251.3 864.0h1.2v1.2h-1.2zM1265.2 819.5h1.2v1.2h-1.2zM1270.1 885.4h1.2v1.2h-1.2zM1250.2 800.0h1.2v1.2h-1.2zM1291.8 806.3h1.2v1.2h-1.2zM1275.7 837.0h1.2v1.2h-1.2zM1240.8 825.7h1.2v1.2h-1.2zM1285.4 800.7h1.2v1.2h-1.2zM1252.2 846.2h1.2v1.2h-1.2zM1252.2 840.3h1.2v1.2h-1.2zM1264.2 836.5h1.2v1.2h-1.2zM1243.8 812.9h1.2v1.2h-1.2zM1304.5 755.1h1.2v1.2h-1.2zM1252.2 844.2h1.2v1.2h-1.2zM1300.2 869.6h1.2v1.2h-1.2zM1325.9 810.6h1.2v1.2h-1.2zM1299.0 817.6h1.2v1.2h-1.2zM1326.0 839.4h1.2v1.2h-1.2zM1278.9 838.8h1.2v1.2h-1.2zM1261.3 807.9h1.2v1.2h-1.2zM1281.4 816.0h1.2v1.2h-1.2zM1263.5 815.3h1.2v1.2h-1.2zM1246.7 838.7h1.2v1.2h-1.2zM1219.5 874.6h1.2v1.2h-1.2zM1317.5 832.8h1.2v1.2h-1.2zM1260.7 815.1h1.2v1.2h-1.2zM1274.8 780.0h1.2v1.2h-1.2zM1257.9 886.3h1.2v1.2h-1.2zM1244.4 837.0h1.2v1.2h-1.2zM1257.5 867.6h1.2v1.2h-1.2zM1259.1 824.9h1.2v1.2h-1.2zM1280.6 835.1h1.2v1.2h-1.2zM1255.1 812.2h1.2v1.2h-1.2zM1255.5 798.3h1.2v1.2h-1.2zM1239.3 851.0h1.2v1.2h-1.2zM1305.7 828.2h1.2v1.2h-1.2zM1270.7 843.9h1.2v1.2h-1.2zM1293.6 830.0h1.2v1.2h-1.2zM1273.6 804.9h1.2v1.2h-1.2zM1267.2 787.2h1.2v1.2h-1.2zM1245.0 860.0h1.2v1.2h-1.2zM1284.5 831.4h1.2v1.2h-1.2zM1265.0 867.2h1.2v1.2h-1.2zM1316.7 799.9h1.2v1.2h-1.2zM1273.3 802.1h1.2v1.2h-1.2zM1304.9 804.3h1.2v1.2h-1.2zM1290.8 870.7h1.2v1.2h-1.2zM1263.4 786.6h1.2v1.2h-1.2zM1239.8 859.6h1.2v1.2h-1.2zM1251.1 876.1h1.2v1.2h-1.2zM1271.1 855.9h1.2v1.2h-1.2zM1278.5 825.2h1.2v1.2h-1.2zM1277.0 830.5h1.2v1.2h-1.2zM1309.5 788.8h1.2v1.2h-1.2zM1249.5 845.3h1.2v1.2h-1.2zM1269.7 883.1h1.2v1.2h-1.2zM1336.4 775.7h1.2v1.2h-1.2zM1303.7 813.4h1.2v1.2h-1.2zM1283.0 809.7h1.2v1.2h-1.2zM1229.4 833.6h1.2v1.2h-1.2zM1313.0 765.8h1.2v1.2h-1.2zM1337.6 823.5h1.2v1.2h-1.2zM1289.7 889.0h1.2v1.2h-1.2zM1322.0 801.7h1.2v1.2h-1.2zM1342.0 867.5h1.2v1.2h-1.2zM1315.6 813.2h1.2v1.2h-1.2zM1219.1 853.5h1.2v1.2h-1.2zM1218.1 893.0h1.2v1.2h-1.2zM1270.1 847.5h1.2v1.2h-1.2zM1222.6 803.0h1.2v1.2h-1.2zM1202.4 913.5h1.2v1.2h-1.2zM1257.9 818.9h1.2v1.2h-1.2zM1254.6 897.4h1.2v1.2h-1.2zM1250.9 858.2h1.2v1.2h-1.2zM1233.4 852.7h1.2v1.2h-1.2zM1317.3 752.9h1.2v1.2h-1.2zM1256.7 824.4h1.2v1.2h-1.2zM1281.9 824.0h1.2v1.2h-1.2zM1258.4 816.8h1.2v1.2h-1.2zM1296.0 873.5h1.2v1.2h-1.2zM1258.8 818.1h1.2v1.2h-1.2zM1306.8 831.1h1.2v1.2h-1.2zM1285.6 755.1h1.2v1.2h-1.2zM1257.3 793.3h1.2v1.2h-1.2zM1215.3 847.5h1.2v1.2h-1.2zM1263.1 815.5h1.2v1.2h-1.2zM1252.0 918.7h1.2v1.2h-1.2zM1298.1 871.0h1.2v1.2h-1.2zM1230.3 849.5h1.2v1.2h-1.2zM1287.4 778.0h1.2v1.2h-1.2zM1243.2 906.5h1.2v1.2h-1.2zM1252.8 882.0h1.2v1.2h-1.2zM1310.3 826.7h1.2v1.2h-1.2zM1272.4 853.8h1.2v1.2h-1.2zM1287.7 802.9h1.2v1.2h-1.2zM1214.3 843.3h1.2v1.2h-1.2zM1274.4 914.1h1.2v1.2h-1.2zM1280.2 765.1h1.2v1.2h-1.2zM1308.8 803.9h1.2v1.2h-1.2zM1292.4 827.0h1.2v1.2h-1.2zM1206.1 848.0h1.2v1.2h-1.2zM1317.5 777.0h1.2v1.2h-1.2zM1296.4 797.1h1.2v1.2h-1.2zM1272.9 785.4h1.2v1.2h-1.2zM1276.2 879.7h1.2v1.2h-1.2zM1253.7 838.3h1.2v1.2h-1.2zM1293.9 774.9h1.2v1.2h-1.2zM1285.2 819.6h1.2v1.2h-1.2zM1273.6 774.1h1.2v1.2h-1.2zM1298.2 820.5h1.2v1.2h-1.2zM1292.2 754.0h1.2v1.2h-1.2zM1246.8 875.7h1.2v1.2h-1.2zM1281.2 843.9h1.2v1.2h-1.2zM1290.0 830.4h1.2v1.2h-1.2zM1259.3 813.6h1.2v1.2h-1.2zM1249.4 846.4h1.2v1.2h-1.2zM1206.9 849.5h1.2v1.2h-1.2zM1318.3 803.0h1.2v1.2h-1.2zM1249.6 855.5h1.2v1.2h-1.2zM1304.0 771.1h1.2v1.2h-1.2zM1244.9 845.9h1.2v1.2h-1.2zM1289.7 805.1h1.2v1.2h-1.2zM1301.9 776.8h1.2v1.2h-1.2zM1304.9 778.1h1.2v1.2h-1.2zM1271.1 754.5h1.2v1.2h-1.2zM1276.5 795.0h1.2v1.2h-1.2zM1364.0 764.8h1.2v1.2h-1.2zM1247.9 821.6h1.2v1.2h-1.2zM1292.6 833.7h1.2v1.2h-1.2zM1222.2 839.5h1.2v1.2h-1.2zM1308.5 752.0h1.2v1.2h-1.2zM1289.0 854.6h1.2v1.2h-1.2zM1267.3 890.3h1.2v1.2h-1.2zM1266.8 827.2h1.2v1.2h-1.2zM1252.8 850.2h1.2v1.2h-1.2zM1271.1 858.6h1.2v1.2h-1.2zM1265.7 838.2h1.2v1.2h-1.2zM1248.6 862.2h1.2v1.2h-1.2zM1233.9 848.0h1.2v1.2h-1.2zM1325.3 794.7h1.2v1.2h-1.2zM1218.6 849.9h1.2v1.2h-1.2zM1276.9 865.7h1.2v1.2h-1.2zM1251.8 847.6h1.2v1.2h-1.2zM1272.7 825.8h1.2v1.2h-1.2zM1308.6 769.2h1.2v1.2h-1.2zM1257.8 846.2h1.2v1.2h-1.2zM1305.2 769.6h1.2v1.2h-1.2zM1277.0 793.6h1.2v1.2h-1.2zM1293.1 779.3h1.2v1.2h-1.2zM1260.1 837.1h1.2v1.2h-1.2zM1241.0 859.8h1.2v1.2h-1.2zM1269.8 807.8h1.2v1.2h-1.2zM1295.4 774.5h1.2v1.2h-1.2zM1260.1 820.1h1.2v1.2h-1.2zM1276.3 888.3h1.2v1.2h-1.2zM1304.9 751.1h1.2v1.2h-1.2zM1272.7 866.8h1.2v1.2h-1.2zM1272.9 815.3h1.2v1.2h-1.2zM1322.6 810.7h1.2v1.2h-1.2zM1228.9 855.5h1.2v1.2h-1.2zM1210.7 885.5h1.2v1.2h-1.2zM1234.4 908.3h1.2v1.2h-1.2zM1237.6 883.3h1.2v1.2h-1.2zM1321.1 779.8h1.2v1.2h-1.2zM1339.4 800.9h1.2v1.2h-1.2zM1242.8 891.8h1.2v1.2h-1.2zM1284.3 857.2h1.2v1.2h-1.2zM1336.9 751.9h1.2v1.2h-1.2zM1268.8 849.5h1.2v1.2h-1.2zM1327.5 777.6h1.2v1.2h-1.2zM1285.4 849.8h1.2v1.2h-1.2zM1245.2 826.5h1.2v1.2h-1.2zM1257.6 843.7h1.2v1.2h-1.2zM1245.1 917.6h1.2v1.2h-1.2zM1232.1 783.5h1.2v1.2h-1.2zM1277.9 824.0h1.2v1.2h-1.2zM1278.5 823.3h1.2v1.2h-1.2zM1285.5 809.8h1.2v1.2h-1.2zM1321.6 785.3h1.2v1.2h-1.2zM1304.1 839.4h1.2v1.2h-1.2zM1312.1 859.5h1.2v1.2h-1.2zM1263.8 772.9h1.2v1.2h-1.2zM1271.7 854.7h1.2v1.2h-1.2zM1272.5 873.2h1.2v1.2h-1.2zM1289.5 867.2h1.2v1.2h-1.2zM1290.3 825.6h1.2v1.2h-1.2zM1289.4 792.0h1.2v1.2h-1.2zM1288.7 816.8h1.2v1.2h-1.2zM1206.5 816.0h1.2v1.2h-1.2zM1320.6 887.6h1.2v1.2h-1.2zM1274.2 807.3h1.2v1.2h-1.2zM1259.3 860.3h1.2v1.2h-1.2zM1244.8 873.9h1.2v1.2h-1.2zM1349.6 851.4h1.2v1.2h-1.2zM1280.9 820.3h1.2v1.2h-1.2zM1253.5 876.1h1.2v1.2h-1.2zM1232.7 839.7h1.2v1.2h-1.2zM1273.1 848.3h1.2v1.2h-1.2zM1200.7 857.4h1.2v1.2h-1.2zM1200.3 880.0h1.2v1.2h-1.2zM1290.3 826.7h1.2v1.2h-1.2zM1352.1 770.4h1.2v1.2h-1.2zM1277.9 876.8h1.2v1.2h-1.2zM1248.2 846.3h1.2v1.2h-1.2zM1281.9 852.5h1.2v1.2h-1.2zM1287.5 792.2h1.2v1.2h-1.2zM1262.5 843.1h1.2v1.2h-1.2zM1277.7 835.7h1.2v1.2h-1.2zM1322.5 774.0h1.2v1.2h-1.2zM1273.8 761.6h1.2v1.2h-1.2zM1311.8 821.9h1.2v1.2h-1.2zM1202.2 873.4h1.2v1.2h-1.2zM1275.7 818.9h1.2v1.2h-1.2zM1249.3 849.2h1.2v1.2h-1.2zM1238.5 903.1h1.2v1.2h-1.2zM1244.2 849.4h1.2v1.2h-1.2zM1250.9 848.7h1.2v1.2h-1.2zM1282.0 839.6h1.2v1.2h-1.2zM1366.6 765.4h1.2v1.2h-1.2zM1266.7 876.5h1.2v1.2h-1.2zM1303.1 770.1h1.2v1.2h-1.2zM1251.4 854.5h1.2v1.2h-1.2zM1307.4 837.0h1.2v1.2h-1.2zM1265.6 816.6h1.2v1.2h-1.2zM1345.8 801.5h1.2v1.2h-1.2zM1219.1 869.2h1.2v1.2h-1.2zM1254.0 828.2h1.2v1.2h-1.2zM1266.4 811.8h1.2v1.2h-1.2zM1337.9 785.3h1.2v1.2h-1.2zM1264.5 869.9h1.2v1.2h-1.2zM1268.0 843.7h1.2v1.2h-1.2zM1281.1 857.5h1.2v1.2h-1.2zM1277.6 827.1h1.2v1.2h-1.2zM1237.2 759.6h1.2v1.2h-1.2z" fill="#1a1aff" fill-opacity="0.85"/>
<g filter="url(#cm5)"><rect x="1408" y="745.4" width="179.79999999999995" height="180.5" fill="#000"/><rect x="1471" y="825" width="42" height="30" fill="#fff" fill-opacity="0.3" filter="url(#bl35)"/><ellipse cx="0" cy="0" rx="48.0" ry="30.0" fill="url(#gg)" fill-opacity="0.12" transform="translate(1490.0,838.0) rotate(0)"/><ellipse cx="0" cy="0" rx="33.0" ry="42.0" fill="url(#gg)" fill-opacity="0.85" transform="translate(1503.0,892.0) rotate(0)"/><ellipse cx="0" cy="0" rx="16.5" ry="19.5" fill="url(#gg)" fill-opacity="0.6" transform="translate(1502.0,889.0) rotate(0)"/><ellipse cx="0" cy="0" rx="36.0" ry="24.0" fill="url(#gg)" fill-opacity="0.2" transform="translate(1456.0,890.0) rotate(0)"/><ellipse cx="0" cy="0" rx="60.0" ry="36.0" fill="url(#gg)" fill-opacity="0.06" transform="translate(1448.0,895.0) rotate(0)"/></g>
<path d="M1476.5 899.7h1.2v1.2h-1.2zM1446.6 878.7h1.2v1.2h-1.2zM1451.0 894.0h1.2v1.2h-1.2zM1480.2 883.8h1.2v1.2h-1.2zM1449.5 880.5h1.2v1.2h-1.2zM1501.0 834.0h1.2v1.2h-1.2zM1497.9 827.8h1.2v1.2h-1.2zM1459.1 877.0h1.2v1.2h-1.2zM1437.3 879.4h1.2v1.2h-1.2zM1469.5 842.0h1.2v1.2h-1.2zM1447.8 876.1h1.2v1.2h-1.2zM1499.4 833.3h1.2v1.2h-1.2zM1470.8 882.5h1.2v1.2h-1.2zM1458.3 888.0h1.2v1.2h-1.2zM1428.9 877.1h1.2v1.2h-1.2zM1420.8 886.5h1.2v1.2h-1.2zM1438.7 901.6h1.2v1.2h-1.2zM1463.3 889.8h1.2v1.2h-1.2zM1472.7 847.3h1.2v1.2h-1.2zM1420.2 889.2h1.2v1.2h-1.2zM1466.1 879.7h1.2v1.2h-1.2zM1458.2 874.5h1.2v1.2h-1.2zM1450.1 890.9h1.2v1.2h-1.2zM1506.0 841.3h1.2v1.2h-1.2zM1463.4 900.1h1.2v1.2h-1.2zM1423.7 895.6h1.2v1.2h-1.2zM1450.3 872.9h1.2v1.2h-1.2zM1473.6 846.7h1.2v1.2h-1.2zM1423.2 881.4h1.2v1.2h-1.2zM1456.4 903.2h1.2v1.2h-1.2zM1464.5 836.7h1.2v1.2h-1.2zM1480.4 890.1h1.2v1.2h-1.2zM1494.1 837.1h1.2v1.2h-1.2zM1438.8 889.6h1.2v1.2h-1.2zM1488.3 836.0h1.2v1.2h-1.2zM1443.2 899.5h1.2v1.2h-1.2zM1426.1 901.0h1.2v1.2h-1.2zM1489.9 885.8h1.2v1.2h-1.2zM1425.9 900.9h1.2v1.2h-1.2zM1437.2 877.2h1.2v1.2h-1.2zM1437.1 881.8h1.2v1.2h-1.2zM1455.5 898.1h1.2v1.2h-1.2zM1468.5 880.0h1.2v1.2h-1.2zM1458.0 828.9h1.2v1.2h-1.2zM1441.4 892.0h1.2v1.2h-1.2zM1475.8 894.7h1.2v1.2h-1.2zM1450.0 876.6h1.2v1.2h-1.2zM1443.2 871.4h1.2v1.2h-1.2zM1489.2 840.7h1.2v1.2h-1.2zM1463.4 842.0h1.2v1.2h-1.2zM1471.5 891.9h1.2v1.2h-1.2zM1439.0 909.1h1.2v1.2h-1.2zM1485.0 910.6h1.2v1.2h-1.2zM1458.9 890.5h1.2v1.2h-1.2zM1461.8 887.4h1.2v1.2h-1.2zM1425.0 883.0h1.2v1.2h-1.2zM1454.3 879.4h1.2v1.2h-1.2zM1501.8 839.0h1.2v1.2h-1.2zM1490.5 833.4h1.2v1.2h-1.2zM1443.1 889.7h1.2v1.2h-1.2zM1495.7 823.5h1.2v1.2h-1.2zM1438.3 876.2h1.2v1.2h-1.2zM1441.9 888.5h1.2v1.2h-1.2zM1473.8 832.3h1.2v1.2h-1.2zM1452.8 871.0h1.2v1.2h-1.2zM1471.7 859.4h1.2v1.2h-1.2zM1460.6 891.5h1.2v1.2h-1.2zM1495.9 847.1h1.2v1.2h-1.2zM1456.7 896.4h1.2v1.2h-1.2zM1458.1 883.5h1.2v1.2h-1.2zM1435.1 894.5h1.2v1.2h-1.2zM1432.4 889.4h1.2v1.2h-1.2zM1469.3 878.8h1.2v1.2h-1.2zM1443.8 883.5h1.2v1.2h-1.2zM1439.4 867.3h1.2v1.2h-1.2zM1478.4 848.4h1.2v1.2h-1.2zM1451.5 898.1h1.2v1.2h-1.2zM1417.6 886.8h1.2v1.2h-1.2zM1444.3 888.6h1.2v1.2h-1.2zM1436.5 867.3h1.2v1.2h-1.2zM1486.5 835.0h1.2v1.2h-1.2zM1483.1 880.0h1.2v1.2h-1.2zM1468.9 893.6h1.2v1.2h-1.2zM1485.9 846.2h1.2v1.2h-1.2zM1466.5 877.6h1.2v1.2h-1.2zM1474.7 889.4h1.2v1.2h-1.2zM1479.8 870.0h1.2v1.2h-1.2zM1451.7 870.7h1.2v1.2h-1.2zM1492.8 825.7h1.2v1.2h-1.2zM1444.2 862.2h1.2v1.2h-1.2zM1456.7 892.6h1.2v1.2h-1.2zM1452.8 890.6h1.2v1.2h-1.2zM1473.2 886.8h1.2v1.2h-1.2zM1495.6 826.3h1.2v1.2h-1.2zM1511.7 837.6h1.2v1.2h-1.2zM1458.1 879.2h1.2v1.2h-1.2zM1481.3 842.3h1.2v1.2h-1.2zM1476.0 878.8h1.2v1.2h-1.2zM1448.0 880.5h1.2v1.2h-1.2zM1431.4 889.8h1.2v1.2h-1.2zM1473.0 844.4h1.2v1.2h-1.2zM1455.5 863.3h1.2v1.2h-1.2zM1460.3 884.5h1.2v1.2h-1.2zM1440.6 876.5h1.2v1.2h-1.2zM1528.8 823.4h1.2v1.2h-1.2zM1451.4 884.5h1.2v1.2h-1.2zM1454.3 875.9h1.2v1.2h-1.2zM1499.5 900.3h1.2v1.2h-1.2zM1449.4 874.5h1.2v1.2h-1.2zM1448.9 908.2h1.2v1.2h-1.2zM1502.6 837.7h1.2v1.2h-1.2zM1458.1 900.5h1.2v1.2h-1.2zM1445.7 900.3h1.2v1.2h-1.2zM1450.6 875.5h1.2v1.2h-1.2zM1440.6 851.5h1.2v1.2h-1.2zM1462.2 882.4h1.2v1.2h-1.2zM1496.7 840.6h1.2v1.2h-1.2zM1447.8 891.4h1.2v1.2h-1.2zM1485.1 902.1h1.2v1.2h-1.2zM1469.3 883.5h1.2v1.2h-1.2zM1425.0 890.4h1.2v1.2h-1.2zM1458.3 890.5h1.2v1.2h-1.2zM1494.3 837.1h1.2v1.2h-1.2zM1461.0 878.4h1.2v1.2h-1.2zM1483.4 883.8h1.2v1.2h-1.2zM1459.1 878.2h1.2v1.2h-1.2zM1454.2 888.1h1.2v1.2h-1.2zM1429.2 877.9h1.2v1.2h-1.2zM1480.8 856.7h1.2v1.2h-1.2zM1442.3 890.2h1.2v1.2h-1.2z" fill="#1a1aff" fill-opacity="0.85"/>
<rect x="1225.1" y="83.1" width="178.4" height="175.7" fill="none" stroke="#000" stroke-width="2.2"/>
<text transform="translate(1211.9,252.8) rotate(-90)" font-size="20.60" font-weight="bold">SSC</text>
<text x="1223.6" y="284.6" font-size="22.30" font-weight="bold" fill="#000">FSC</text>
<path d="M1244,242 Q1256,236 1272,234 L1290,233 Q1296,236 1293,246 L1286,255 Q1282,258 1272,258 L1246,258 Q1243,256 1243,250 Z" fill="none" stroke="#ff3cff" stroke-width="1"/>
<text x="1265.6" y="254.9" font-size="20.56" font-weight="bold" fill="#000">P1</text>
<text x="1343.3" y="257.0" font-size="7.5" fill="#222">29.6</text>
<line x1="1403.5" y1="174.5" x2="1627.6" y2="174.5" stroke="#000" stroke-width="2.6"/>
<polygon points="1641.6,174.5 1626.6,182.3 1626.6,166.7" fill="#000"/>
<rect x="1641.6" y="83.0" width="180.1" height="176.2" fill="none" stroke="#000" stroke-width="2.2"/>
<rect x="1643.9" y="156.2" width="58.1" height="93.6" fill="none" stroke="#ff3cff" stroke-width="1.2"/>
<rect x="1712.2" y="166.3" width="75.4" height="77.1" fill="none" stroke="#ff3cff" stroke-width="1.2"/>
<text x="1764.3" y="188.4" font-size="23.02" font-weight="bold" fill="#000">LB</text>
<text transform="translate(1628.2,266.5) rotate(-90)" font-size="20.70" font-weight="bold">SSC</text>
<text x="1643.0" y="283.2" font-size="22.23" font-weight="bold" fill="#000">CD19</text>
<rect x="1664.0" y="200.0" width="16.6" height="7.5" fill="#fff"/>
<text x="1665.0" y="206.0" font-size="7.5" fill="#222">81.8</text>
<rect x="1741.0" y="202.0" width="16.6" height="7.5" fill="#fff"/>
<text x="1742.0" y="208.0" font-size="7.5" fill="#222">18.2</text>
<line x1="1698.0" y1="244.0" x2="1790.1" y2="395.4" stroke="#000" stroke-width="2.6"/>
<polygon points="1797.4,407.4 1782.9,398.6 1796.3,390.5" fill="#000"/>
<rect x="1708.9" y="408.7" width="179.4" height="175.6" fill="none" stroke="#000" stroke-width="2.2"/>
<rect x="1714.0" y="443.1" width="67.5" height="54.5" fill="none" stroke="#ff3cff" stroke-width="1.2"/>
<rect x="1714.0" y="508.5" width="74.5" height="40.7" fill="none" stroke="#ff3cff" stroke-width="1.2"/>
<rect x="1828.4" y="441.5" width="53.5" height="67.0" fill="none" stroke="#ff3cff" stroke-width="1.2"/>
<rect x="1828.4" y="508.5" width="53.5" height="68.5" fill="none" stroke="#ff3cff" stroke-width="1.2"/>
<text x="1757.1" y="463.2" font-size="22.59" font-weight="bold" fill="#000">NK</text>
<text x="1849.2" y="463.2" font-size="22.20" font-weight="bold" fill="#000">NKT</text>
<text x="1866.1" y="578.5" font-size="21.42" font-weight="bold" fill="#000">LT</text>
<rect x="1740.0" y="469.0" width="10.3" height="7.5" fill="#fff"/>
<text x="1741.0" y="475.0" font-size="7.5" fill="#222">13</text>
<rect x="1742.0" y="528.0" width="16.6" height="7.5" fill="#fff"/>
<text x="1743.0" y="534.0" font-size="7.5" fill="#222">17.8</text>
<rect x="1846.0" y="474.0" width="16.6" height="7.5" fill="#fff"/>
<text x="1847.0" y="480.0" font-size="7.5" fill="#222">7.18</text>
<rect x="1845.0" y="540.0" width="16.6" height="7.5" fill="#fff"/>
<text x="1846.0" y="546.0" font-size="7.5" fill="#222">48.9</text>
<text transform="translate(1702.8,597.9) rotate(-90)" font-size="21.46" font-weight="bold">CD56</text>
<text x="1724.9" y="613.0" font-size="21.99" font-weight="bold" fill="#000">CD3</text>
<text x="1235.0" y="375.7" font-size="22.32" font-weight="bold" fill="#000">T cells</text>
<text x="1349.5" y="375.7" font-size="22.46" font-weight="bold" fill="#000">B cells</text>
<text x="1462.3" y="375.7" font-size="22.51" font-weight="bold" fill="#000">NK cells</text>
<text x="1570.4" y="375.7" font-size="22.39" font-weight="bold" fill="#000">NKT cells</text>
<text transform="translate(1202.4,465.5) rotate(-90)" font-size="21.92" font-weight="bold">DX2</text>
<text transform="translate(1202.4,561.0) rotate(-90)" font-size="22.92" font-weight="bold">N18</text>
<polygon points="1226.7,498.1 1226.7,498.0 1227.5,498.0 1228.3,497.9 1229.1,497.8 1229.9,497.7 1230.7,497.4 1231.5,497.0 1232.3,496.5 1233.1,495.8 1233.9,494.9 1234.7,493.6 1235.5,491.7 1236.3,489.5 1237.1,486.9 1237.9,483.5 1238.7,479.2 1239.5,474.2 1240.3,468.7 1241.1,462.7 1241.9,455.4 1242.7,447.0 1243.5,438.6 1244.3,431.0 1245.1,423.9 1245.9,415.1 1246.7,409.1 1247.5,406.3 1248.3,402.3 1249.1,400.6 1249.9,402.8 1250.7,404.6 1251.5,408.4 1252.3,415.9 1253.1,423.2 1253.9,431.1 1254.7,439.9 1255.5,448.7 1256.3,458.0 1257.1,466.1 1257.9,473.0 1258.7,479.4 1259.5,484.6 1260.3,488.3 1261.1,491.2 1261.9,493.4 1262.7,495.0 1263.5,496.1 1264.3,496.8 1265.1,497.3 1265.9,497.6 1266.7,497.8 1267.5,497.9 1268.3,498.0 1269.1,498.1 1269.9,498.1 1270.7,498.1 1271.5,498.1 1272.3,498.1 1273.1,498.1 1273.9,498.1 1274.7,498.1 1275.5,498.1 1276.3,498.1 1277.1,498.1 1277.9,498.1 1278.7,498.1 1279.5,498.1 1280.3,498.1 1281.1,498.1 1281.9,498.1 1282.7,498.1 1283.5,498.1 1284.3,498.1 1285.1,498.1 1285.9,498.1 1286.7,498.1 1287.5,498.1 1288.3,498.1 1289.1,498.1 1289.9,498.1 1290.7,498.1 1291.5,498.1 1292.3,498.1 1293.1,498.1 1293.9,498.1 1294.7,498.1 1295.5,498.1 1296.3,498.1 1297.1,498.1 1297.9,498.1 1298.7,498.1 1299.5,498.1 1300.3,498.1 1301.1,498.1 1301.9,498.1 1302.7,498.1 1303.5,498.1 1304.3,498.1 1305.1,498.1 1305.9,498.1 1306.7,498.1 1307.5,498.1 1308.3,498.1 1309.1,498.1 1309.9,498.1 1310.7,498.1 1311.5,498.1 1312.3,498.1 1313.1,498.1 1313.9,498.1 1314.7,498.1 1315.5,498.1 1316.3,498.1 1317.1,498.1 1317.9,498.1 1318.7,498.1 1319.5,498.1 1320.3,498.1 1321.1,498.1 1321.9,498.1 1322.7,498.1 1323.5,498.1 1324.3,498.1 1325.1,498.1 1325.9,498.1 1326.7,498.1 1327.5,498.1 1328.3,498.1 1329.1,498.1 1329.9,498.1 1330.7,498.1 1331.5,498.1 1332.3,498.1 1333.1,498.1 1333.9,498.1 1334.7,498.1 1335.5,498.1 1336.3,498.1 1337.1,498.1 1337.9,498.1 1338.2,498.1" fill="#e2e2e2"/>
<polyline points="1232.3,497.1 1233.1,496.8 1233.9,496.5 1234.7,496.2 1235.5,495.7 1236.3,495.2 1237.1,494.6 1237.9,493.7 1238.7,492.8 1239.5,492.0 1240.3,491.1 1241.1,489.9 1241.9,488.6 1242.7,487.7 1243.5,486.9 1244.3,485.3 1245.1,483.6 1245.9,482.0 1246.7,479.8 1247.5,478.1 1248.3,477.2 1249.1,476.5 1249.9,475.3 1250.7,473.4 1251.5,471.1 1252.3,469.2 1253.1,468.4 1253.9,468.0 1254.7,467.5 1255.5,466.0 1256.3,463.9 1257.1,462.6 1257.9,460.9 1258.7,458.9 1259.5,456.3 1260.3,453.3 1261.1,450.3 1261.9,445.3 1262.7,440.1 1263.5,437.2 1264.3,432.9 1265.1,427.8 1265.9,425.3 1266.7,420.3 1267.5,411.2 1268.3,405.4 1269.1,403.6 1269.9,402.3 1270.7,398.7 1271.5,397.0 1272.3,397.0 1273.1,397.0 1273.9,397.0 1274.7,402.4 1275.5,408.3 1276.3,410.5 1277.1,415.2 1277.9,425.0 1278.7,434.8 1279.5,442.8 1280.3,450.6 1281.1,458.1 1281.9,465.0 1282.7,471.9 1283.5,477.3 1284.3,481.5 1285.1,485.4 1285.9,488.5 1286.7,490.8 1287.5,492.8 1288.3,494.4 1289.1,495.5 1289.9,496.2 1290.7,496.8 1291.5,497.2" fill="none" stroke="#f00" stroke-width="1.4" stroke-linejoin="round"/>
<polygon points="1226.7,605.6 1226.7,605.6 1227.5,605.6 1228.3,605.5 1229.1,605.5 1229.9,605.4 1230.7,605.3 1231.5,605.2 1232.3,604.9 1233.1,604.5 1233.9,603.9 1234.7,603.1 1235.5,602.0 1236.3,600.3 1237.1,598.1 1237.9,595.2 1238.7,591.7 1239.5,587.3 1240.3,581.5 1241.1,575.1 1241.9,568.4 1242.7,559.7 1243.5,550.5 1244.3,542.1 1245.1,532.8 1245.9,523.8 1246.7,518.2 1247.5,513.3 1248.3,508.6 1249.1,505.3 1249.9,505.0 1250.7,505.2 1251.5,511.2 1252.3,518.7 1253.1,525.9 1253.9,535.3 1254.7,545.1 1255.5,553.9 1256.3,563.0 1257.1,572.1 1257.9,580.2 1258.7,586.8 1259.5,591.6 1260.3,595.3 1261.1,598.3 1261.9,600.7 1262.7,602.4 1263.5,603.5 1264.3,604.3 1265.1,604.8 1265.9,605.1 1266.7,605.3 1267.5,605.4 1268.3,605.5 1269.1,605.5 1269.9,605.6 1270.7,605.6 1271.5,605.6 1272.3,605.6 1273.1,605.6 1273.9,605.6 1274.7,605.6 1275.5,605.6 1276.3,605.6 1277.1,605.6 1277.9,605.6 1278.7,605.6 1279.5,605.6 1280.3,605.6 1281.1,605.6 1281.9,605.6 1282.7,605.6 1283.5,605.6 1284.3,605.6 1285.1,605.6 1285.9,605.6 1286.7,605.6 1287.5,605.6 1288.3,605.6 1289.1,605.6 1289.9,605.6 1290.7,605.6 1291.5,605.6 1292.3,605.6 1293.1,605.6 1293.9,605.6 1294.7,605.6 1295.5,605.6 1296.3,605.6 1297.1,605.6 1297.9,605.6 1298.7,605.6 1299.5,605.6 1300.3,605.6 1301.1,605.6 1301.9,605.6 1302.7,605.6 1303.5,605.6 1304.3,605.6 1305.1,605.6 1305.9,605.6 1306.7,605.6 1307.5,605.6 1308.3,605.6 1309.1,605.6 1309.9,605.6 1310.7,605.6 1311.5,605.6 1312.3,605.6 1313.1,605.6 1313.9,605.6 1314.7,605.6 1315.5,605.6 1316.3,605.6 1317.1,605.6 1317.9,605.6 1318.7,605.6 1319.5,605.6 1320.3,605.6 1321.1,605.6 1321.9,605.6 1322.7,605.6 1323.5,605.6 1324.3,605.6 1325.1,605.6 1325.9,605.6 1326.7,605.6 1327.5,605.6 1328.3,605.6 1329.1,605.6 1329.9,605.6 1330.7,605.6 1331.5,605.6 1332.3,605.6 1333.1,605.6 1333.9,605.6 1334.7,605.6 1335.5,605.6 1336.3,605.6 1337.1,605.6 1337.9,605.6 1338.2,605.6" fill="#e2e2e2"/>
<polyline points="1231.5,604.5 1232.3,604.0 1233.1,603.3 1233.9,602.3 1234.7,601.0 1235.5,599.3 1236.3,597.0 1237.1,594.1 1237.9,590.9 1238.7,586.4 1239.5,580.9 1240.3,575.6 1241.1,568.9 1241.9,560.2 1242.7,551.8 1243.5,544.1 1244.3,538.2 1245.1,531.9 1245.9,523.6 1246.7,514.9 1247.5,507.6 1248.3,504.6 1249.1,504.6 1249.9,505.0 1250.7,506.8 1251.5,511.3 1252.3,517.2 1253.1,525.4 1253.9,533.9 1254.7,542.3 1255.5,553.6 1256.3,563.5 1257.1,572.1 1257.9,580.5 1258.7,586.9 1259.5,591.6 1260.3,595.2 1261.1,598.2 1261.9,600.7 1262.7,602.4 1263.5,603.5 1264.3,604.2 1265.1,604.7" fill="none" stroke="#f00" stroke-width="1.4" stroke-linejoin="round"/>
<polygon points="1339.2,498.1 1339.2,497.9 1340.0,497.9 1340.8,497.7 1341.6,497.5 1342.4,497.2 1343.2,496.8 1344.0,496.2 1344.8,495.2 1345.6,494.1 1346.4,492.5 1347.2,490.4 1348.0,487.6 1348.8,484.3 1349.6,480.7 1350.4,476.2 1351.2,470.3 1352.0,463.7 1352.8,456.9 1353.6,450.2 1354.4,444.2 1355.2,436.4 1356.0,427.0 1356.8,420.4 1357.6,413.9 1358.4,406.6 1359.2,403.5 1360.0,403.0 1360.8,401.7 1361.6,401.8 1362.4,408.3 1363.2,416.2 1364.0,423.5 1364.8,430.9 1365.6,438.1 1366.4,447.8 1367.2,458.1 1368.0,466.2 1368.8,472.4 1369.6,478.3 1370.4,483.4 1371.2,487.4 1372.0,490.7 1372.8,493.0 1373.6,494.6 1374.4,495.8 1375.2,496.6 1376.0,497.2 1376.8,497.6 1377.6,497.8 1378.4,497.9 1379.2,498.0 1380.0,498.0 1380.8,498.1 1381.6,498.1 1382.4,498.1 1383.2,498.1 1384.0,498.1 1384.8,498.1 1385.6,498.1 1386.4,498.1 1387.2,498.1 1388.0,498.1 1388.8,498.1 1389.6,498.1 1390.4,498.1 1391.2,498.1 1392.0,498.1 1392.8,498.1 1393.6,498.1 1394.4,498.1 1395.2,498.1 1396.0,498.1 1396.8,498.1 1397.6,498.1 1398.4,498.1 1399.2,498.1 1400.0,498.1 1400.8,498.1 1401.6,498.1 1402.4,498.1 1403.2,498.1 1404.0,498.1 1404.8,498.1 1405.6,498.1 1406.4,498.1 1407.2,498.1 1408.0,498.1 1408.8,498.1 1409.6,498.1 1410.4,498.1 1411.2,498.1 1412.0,498.1 1412.8,498.1 1413.6,498.1 1414.4,498.1 1415.2,498.1 1416.0,498.1 1416.8,498.1 1417.6,498.1 1418.4,498.1 1419.2,498.1 1420.0,498.1 1420.8,498.1 1421.6,498.1 1422.4,498.1 1423.2,498.1 1424.0,498.1 1424.8,498.1 1425.6,498.1 1426.4,498.1 1427.2,498.1 1428.0,498.1 1428.8,498.1 1429.6,498.1 1430.4,498.1 1431.2,498.1 1432.0,498.1 1432.8,498.1 1433.6,498.1 1434.4,498.1 1435.2,498.1 1436.0,498.1 1436.8,498.1 1437.6,498.1 1438.4,498.1 1439.2,498.1 1440.0,498.1 1440.8,498.1 1441.6,498.1 1442.4,498.1 1443.2,498.1 1444.0,498.1 1444.8,498.1 1445.6,498.1 1446.4,498.1 1447.2,498.1 1448.0,498.1 1448.8,498.1 1449.6,498.1 1450.4,498.1 1451.0,498.1" fill="#e2e2e2"/>
<polyline points="1343.2,497.2 1344.0,496.9 1344.8,496.3 1345.6,495.6 1346.4,494.8 1347.2,493.7 1348.0,492.3 1348.8,490.8 1349.6,488.6 1350.4,485.8 1351.2,482.6 1352.0,479.1 1352.8,474.4 1353.6,469.1 1354.4,464.4 1355.2,458.2 1356.0,450.8 1356.8,443.7 1357.6,437.7 1358.4,432.6 1359.2,425.7 1360.0,417.0 1360.8,409.7 1361.6,403.4 1362.4,398.2 1363.2,397.7 1364.0,401.2 1364.8,402.2 1365.6,400.6 1366.4,402.6 1367.2,407.0 1368.0,413.3 1368.8,422.6 1369.6,432.2 1370.4,442.7 1371.2,452.4 1372.0,459.8 1372.8,466.3 1373.6,472.0 1374.4,476.5 1375.2,480.1 1376.0,483.1 1376.8,485.4 1377.6,487.1 1378.4,488.2 1379.2,488.7 1380.0,489.1 1380.8,489.4 1381.6,489.7 1382.4,489.8 1383.2,489.8 1384.0,490.0 1384.8,490.4 1385.6,490.5 1386.4,490.7 1387.2,490.7 1388.0,490.8 1388.8,491.2 1389.6,491.4 1390.4,491.5 1391.2,491.7 1392.0,492.0 1392.8,492.2 1393.6,492.4 1394.4,492.6 1395.2,492.8 1396.0,493.1 1396.8,493.4 1397.6,493.7 1398.4,493.9 1399.2,494.0 1400.0,494.3 1400.8,494.6 1401.6,494.8 1402.4,494.9 1403.2,495.2 1404.0,495.5 1404.8,495.6 1405.6,495.9 1406.4,496.1 1407.2,496.2 1408.0,496.3 1408.8,496.4 1409.6,496.6 1410.4,496.7 1411.2,496.9" fill="none" stroke="#f00" stroke-width="1.4" stroke-linejoin="round"/>
<polygon points="1339.2,605.6 1339.2,605.6 1340.0,605.6 1340.8,605.5 1341.6,605.5 1342.4,605.4 1343.2,605.3 1344.0,605.1 1344.8,604.7 1345.6,604.1 1346.4,603.3 1347.2,602.0 1348.0,600.2 1348.8,597.8 1349.6,594.6 1350.4,590.5 1351.2,585.2 1352.0,578.9 1352.8,571.6 1353.6,562.8 1354.4,552.8 1355.2,543.3 1356.0,533.9 1356.8,523.5 1357.6,513.7 1358.4,507.3 1359.2,506.1 1360.0,507.1 1360.8,507.0 1361.6,509.1 1362.4,515.1 1363.2,519.7 1364.0,523.5 1364.8,530.3 1365.6,539.6 1366.4,549.3 1367.2,557.2 1368.0,563.8 1368.8,570.4 1369.6,577.2 1370.4,583.3 1371.2,588.1 1372.0,592.1 1372.8,595.4 1373.6,598.0 1374.4,600.0 1375.2,601.4 1376.0,602.6 1376.8,603.5 1377.6,604.2 1378.4,604.7 1379.2,605.0 1380.0,605.2 1380.8,605.3 1381.6,605.4 1382.4,605.5 1383.2,605.5 1384.0,605.6 1384.8,605.6 1385.6,605.6 1386.4,605.6 1387.2,605.6 1388.0,605.6 1388.8,605.6 1389.6,605.6 1390.4,605.6 1391.2,605.6 1392.0,605.6 1392.8,605.6 1393.6,605.6 1394.4,605.6 1395.2,605.6 1396.0,605.6 1396.8,605.6 1397.6,605.6 1398.4,605.6 1399.2,605.6 1400.0,605.6 1400.8,605.6 1401.6,605.6 1402.4,605.6 1403.2,605.6 1404.0,605.6 1404.8,605.6 1405.6,605.6 1406.4,605.6 1407.2,605.6 1408.0,605.6 1408.8,605.6 1409.6,605.6 1410.4,605.6 1411.2,605.6 1412.0,605.6 1412.8,605.6 1413.6,605.6 1414.4,605.6 1415.2,605.6 1416.0,605.6 1416.8,605.6 1417.6,605.6 1418.4,605.6 1419.2,605.6 1420.0,605.6 1420.8,605.6 1421.6,605.6 1422.4,605.6 1423.2,605.6 1424.0,605.6 1424.8,605.6 1425.6,605.6 1426.4,605.6 1427.2,605.6 1428.0,605.6 1428.8,605.6 1429.6,605.6 1430.4,605.6 1431.2,605.6 1432.0,605.6 1432.8,605.6 1433.6,605.6 1434.4,605.6 1435.2,605.6 1436.0,605.6 1436.8,605.6 1437.6,605.6 1438.4,605.6 1439.2,605.6 1440.0,605.6 1440.8,605.6 1441.6,605.6 1442.4,605.6 1443.2,605.6 1444.0,605.6 1444.8,605.6 1445.6,605.6 1446.4,605.6 1447.2,605.6 1448.0,605.6 1448.8,605.6 1449.6,605.6 1450.4,605.6 1451.0,605.6" fill="#e2e2e2"/>
<polyline points="1343.2,604.7 1344.0,604.2 1344.8,603.6 1345.6,602.6 1346.4,601.3 1347.2,599.6 1348.0,597.2 1348.8,594.1 1349.6,590.0 1350.4,584.2 1351.2,578.0 1352.0,571.4 1352.8,562.8 1353.6,553.3 1354.4,545.1 1355.2,539.4 1356.0,534.6 1356.8,525.1 1357.6,513.4 1358.4,508.4 1359.2,507.9 1360.0,505.4 1360.8,504.6 1361.6,506.7 1362.4,510.9 1363.2,515.9 1364.0,521.7 1364.8,526.8 1365.6,534.7 1366.4,544.2 1367.2,551.4 1368.0,557.2 1368.8,562.4 1369.6,568.8 1370.4,575.1 1371.2,579.5 1372.0,583.4 1372.8,587.3 1373.6,590.6 1374.4,592.8 1375.2,594.4 1376.0,595.4 1376.8,595.7 1377.6,596.1 1378.4,596.7 1379.2,597.2 1380.0,597.5 1380.8,597.7 1381.6,597.9 1382.4,598.2 1383.2,598.5 1384.0,598.7 1384.8,598.7 1385.6,598.8 1386.4,598.9 1387.2,599.1 1388.0,599.2 1388.8,599.3 1389.6,599.5 1390.4,599.8 1391.2,600.1 1392.0,600.3 1392.8,600.4 1393.6,600.5 1394.4,600.8 1395.2,601.2 1396.0,601.4 1396.8,601.5 1397.6,601.7 1398.4,601.9 1399.2,602.0 1400.0,602.3 1400.8,602.6 1401.6,602.8 1402.4,603.0 1403.2,603.1 1404.0,603.3 1404.8,603.6 1405.6,603.7 1406.4,603.9 1407.2,604.0 1408.0,604.1 1408.8,604.2 1409.6,604.4 1410.4,604.5" fill="none" stroke="#f00" stroke-width="1.4" stroke-linejoin="round"/>
<polygon points="1452.0,498.1 1452.0,498.0 1452.8,497.9 1453.6,497.8 1454.4,497.6 1455.2,497.3 1456.0,496.9 1456.8,496.4 1457.6,495.6 1458.4,494.5 1459.2,493.1 1460.0,491.2 1460.8,488.9 1461.6,486.0 1462.4,482.2 1463.2,477.5 1464.0,472.3 1464.8,466.3 1465.6,459.4 1466.4,452.3 1467.2,445.3 1468.0,437.1 1468.8,427.2 1469.6,418.1 1470.4,412.6 1471.2,409.6 1472.0,404.6 1472.8,399.9 1473.6,399.5 1474.4,401.6 1475.2,405.3 1476.0,412.6 1476.8,423.6 1477.6,434.5 1478.4,446.1 1479.2,458.0 1480.0,467.4 1480.8,475.5 1481.6,482.7 1482.4,488.0 1483.2,491.6 1484.0,494.1 1484.8,495.7 1485.6,496.7 1486.4,497.4 1487.2,497.7 1488.0,497.9 1488.8,498.0 1489.6,498.1 1490.4,498.1 1491.2,498.1 1492.0,498.1 1492.8,498.1 1493.6,498.1 1494.4,498.1 1495.2,498.1 1496.0,498.1 1496.8,498.1 1497.6,498.1 1498.4,498.1 1499.2,498.1 1500.0,498.1 1500.8,498.1 1501.6,498.1 1502.4,498.1 1503.2,498.1 1504.0,498.1 1504.8,498.1 1505.6,498.1 1506.4,498.1 1507.2,498.1 1508.0,498.1 1508.8,498.1 1509.6,498.1 1510.4,498.1 1511.2,498.1 1512.0,498.1 1512.8,498.1 1513.6,498.1 1514.4,498.1 1515.2,498.1 1516.0,498.1 1516.8,498.1 1517.6,498.1 1518.4,498.1 1519.2,498.1 1520.0,498.1 1520.8,498.1 1521.6,498.1 1522.4,498.1 1523.2,498.1 1524.0,498.1 1524.8,498.1 1525.6,498.1 1526.4,498.1 1527.2,498.1 1528.0,498.1 1528.8,498.1 1529.6,498.1 1530.4,498.1 1531.2,498.1 1532.0,498.1 1532.8,498.1 1533.6,498.1 1534.4,498.1 1535.2,498.1 1536.0,498.1 1536.8,498.1 1537.6,498.1 1538.4,498.1 1539.2,498.1 1540.0,498.1 1540.8,498.1 1541.6,498.1 1542.4,498.1 1543.2,498.1 1544.0,498.1 1544.8,498.1 1545.6,498.1 1546.4,498.1 1547.2,498.1 1548.0,498.1 1548.8,498.1 1549.6,498.1 1550.4,498.1 1551.2,498.1 1552.0,498.1 1552.8,498.1 1553.6,498.1 1554.4,498.1 1555.2,498.1 1556.0,498.1 1556.8,498.1 1557.6,498.1 1558.4,498.1 1559.2,498.1 1560.0,498.1 1560.8,498.1 1561.6,498.1 1562.4,498.1 1563.1,498.1" fill="#e2e2e2"/>
<polyline points="1470.4,496.9 1471.2,496.3 1472.0,495.4 1472.8,494.0 1473.6,492.2 1474.4,490.1 1475.2,487.3 1476.0,483.6 1476.8,478.6 1477.6,472.8 1478.4,467.1 1479.2,460.5 1480.0,451.3 1480.8,441.3 1481.6,434.1 1482.4,426.1 1483.2,414.9 1484.0,406.9 1484.8,403.9 1485.6,403.0 1486.4,403.5 1487.2,401.0 1488.0,399.3 1488.8,403.8 1489.6,411.0 1490.4,418.8 1491.2,425.1 1492.0,432.5 1492.8,442.4 1493.6,450.4 1494.4,457.1 1495.2,465.9 1496.0,473.5 1496.8,478.4 1497.6,483.1 1498.4,487.2 1499.2,490.2 1500.0,492.3 1500.8,494.0 1501.6,495.4 1502.4,496.3 1503.2,496.9" fill="none" stroke="#f00" stroke-width="1.4" stroke-linejoin="round"/>
<polygon points="1452.0,605.6 1452.0,605.6 1452.8,605.6 1453.6,605.6 1454.4,605.6 1455.2,605.6 1456.0,605.6 1456.8,605.6 1457.6,605.5 1458.4,605.5 1459.2,605.4 1460.0,605.2 1460.8,604.9 1461.6,604.5 1462.4,603.9 1463.2,603.0 1464.0,601.7 1464.8,599.8 1465.6,597.1 1466.4,593.6 1467.2,589.0 1468.0,583.3 1468.8,576.9 1469.6,569.7 1470.4,561.6 1471.2,552.2 1472.0,541.5 1472.8,532.8 1473.6,524.7 1474.4,515.3 1475.2,507.3 1476.0,505.0 1476.8,505.0 1477.6,506.8 1478.4,512.1 1479.2,518.4 1480.0,525.9 1480.8,535.0 1481.6,543.4 1482.4,552.3 1483.2,562.5 1484.0,571.9 1484.8,579.2 1485.6,585.1 1486.4,590.6 1487.2,594.9 1488.0,598.0 1488.8,600.4 1489.6,602.1 1490.4,603.3 1491.2,604.1 1492.0,604.7 1492.8,605.0 1493.6,605.3 1494.4,605.4 1495.2,605.5 1496.0,605.5 1496.8,605.6 1497.6,605.6 1498.4,605.6 1499.2,605.6 1500.0,605.6 1500.8,605.6 1501.6,605.6 1502.4,605.6 1503.2,605.6 1504.0,605.6 1504.8,605.6 1505.6,605.6 1506.4,605.6 1507.2,605.6 1508.0,605.6 1508.8,605.6 1509.6,605.6 1510.4,605.6 1511.2,605.6 1512.0,605.6 1512.8,605.6 1513.6,605.6 1514.4,605.6 1515.2,605.6 1516.0,605.6 1516.8,605.6 1517.6,605.6 1518.4,605.6 1519.2,605.6 1520.0,605.6 1520.8,605.6 1521.6,605.6 1522.4,605.6 1523.2,605.6 1524.0,605.6 1524.8,605.6 1525.6,605.6 1526.4,605.6 1527.2,605.6 1528.0,605.6 1528.8,605.6 1529.6,605.6 1530.4,605.6 1531.2,605.6 1532.0,605.6 1532.8,605.6 1533.6,605.6 1534.4,605.6 1535.2,605.6 1536.0,605.6 1536.8,605.6 1537.6,605.6 1538.4,605.6 1539.2,605.6 1540.0,605.6 1540.8,605.6 1541.6,605.6 1542.4,605.6 1543.2,605.6 1544.0,605.6 1544.8,605.6 1545.6,605.6 1546.4,605.6 1547.2,605.6 1548.0,605.6 1548.8,605.6 1549.6,605.6 1550.4,605.6 1551.2,605.6 1552.0,605.6 1552.8,605.6 1553.6,605.6 1554.4,605.6 1555.2,605.6 1556.0,605.6 1556.8,605.6 1557.6,605.6 1558.4,605.6 1559.2,605.6 1560.0,605.6 1560.8,605.6 1561.6,605.6 1562.4,605.6 1563.1,605.6" fill="#e2e2e2"/>
<polyline points="1460.0,604.6 1460.8,604.0 1461.6,603.3 1462.4,602.2 1463.2,600.6 1464.0,598.5 1464.8,595.8 1465.6,592.1 1466.4,587.6 1467.2,582.5 1468.0,576.4 1468.8,569.0 1469.6,561.7 1470.4,553.8 1471.2,543.1 1472.0,533.5 1472.8,527.3 1473.6,520.0 1474.4,513.2 1475.2,508.7 1476.0,504.1 1476.8,504.1 1477.6,504.9 1478.4,508.9 1479.2,513.4 1480.0,519.2 1480.8,527.3 1481.6,536.5 1482.4,544.7 1483.2,553.7 1484.0,563.7 1484.8,571.5 1485.6,578.3 1486.4,584.7 1487.2,589.7 1488.0,593.8 1488.8,596.9 1489.6,599.1 1490.4,600.9 1491.2,602.3 1492.0,603.4 1492.8,604.2 1493.6,604.8 1494.4,605.1 1495.2,605.2 1496.0,605.4 1496.8,605.5 1497.6,605.5 1498.4,605.6 1499.2,605.6 1500.0,605.6 1500.8,605.6 1501.6,605.6 1502.4,605.6 1503.2,605.6 1504.0,605.6 1504.8,605.6 1505.6,605.6 1506.4,605.6 1507.2,605.6 1508.0,605.6 1508.8,605.6 1509.6,605.6 1510.4,605.6 1511.2,605.6 1512.0,605.6 1512.8,605.6 1513.6,605.6 1514.4,605.6 1515.2,605.6 1516.0,605.6 1516.8,605.6 1517.6,605.6 1518.4,605.6 1519.2,605.5 1520.0,605.5 1520.8,605.4 1521.6,605.3 1522.4,605.1 1523.2,604.9 1524.0,604.7 1524.8,604.4 1525.6,604.2 1526.4,604.1 1527.2,604.1 1528.0,604.2 1528.8,604.3 1529.6,604.6" fill="none" stroke="#f00" stroke-width="1.4" stroke-linejoin="round"/>
<polygon points="1564.1,498.1 1564.1,498.1 1564.9,498.1 1565.7,498.1 1566.5,498.1 1567.3,498.1 1568.1,498.1 1568.9,498.0 1569.7,498.0 1570.5,497.9 1571.3,497.7 1572.1,497.4 1572.9,497.0 1573.7,496.3 1574.5,495.3 1575.3,493.8 1576.1,491.8 1576.9,489.1 1577.7,485.7 1578.5,481.1 1579.3,475.4 1580.1,469.0 1580.9,461.1 1581.7,451.5 1582.5,441.9 1583.3,433.4 1584.1,424.8 1584.9,416.7 1585.7,410.5 1586.5,405.7 1587.3,401.7 1588.1,401.7 1588.9,403.8 1589.7,413.4 1590.5,422.5 1591.3,431.4 1592.1,442.0 1592.9,454.0 1593.7,465.6 1594.5,474.6 1595.3,481.1 1596.1,486.5 1596.9,490.8 1597.7,493.8 1598.5,495.5 1599.3,496.6 1600.1,497.3 1600.9,497.7 1601.7,497.9 1602.5,498.0 1603.3,498.0 1604.1,498.1 1604.9,498.1 1605.7,498.1 1606.5,498.1 1607.3,498.1 1608.1,498.1 1608.9,498.1 1609.7,498.1 1610.5,498.1 1611.3,498.1 1612.1,498.1 1612.9,498.1 1613.7,498.1 1614.5,498.1 1615.3,498.1 1616.1,498.1 1616.9,498.1 1617.7,498.1 1618.5,498.1 1619.3,498.1 1620.1,498.1 1620.9,498.1 1621.7,498.1 1622.5,498.1 1623.3,498.1 1624.1,498.1 1624.9,498.1 1625.7,498.1 1626.5,498.1 1627.3,498.1 1628.1,498.1 1628.9,498.1 1629.7,498.1 1630.5,498.1 1631.3,498.1 1632.1,498.1 1632.9,498.1 1633.7,498.1 1634.5,498.1 1635.3,498.1 1636.1,498.1 1636.9,498.1 1637.7,498.1 1638.5,498.1 1639.3,498.1 1640.1,498.1 1640.9,498.1 1641.7,498.1 1642.5,498.1 1643.3,498.1 1644.1,498.1 1644.9,498.1 1645.7,498.1 1646.5,498.1 1647.3,498.1 1648.1,498.1 1648.9,498.1 1649.7,498.1 1650.5,498.1 1651.3,498.1 1652.1,498.1 1652.9,498.1 1653.7,498.1 1654.5,498.1 1655.3,498.1 1656.1,498.1 1656.9,498.1 1657.7,498.1 1658.5,498.1 1659.3,498.1 1660.1,498.1 1660.9,498.1 1661.7,498.1 1662.5,498.1 1663.3,498.1 1664.1,498.1 1664.9,498.1 1665.7,498.1 1666.5,498.1 1667.3,498.1 1668.1,498.1 1668.9,498.1 1669.7,498.1 1670.5,498.1 1671.3,498.1 1672.1,498.1 1672.5,498.1" fill="#e2e2e2"/>
<polyline points="1588.1,497.1 1588.9,496.6 1589.7,495.7 1590.5,494.6 1591.3,493.1 1592.1,491.2 1592.9,488.6 1593.7,485.1 1594.5,480.8 1595.3,475.1 1596.1,468.0 1596.9,460.6 1597.7,454.1 1598.5,447.6 1599.3,438.0 1600.1,426.7 1600.9,416.3 1601.7,409.1 1602.5,405.7 1603.3,400.7 1604.1,397.1 1604.9,397.1 1605.7,397.1 1606.5,399.8 1607.3,407.4 1608.1,413.9 1608.9,421.2 1609.7,430.2 1610.5,437.8 1611.3,447.0 1612.1,456.6 1612.9,463.0 1613.7,469.6 1614.5,476.6 1615.3,481.8 1616.1,486.0 1616.9,489.1 1617.7,491.7 1618.5,493.7 1619.3,495.0 1620.1,496.0 1620.9,496.7 1621.7,497.2" fill="none" stroke="#f00" stroke-width="1.4" stroke-linejoin="round"/>
<polygon points="1564.1,605.6 1564.1,605.6 1564.9,605.6 1565.7,605.6 1566.5,605.6 1567.3,605.6 1568.1,605.6 1568.9,605.6 1569.7,605.6 1570.5,605.6 1571.3,605.5 1572.1,605.5 1572.9,605.4 1573.7,605.2 1574.5,605.0 1575.3,604.6 1576.1,604.0 1576.9,603.2 1577.7,601.8 1578.5,600.0 1579.3,597.4 1580.1,594.2 1580.9,589.8 1581.7,584.2 1582.5,578.1 1583.3,571.1 1584.1,563.0 1584.9,553.5 1585.7,543.5 1586.5,534.5 1587.3,525.3 1588.1,516.3 1588.9,509.6 1589.7,507.0 1590.5,507.0 1591.3,507.6 1592.1,514.3 1592.9,524.1 1593.7,533.5 1594.5,545.4 1595.3,558.4 1596.1,568.5 1596.9,577.2 1597.7,585.6 1598.5,592.1 1599.3,596.7 1600.1,600.1 1600.9,602.2 1601.7,603.6 1602.5,604.5 1603.3,605.0 1604.1,605.3 1604.9,605.4 1605.7,605.5 1606.5,605.6 1607.3,605.6 1608.1,605.6 1608.9,605.6 1609.7,605.6 1610.5,605.6 1611.3,605.6 1612.1,605.6 1612.9,605.6 1613.7,605.6 1614.5,605.6 1615.3,605.6 1616.1,605.6 1616.9,605.6 1617.7,605.6 1618.5,605.6 1619.3,605.6 1620.1,605.6 1620.9,605.6 1621.7,605.6 1622.5,605.6 1623.3,605.6 1624.1,605.6 1624.9,605.6 1625.7,605.6 1626.5,605.6 1627.3,605.6 1628.1,605.6 1628.9,605.6 1629.7,605.6 1630.5,605.6 1631.3,605.6 1632.1,605.6 1632.9,605.6 1633.7,605.6 1634.5,605.6 1635.3,605.6 1636.1,605.6 1636.9,605.6 1637.7,605.6 1638.5,605.6 1639.3,605.6 1640.1,605.6 1640.9,605.6 1641.7,605.6 1642.5,605.6 1643.3,605.6 1644.1,605.6 1644.9,605.6 1645.7,605.6 1646.5,605.6 1647.3,605.6 1648.1,605.6 1648.9,605.6 1649.7,605.6 1650.5,605.6 1651.3,605.6 1652.1,605.6 1652.9,605.6 1653.7,605.6 1654.5,605.6 1655.3,605.6 1656.1,605.6 1656.9,605.6 1657.7,605.6 1658.5,605.6 1659.3,605.6 1660.1,605.6 1660.9,605.6 1661.7,605.6 1662.5,605.6 1663.3,605.6 1664.1,605.6 1664.9,605.6 1665.7,605.6 1666.5,605.6 1667.3,605.6 1668.1,605.6 1668.9,605.6 1669.7,605.6 1670.5,605.6 1671.3,605.6 1672.1,605.6 1672.5,605.6" fill="#e2e2e2"/>
<polyline points="1568.1,604.5 1568.9,603.9 1569.7,603.0 1570.5,601.9 1571.3,600.4 1572.1,598.6 1572.9,596.5 1573.7,594.0 1574.5,591.3 1575.3,587.8 1576.1,584.7 1576.9,581.8 1577.7,578.3 1578.5,574.6 1579.3,571.6 1580.1,569.9 1580.9,567.5 1581.7,563.7 1582.5,559.9 1583.3,555.5 1584.1,551.2 1584.9,545.7 1585.7,537.7 1586.5,529.2 1587.3,521.9 1588.1,513.5 1588.9,506.0 1589.7,506.0 1590.5,506.0 1591.3,506.0 1592.1,513.4 1592.9,525.2 1593.7,536.1 1594.5,547.7 1595.3,560.8 1596.1,571.9 1596.9,580.2 1597.7,587.3 1598.5,593.1 1599.3,597.3 1600.1,600.2 1600.9,602.3 1601.7,603.7 1602.5,604.5" fill="none" stroke="#f00" stroke-width="1.4" stroke-linejoin="round"/>
<line x1="1226.2" y1="390.0" x2="1673.0" y2="390.0" stroke="#666" stroke-width="1.5"/>
<line x1="1226.2" y1="498.6" x2="1673.0" y2="498.6" stroke="#a0a0a0" stroke-width="1.5"/>
<line x1="1226.2" y1="606.1" x2="1673.0" y2="606.1" stroke="#666" stroke-width="1.5"/>
<line x1="1226.2" y1="390.0" x2="1226.2" y2="606.1" stroke="#666" stroke-width="1.5"/>
<line x1="1338.7" y1="390.0" x2="1338.7" y2="606.1" stroke="#333" stroke-width="1.5"/>
<line x1="1451.5" y1="390.0" x2="1451.5" y2="606.1" stroke="#333" stroke-width="1.5"/>
<line x1="1563.6" y1="390.0" x2="1563.6" y2="606.1" stroke="#333" stroke-width="1.5"/>
<line x1="1673.0" y1="390.0" x2="1673.0" y2="606.1" stroke="#666" stroke-width="1.5"/>
<text transform="translate(1368.5,633.6) scale(1.0,1.045)" font-size="27.95" font-weight="normal" fill="#000">CD95 (MFI)</text>
<rect x="1195.0" y="746.3" width="174.7" height="176.1" fill="none" stroke="#000" stroke-width="2.2"/>
<polygon points="1303.5,750.4 1368.7,795.2 1271.6,918.3 1213.3,892.3" fill="none" stroke="#ff3cff" stroke-width="1.1"/>
<text x="1299.0" y="798.2" font-size="22.85" font-weight="bold" fill="#000">P2</text>
<rect x="1282.0" y="832.5" width="16.6" height="7.5" fill="#fff"/>
<text x="1283.0" y="838.5" font-size="7.5" fill="#222">70.8</text>
<line x1="1320.8" y1="850.7" x2="1398.5" y2="850.7" stroke="#000" stroke-width="2.6"/>
<polygon points="1412.5,850.7 1397.5,858.5 1397.5,842.9" fill="#000"/>
<text transform="translate(1183.4,898.6) rotate(-90)" font-size="20.90" font-weight="bold">SSC</text>
<text x="1198.3" y="942.8" font-size="21.67" font-weight="bold" fill="#000">FSC</text>
<text transform="translate(1396.2,923.3) rotate(-90)" font-size="21.07" font-weight="bold">CD14</text>
<path d="M1585.9,769.7 V747.3 H1409.9 V924 H1585.9 V908 M1585.9,819.6 V859.7" fill="none" stroke="#000" stroke-width="2.2"/>
<text x="1461.7" y="800.2" font-size="22.29" font-weight="bold" fill="#000">Monocytes</text>
<text x="1558.8" y="889.9" font-size="22.43" font-weight="bold" fill="#000">Neutrophils</text>
<path d="M1462.2,819.6 V860.3 H1520.2 V819.6" fill="none" stroke="#ff3cff" stroke-width="1.1"/>
<rect x="1482.9" y="869.8" width="52.1" height="50.9" fill="none" stroke="#ff3cff" stroke-width="1.1"/>
<path d="M1421,921.3 L1467.3,921.3 L1479.5,911 L1479,880 L1466,876.5 L1440,876.5 L1418,885 L1415.4,894 Z" fill="none" stroke="#ff3cff" stroke-width="1.1"/>
<text x="1406.6" y="946.8" font-size="22.17" font-weight="bold" fill="#000">SIGLEC5</text>
<text x="1413.3" y="861.3" font-size="7.5" fill="#222">1.65</text>
<text x="1535.4" y="922.3" font-size="7.5" fill="#222">90.6</text>
<text x="1721.5" y="741.2" font-size="22.33" font-weight="bold" fill="#000">Monocytes</text>
<text x="1845.0" y="741.2" font-size="22.21" font-weight="bold" fill="#000">Neutrophils</text>
<text transform="translate(1710.6,825.2) rotate(-90)" font-size="21.54" font-weight="bold">DX2</text>
<text transform="translate(1710.6,938.1) rotate(-90)" font-size="23.15" font-weight="bold">N18</text>
<polygon points="1730.9,864.7 1730.9,864.7 1731.7,864.7 1732.5,864.7 1733.3,864.7 1734.1,864.7 1734.9,864.7 1735.7,864.7 1736.5,864.7 1737.3,864.6 1738.1,864.5 1738.9,864.4 1739.7,864.1 1740.5,863.7 1741.3,863.0 1742.1,861.9 1742.9,860.2 1743.7,858.1 1744.5,855.0 1745.3,850.1 1746.1,844.3 1746.9,837.4 1747.7,828.6 1748.5,819.3 1749.3,809.0 1750.1,795.8 1750.9,784.4 1751.7,778.1 1752.5,772.9 1753.3,767.9 1754.1,763.2 1754.9,762.7 1755.7,771.3 1756.5,783.3 1757.3,795.8 1758.1,809.4 1758.9,822.9 1759.7,835.0 1760.5,844.6 1761.3,851.7 1762.1,856.7 1762.9,860.0 1763.7,862.1 1764.5,863.4 1765.3,864.0 1766.1,864.4 1766.9,864.6 1767.7,864.6 1768.5,864.7 1769.3,864.7 1770.1,864.7 1770.9,864.7 1771.7,864.7 1772.5,864.7 1773.3,864.7 1774.1,864.7 1774.9,864.7 1775.7,864.7 1776.5,864.7 1777.3,864.7 1778.1,864.7 1778.9,864.7 1779.7,864.7 1780.5,864.7 1781.3,864.7 1782.1,864.7 1782.9,864.7 1783.7,864.7 1784.5,864.7 1785.3,864.7 1786.1,864.7 1786.9,864.7 1787.7,864.7 1788.5,864.7 1789.3,864.7 1790.1,864.7 1790.9,864.7 1791.7,864.7 1792.5,864.7 1793.3,864.7 1794.1,864.7 1794.9,864.7 1795.7,864.7 1796.5,864.7 1797.3,864.7 1798.1,864.7 1798.9,864.7 1799.7,864.7 1800.5,864.7 1801.3,864.7 1802.1,864.7 1802.9,864.7 1803.7,864.7 1804.5,864.7 1805.3,864.7 1806.1,864.7 1806.9,864.7 1807.7,864.7 1808.5,864.7 1809.3,864.7 1810.1,864.7 1810.9,864.7 1811.7,864.7 1812.5,864.7 1813.3,864.7 1814.1,864.7 1814.9,864.7 1815.7,864.7 1816.5,864.7 1817.3,864.7 1818.1,864.7 1818.9,864.7 1819.7,864.7 1820.5,864.7 1821.3,864.7 1822.1,864.7 1822.9,864.7 1823.7,864.7 1824.5,864.7 1825.3,864.7 1826.1,864.7 1826.9,864.7 1827.7,864.7 1828.5,864.7 1829.3,864.7 1830.1,864.7 1830.9,864.7 1831.7,864.7 1832.5,864.7 1833.3,864.7 1834.1,864.7 1834.9,864.7 1835.7,864.7 1836.5,864.7 1837.3,864.7 1838.1,864.7 1838.9,864.7 1839.7,864.7 1840.5,864.7 1841.3,864.7 1842.1,864.7 1842.9,864.7 1843.2,864.7" fill="#e2e2e2"/>
<polyline points="1765.3,863.9 1766.1,863.2 1766.9,861.9 1767.7,859.7 1768.5,856.0 1769.3,850.1 1770.1,842.3 1770.9,832.7 1771.7,819.7 1772.5,804.3 1773.3,790.9 1774.1,782.1 1774.9,773.7 1775.7,764.1 1776.5,761.0 1777.3,766.3 1778.1,785.5 1778.9,806.5 1779.7,823.9 1780.5,838.5 1781.3,849.1 1782.1,855.5 1782.9,858.9 1783.7,860.4 1784.5,861.2 1785.3,861.5 1786.1,861.6 1786.9,861.7 1787.7,862.0 1788.5,862.2 1789.3,862.5 1790.1,862.9 1790.9,863.2 1791.7,863.4 1792.5,863.7" fill="none" stroke="#f00" stroke-width="1.4" stroke-linejoin="round"/>
<polygon points="1847.6,864.7 1847.6,864.7 1848.4,864.7 1849.2,864.7 1850.0,864.7 1850.8,864.7 1851.6,864.7 1852.4,864.7 1853.2,864.7 1854.0,864.7 1854.8,864.7 1855.6,864.7 1856.4,864.7 1857.2,864.6 1858.0,864.6 1858.8,864.4 1859.6,864.2 1860.4,863.7 1861.2,863.0 1862.0,861.6 1862.8,859.5 1863.6,856.4 1864.4,851.9 1865.2,845.9 1866.0,837.9 1866.8,827.7 1867.6,816.1 1868.4,805.2 1869.2,795.1 1870.0,784.2 1870.8,775.1 1871.6,768.5 1872.4,764.3 1873.2,765.0 1874.0,773.0 1874.8,786.0 1875.6,802.5 1876.4,819.9 1877.2,834.3 1878.0,844.9 1878.8,852.7 1879.6,858.0 1880.4,861.2 1881.2,863.0 1882.0,864.0 1882.8,864.4 1883.6,864.6 1884.4,864.7 1885.2,864.7 1886.0,864.7 1886.8,864.7 1887.6,864.7 1888.4,864.7 1889.2,864.7 1890.0,864.7 1890.8,864.7 1891.6,864.7 1892.4,864.7 1893.2,864.7 1894.0,864.7 1894.8,864.7 1895.6,864.7 1896.4,864.7 1897.2,864.7 1898.0,864.7 1898.8,864.7 1899.6,864.7 1900.4,864.7 1901.2,864.7 1902.0,864.7 1902.8,864.7 1903.6,864.7 1904.4,864.7 1905.2,864.7 1906.0,864.7 1906.8,864.7 1907.6,864.7 1908.4,864.7 1909.2,864.7 1910.0,864.7 1910.8,864.7 1911.6,864.7 1912.4,864.7 1913.2,864.7 1914.0,864.7 1914.8,864.7 1915.6,864.7 1916.4,864.7 1917.2,864.7 1918.0,864.7 1918.8,864.7 1919.6,864.7 1920.4,864.7 1921.2,864.7 1922.0,864.7 1922.8,864.7 1923.6,864.7 1924.4,864.7 1925.2,864.7 1926.0,864.7 1926.8,864.7 1927.6,864.7 1928.4,864.7 1929.2,864.7 1930.0,864.7 1930.8,864.7 1931.6,864.7 1932.4,864.7 1933.2,864.7 1934.0,864.7 1934.8,864.7 1935.6,864.7 1936.4,864.7 1937.2,864.7 1938.0,864.7 1938.8,864.7 1939.6,864.7 1940.4,864.7 1941.2,864.7 1942.0,864.7 1942.8,864.7 1943.6,864.7 1944.4,864.7 1945.2,864.7 1946.0,864.7 1946.8,864.7 1947.6,864.7 1948.4,864.7 1949.2,864.7 1950.0,864.7 1950.8,864.7 1951.6,864.7 1952.4,864.7 1953.2,864.7 1954.0,864.7 1954.8,864.7 1955.6,864.7 1956.4,864.7 1957.2,864.7 1958.0,864.7 1958.8,864.7 1959.6,864.7 1960.4,864.7 1961.2,864.7 1962.0,864.7 1962.8,864.7 1963.3,864.7" fill="#e2e2e2"/>
<polyline points="1882.8,863.5 1883.6,862.2 1884.4,859.8 1885.2,855.4 1886.0,848.7 1886.8,838.9 1887.6,826.3 1888.4,811.9 1889.2,794.6 1890.0,775.7 1890.8,764.9 1891.6,764.5 1892.4,768.5 1893.2,775.4 1894.0,785.7 1894.8,800.5 1895.6,817.2 1896.4,832.4 1897.2,844.6 1898.0,853.1 1898.8,858.2 1899.6,861.2 1900.4,863.0 1901.2,864.0" fill="none" stroke="#f00" stroke-width="1.4" stroke-linejoin="round"/>
<polygon points="1730.9,975.7 1730.9,975.7 1731.7,975.7 1732.5,975.7 1733.3,975.7 1734.1,975.7 1734.9,975.7 1735.7,975.7 1736.5,975.7 1737.3,975.7 1738.1,975.7 1738.9,975.7 1739.7,975.7 1740.5,975.7 1741.3,974.6 1742.1,971.8 1742.9,969.1 1743.7,966.4 1744.5,963.5 1745.3,961.5 1746.1,958.7 1746.9,955.5 1747.7,952.5 1748.5,947.8 1749.3,943.8 1750.1,941.7 1750.9,937.0 1751.7,932.1 1752.5,926.8 1753.3,922.5 1754.1,917.9 1754.9,909.9 1755.7,902.8 1756.5,895.0 1757.3,885.5 1758.1,880.6 1758.9,879.8 1759.7,876.1 1760.5,874.8 1761.3,875.6 1762.1,881.0 1762.9,881.2 1763.7,884.4 1764.5,889.9 1765.3,896.4 1766.1,904.9 1766.9,911.4 1767.7,915.8 1768.5,922.6 1769.3,932.0 1770.1,936.3 1770.9,935.8 1771.7,939.6 1772.5,941.9 1773.3,943.2 1774.1,946.4 1774.9,950.5 1775.7,952.3 1776.5,951.8 1777.3,950.7 1778.1,950.1 1778.9,950.6 1779.7,950.4 1780.5,949.4 1781.3,949.8 1782.1,951.0 1782.9,951.8 1783.7,952.7 1784.5,953.8 1785.3,954.8 1786.1,954.3 1786.9,953.6 1787.7,954.3 1788.5,954.0 1789.3,953.4 1790.1,953.7 1790.9,953.9 1791.7,954.5 1792.5,955.3 1793.3,956.5 1794.1,957.4 1794.9,957.0 1795.7,958.0 1796.5,959.7 1797.3,958.9 1798.1,958.0 1798.9,959.1 1799.7,960.3 1800.5,961.4 1801.3,962.8 1802.1,964.5 1802.9,965.6 1803.7,966.0 1804.5,966.9 1805.3,968.4 1806.1,969.8 1806.9,971.0 1807.7,972.4 1808.5,973.3 1809.3,973.7 1810.1,974.2 1810.9,974.9 1811.7,975.5 1812.5,975.7 1813.3,975.7 1814.1,975.7 1814.9,975.7 1815.7,975.7 1816.5,975.7 1817.3,975.7 1818.1,975.7 1818.9,975.7 1819.7,975.7 1820.5,975.7 1821.3,975.7 1822.1,975.7 1822.9,975.7 1823.7,975.7 1824.5,975.7 1825.3,975.7 1826.1,975.7 1826.9,975.7 1827.7,975.7 1828.5,975.7 1829.3,975.7 1830.1,975.7 1830.9,975.7 1831.7,975.7 1832.5,975.7 1833.3,975.7 1834.1,975.7 1834.9,975.7 1835.7,975.7 1836.5,975.7 1837.3,975.7 1838.1,975.7 1838.9,975.7 1839.7,975.7 1840.5,975.7 1841.3,975.7 1842.1,975.7 1842.9,975.7 1843.2,975.7" fill="#e2e2e2"/>
<polyline points="1744.5,974.9 1745.3,973.6 1746.1,972.3 1746.9,970.9 1747.7,969.6 1748.5,968.3 1749.3,967.0 1750.1,965.3 1750.9,958.6 1751.7,950.5 1752.5,942.6 1753.3,936.8 1754.1,932.5 1754.9,927.6 1755.7,920.4 1756.5,914.6 1757.3,910.4 1758.1,903.1 1758.9,896.8 1759.7,893.9 1760.5,890.0 1761.3,884.6 1762.1,880.9 1762.9,881.0 1763.7,878.7 1764.5,878.7 1765.3,882.2 1766.1,882.0 1766.9,880.9 1767.7,881.8 1768.5,883.0 1769.3,880.0 1770.1,879.6 1770.9,885.3 1771.7,885.8 1772.5,884.2 1773.3,887.2 1774.1,884.9 1774.9,879.4 1775.7,882.3 1776.5,883.6 1777.3,880.3 1778.1,882.8 1778.9,885.4 1779.7,886.0 1780.5,888.5 1781.3,888.9 1782.1,890.5 1782.9,897.0 1783.7,898.8 1784.5,897.2 1785.3,898.7 1786.1,899.5 1786.9,898.4 1787.7,898.7 1788.5,902.3 1789.3,904.6 1790.1,904.5 1790.9,905.1 1791.7,906.1 1792.5,909.7 1793.3,910.6 1794.1,907.6 1794.9,908.5 1795.7,911.8 1796.5,915.3 1797.3,917.0 1798.1,917.7 1798.9,920.3 1799.7,923.6 1800.5,926.9 1801.3,929.9 1802.1,931.1 1802.9,932.5 1803.7,936.9 1804.5,941.5 1805.3,943.2 1806.1,945.0 1806.9,947.5 1807.7,949.7 1808.5,952.8 1809.3,956.2 1810.1,959.2 1810.9,961.7 1811.7,964.3 1812.5,966.7 1813.3,969.0 1814.1,971.2 1814.9,973.4 1815.7,973.8 1816.5,973.8 1817.3,973.8 1818.1,973.8 1818.9,973.8 1819.7,973.7 1820.5,973.7 1821.3,973.7 1822.1,973.8 1822.9,974.0 1823.7,973.9 1824.5,973.7 1825.3,973.6 1826.1,973.4 1826.9,973.1 1827.7,972.8 1828.5,972.5 1829.3,972.3 1830.1,972.1 1830.9,972.1 1831.7,971.9 1832.5,971.6 1833.3,971.2 1834.1,971.2 1834.9,971.0 1835.7,970.5 1836.5,969.9 1837.3,969.5 1838.1,969.1 1838.9,968.2 1839.7,967.4 1840.5,966.9 1841.3,966.5 1842.1,966.2 1842.9,966.0" fill="none" stroke="#f00" stroke-width="1.4" stroke-linejoin="round"/>
<polygon points="1847.6,975.7 1847.6,975.7 1848.4,975.7 1849.2,975.7 1850.0,975.7 1850.8,975.7 1851.6,975.7 1852.4,975.7 1853.2,975.7 1854.0,975.7 1854.8,975.7 1855.6,975.7 1856.4,975.7 1857.2,975.7 1858.0,975.7 1858.8,975.7 1859.6,975.7 1860.4,975.7 1861.2,975.7 1862.0,975.7 1862.8,975.7 1863.6,975.7 1864.4,975.7 1865.2,975.6 1866.0,975.6 1866.8,975.4 1867.6,975.1 1868.4,974.6 1869.2,973.8 1870.0,972.5 1870.8,970.5 1871.6,967.6 1872.4,962.9 1873.2,956.6 1874.0,949.1 1874.8,939.3 1875.6,926.9 1876.4,914.3 1877.2,903.4 1878.0,892.5 1878.8,882.6 1879.6,876.8 1880.4,874.0 1881.2,874.0 1882.0,878.0 1882.8,886.5 1883.6,898.3 1884.4,910.1 1885.2,922.7 1886.0,935.7 1886.8,946.4 1887.6,954.7 1888.4,961.2 1889.2,966.0 1890.0,969.6 1890.8,972.1 1891.6,973.6 1892.4,974.5 1893.2,975.1 1894.0,975.4 1894.8,975.5 1895.6,975.6 1896.4,975.7 1897.2,975.7 1898.0,975.7 1898.8,975.7 1899.6,975.7 1900.4,975.7 1901.2,975.7 1902.0,975.7 1902.8,975.7 1903.6,975.7 1904.4,975.7 1905.2,975.7 1906.0,975.7 1906.8,975.7 1907.6,975.7 1908.4,975.7 1909.2,975.7 1910.0,975.7 1910.8,975.7 1911.6,975.7 1912.4,975.7 1913.2,975.7 1914.0,975.7 1914.8,975.7 1915.6,975.7 1916.4,975.7 1917.2,975.7 1918.0,975.7 1918.8,975.7 1919.6,975.7 1920.4,975.7 1921.2,975.7 1922.0,975.7 1922.8,975.7 1923.6,975.7 1924.4,975.7 1925.2,975.7 1926.0,975.7 1926.8,975.7 1927.6,975.7 1928.4,975.7 1929.2,975.7 1930.0,975.7 1930.8,975.7 1931.6,975.7 1932.4,975.7 1933.2,975.7 1934.0,975.7 1934.8,975.7 1935.6,975.7 1936.4,975.7 1937.2,975.7 1938.0,975.7 1938.8,975.7 1939.6,975.7 1940.4,975.7 1941.2,975.7 1942.0,975.7 1942.8,975.7 1943.6,975.7 1944.4,975.7 1945.2,975.7 1946.0,975.7 1946.8,975.7 1947.6,975.7 1948.4,975.7 1949.2,975.7 1950.0,975.7 1950.8,975.7 1951.6,975.7 1952.4,975.7 1953.2,975.7 1954.0,975.7 1954.8,975.7 1955.6,975.7 1956.4,975.7 1957.2,975.7 1958.0,975.7 1958.8,975.7 1959.6,975.7 1960.4,975.7 1961.2,975.7 1962.0,975.7 1962.8,975.7 1963.3,975.7" fill="#e2e2e2"/>
<polyline points="1866.8,974.7 1867.6,974.0 1868.4,972.8 1869.2,971.1 1870.0,968.8 1870.8,965.5 1871.6,961.0 1872.4,955.2 1873.2,948.4 1874.0,939.7 1874.8,929.5 1875.6,919.0 1876.4,907.7 1877.2,895.4 1878.0,883.9 1878.8,878.1 1879.6,876.6 1880.4,872.8 1881.2,872.8 1882.0,874.0 1882.8,882.2 1883.6,893.7 1884.4,906.1 1885.2,918.3 1886.0,928.3 1886.8,937.2 1887.6,945.9 1888.4,953.1 1889.2,958.7 1890.0,962.9 1890.8,966.4 1891.6,969.0 1892.4,970.5 1893.2,971.5 1894.0,972.2 1894.8,972.5 1895.6,972.7 1896.4,972.8 1897.2,972.8 1898.0,972.7 1898.8,972.5 1899.6,972.5 1900.4,972.5 1901.2,972.5 1902.0,972.6 1902.8,972.8 1903.6,972.9 1904.4,973.0 1905.2,973.0 1906.0,973.0 1906.8,973.2 1907.6,973.3 1908.4,973.5 1909.2,973.6 1910.0,973.7 1910.8,973.9 1911.6,974.1 1912.4,974.3 1913.2,974.4 1914.0,974.5" fill="none" stroke="#f00" stroke-width="1.4" stroke-linejoin="round"/>
<line x1="1730.4" y1="754.5" x2="1843.7" y2="754.5" stroke="#666" stroke-width="1.5"/>
<line x1="1730.4" y1="865.2" x2="1843.7" y2="865.2" stroke="#a0a0a0" stroke-width="1.5"/>
<line x1="1730.4" y1="976.2" x2="1843.7" y2="976.2" stroke="#666" stroke-width="1.5"/>
<line x1="1730.4" y1="754.5" x2="1730.4" y2="976.2" stroke="#666" stroke-width="1.5"/>
<line x1="1843.7" y1="754.5" x2="1843.7" y2="976.2" stroke="#666" stroke-width="1.5"/>
<line x1="1847.1" y1="754.5" x2="1963.8" y2="754.5" stroke="#666" stroke-width="1.5"/>
<line x1="1847.1" y1="865.2" x2="1963.8" y2="865.2" stroke="#a0a0a0" stroke-width="1.5"/>
<line x1="1847.1" y1="976.2" x2="1963.8" y2="976.2" stroke="#666" stroke-width="1.5"/>
<line x1="1847.1" y1="754.5" x2="1847.1" y2="976.2" stroke="#666" stroke-width="1.5"/>
<line x1="1963.8" y1="754.5" x2="1963.8" y2="976.2" stroke="#666" stroke-width="1.5"/>
<text transform="translate(1773.5,1008.6) scale(1.0,1.045)" font-size="27.95" font-weight="normal" fill="#000">CD95 (MFI)</text>
</svg></body></html>
